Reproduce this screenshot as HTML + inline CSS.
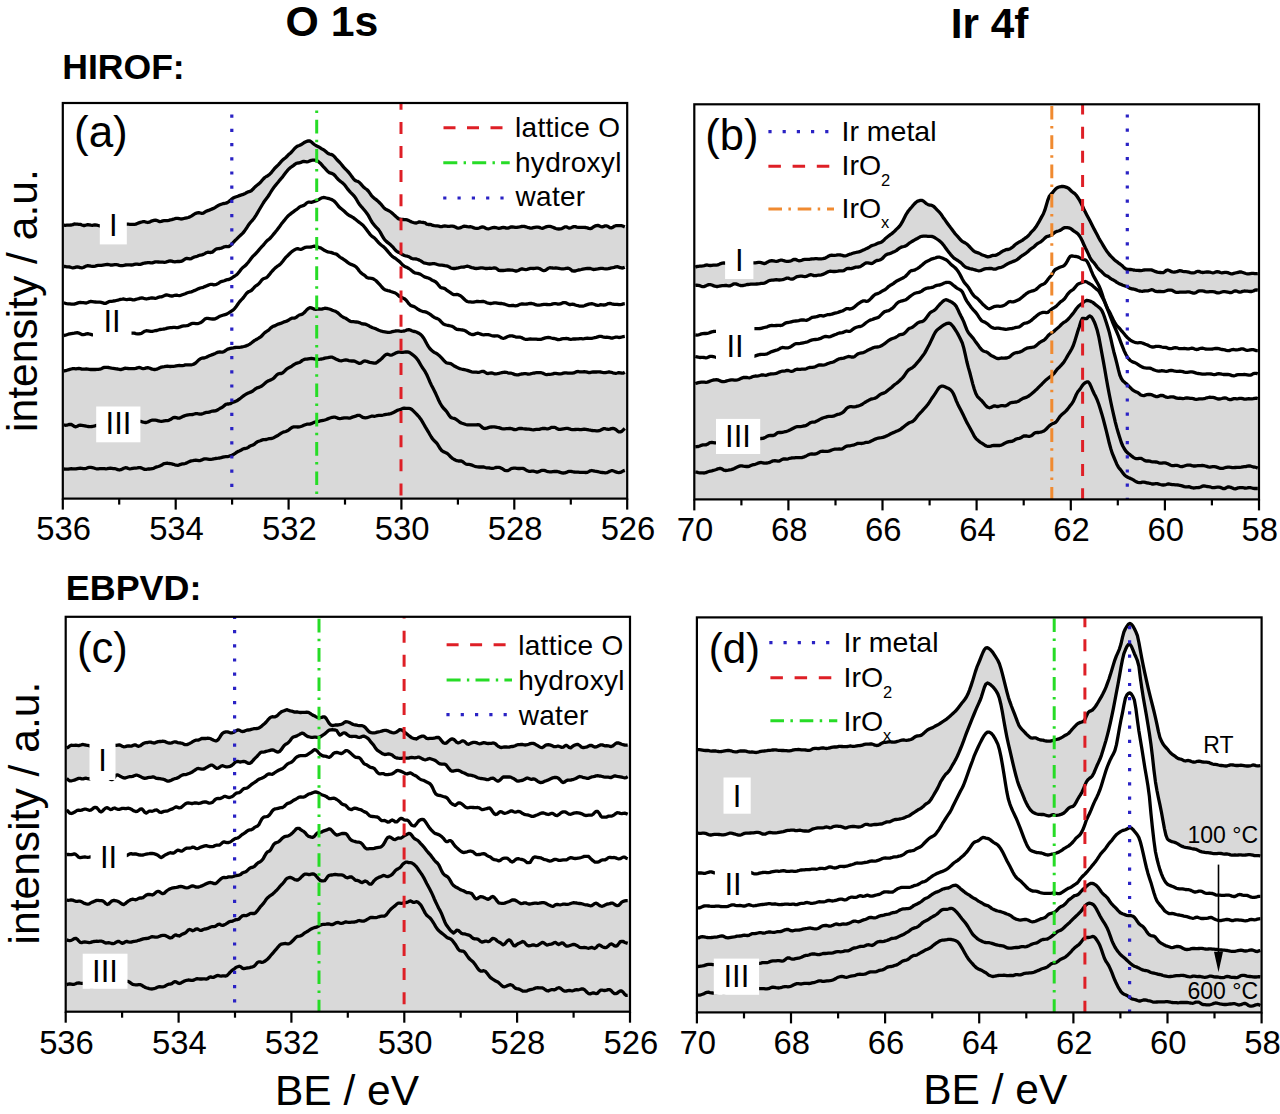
<!DOCTYPE html>
<html><head><meta charset="utf-8"><title>XPS spectra</title>
<style>html,body{margin:0;padding:0;background:#fff;overflow:hidden}svg{display:block}
text{font-family:"Liberation Sans",sans-serif}</style></head>
<body>
<svg width="1280" height="1114" viewBox="0 0 1280 1114">
<rect width="1280" height="1114" fill="#fff"/>
<g font-family="Liberation Sans, sans-serif" fill="#000">
<clipPath id="clipa"><rect x="62.8" y="103" width="564.4" height="395.6"/></clipPath>
<g clip-path="url(#clipa)">
<path d="M60.8,225.1 L63.8,225.1 65.3,225.3 66.8,225.2 68.3,225.1 69.8,225.2 71.3,225 72.8,224.6 74.3,224 75.8,224.1 77.3,224.2 78.8,224.3 80.3,224.3 81.8,225 83.3,225.5 84.8,225.5 86.3,225 87.8,224.6 89.3,224.8 90.8,225.2 92.3,225.3 93.8,225 95.3,224.9 96.8,225.1 98.3,225.5 99.8,225.9 101.3,226.1 102.8,226.2 104.3,226.2 105.8,225.9 107.3,225.7 108.8,225.5 110.3,225.2 111.8,225.1 113.3,225.2 114.8,225.3 116.3,225.1 117.8,225.1 119.3,225.2 120.8,225.4 122.3,225.5 123.8,225.1 125.3,224.4 126.8,224.1 128.3,224.2 129.8,224.3 131.3,224.3 132.8,224.4 134.3,224.4 135.8,224.1 137.3,223.5 138.8,222.9 140.3,222.4 141.8,222 143.3,221.6 144.8,221.7 146.3,222.2 147.8,222.5 149.3,222.2 150.8,221.4 152.3,220.8 153.8,220.4 155.3,220.2 156.8,220.4 158.3,221.1 159.8,221.6 161.3,221.4 162.8,220.9 164.3,220.6 165.8,220.6 167.3,220.6 168.8,220.3 170.3,219.9 171.8,219.6 173.3,219.2 174.8,218.7 176.3,218.4 177.8,218.4 179.3,218.7 180.8,219 182.3,218.9 183.8,218.5 185.3,218.1 186.8,217.8 188.3,217.5 189.8,216.9 191.3,216.1 192.8,215.1 194.3,214.1 195.8,213.3 197.3,212.9 198.8,212.6 200.3,213 201.8,213.4 203.3,213.2 204.8,212.2 206.3,211.2 207.8,210.6 209.3,210.1 210.8,209.5 212.3,208.9 213.8,208.3 215.3,207.4 216.8,206.4 218.3,205.5 219.8,204.8 221.3,204.2 222.8,203.7 224.3,203.5 225.8,203.2 227.3,202.6 228.8,201.6 230.3,200.4 231.8,199 233.3,197.9 234.8,197.2 236.3,196.7 237.8,196.2 239.3,195.6 240.8,195.1 242.3,194.7 243.8,194.1 245.3,193.4 246.8,192.5 248.3,191.8 249.8,191.4 251.3,190.7 252.8,189.3 254.3,187.6 255.8,186.2 257.3,185 258.8,183.9 260.3,182.5 261.8,180.7 263.3,179 264.8,177.5 266.3,176.5 267.8,175.7 269.3,174.7 270.8,173.2 272.3,171.3 273.8,169.4 275.3,167.7 276.8,166.3 278.3,164.9 279.8,163.2 281.3,161.4 282.8,159.8 284.3,158.7 285.8,157.5 287.3,156 288.8,154.4 290.3,153.2 291.8,151.8 293.3,150 294.8,148.2 296.3,146.9 297.8,146 299.3,145.5 300.8,144.8 302.3,143.8 303.8,142.8 305.3,142 306.8,141.4 308.3,140.9 309.8,141 311.3,141.9 312.8,143.3 314.3,144.5 315.8,145.5 317.3,146.2 318.8,146.9 320.3,147.8 321.8,148.8 323.3,149.7 324.8,150.7 326.3,151.9 327.8,153.2 329.3,154 330.8,154.4 332.3,154.9 333.8,156 335.3,157.7 336.8,159.5 338.3,161 339.8,162.5 341.3,164.3 342.8,166.1 344.3,167.8 345.8,169.4 347.3,170.9 348.8,172.5 350.3,174.4 351.8,176.6 353.3,178.6 354.8,180.2 356.3,181 357.8,181.4 359.3,182.3 360.8,183.9 362.3,185.7 363.8,187.3 365.3,188.5 366.8,189.5 368.3,191 369.8,193.1 371.3,195.3 372.8,197 374.3,198.3 375.8,199.4 377.3,200.6 378.8,202 380.3,203.5 381.8,205.2 383.3,207.1 384.8,208.6 386.3,209.6 387.8,210.3 389.3,211 390.8,212 392.3,213.2 393.8,214.6 395.3,216 396.8,217.4 398.3,218.6 399.8,219.2 401.3,219.4 402.8,219.5 404.3,219.7 405.8,219.7 407.3,219.9 408.8,220.6 410.3,221.4 411.8,222 413.3,222.5 414.8,222.9 416.3,223 417.8,222.5 419.3,221.8 420.8,222.1 422.3,222.3 423.8,222.5 425.3,222.9 426.8,224.2 428.3,224.5 429.8,224.4 431.3,224.7 432.8,225.4 434.3,225.7 435.8,225.8 437.3,225.9 438.8,226.2 440.3,226.6 441.8,226.6 443.3,226.2 444.8,226 446.3,226.1 447.8,226.3 449.3,226.3 450.8,226.1 452.3,226.1 453.8,226.4 455.3,227 456.8,227.8 458.3,228.2 459.8,227.9 461.3,227.4 462.8,226.6 464.3,226.2 465.8,226.3 467.3,226.7 468.8,226.8 470.3,226.7 471.8,227 473.3,227.6 474.8,228.1 476.3,228.3 477.8,228.3 479.3,228 480.8,227.3 482.3,226.9 483.8,227.1 485.3,228 486.8,228.7 488.3,228.8 489.8,228.5 491.3,228 492.8,227.6 494.3,227.4 495.8,227.6 497.3,228 498.8,228.4 500.3,228.2 501.8,227.6 503.3,227.3 504.8,227.6 506.3,228.1 507.8,228.1 509.3,227.6 510.8,227 512.3,226.8 513.8,227.1 515.3,227.4 516.8,227.3 518.3,227.1 519.8,226.9 521.3,226.5 522.8,226.3 524.3,226.4 525.8,226.8 527.3,227.3 528.8,227.7 530.3,228.1 531.8,228.1 533.3,227.7 534.8,227.3 536.3,227.1 537.8,227.1 539.3,227.4 540.8,228 542.3,228.3 543.8,227.9 545.3,227.1 546.8,226.6 548.3,226.4 549.8,226.4 551.3,226.7 552.8,227.3 554.3,227.9 555.8,228.5 557.3,228.9 558.8,229 560.3,228.9 561.8,228.6 563.3,227.8 564.8,226.9 566.3,226.8 567.8,227.5 569.3,228.1 570.8,227.9 572.3,227.1 573.8,226.6 575.3,226.7 576.8,227.1 578.3,227.3 579.8,227.4 581.3,227.4 582.8,227.3 584.3,227.3 585.8,227.5 587.3,227.9 588.8,228.4 590.3,228.6 591.8,228.1 593.3,227 594.8,226.1 596.3,225.6 597.8,225.4 599.3,225.9 600.8,226.6 602.3,226.9 603.8,226.4 605.3,225.8 606.8,225.9 608.3,226.6 609.8,227.6 611.3,227.9 612.8,227.3 614.3,226.2 615.8,225.7 617.3,225.6 618.8,225.6 620.3,225.6 621.8,225.7 623.3,226.3 624.8,227 L627.8,227 L627.8,500.6 L60.8,500.6 Z" fill="#d9d9d9"/>
<path d="M60.8,266.5 L63.8,266.5 65.3,266.5 66.8,266.8 68.3,266.9 69.8,267 71.3,267.5 72.8,267.9 74.3,267.7 75.8,267.1 77.3,266.8 78.8,267.1 80.3,267.7 81.8,267.9 83.3,267.5 84.8,266.7 86.3,266 87.8,265.7 89.3,265.8 90.8,266.2 92.3,266.4 93.8,266.4 95.3,266.1 96.8,265.7 98.3,265.4 99.8,265.3 101.3,265.3 102.8,265.1 104.3,264.9 105.8,264.7 107.3,264.5 108.8,264.7 110.3,265 111.8,265.2 113.3,264.9 114.8,264.7 116.3,264.7 117.8,264.9 119.3,265.3 120.8,265.6 122.3,265.6 123.8,265.4 125.3,265 126.8,264.8 128.3,264.8 129.8,264.9 131.3,265 132.8,264.8 134.3,264.4 135.8,264.1 137.3,264.2 138.8,264.4 140.3,264.3 141.8,263.9 143.3,263.3 144.8,263 146.3,262.8 147.8,262.6 149.3,262.6 150.8,262.9 152.3,262.9 153.8,262.4 155.3,261.9 156.8,261.8 158.3,262 159.8,262.2 161.3,262.2 162.8,262.2 164.3,262.3 165.8,262.1 167.3,261.7 168.8,261.1 170.3,260.8 171.8,261.1 173.3,261.7 174.8,261.9 176.3,261.7 177.8,261.5 179.3,261.5 180.8,261.4 182.3,260.9 183.8,259.8 185.3,258.8 186.8,258.3 188.3,258.6 189.8,258.9 191.3,258.6 192.8,257.7 194.3,257 195.8,256.7 197.3,256.2 198.8,255.5 200.3,255.1 201.8,254.8 203.3,254.4 204.8,253.6 206.3,252.7 207.8,252.2 209.3,252.3 210.8,252.5 212.3,252.1 213.8,250.9 215.3,249.6 216.8,248.8 218.3,248.6 219.8,248.5 221.3,248.1 222.8,247.5 224.3,246.8 225.8,246.5 227.3,246.6 228.8,246.5 230.3,245.6 231.8,244.1 233.3,242.4 234.8,240.8 236.3,239.4 237.8,237.9 239.3,236.4 240.8,235 242.3,233.6 243.8,232 245.3,229.9 246.8,227.7 248.3,225.3 249.8,223.3 251.3,221.5 252.8,219.8 254.3,217.9 255.8,215.6 257.3,213.1 258.8,210.5 260.3,208 261.8,205.5 263.3,203 264.8,200.7 266.3,198.7 267.8,196.7 269.3,194.5 270.8,192 272.3,189.6 273.8,187.5 275.3,185.6 276.8,183.8 278.3,182 279.8,180.1 281.3,178.3 282.8,176.6 284.3,174.6 285.8,172.6 287.3,170.7 288.8,169 290.3,167.7 291.8,166.7 293.3,165.6 294.8,164.4 296.3,163.4 297.8,163 299.3,162.8 300.8,162.4 302.3,161.7 303.8,161.4 305.3,161.6 306.8,161.8 308.3,161.6 309.8,160.9 311.3,160.4 312.8,160.2 314.3,160.2 315.8,160.4 317.3,161 318.8,161.9 320.3,163.2 321.8,164.9 323.3,166.6 324.8,168.2 326.3,169.8 327.8,171.5 329.3,172.6 330.8,173.1 332.3,173.6 333.8,174.5 335.3,176 336.8,177.9 338.3,179.5 339.8,180.9 341.3,182 342.8,183.1 344.3,184.6 345.8,186.5 347.3,188.6 348.8,190.4 350.3,192.1 351.8,193.6 353.3,195.2 354.8,196.9 356.3,199.2 357.8,201.8 359.3,204.2 360.8,206.1 362.3,207.7 363.8,209.5 365.3,211.3 366.8,213.2 368.3,215.4 369.8,218.2 371.3,221 372.8,223.3 374.3,225.1 375.8,226.8 377.3,228.4 378.8,230 380.3,232.4 381.8,235.1 383.3,237.8 384.8,239.9 386.3,241.4 387.8,242.6 389.3,243.8 390.8,245.1 392.3,246.5 393.8,248.2 395.3,250 396.8,251.4 398.3,252.2 399.8,252.8 401.3,253.8 402.8,254.8 404.3,255.5 405.8,255.9 407.3,256.2 408.8,256.7 410.3,257.6 411.8,258.5 413.3,258.8 414.8,258.8 416.3,259 417.8,259.5 419.3,260.1 420.8,260.9 422.3,261.9 423.8,262.8 425.3,263.2 426.8,263.5 428.3,263.8 429.8,264 431.3,263.9 432.8,263.7 434.3,263.7 435.8,264 437.3,264.5 438.8,264.9 440.3,265.1 441.8,265.1 443.3,265.3 444.8,265.7 446.3,265.9 447.8,266.2 449.3,266.9 450.8,268 452.3,268.3 453.8,268.5 455.3,268.5 456.8,268.1 458.3,267.9 459.8,267.5 461.3,267.2 462.8,267.1 464.3,267 465.8,266.5 467.3,266.2 468.8,266.5 470.3,267.1 471.8,267.6 473.3,267.9 474.8,268.3 476.3,268.5 477.8,268.4 479.3,268.1 480.8,267.8 482.3,267.8 483.8,268.1 485.3,268.5 486.8,268.5 488.3,268.3 489.8,268.2 491.3,268.3 492.8,268.2 494.3,267.9 495.8,268.2 497.3,269.2 498.8,270.3 500.3,270.5 501.8,270.4 503.3,270.5 504.8,270.4 506.3,270.1 507.8,269.9 509.3,270 510.8,270.2 512.3,270.2 513.8,270.5 515.3,271 516.8,271 518.3,270.5 519.8,269.6 521.3,269 522.8,269 524.3,269.4 525.8,269.6 527.3,269.4 528.8,268.8 530.3,268.4 531.8,268.4 533.3,268.5 534.8,268.4 536.3,268.2 537.8,268.1 539.3,268.5 540.8,269.3 542.3,270.2 543.8,270.7 545.3,270.4 546.8,269.4 548.3,268.2 549.8,267.7 551.3,267.8 552.8,268 554.3,268.1 555.8,268 557.3,268.1 558.8,268.4 560.3,268.7 561.8,268.9 563.3,268.9 564.8,268.7 566.3,268.4 567.8,268.2 569.3,268.5 570.8,269.6 572.3,270.9 573.8,271 575.3,271 576.8,270.5 578.3,270 579.8,269.8 581.3,269.5 582.8,269.1 584.3,268.9 585.8,268.7 587.3,268.5 588.8,268.3 590.3,268.5 591.8,269 593.3,269.5 594.8,269.4 596.3,269.1 597.8,268.9 599.3,268.6 600.8,268.3 602.3,268.4 603.8,268.7 605.3,268.9 606.8,268.9 608.3,268.7 609.8,268.3 611.3,267.9 612.8,267.7 614.3,267.4 615.8,266.8 617.3,266.7 618.8,267.1 620.3,267.7 621.8,268 623.3,267.8 624.8,267.2 L627.8,267.2 L627.8,500.6 L60.8,500.6 Z" fill="#ffffff"/>
<path d="M60.8,302.8 L63.8,302.8 65.3,303.3 66.8,303.6 68.3,303.8 69.8,303.9 71.3,304.1 72.8,304.2 74.3,304.1 75.8,303.7 77.3,303.1 78.8,302.6 80.3,302.4 81.8,302.6 83.3,302.7 84.8,302.9 86.3,303 87.8,302.5 89.3,301.8 90.8,301.4 92.3,301.6 93.8,301.9 95.3,302 96.8,302.1 98.3,302.2 99.8,302.2 101.3,302.4 102.8,302.8 104.3,303.4 105.8,303.3 107.3,302.5 108.8,301.7 110.3,301.4 111.8,301.3 113.3,301 114.8,300.8 116.3,300.5 117.8,300.2 119.3,299.7 120.8,299.3 122.3,299.2 123.8,299 125.3,299.4 126.8,299.6 128.3,299.4 129.8,299.2 131.3,299.4 132.8,299.8 134.3,299.8 135.8,299.4 137.3,299 138.8,298.6 140.3,298.1 141.8,297.9 143.3,298.2 144.8,298.7 146.3,299 147.8,298.7 149.3,298.3 150.8,298 152.3,297.9 153.8,298.1 155.3,298.4 156.8,298 158.3,297.3 159.8,296.9 161.3,296.8 162.8,296.4 164.3,295.6 165.8,295 167.3,295 168.8,295.4 170.3,295.8 171.8,296 173.3,295.8 174.8,295.3 176.3,295.1 177.8,295.4 179.3,295.6 180.8,295.3 182.3,294.7 183.8,294.2 185.3,293.7 186.8,293 188.3,292.5 189.8,292.2 191.3,291.9 192.8,291.3 194.3,290.6 195.8,290 197.3,289.3 198.8,288.6 200.3,288 201.8,287.7 203.3,287.3 204.8,286.6 206.3,286 207.8,285.4 209.3,284.8 210.8,284.3 212.3,284.4 213.8,284.8 215.3,284.7 216.8,284.2 218.3,283.3 219.8,282.3 221.3,281.6 222.8,281.2 224.3,280.7 225.8,280.1 227.3,279.7 228.8,279.5 230.3,278.9 231.8,278 233.3,276.9 234.8,276 236.3,275 237.8,273.6 239.3,271.7 240.8,269.7 242.3,268 243.8,266.8 245.3,265.6 246.8,264 248.3,262.2 249.8,260.3 251.3,258.2 252.8,256.4 254.3,255 255.8,253.5 257.3,251.9 258.8,250.1 260.3,248.3 261.8,246.7 263.3,245.1 264.8,243.3 266.3,241.4 267.8,240.1 269.3,239 270.8,237.5 272.3,235.7 273.8,233.9 275.3,232.1 276.8,230.2 278.3,228.2 279.8,226.2 281.3,224.1 282.8,222.2 284.3,220.4 285.8,218.5 287.3,216.7 288.8,215.3 290.3,214.1 291.8,212.9 293.3,211.8 294.8,210.7 296.3,209.7 297.8,208.5 299.3,207.2 300.8,206.3 302.3,205.9 303.8,205.4 305.3,204.3 306.8,202.9 308.3,202.1 309.8,202.2 311.3,202.3 312.8,201.9 314.3,201.4 315.8,200.9 317.3,200.4 318.8,199.6 320.3,198.7 321.8,197.8 323.3,197.5 324.8,197.7 326.3,198 327.8,198.3 329.3,198.7 330.8,199.3 332.3,199.9 333.8,200.8 335.3,202.2 336.8,204.1 338.3,206 339.8,207.6 341.3,208.8 342.8,210 344.3,211.3 345.8,212.7 347.3,214.1 348.8,215.2 350.3,216 351.8,216.8 353.3,217.7 354.8,218.8 356.3,220 357.8,221.2 359.3,222.4 360.8,223.5 362.3,224.7 363.8,226.2 365.3,228 366.8,230 368.3,232.1 369.8,234.1 371.3,235.7 372.8,236.9 374.3,237.9 375.8,239.4 377.3,241.2 378.8,242.9 380.3,244.3 381.8,245.5 383.3,246.6 384.8,247.9 386.3,249.6 387.8,251.4 389.3,253.2 390.8,254.9 392.3,256.4 393.8,257.5 395.3,258.3 396.8,259.5 398.3,260.7 399.8,261.8 401.3,263.5 402.8,265.2 404.3,266.2 405.8,266.9 407.3,267.6 408.8,268.5 410.3,269.5 411.8,270.7 413.3,272 414.8,272.9 416.3,273.2 417.8,273.4 419.3,273.8 420.8,274.5 422.3,275.5 423.8,276.5 425.3,277.2 426.8,277.6 428.3,278 429.8,278.7 431.3,279.7 432.8,280.5 434.3,281.1 435.8,282 437.3,283.5 438.8,285.4 440.3,287.2 441.8,287.9 443.3,288.1 444.8,288.6 446.3,289.8 447.8,290.9 449.3,291.9 450.8,292.9 452.3,294 453.8,294.6 455.3,294.6 456.8,294.5 458.3,294.7 459.8,295.4 461.3,296.4 462.8,297.8 464.3,299.2 465.8,300.6 467.3,301.5 468.8,301.8 470.3,301.9 471.8,302.1 473.3,302.1 474.8,301.8 476.3,301.5 477.8,301.4 479.3,301.6 480.8,301.6 482.3,301.4 483.8,301.5 485.3,302 486.8,302.7 488.3,303.2 489.8,303.5 491.3,303.5 492.8,303.2 494.3,302.8 495.8,302.8 497.3,303.1 498.8,303.4 500.3,303.5 501.8,303.5 503.3,303.8 504.8,304.2 506.3,304.7 507.8,305.2 509.3,305.7 510.8,305.7 512.3,305.4 513.8,305.5 515.3,305.9 516.8,305.7 518.3,305.1 519.8,304.4 521.3,304 522.8,304 524.3,304.1 525.8,304.2 527.3,304 528.8,303.6 530.3,303.4 531.8,303.5 533.3,303.8 534.8,304.4 536.3,304.9 537.8,305.2 539.3,305.1 540.8,304.9 542.3,304.6 543.8,304.4 545.3,304.4 546.8,304.5 548.3,304.6 549.8,304.6 551.3,304.4 552.8,303.9 554.3,303.7 555.8,303.7 557.3,304 558.8,304.1 560.3,303.9 561.8,303.2 563.3,302.6 564.8,302.6 566.3,302.9 567.8,303.8 569.3,304.5 570.8,304.5 572.3,304.2 573.8,304.4 575.3,305 576.8,305.4 578.3,305.7 579.8,306.2 581.3,306.2 582.8,306.2 584.3,305.7 585.8,305.1 587.3,304.6 588.8,304.1 590.3,303.8 591.8,303.7 593.3,304 594.8,304.5 596.3,305.2 597.8,305.4 599.3,305.1 600.8,304.7 602.3,304.8 603.8,305 605.3,304.9 606.8,304.3 608.3,303.6 609.8,303.4 611.3,303.7 612.8,304.2 614.3,304.4 615.8,304.3 617.3,304.4 618.8,304.7 620.3,304.7 621.8,304.4 623.3,303.9 624.8,303.7 L627.8,303.7 L627.8,500.6 L60.8,500.6 Z" fill="#ffffff"/>
<path d="M60.8,335.6 L63.8,335.6 65.3,335.2 66.8,334.7 68.3,334.2 69.8,333.9 71.3,333.6 72.8,333.4 74.3,333.2 75.8,332.9 77.3,332.7 78.8,333.1 80.3,333.8 81.8,334.5 83.3,334.6 84.8,334.3 86.3,333.9 87.8,333.7 89.3,334 90.8,334.4 92.3,334.8 93.8,334.7 95.3,333.9 96.8,333 98.3,332.4 99.8,332.5 101.3,333.1 102.8,333.7 104.3,333.8 105.8,333.8 107.3,334 108.8,334.1 110.3,333.8 111.8,333.5 113.3,333.6 114.8,334.1 116.3,334.6 117.8,335.1 119.3,335.3 120.8,335.2 122.3,334.8 123.8,333.9 125.3,333.2 126.8,333 128.3,333.1 129.8,333.3 131.3,333.2 132.8,333.1 134.3,333.2 135.8,333.6 137.3,333.8 138.8,333.9 140.3,333.7 141.8,333.2 143.3,332.2 144.8,331.2 146.3,330.7 147.8,330.8 149.3,331.1 150.8,331.4 152.3,331.3 153.8,331 155.3,330.7 156.8,330.5 158.3,330 159.8,329.5 161.3,329.3 162.8,329.2 164.3,329 165.8,328.6 167.3,328.1 168.8,327.8 170.3,327.7 171.8,327.6 173.3,327.4 174.8,327.4 176.3,327.6 177.8,327.6 179.3,327.2 180.8,326.6 182.3,326.1 183.8,325.8 185.3,325.8 186.8,325.7 188.3,325.3 189.8,324.5 191.3,323.7 192.8,323.4 194.3,323.4 195.8,323.6 197.3,323.6 198.8,323.3 200.3,322.8 201.8,321.9 203.3,320.6 204.8,319.1 206.3,318.4 207.8,318.3 209.3,318.6 210.8,318.9 212.3,319 213.8,319 215.3,318.8 216.8,318.1 218.3,317.1 219.8,316.3 221.3,315.8 222.8,315.3 224.3,314.8 225.8,314.4 227.3,313.7 228.8,312.8 230.3,311.8 231.8,310.8 233.3,309.8 234.8,308.3 236.3,306.4 237.8,304.2 239.3,302.1 240.8,300.4 242.3,298.9 243.8,297.1 245.3,295 246.8,293.1 248.3,291.9 249.8,291.3 251.3,290.5 252.8,289 254.3,287.3 255.8,285.9 257.3,285 258.8,283.8 260.3,281.9 261.8,280 263.3,278.7 264.8,278.2 266.3,277.7 267.8,276.4 269.3,274.7 270.8,272.7 272.3,271 273.8,269.4 275.3,267.9 276.8,266.7 278.3,265.7 279.8,264.6 281.3,263.1 282.8,261.2 284.3,259.2 285.8,257.4 287.3,256 288.8,254.5 290.3,253 291.8,251.6 293.3,250.6 294.8,249.7 296.3,248.9 297.8,248.7 299.3,249.1 300.8,249.3 302.3,248.9 303.8,248 305.3,247.4 306.8,247.2 308.3,247.2 309.8,247.1 311.3,247 312.8,246.5 314.3,246.1 315.8,246.3 317.3,246.9 318.8,247.4 320.3,247.8 321.8,248.6 323.3,249.6 324.8,250.6 326.3,251.3 327.8,251.9 329.3,252.2 330.8,252.4 332.3,252.9 333.8,253.5 335.3,253.8 336.8,254.4 338.3,255.6 339.8,257 341.3,258 342.8,258.8 344.3,259.8 345.8,260.9 347.3,262.1 348.8,263.3 350.3,264.1 351.8,264.6 353.3,265.2 354.8,266 356.3,267.1 357.8,268.8 359.3,271 360.8,272.7 362.3,273.8 363.8,274.8 365.3,276.1 366.8,277.4 368.3,278.1 369.8,278.2 371.3,278.3 372.8,278.6 374.3,279.5 375.8,280.5 377.3,282 378.8,283.6 380.3,285.2 381.8,287 383.3,288.6 384.8,289.7 386.3,290.2 387.8,290.6 389.3,290.9 390.8,291.5 392.3,292 393.8,292.5 395.3,293 396.8,294 398.3,295.4 399.8,296.6 401.3,297.4 402.8,298 404.3,298.7 405.8,299.8 407.3,301.6 408.8,303.7 410.3,305.2 411.8,305.9 413.3,306.3 414.8,307 416.3,308 417.8,309.1 419.3,310 420.8,310.8 422.3,311.3 423.8,311.6 425.3,311.9 426.8,312.4 428.3,313.2 429.8,314.1 431.3,315.2 432.8,316.4 434.3,317.4 435.8,318.1 437.3,318.6 438.8,319.4 440.3,320.8 441.8,322.5 443.3,323.9 444.8,324.6 446.3,325 447.8,325.3 449.3,325.7 450.8,326 452.3,326.4 453.8,327.2 455.3,328.5 456.8,329.4 458.3,329.5 459.8,329.6 461.3,329.8 462.8,330 464.3,330.4 465.8,331.1 467.3,332.2 468.8,333.2 470.3,334 471.8,334.5 473.3,334.6 474.8,334.1 476.3,333.5 477.8,333.2 479.3,333.5 480.8,334.2 482.3,334.6 483.8,334.8 485.3,334.7 486.8,334.6 488.3,334.6 489.8,335 491.3,335.5 492.8,335.9 494.3,336 495.8,335.8 497.3,335.8 498.8,336.3 500.3,337.1 501.8,338 503.3,338.3 504.8,338 506.3,337.2 507.8,336.5 509.3,336 510.8,335.8 512.3,335.9 513.8,336.3 515.3,336.8 516.8,337.1 518.3,337.1 519.8,337.1 521.3,337.5 522.8,338.3 524.3,339 525.8,339.3 527.3,339.3 528.8,339.1 530.3,339 531.8,339.2 533.3,339.2 534.8,339.1 536.3,339.2 537.8,339.4 539.3,339.4 540.8,339.3 542.3,338.9 543.8,338.4 545.3,337.9 546.8,337.6 548.3,337.4 549.8,337.6 551.3,338 552.8,338.3 554.3,338.5 555.8,338.9 557.3,339.5 558.8,339.7 560.3,339.4 561.8,338.9 563.3,338.7 564.8,338.6 566.3,338.5 567.8,338.6 569.3,339.1 570.8,339.4 572.3,339.2 573.8,338.9 575.3,339 576.8,338.9 578.3,338.8 579.8,338.6 581.3,338.7 582.8,338.8 584.3,338.6 585.8,338.3 587.3,338.2 588.8,338.4 590.3,338.4 591.8,338.3 593.3,338 594.8,337.7 596.3,337.4 597.8,336.8 599.3,336.4 600.8,336.3 602.3,336.7 603.8,337.2 605.3,337.3 606.8,337.2 608.3,337.3 609.8,337.7 611.3,338.1 612.8,338 614.3,337.5 615.8,337.1 617.3,337.2 618.8,337.5 620.3,337.4 621.8,337 623.3,336.6 624.8,336.4 L627.8,336.4 L627.8,500.6 L60.8,500.6 Z" fill="#ffffff"/>
<path d="M60.8,371.1 L63.8,371.1 65.3,370.7 66.8,370.3 68.3,369.8 69.8,369.4 71.3,369 72.8,368.7 74.3,368.7 75.8,368.8 77.3,368.6 78.8,368.5 80.3,368.7 81.8,369.1 83.3,369.1 84.8,369.1 86.3,369 87.8,369.1 89.3,369.3 90.8,369.5 92.3,369.5 93.8,369.4 95.3,369.5 96.8,369.4 98.3,369.3 99.8,369.2 101.3,368.7 102.8,367.9 104.3,367.4 105.8,367.3 107.3,367.3 108.8,367.5 110.3,367.9 111.8,368.2 113.3,368.4 114.8,368.6 116.3,368.8 117.8,369 119.3,369.3 120.8,369.6 122.3,369.2 123.8,368.6 125.3,368.2 126.8,368.3 128.3,368.5 129.8,368.6 131.3,368.6 132.8,368.6 134.3,368.6 135.8,368.4 137.3,367.9 138.8,367.5 140.3,367.7 141.8,368.3 143.3,368.7 144.8,368.4 146.3,367.9 147.8,367.7 149.3,368 150.8,368.6 152.3,369.2 153.8,369.5 155.3,369.5 156.8,369.1 158.3,368.5 159.8,367.7 161.3,367.1 162.8,366.8 164.3,366.6 165.8,366.3 167.3,366.2 168.8,366.4 170.3,366.5 171.8,366.4 173.3,366.4 174.8,366.2 176.3,365.9 177.8,365.6 179.3,365.5 180.8,365.6 182.3,365.6 183.8,365.3 185.3,364.9 186.8,364.8 188.3,364.9 189.8,364.9 191.3,364.8 192.8,364.5 194.3,363.9 195.8,362.8 197.3,361.3 198.8,359.8 200.3,358.8 201.8,358.2 203.3,358 204.8,357.8 206.3,357.3 207.8,356.5 209.3,355.8 210.8,355.2 212.3,354.6 213.8,354.1 215.3,353.4 216.8,352.6 218.3,352.1 219.8,352 221.3,352.2 222.8,352.1 224.3,351.4 225.8,350.3 227.3,349.4 228.8,348.8 230.3,348.4 231.8,348.1 233.3,347.9 234.8,347.5 236.3,347.3 237.8,347.3 239.3,347.3 240.8,347.2 242.3,346.8 243.8,346.5 245.3,346.1 246.8,345.6 248.3,344.9 249.8,344.1 251.3,343 252.8,341.8 254.3,340.7 255.8,339.8 257.3,339 258.8,338 260.3,337.1 261.8,335.9 263.3,334.2 264.8,332.7 266.3,331.6 267.8,330.7 269.3,329.4 270.8,327.9 272.3,326.8 273.8,326.1 275.3,325.6 276.8,324.8 278.3,324.1 279.8,323.6 281.3,323.1 282.8,322.5 284.3,321.8 285.8,321.4 287.3,320.9 288.8,320 290.3,318.9 291.8,318.2 293.3,318.1 294.8,318 296.3,317.3 297.8,316 299.3,315 300.8,314.6 302.3,314.1 303.8,313 305.3,311.5 306.8,309.7 308.3,308.4 309.8,307.7 311.3,307.9 312.8,308.5 314.3,309.1 315.8,309.3 317.3,309.1 318.8,308.9 320.3,309.1 321.8,309.1 323.3,308.7 324.8,308.2 326.3,308.3 327.8,308.7 329.3,309 330.8,309.5 332.3,310.2 333.8,310.8 335.3,311.3 336.8,312.1 338.3,313.2 339.8,314.6 341.3,316 342.8,317 344.3,317.7 345.8,318.3 347.3,319.4 348.8,320.5 350.3,321.3 351.8,321.6 353.3,321.6 354.8,321.8 356.3,322 357.8,322.2 359.3,322.6 360.8,323.3 362.3,323.9 363.8,324 365.3,324.1 366.8,324.7 368.3,325.4 369.8,326.4 371.3,327.1 372.8,327.7 374.3,328.2 375.8,328.8 377.3,329.6 378.8,330.3 380.3,330.8 381.8,331.2 383.3,331.7 384.8,331.9 386.3,332.1 387.8,332.3 389.3,332.3 390.8,332.1 392.3,331.7 393.8,331.3 395.3,331 396.8,330.8 398.3,330.9 399.8,331.2 401.3,331.3 402.8,331.2 404.3,331 405.8,330.5 407.3,329.8 408.8,329.6 410.3,330 411.8,330.7 413.3,331.3 414.8,331.5 416.3,332 417.8,332.7 419.3,333.5 420.8,334.6 422.3,336.2 423.8,338.3 425.3,340.9 426.8,343.8 428.3,346.4 429.8,348.5 431.3,350 432.8,351.4 434.3,352.4 435.8,353.1 437.3,354 438.8,355.2 440.3,356.7 441.8,358.2 443.3,359.8 444.8,361.5 446.3,362.7 447.8,363.2 449.3,363.3 450.8,363.7 452.3,364.7 453.8,365.7 455.3,366.5 456.8,367.3 458.3,368 459.8,368.6 461.3,369 462.8,369.3 464.3,369.6 465.8,370 467.3,370.4 468.8,370.9 470.3,371.4 471.8,371.8 473.3,372.1 474.8,372.1 476.3,372.1 477.8,372.3 479.3,372.3 480.8,371.8 482.3,371.3 483.8,371.5 485.3,372.4 486.8,373.3 488.3,373.5 489.8,373.2 491.3,373 492.8,373.2 494.3,373.8 495.8,373.9 497.3,373.7 498.8,373.4 500.3,373 501.8,372.7 503.3,372.4 504.8,372.2 506.3,372.3 507.8,372.8 509.3,373.2 510.8,373.2 512.3,373.5 513.8,374.1 515.3,374.7 516.8,374.9 518.3,374.8 519.8,374.4 521.3,374 522.8,373.8 524.3,373.6 525.8,373.7 527.3,374 528.8,374.1 530.3,373.9 531.8,373.5 533.3,373.2 534.8,373 536.3,372.7 537.8,372.6 539.3,372.6 540.8,372.7 542.3,373 543.8,373.6 545.3,374.4 546.8,374.6 548.3,374.4 549.8,374.3 551.3,374.2 552.8,373.9 554.3,373.4 555.8,373.4 557.3,373.6 558.8,373.8 560.3,373.9 561.8,373.6 563.3,373.2 564.8,372.8 566.3,372.9 567.8,373.1 569.3,373.1 570.8,373.2 572.3,373.2 573.8,372.9 575.3,372.2 576.8,371.6 578.3,371.5 579.8,371.8 581.3,371.9 582.8,371.9 584.3,371.7 585.8,371.8 587.3,372.2 588.8,372.6 590.3,372.5 591.8,372.1 593.3,371.8 594.8,372 596.3,372 597.8,371.9 599.3,371.8 600.8,372 602.3,372.4 603.8,372.6 605.3,372.6 606.8,372.3 608.3,372 609.8,372 611.3,372.3 612.8,372.8 614.3,373.1 615.8,373.3 617.3,373 618.8,372.6 620.3,372.8 621.8,373.2 623.3,373.1 624.8,372.3 L627.8,372.3 L627.8,500.6 L60.8,500.6 Z" fill="#d9d9d9"/>
<path d="M60.8,424.8 L63.8,424.8 65.3,425.3 66.8,425.2 68.3,424.7 69.8,424.3 71.3,424.5 72.8,425.4 74.3,426.4 75.8,426.8 77.3,426.2 78.8,425.4 80.3,425.2 81.8,425.4 83.3,425.6 84.8,425.8 86.3,426.2 87.8,426.5 89.3,426.6 90.8,426.6 92.3,426.5 93.8,426.2 95.3,425.7 96.8,425.5 98.3,425.5 99.8,425.7 101.3,425.8 102.8,426 104.3,426.2 105.8,426.1 107.3,426 108.8,426.1 110.3,426.4 111.8,426.2 113.3,425.4 114.8,424.7 116.3,424.8 117.8,425.6 119.3,426.1 120.8,426 122.3,425.4 123.8,424.6 125.3,424.1 126.8,423.9 128.3,423.6 129.8,423.6 131.3,423.7 132.8,423.4 134.3,422.6 135.8,422 137.3,421.6 138.8,421.3 140.3,421.3 141.8,421.7 143.3,422.2 144.8,422.5 146.3,422.5 147.8,422 149.3,421.2 150.8,420.5 152.3,420.2 153.8,420.1 155.3,420.2 156.8,420.4 158.3,420.8 159.8,421.2 161.3,421.4 162.8,421.2 164.3,420.9 165.8,420.7 167.3,420.6 168.8,420.3 170.3,419.6 171.8,418.6 173.3,417.7 174.8,417.4 176.3,417.7 177.8,418.1 179.3,418.1 180.8,417.5 182.3,416.8 183.8,416.1 185.3,415.5 186.8,415.1 188.3,414.8 189.8,414.7 191.3,414.7 192.8,414.5 194.3,414 195.8,413.6 197.3,413.7 198.8,414 200.3,414.1 201.8,414 203.3,413.5 204.8,412.8 206.3,412.4 207.8,412.4 209.3,412.2 210.8,411.5 212.3,411.1 213.8,411 215.3,410.9 216.8,410.4 218.3,409.5 219.8,408.5 221.3,407.8 222.8,406.9 224.3,405.6 225.8,404.4 227.3,404 228.8,404 230.3,403.7 231.8,402.9 233.3,402.1 234.8,401.6 236.3,401 237.8,400.2 239.3,399.1 240.8,398 242.3,396.8 243.8,395.6 245.3,394.6 246.8,393.8 248.3,393.1 249.8,392.4 251.3,391.9 252.8,391 254.3,389.8 255.8,388.6 257.3,387.8 258.8,387.4 260.3,386.8 261.8,386 263.3,384.8 264.8,383.4 266.3,382.1 267.8,381.1 269.3,380.5 270.8,379.9 272.3,379.1 273.8,378.1 275.3,376.5 276.8,374.8 278.3,373.8 279.8,373.5 281.3,373.5 282.8,372.8 284.3,371.4 285.8,369.8 287.3,368.6 288.8,367.8 290.3,367.1 291.8,366.1 293.3,365 294.8,364.1 296.3,363.3 297.8,362.9 299.3,362.5 300.8,361.6 302.3,360.4 303.8,359.6 305.3,359.2 306.8,359.2 308.3,358.9 309.8,358.6 311.3,358.5 312.8,358.7 314.3,358.9 315.8,359.1 317.3,359.3 318.8,359.3 320.3,359.2 321.8,359 323.3,358.6 324.8,358.1 326.3,357.9 327.8,357.7 329.3,357.4 330.8,357.1 332.3,357.2 333.8,357.9 335.3,358.7 336.8,359.4 338.3,360.1 339.8,360.7 341.3,360.8 342.8,360.5 344.3,360.2 345.8,360 347.3,360.2 348.8,360.6 350.3,360.9 351.8,361 353.3,361 354.8,361.2 356.3,361.9 357.8,362.8 359.3,363.4 360.8,363.1 362.3,362.1 363.8,361.1 365.3,361 366.8,361.3 368.3,361.9 369.8,362.4 371.3,362.6 372.8,362.8 374.3,363.2 375.8,363 377.3,362.1 378.8,360.9 380.3,359.8 381.8,358.5 383.3,356.9 384.8,355.3 386.3,354.3 387.8,354.2 389.3,354.8 390.8,355.1 392.3,354.8 393.8,354.1 395.3,353.3 396.8,352.6 398.3,352.2 399.8,352.2 401.3,352.4 402.8,352.3 404.3,352.1 405.8,351.9 407.3,352 408.8,352.2 410.3,353 411.8,354.1 413.3,355.3 414.8,356.6 416.3,357.9 417.8,359.9 419.3,362.4 420.8,365 422.3,367.5 423.8,369.6 425.3,371.9 426.8,374.8 428.3,378.1 429.8,381.7 431.3,384.9 432.8,387.8 434.3,390.7 435.8,393.8 437.3,397.2 438.8,400.5 440.3,403.5 441.8,406 443.3,408 444.8,409.5 446.3,411.1 447.8,413.3 449.3,415.7 450.8,417.4 452.3,418 453.8,418.3 455.3,418.9 456.8,419.9 458.3,421 459.8,422.2 461.3,423 462.8,423.5 464.3,424 465.8,424.5 467.3,424.8 468.8,424.8 470.3,424.9 471.8,424.8 473.3,424.9 474.8,424.9 476.3,424.8 477.8,424.6 479.3,424.9 480.8,426 482.3,427.5 483.8,428.4 485.3,428.5 486.8,428.1 488.3,427.6 489.8,427.2 491.3,427 492.8,426.8 494.3,426.8 495.8,427.1 497.3,427.4 498.8,427.6 500.3,428.1 501.8,428.6 503.3,428.9 504.8,428.8 506.3,428.7 507.8,428.6 509.3,428.5 510.8,428.5 512.3,428.9 513.8,429.5 515.3,429.7 516.8,429.3 518.3,428.7 519.8,428.4 521.3,428.5 522.8,428.7 524.3,428.8 525.8,429 527.3,429.2 528.8,429.2 530.3,429.4 531.8,429.7 533.3,429.8 534.8,429.6 536.3,429.4 537.8,429.4 539.3,429.3 540.8,428.9 542.3,428.5 543.8,428.4 545.3,428.5 546.8,428.8 548.3,428.8 549.8,428.3 551.3,427.4 552.8,427.3 554.3,427.3 555.8,427.8 557.3,428.8 558.8,429.4 560.3,429.4 561.8,429.1 563.3,428.8 564.8,428.6 566.3,428.4 567.8,428.4 569.3,428.8 570.8,429.4 572.3,429.7 573.8,429.7 575.3,429.5 576.8,429.3 578.3,429.4 579.8,429.7 581.3,429.7 582.8,429.4 584.3,429.1 585.8,429.3 587.3,429.6 588.8,429.9 590.3,430.1 591.8,430.5 593.3,430.7 594.8,430.7 596.3,430.8 597.8,430.9 599.3,430.7 600.8,430 602.3,429.2 603.8,428.6 605.3,428.7 606.8,429.2 608.3,429.4 609.8,429.1 611.3,428.6 612.8,428.4 614.3,428.7 615.8,429.5 617.3,430.8 618.8,431.8 620.3,431.9 621.8,431.4 623.3,429.9 624.8,428.5 L627.8,428.5 L627.8,500.6 L60.8,500.6 Z" fill="#d9d9d9"/>
<path d="M60.8,469 L63.8,469 65.3,469.1 66.8,469.2 68.3,469.1 69.8,468.8 71.3,468.7 72.8,468.8 74.3,468.9 75.8,468.9 77.3,468.6 78.8,468.3 80.3,468.2 81.8,468.3 83.3,468.6 84.8,468.6 86.3,468.3 87.8,467.7 89.3,467.4 90.8,467.4 92.3,467.6 93.8,468 95.3,468.5 96.8,468.8 98.3,468.8 99.8,468.7 101.3,468.6 102.8,468.6 104.3,468.7 105.8,468.8 107.3,468.6 108.8,468.3 110.3,468.2 111.8,468.4 113.3,468.6 114.8,468.7 116.3,469 117.8,469.7 119.3,470 120.8,469.7 122.3,469 123.8,468.2 125.3,467.7 126.8,467.9 128.3,468.5 129.8,468.9 131.3,468.7 132.8,468.4 134.3,468.2 135.8,468.1 137.3,467.9 138.8,467.6 140.3,467.6 141.8,468.1 143.3,468.9 144.8,469.4 146.3,469.3 147.8,469 149.3,469 150.8,468.9 152.3,468.7 153.8,468.2 155.3,467.4 156.8,466.9 158.3,466.5 159.8,466 161.3,465.3 162.8,464.3 164.3,463.6 165.8,463.4 167.3,463.2 168.8,463.5 170.3,463.7 171.8,463.9 173.3,464.3 174.8,464.8 176.3,465.2 177.8,465.3 179.3,464.9 180.8,464.3 182.3,463.9 183.8,463.8 185.3,463.5 186.8,462.9 188.3,462.1 189.8,461.4 191.3,460.9 192.8,460.7 194.3,460.4 195.8,460.2 197.3,460.3 198.8,460.6 200.3,460.5 201.8,459.9 203.3,459.2 204.8,458.8 206.3,458.9 207.8,459.1 209.3,459.3 210.8,459.3 212.3,459.1 213.8,458.8 215.3,458.5 216.8,458.3 218.3,458.2 219.8,458 221.3,457.6 222.8,457.2 224.3,456.8 225.8,456.7 227.3,456.6 228.8,456.3 230.3,455.7 231.8,455.2 233.3,454.6 234.8,453.7 236.3,452.5 237.8,451.6 239.3,451 240.8,450.3 242.3,449.3 243.8,448.7 245.3,448.5 246.8,448.2 248.3,447.3 249.8,446.2 251.3,445.5 252.8,445.1 254.3,444.3 255.8,442.9 257.3,441.8 258.8,441.2 260.3,440.7 261.8,440.1 263.3,439.7 264.8,439.7 266.3,439.5 267.8,439 269.3,438.6 270.8,438.5 272.3,438.3 273.8,437.7 275.3,436.8 276.8,436 278.3,435.2 279.8,434.2 281.3,433.2 282.8,432.3 284.3,431.8 285.8,431.5 287.3,430.8 288.8,429.8 290.3,428.7 291.8,427.6 293.3,426.9 294.8,426.8 296.3,426.9 297.8,427 299.3,426.9 300.8,426.5 302.3,426 303.8,425.3 305.3,424.7 306.8,424.2 308.3,424.1 309.8,424.1 311.3,423.7 312.8,422.9 314.3,422.2 315.8,421.7 317.3,421.6 318.8,421.3 320.3,420.9 321.8,420.6 323.3,420.3 324.8,420 326.3,419.5 327.8,418.9 329.3,418.3 330.8,417.8 332.3,417.3 333.8,417.1 335.3,417.2 336.8,417.8 338.3,418.4 339.8,418.6 341.3,418.4 342.8,418.1 344.3,417.8 345.8,417.8 347.3,417.9 348.8,418.1 350.3,418 351.8,417.4 353.3,416.8 354.8,416.4 356.3,415.9 357.8,415.3 359.3,415.3 360.8,416.1 362.3,417.1 363.8,417.7 365.3,417.9 366.8,417.7 368.3,417.2 369.8,416.7 371.3,416.2 372.8,416.2 374.3,416.3 375.8,416 377.3,415.6 378.8,415.4 380.3,415.4 381.8,415.3 383.3,415 384.8,414.6 386.3,414.3 387.8,414.2 389.3,414 390.8,413.6 392.3,413 393.8,412.4 395.3,411.5 396.8,410.6 398.3,410 399.8,409.7 401.3,409.1 402.8,408.4 404.3,408.1 405.8,408.3 407.3,408.4 408.8,408.3 410.3,408.6 411.8,409.5 413.3,410.9 414.8,412.4 416.3,413.9 417.8,415.5 419.3,417.2 420.8,419.2 422.3,421.6 423.8,424.3 425.3,426.9 426.8,429.3 428.3,431.8 429.8,434.5 431.3,437 432.8,439.2 434.3,440.8 435.8,442.2 437.3,443.9 438.8,446.3 440.3,448.8 441.8,450.6 443.3,451.6 444.8,452.2 446.3,452.9 447.8,453.9 449.3,455.4 450.8,457 452.3,458.3 453.8,459.2 455.3,460 456.8,460.7 458.3,461 459.8,461 461.3,461 462.8,461.7 464.3,463 465.8,464 467.3,464.4 468.8,464.4 470.3,464.6 471.8,465.1 473.3,465.8 474.8,466.3 476.3,466.6 477.8,466.8 479.3,467 480.8,467 482.3,466.9 483.8,467 485.3,467.5 486.8,467.9 488.3,467.9 489.8,468 491.3,468.3 492.8,468.4 494.3,468 495.8,467.5 497.3,467.3 498.8,467.4 500.3,467.7 501.8,468.4 503.3,469.4 504.8,470.4 506.3,470.6 507.8,470.7 509.3,469.8 510.8,468.8 512.3,468.3 513.8,468.1 515.3,468.1 516.8,468.3 518.3,468.5 519.8,468.5 521.3,468.4 522.8,468.4 524.3,468.9 525.8,469.9 527.3,470.8 528.8,471.3 530.3,471.4 531.8,471.2 533.3,471.1 534.8,471.5 536.3,472 537.8,472 539.3,471.4 540.8,470.7 542.3,470.3 543.8,470.3 545.3,470.7 546.8,471.3 548.3,471.7 549.8,471.8 551.3,471.8 552.8,471.6 554.3,471.5 555.8,471.4 557.3,471.5 558.8,471.9 560.3,472.4 561.8,472.8 563.3,473 564.8,472.9 566.3,472.4 567.8,471.7 569.3,471.3 570.8,471.3 572.3,471.7 573.8,472 575.3,472.1 576.8,472.2 578.3,472.2 579.8,472.3 581.3,472.3 582.8,472.3 584.3,472.3 585.8,472.5 587.3,472.4 588.8,471.6 590.3,470.8 591.8,470.5 593.3,470.8 594.8,471.2 596.3,471.4 597.8,471.6 599.3,472 600.8,472.4 602.3,472.5 603.8,472.6 605.3,472.8 606.8,472.7 608.3,472 609.8,471.2 611.3,470.7 612.8,470.7 614.3,471.2 615.8,471.9 617.3,472.4 618.8,472.6 620.3,472.4 621.8,471.7 623.3,470.9 624.8,470.4 L627.8,470.4 L627.8,500.6 L60.8,500.6 Z" fill="#d9d9d9"/>
<path d="M63.8,225.1 65.3,225.3 66.8,225.2 68.3,225.1 69.8,225.2 71.3,225 72.8,224.6 74.3,224 75.8,224.1 77.3,224.2 78.8,224.3 80.3,224.3 81.8,225 83.3,225.5 84.8,225.5 86.3,225 87.8,224.6 89.3,224.8 90.8,225.2 92.3,225.3 93.8,225 95.3,224.9 96.8,225.1 98.3,225.5 99.8,225.9 101.3,226.1 102.8,226.2 104.3,226.2 105.8,225.9 107.3,225.7 108.8,225.5 110.3,225.2 111.8,225.1 113.3,225.2 114.8,225.3 116.3,225.1 117.8,225.1 119.3,225.2 120.8,225.4 122.3,225.5 123.8,225.1 125.3,224.4 126.8,224.1 128.3,224.2 129.8,224.3 131.3,224.3 132.8,224.4 134.3,224.4 135.8,224.1 137.3,223.5 138.8,222.9 140.3,222.4 141.8,222 143.3,221.6 144.8,221.7 146.3,222.2 147.8,222.5 149.3,222.2 150.8,221.4 152.3,220.8 153.8,220.4 155.3,220.2 156.8,220.4 158.3,221.1 159.8,221.6 161.3,221.4 162.8,220.9 164.3,220.6 165.8,220.6 167.3,220.6 168.8,220.3 170.3,219.9 171.8,219.6 173.3,219.2 174.8,218.7 176.3,218.4 177.8,218.4 179.3,218.7 180.8,219 182.3,218.9 183.8,218.5 185.3,218.1 186.8,217.8 188.3,217.5 189.8,216.9 191.3,216.1 192.8,215.1 194.3,214.1 195.8,213.3 197.3,212.9 198.8,212.6 200.3,213 201.8,213.4 203.3,213.2 204.8,212.2 206.3,211.2 207.8,210.6 209.3,210.1 210.8,209.5 212.3,208.9 213.8,208.3 215.3,207.4 216.8,206.4 218.3,205.5 219.8,204.8 221.3,204.2 222.8,203.7 224.3,203.5 225.8,203.2 227.3,202.6 228.8,201.6 230.3,200.4 231.8,199 233.3,197.9 234.8,197.2 236.3,196.7 237.8,196.2 239.3,195.6 240.8,195.1 242.3,194.7 243.8,194.1 245.3,193.4 246.8,192.5 248.3,191.8 249.8,191.4 251.3,190.7 252.8,189.3 254.3,187.6 255.8,186.2 257.3,185 258.8,183.9 260.3,182.5 261.8,180.7 263.3,179 264.8,177.5 266.3,176.5 267.8,175.7 269.3,174.7 270.8,173.2 272.3,171.3 273.8,169.4 275.3,167.7 276.8,166.3 278.3,164.9 279.8,163.2 281.3,161.4 282.8,159.8 284.3,158.7 285.8,157.5 287.3,156 288.8,154.4 290.3,153.2 291.8,151.8 293.3,150 294.8,148.2 296.3,146.9 297.8,146 299.3,145.5 300.8,144.8 302.3,143.8 303.8,142.8 305.3,142 306.8,141.4 308.3,140.9 309.8,141 311.3,141.9 312.8,143.3 314.3,144.5 315.8,145.5 317.3,146.2 318.8,146.9 320.3,147.8 321.8,148.8 323.3,149.7 324.8,150.7 326.3,151.9 327.8,153.2 329.3,154 330.8,154.4 332.3,154.9 333.8,156 335.3,157.7 336.8,159.5 338.3,161 339.8,162.5 341.3,164.3 342.8,166.1 344.3,167.8 345.8,169.4 347.3,170.9 348.8,172.5 350.3,174.4 351.8,176.6 353.3,178.6 354.8,180.2 356.3,181 357.8,181.4 359.3,182.3 360.8,183.9 362.3,185.7 363.8,187.3 365.3,188.5 366.8,189.5 368.3,191 369.8,193.1 371.3,195.3 372.8,197 374.3,198.3 375.8,199.4 377.3,200.6 378.8,202 380.3,203.5 381.8,205.2 383.3,207.1 384.8,208.6 386.3,209.6 387.8,210.3 389.3,211 390.8,212 392.3,213.2 393.8,214.6 395.3,216 396.8,217.4 398.3,218.6 399.8,219.2 401.3,219.4 402.8,219.5 404.3,219.7 405.8,219.7 407.3,219.9 408.8,220.6 410.3,221.4 411.8,222 413.3,222.5 414.8,222.9 416.3,223 417.8,222.5 419.3,221.8 420.8,222.1 422.3,222.3 423.8,222.5 425.3,222.9 426.8,224.2 428.3,224.5 429.8,224.4 431.3,224.7 432.8,225.4 434.3,225.7 435.8,225.8 437.3,225.9 438.8,226.2 440.3,226.6 441.8,226.6 443.3,226.2 444.8,226 446.3,226.1 447.8,226.3 449.3,226.3 450.8,226.1 452.3,226.1 453.8,226.4 455.3,227 456.8,227.8 458.3,228.2 459.8,227.9 461.3,227.4 462.8,226.6 464.3,226.2 465.8,226.3 467.3,226.7 468.8,226.8 470.3,226.7 471.8,227 473.3,227.6 474.8,228.1 476.3,228.3 477.8,228.3 479.3,228 480.8,227.3 482.3,226.9 483.8,227.1 485.3,228 486.8,228.7 488.3,228.8 489.8,228.5 491.3,228 492.8,227.6 494.3,227.4 495.8,227.6 497.3,228 498.8,228.4 500.3,228.2 501.8,227.6 503.3,227.3 504.8,227.6 506.3,228.1 507.8,228.1 509.3,227.6 510.8,227 512.3,226.8 513.8,227.1 515.3,227.4 516.8,227.3 518.3,227.1 519.8,226.9 521.3,226.5 522.8,226.3 524.3,226.4 525.8,226.8 527.3,227.3 528.8,227.7 530.3,228.1 531.8,228.1 533.3,227.7 534.8,227.3 536.3,227.1 537.8,227.1 539.3,227.4 540.8,228 542.3,228.3 543.8,227.9 545.3,227.1 546.8,226.6 548.3,226.4 549.8,226.4 551.3,226.7 552.8,227.3 554.3,227.9 555.8,228.5 557.3,228.9 558.8,229 560.3,228.9 561.8,228.6 563.3,227.8 564.8,226.9 566.3,226.8 567.8,227.5 569.3,228.1 570.8,227.9 572.3,227.1 573.8,226.6 575.3,226.7 576.8,227.1 578.3,227.3 579.8,227.4 581.3,227.4 582.8,227.3 584.3,227.3 585.8,227.5 587.3,227.9 588.8,228.4 590.3,228.6 591.8,228.1 593.3,227 594.8,226.1 596.3,225.6 597.8,225.4 599.3,225.9 600.8,226.6 602.3,226.9 603.8,226.4 605.3,225.8 606.8,225.9 608.3,226.6 609.8,227.6 611.3,227.9 612.8,227.3 614.3,226.2 615.8,225.7 617.3,225.6 618.8,225.6 620.3,225.6 621.8,225.7 623.3,226.3 624.8,227" fill="none" stroke="#000" stroke-width="3.3" stroke-linejoin="round"/>
<path d="M63.8,266.5 65.3,266.5 66.8,266.8 68.3,266.9 69.8,267 71.3,267.5 72.8,267.9 74.3,267.7 75.8,267.1 77.3,266.8 78.8,267.1 80.3,267.7 81.8,267.9 83.3,267.5 84.8,266.7 86.3,266 87.8,265.7 89.3,265.8 90.8,266.2 92.3,266.4 93.8,266.4 95.3,266.1 96.8,265.7 98.3,265.4 99.8,265.3 101.3,265.3 102.8,265.1 104.3,264.9 105.8,264.7 107.3,264.5 108.8,264.7 110.3,265 111.8,265.2 113.3,264.9 114.8,264.7 116.3,264.7 117.8,264.9 119.3,265.3 120.8,265.6 122.3,265.6 123.8,265.4 125.3,265 126.8,264.8 128.3,264.8 129.8,264.9 131.3,265 132.8,264.8 134.3,264.4 135.8,264.1 137.3,264.2 138.8,264.4 140.3,264.3 141.8,263.9 143.3,263.3 144.8,263 146.3,262.8 147.8,262.6 149.3,262.6 150.8,262.9 152.3,262.9 153.8,262.4 155.3,261.9 156.8,261.8 158.3,262 159.8,262.2 161.3,262.2 162.8,262.2 164.3,262.3 165.8,262.1 167.3,261.7 168.8,261.1 170.3,260.8 171.8,261.1 173.3,261.7 174.8,261.9 176.3,261.7 177.8,261.5 179.3,261.5 180.8,261.4 182.3,260.9 183.8,259.8 185.3,258.8 186.8,258.3 188.3,258.6 189.8,258.9 191.3,258.6 192.8,257.7 194.3,257 195.8,256.7 197.3,256.2 198.8,255.5 200.3,255.1 201.8,254.8 203.3,254.4 204.8,253.6 206.3,252.7 207.8,252.2 209.3,252.3 210.8,252.5 212.3,252.1 213.8,250.9 215.3,249.6 216.8,248.8 218.3,248.6 219.8,248.5 221.3,248.1 222.8,247.5 224.3,246.8 225.8,246.5 227.3,246.6 228.8,246.5 230.3,245.6 231.8,244.1 233.3,242.4 234.8,240.8 236.3,239.4 237.8,237.9 239.3,236.4 240.8,235 242.3,233.6 243.8,232 245.3,229.9 246.8,227.7 248.3,225.3 249.8,223.3 251.3,221.5 252.8,219.8 254.3,217.9 255.8,215.6 257.3,213.1 258.8,210.5 260.3,208 261.8,205.5 263.3,203 264.8,200.7 266.3,198.7 267.8,196.7 269.3,194.5 270.8,192 272.3,189.6 273.8,187.5 275.3,185.6 276.8,183.8 278.3,182 279.8,180.1 281.3,178.3 282.8,176.6 284.3,174.6 285.8,172.6 287.3,170.7 288.8,169 290.3,167.7 291.8,166.7 293.3,165.6 294.8,164.4 296.3,163.4 297.8,163 299.3,162.8 300.8,162.4 302.3,161.7 303.8,161.4 305.3,161.6 306.8,161.8 308.3,161.6 309.8,160.9 311.3,160.4 312.8,160.2 314.3,160.2 315.8,160.4 317.3,161 318.8,161.9 320.3,163.2 321.8,164.9 323.3,166.6 324.8,168.2 326.3,169.8 327.8,171.5 329.3,172.6 330.8,173.1 332.3,173.6 333.8,174.5 335.3,176 336.8,177.9 338.3,179.5 339.8,180.9 341.3,182 342.8,183.1 344.3,184.6 345.8,186.5 347.3,188.6 348.8,190.4 350.3,192.1 351.8,193.6 353.3,195.2 354.8,196.9 356.3,199.2 357.8,201.8 359.3,204.2 360.8,206.1 362.3,207.7 363.8,209.5 365.3,211.3 366.8,213.2 368.3,215.4 369.8,218.2 371.3,221 372.8,223.3 374.3,225.1 375.8,226.8 377.3,228.4 378.8,230 380.3,232.4 381.8,235.1 383.3,237.8 384.8,239.9 386.3,241.4 387.8,242.6 389.3,243.8 390.8,245.1 392.3,246.5 393.8,248.2 395.3,250 396.8,251.4 398.3,252.2 399.8,252.8 401.3,253.8 402.8,254.8 404.3,255.5 405.8,255.9 407.3,256.2 408.8,256.7 410.3,257.6 411.8,258.5 413.3,258.8 414.8,258.8 416.3,259 417.8,259.5 419.3,260.1 420.8,260.9 422.3,261.9 423.8,262.8 425.3,263.2 426.8,263.5 428.3,263.8 429.8,264 431.3,263.9 432.8,263.7 434.3,263.7 435.8,264 437.3,264.5 438.8,264.9 440.3,265.1 441.8,265.1 443.3,265.3 444.8,265.7 446.3,265.9 447.8,266.2 449.3,266.9 450.8,268 452.3,268.3 453.8,268.5 455.3,268.5 456.8,268.1 458.3,267.9 459.8,267.5 461.3,267.2 462.8,267.1 464.3,267 465.8,266.5 467.3,266.2 468.8,266.5 470.3,267.1 471.8,267.6 473.3,267.9 474.8,268.3 476.3,268.5 477.8,268.4 479.3,268.1 480.8,267.8 482.3,267.8 483.8,268.1 485.3,268.5 486.8,268.5 488.3,268.3 489.8,268.2 491.3,268.3 492.8,268.2 494.3,267.9 495.8,268.2 497.3,269.2 498.8,270.3 500.3,270.5 501.8,270.4 503.3,270.5 504.8,270.4 506.3,270.1 507.8,269.9 509.3,270 510.8,270.2 512.3,270.2 513.8,270.5 515.3,271 516.8,271 518.3,270.5 519.8,269.6 521.3,269 522.8,269 524.3,269.4 525.8,269.6 527.3,269.4 528.8,268.8 530.3,268.4 531.8,268.4 533.3,268.5 534.8,268.4 536.3,268.2 537.8,268.1 539.3,268.5 540.8,269.3 542.3,270.2 543.8,270.7 545.3,270.4 546.8,269.4 548.3,268.2 549.8,267.7 551.3,267.8 552.8,268 554.3,268.1 555.8,268 557.3,268.1 558.8,268.4 560.3,268.7 561.8,268.9 563.3,268.9 564.8,268.7 566.3,268.4 567.8,268.2 569.3,268.5 570.8,269.6 572.3,270.9 573.8,271 575.3,271 576.8,270.5 578.3,270 579.8,269.8 581.3,269.5 582.8,269.1 584.3,268.9 585.8,268.7 587.3,268.5 588.8,268.3 590.3,268.5 591.8,269 593.3,269.5 594.8,269.4 596.3,269.1 597.8,268.9 599.3,268.6 600.8,268.3 602.3,268.4 603.8,268.7 605.3,268.9 606.8,268.9 608.3,268.7 609.8,268.3 611.3,267.9 612.8,267.7 614.3,267.4 615.8,266.8 617.3,266.7 618.8,267.1 620.3,267.7 621.8,268 623.3,267.8 624.8,267.2" fill="none" stroke="#000" stroke-width="3.3" stroke-linejoin="round"/>
<path d="M63.8,302.8 65.3,303.3 66.8,303.6 68.3,303.8 69.8,303.9 71.3,304.1 72.8,304.2 74.3,304.1 75.8,303.7 77.3,303.1 78.8,302.6 80.3,302.4 81.8,302.6 83.3,302.7 84.8,302.9 86.3,303 87.8,302.5 89.3,301.8 90.8,301.4 92.3,301.6 93.8,301.9 95.3,302 96.8,302.1 98.3,302.2 99.8,302.2 101.3,302.4 102.8,302.8 104.3,303.4 105.8,303.3 107.3,302.5 108.8,301.7 110.3,301.4 111.8,301.3 113.3,301 114.8,300.8 116.3,300.5 117.8,300.2 119.3,299.7 120.8,299.3 122.3,299.2 123.8,299 125.3,299.4 126.8,299.6 128.3,299.4 129.8,299.2 131.3,299.4 132.8,299.8 134.3,299.8 135.8,299.4 137.3,299 138.8,298.6 140.3,298.1 141.8,297.9 143.3,298.2 144.8,298.7 146.3,299 147.8,298.7 149.3,298.3 150.8,298 152.3,297.9 153.8,298.1 155.3,298.4 156.8,298 158.3,297.3 159.8,296.9 161.3,296.8 162.8,296.4 164.3,295.6 165.8,295 167.3,295 168.8,295.4 170.3,295.8 171.8,296 173.3,295.8 174.8,295.3 176.3,295.1 177.8,295.4 179.3,295.6 180.8,295.3 182.3,294.7 183.8,294.2 185.3,293.7 186.8,293 188.3,292.5 189.8,292.2 191.3,291.9 192.8,291.3 194.3,290.6 195.8,290 197.3,289.3 198.8,288.6 200.3,288 201.8,287.7 203.3,287.3 204.8,286.6 206.3,286 207.8,285.4 209.3,284.8 210.8,284.3 212.3,284.4 213.8,284.8 215.3,284.7 216.8,284.2 218.3,283.3 219.8,282.3 221.3,281.6 222.8,281.2 224.3,280.7 225.8,280.1 227.3,279.7 228.8,279.5 230.3,278.9 231.8,278 233.3,276.9 234.8,276 236.3,275 237.8,273.6 239.3,271.7 240.8,269.7 242.3,268 243.8,266.8 245.3,265.6 246.8,264 248.3,262.2 249.8,260.3 251.3,258.2 252.8,256.4 254.3,255 255.8,253.5 257.3,251.9 258.8,250.1 260.3,248.3 261.8,246.7 263.3,245.1 264.8,243.3 266.3,241.4 267.8,240.1 269.3,239 270.8,237.5 272.3,235.7 273.8,233.9 275.3,232.1 276.8,230.2 278.3,228.2 279.8,226.2 281.3,224.1 282.8,222.2 284.3,220.4 285.8,218.5 287.3,216.7 288.8,215.3 290.3,214.1 291.8,212.9 293.3,211.8 294.8,210.7 296.3,209.7 297.8,208.5 299.3,207.2 300.8,206.3 302.3,205.9 303.8,205.4 305.3,204.3 306.8,202.9 308.3,202.1 309.8,202.2 311.3,202.3 312.8,201.9 314.3,201.4 315.8,200.9 317.3,200.4 318.8,199.6 320.3,198.7 321.8,197.8 323.3,197.5 324.8,197.7 326.3,198 327.8,198.3 329.3,198.7 330.8,199.3 332.3,199.9 333.8,200.8 335.3,202.2 336.8,204.1 338.3,206 339.8,207.6 341.3,208.8 342.8,210 344.3,211.3 345.8,212.7 347.3,214.1 348.8,215.2 350.3,216 351.8,216.8 353.3,217.7 354.8,218.8 356.3,220 357.8,221.2 359.3,222.4 360.8,223.5 362.3,224.7 363.8,226.2 365.3,228 366.8,230 368.3,232.1 369.8,234.1 371.3,235.7 372.8,236.9 374.3,237.9 375.8,239.4 377.3,241.2 378.8,242.9 380.3,244.3 381.8,245.5 383.3,246.6 384.8,247.9 386.3,249.6 387.8,251.4 389.3,253.2 390.8,254.9 392.3,256.4 393.8,257.5 395.3,258.3 396.8,259.5 398.3,260.7 399.8,261.8 401.3,263.5 402.8,265.2 404.3,266.2 405.8,266.9 407.3,267.6 408.8,268.5 410.3,269.5 411.8,270.7 413.3,272 414.8,272.9 416.3,273.2 417.8,273.4 419.3,273.8 420.8,274.5 422.3,275.5 423.8,276.5 425.3,277.2 426.8,277.6 428.3,278 429.8,278.7 431.3,279.7 432.8,280.5 434.3,281.1 435.8,282 437.3,283.5 438.8,285.4 440.3,287.2 441.8,287.9 443.3,288.1 444.8,288.6 446.3,289.8 447.8,290.9 449.3,291.9 450.8,292.9 452.3,294 453.8,294.6 455.3,294.6 456.8,294.5 458.3,294.7 459.8,295.4 461.3,296.4 462.8,297.8 464.3,299.2 465.8,300.6 467.3,301.5 468.8,301.8 470.3,301.9 471.8,302.1 473.3,302.1 474.8,301.8 476.3,301.5 477.8,301.4 479.3,301.6 480.8,301.6 482.3,301.4 483.8,301.5 485.3,302 486.8,302.7 488.3,303.2 489.8,303.5 491.3,303.5 492.8,303.2 494.3,302.8 495.8,302.8 497.3,303.1 498.8,303.4 500.3,303.5 501.8,303.5 503.3,303.8 504.8,304.2 506.3,304.7 507.8,305.2 509.3,305.7 510.8,305.7 512.3,305.4 513.8,305.5 515.3,305.9 516.8,305.7 518.3,305.1 519.8,304.4 521.3,304 522.8,304 524.3,304.1 525.8,304.2 527.3,304 528.8,303.6 530.3,303.4 531.8,303.5 533.3,303.8 534.8,304.4 536.3,304.9 537.8,305.2 539.3,305.1 540.8,304.9 542.3,304.6 543.8,304.4 545.3,304.4 546.8,304.5 548.3,304.6 549.8,304.6 551.3,304.4 552.8,303.9 554.3,303.7 555.8,303.7 557.3,304 558.8,304.1 560.3,303.9 561.8,303.2 563.3,302.6 564.8,302.6 566.3,302.9 567.8,303.8 569.3,304.5 570.8,304.5 572.3,304.2 573.8,304.4 575.3,305 576.8,305.4 578.3,305.7 579.8,306.2 581.3,306.2 582.8,306.2 584.3,305.7 585.8,305.1 587.3,304.6 588.8,304.1 590.3,303.8 591.8,303.7 593.3,304 594.8,304.5 596.3,305.2 597.8,305.4 599.3,305.1 600.8,304.7 602.3,304.8 603.8,305 605.3,304.9 606.8,304.3 608.3,303.6 609.8,303.4 611.3,303.7 612.8,304.2 614.3,304.4 615.8,304.3 617.3,304.4 618.8,304.7 620.3,304.7 621.8,304.4 623.3,303.9 624.8,303.7" fill="none" stroke="#000" stroke-width="3.3" stroke-linejoin="round"/>
<path d="M63.8,335.6 65.3,335.2 66.8,334.7 68.3,334.2 69.8,333.9 71.3,333.6 72.8,333.4 74.3,333.2 75.8,332.9 77.3,332.7 78.8,333.1 80.3,333.8 81.8,334.5 83.3,334.6 84.8,334.3 86.3,333.9 87.8,333.7 89.3,334 90.8,334.4 92.3,334.8 93.8,334.7 95.3,333.9 96.8,333 98.3,332.4 99.8,332.5 101.3,333.1 102.8,333.7 104.3,333.8 105.8,333.8 107.3,334 108.8,334.1 110.3,333.8 111.8,333.5 113.3,333.6 114.8,334.1 116.3,334.6 117.8,335.1 119.3,335.3 120.8,335.2 122.3,334.8 123.8,333.9 125.3,333.2 126.8,333 128.3,333.1 129.8,333.3 131.3,333.2 132.8,333.1 134.3,333.2 135.8,333.6 137.3,333.8 138.8,333.9 140.3,333.7 141.8,333.2 143.3,332.2 144.8,331.2 146.3,330.7 147.8,330.8 149.3,331.1 150.8,331.4 152.3,331.3 153.8,331 155.3,330.7 156.8,330.5 158.3,330 159.8,329.5 161.3,329.3 162.8,329.2 164.3,329 165.8,328.6 167.3,328.1 168.8,327.8 170.3,327.7 171.8,327.6 173.3,327.4 174.8,327.4 176.3,327.6 177.8,327.6 179.3,327.2 180.8,326.6 182.3,326.1 183.8,325.8 185.3,325.8 186.8,325.7 188.3,325.3 189.8,324.5 191.3,323.7 192.8,323.4 194.3,323.4 195.8,323.6 197.3,323.6 198.8,323.3 200.3,322.8 201.8,321.9 203.3,320.6 204.8,319.1 206.3,318.4 207.8,318.3 209.3,318.6 210.8,318.9 212.3,319 213.8,319 215.3,318.8 216.8,318.1 218.3,317.1 219.8,316.3 221.3,315.8 222.8,315.3 224.3,314.8 225.8,314.4 227.3,313.7 228.8,312.8 230.3,311.8 231.8,310.8 233.3,309.8 234.8,308.3 236.3,306.4 237.8,304.2 239.3,302.1 240.8,300.4 242.3,298.9 243.8,297.1 245.3,295 246.8,293.1 248.3,291.9 249.8,291.3 251.3,290.5 252.8,289 254.3,287.3 255.8,285.9 257.3,285 258.8,283.8 260.3,281.9 261.8,280 263.3,278.7 264.8,278.2 266.3,277.7 267.8,276.4 269.3,274.7 270.8,272.7 272.3,271 273.8,269.4 275.3,267.9 276.8,266.7 278.3,265.7 279.8,264.6 281.3,263.1 282.8,261.2 284.3,259.2 285.8,257.4 287.3,256 288.8,254.5 290.3,253 291.8,251.6 293.3,250.6 294.8,249.7 296.3,248.9 297.8,248.7 299.3,249.1 300.8,249.3 302.3,248.9 303.8,248 305.3,247.4 306.8,247.2 308.3,247.2 309.8,247.1 311.3,247 312.8,246.5 314.3,246.1 315.8,246.3 317.3,246.9 318.8,247.4 320.3,247.8 321.8,248.6 323.3,249.6 324.8,250.6 326.3,251.3 327.8,251.9 329.3,252.2 330.8,252.4 332.3,252.9 333.8,253.5 335.3,253.8 336.8,254.4 338.3,255.6 339.8,257 341.3,258 342.8,258.8 344.3,259.8 345.8,260.9 347.3,262.1 348.8,263.3 350.3,264.1 351.8,264.6 353.3,265.2 354.8,266 356.3,267.1 357.8,268.8 359.3,271 360.8,272.7 362.3,273.8 363.8,274.8 365.3,276.1 366.8,277.4 368.3,278.1 369.8,278.2 371.3,278.3 372.8,278.6 374.3,279.5 375.8,280.5 377.3,282 378.8,283.6 380.3,285.2 381.8,287 383.3,288.6 384.8,289.7 386.3,290.2 387.8,290.6 389.3,290.9 390.8,291.5 392.3,292 393.8,292.5 395.3,293 396.8,294 398.3,295.4 399.8,296.6 401.3,297.4 402.8,298 404.3,298.7 405.8,299.8 407.3,301.6 408.8,303.7 410.3,305.2 411.8,305.9 413.3,306.3 414.8,307 416.3,308 417.8,309.1 419.3,310 420.8,310.8 422.3,311.3 423.8,311.6 425.3,311.9 426.8,312.4 428.3,313.2 429.8,314.1 431.3,315.2 432.8,316.4 434.3,317.4 435.8,318.1 437.3,318.6 438.8,319.4 440.3,320.8 441.8,322.5 443.3,323.9 444.8,324.6 446.3,325 447.8,325.3 449.3,325.7 450.8,326 452.3,326.4 453.8,327.2 455.3,328.5 456.8,329.4 458.3,329.5 459.8,329.6 461.3,329.8 462.8,330 464.3,330.4 465.8,331.1 467.3,332.2 468.8,333.2 470.3,334 471.8,334.5 473.3,334.6 474.8,334.1 476.3,333.5 477.8,333.2 479.3,333.5 480.8,334.2 482.3,334.6 483.8,334.8 485.3,334.7 486.8,334.6 488.3,334.6 489.8,335 491.3,335.5 492.8,335.9 494.3,336 495.8,335.8 497.3,335.8 498.8,336.3 500.3,337.1 501.8,338 503.3,338.3 504.8,338 506.3,337.2 507.8,336.5 509.3,336 510.8,335.8 512.3,335.9 513.8,336.3 515.3,336.8 516.8,337.1 518.3,337.1 519.8,337.1 521.3,337.5 522.8,338.3 524.3,339 525.8,339.3 527.3,339.3 528.8,339.1 530.3,339 531.8,339.2 533.3,339.2 534.8,339.1 536.3,339.2 537.8,339.4 539.3,339.4 540.8,339.3 542.3,338.9 543.8,338.4 545.3,337.9 546.8,337.6 548.3,337.4 549.8,337.6 551.3,338 552.8,338.3 554.3,338.5 555.8,338.9 557.3,339.5 558.8,339.7 560.3,339.4 561.8,338.9 563.3,338.7 564.8,338.6 566.3,338.5 567.8,338.6 569.3,339.1 570.8,339.4 572.3,339.2 573.8,338.9 575.3,339 576.8,338.9 578.3,338.8 579.8,338.6 581.3,338.7 582.8,338.8 584.3,338.6 585.8,338.3 587.3,338.2 588.8,338.4 590.3,338.4 591.8,338.3 593.3,338 594.8,337.7 596.3,337.4 597.8,336.8 599.3,336.4 600.8,336.3 602.3,336.7 603.8,337.2 605.3,337.3 606.8,337.2 608.3,337.3 609.8,337.7 611.3,338.1 612.8,338 614.3,337.5 615.8,337.1 617.3,337.2 618.8,337.5 620.3,337.4 621.8,337 623.3,336.6 624.8,336.4" fill="none" stroke="#000" stroke-width="3.3" stroke-linejoin="round"/>
<path d="M63.8,371.1 65.3,370.7 66.8,370.3 68.3,369.8 69.8,369.4 71.3,369 72.8,368.7 74.3,368.7 75.8,368.8 77.3,368.6 78.8,368.5 80.3,368.7 81.8,369.1 83.3,369.1 84.8,369.1 86.3,369 87.8,369.1 89.3,369.3 90.8,369.5 92.3,369.5 93.8,369.4 95.3,369.5 96.8,369.4 98.3,369.3 99.8,369.2 101.3,368.7 102.8,367.9 104.3,367.4 105.8,367.3 107.3,367.3 108.8,367.5 110.3,367.9 111.8,368.2 113.3,368.4 114.8,368.6 116.3,368.8 117.8,369 119.3,369.3 120.8,369.6 122.3,369.2 123.8,368.6 125.3,368.2 126.8,368.3 128.3,368.5 129.8,368.6 131.3,368.6 132.8,368.6 134.3,368.6 135.8,368.4 137.3,367.9 138.8,367.5 140.3,367.7 141.8,368.3 143.3,368.7 144.8,368.4 146.3,367.9 147.8,367.7 149.3,368 150.8,368.6 152.3,369.2 153.8,369.5 155.3,369.5 156.8,369.1 158.3,368.5 159.8,367.7 161.3,367.1 162.8,366.8 164.3,366.6 165.8,366.3 167.3,366.2 168.8,366.4 170.3,366.5 171.8,366.4 173.3,366.4 174.8,366.2 176.3,365.9 177.8,365.6 179.3,365.5 180.8,365.6 182.3,365.6 183.8,365.3 185.3,364.9 186.8,364.8 188.3,364.9 189.8,364.9 191.3,364.8 192.8,364.5 194.3,363.9 195.8,362.8 197.3,361.3 198.8,359.8 200.3,358.8 201.8,358.2 203.3,358 204.8,357.8 206.3,357.3 207.8,356.5 209.3,355.8 210.8,355.2 212.3,354.6 213.8,354.1 215.3,353.4 216.8,352.6 218.3,352.1 219.8,352 221.3,352.2 222.8,352.1 224.3,351.4 225.8,350.3 227.3,349.4 228.8,348.8 230.3,348.4 231.8,348.1 233.3,347.9 234.8,347.5 236.3,347.3 237.8,347.3 239.3,347.3 240.8,347.2 242.3,346.8 243.8,346.5 245.3,346.1 246.8,345.6 248.3,344.9 249.8,344.1 251.3,343 252.8,341.8 254.3,340.7 255.8,339.8 257.3,339 258.8,338 260.3,337.1 261.8,335.9 263.3,334.2 264.8,332.7 266.3,331.6 267.8,330.7 269.3,329.4 270.8,327.9 272.3,326.8 273.8,326.1 275.3,325.6 276.8,324.8 278.3,324.1 279.8,323.6 281.3,323.1 282.8,322.5 284.3,321.8 285.8,321.4 287.3,320.9 288.8,320 290.3,318.9 291.8,318.2 293.3,318.1 294.8,318 296.3,317.3 297.8,316 299.3,315 300.8,314.6 302.3,314.1 303.8,313 305.3,311.5 306.8,309.7 308.3,308.4 309.8,307.7 311.3,307.9 312.8,308.5 314.3,309.1 315.8,309.3 317.3,309.1 318.8,308.9 320.3,309.1 321.8,309.1 323.3,308.7 324.8,308.2 326.3,308.3 327.8,308.7 329.3,309 330.8,309.5 332.3,310.2 333.8,310.8 335.3,311.3 336.8,312.1 338.3,313.2 339.8,314.6 341.3,316 342.8,317 344.3,317.7 345.8,318.3 347.3,319.4 348.8,320.5 350.3,321.3 351.8,321.6 353.3,321.6 354.8,321.8 356.3,322 357.8,322.2 359.3,322.6 360.8,323.3 362.3,323.9 363.8,324 365.3,324.1 366.8,324.7 368.3,325.4 369.8,326.4 371.3,327.1 372.8,327.7 374.3,328.2 375.8,328.8 377.3,329.6 378.8,330.3 380.3,330.8 381.8,331.2 383.3,331.7 384.8,331.9 386.3,332.1 387.8,332.3 389.3,332.3 390.8,332.1 392.3,331.7 393.8,331.3 395.3,331 396.8,330.8 398.3,330.9 399.8,331.2 401.3,331.3 402.8,331.2 404.3,331 405.8,330.5 407.3,329.8 408.8,329.6 410.3,330 411.8,330.7 413.3,331.3 414.8,331.5 416.3,332 417.8,332.7 419.3,333.5 420.8,334.6 422.3,336.2 423.8,338.3 425.3,340.9 426.8,343.8 428.3,346.4 429.8,348.5 431.3,350 432.8,351.4 434.3,352.4 435.8,353.1 437.3,354 438.8,355.2 440.3,356.7 441.8,358.2 443.3,359.8 444.8,361.5 446.3,362.7 447.8,363.2 449.3,363.3 450.8,363.7 452.3,364.7 453.8,365.7 455.3,366.5 456.8,367.3 458.3,368 459.8,368.6 461.3,369 462.8,369.3 464.3,369.6 465.8,370 467.3,370.4 468.8,370.9 470.3,371.4 471.8,371.8 473.3,372.1 474.8,372.1 476.3,372.1 477.8,372.3 479.3,372.3 480.8,371.8 482.3,371.3 483.8,371.5 485.3,372.4 486.8,373.3 488.3,373.5 489.8,373.2 491.3,373 492.8,373.2 494.3,373.8 495.8,373.9 497.3,373.7 498.8,373.4 500.3,373 501.8,372.7 503.3,372.4 504.8,372.2 506.3,372.3 507.8,372.8 509.3,373.2 510.8,373.2 512.3,373.5 513.8,374.1 515.3,374.7 516.8,374.9 518.3,374.8 519.8,374.4 521.3,374 522.8,373.8 524.3,373.6 525.8,373.7 527.3,374 528.8,374.1 530.3,373.9 531.8,373.5 533.3,373.2 534.8,373 536.3,372.7 537.8,372.6 539.3,372.6 540.8,372.7 542.3,373 543.8,373.6 545.3,374.4 546.8,374.6 548.3,374.4 549.8,374.3 551.3,374.2 552.8,373.9 554.3,373.4 555.8,373.4 557.3,373.6 558.8,373.8 560.3,373.9 561.8,373.6 563.3,373.2 564.8,372.8 566.3,372.9 567.8,373.1 569.3,373.1 570.8,373.2 572.3,373.2 573.8,372.9 575.3,372.2 576.8,371.6 578.3,371.5 579.8,371.8 581.3,371.9 582.8,371.9 584.3,371.7 585.8,371.8 587.3,372.2 588.8,372.6 590.3,372.5 591.8,372.1 593.3,371.8 594.8,372 596.3,372 597.8,371.9 599.3,371.8 600.8,372 602.3,372.4 603.8,372.6 605.3,372.6 606.8,372.3 608.3,372 609.8,372 611.3,372.3 612.8,372.8 614.3,373.1 615.8,373.3 617.3,373 618.8,372.6 620.3,372.8 621.8,373.2 623.3,373.1 624.8,372.3" fill="none" stroke="#000" stroke-width="3.3" stroke-linejoin="round"/>
<path d="M63.8,424.8 65.3,425.3 66.8,425.2 68.3,424.7 69.8,424.3 71.3,424.5 72.8,425.4 74.3,426.4 75.8,426.8 77.3,426.2 78.8,425.4 80.3,425.2 81.8,425.4 83.3,425.6 84.8,425.8 86.3,426.2 87.8,426.5 89.3,426.6 90.8,426.6 92.3,426.5 93.8,426.2 95.3,425.7 96.8,425.5 98.3,425.5 99.8,425.7 101.3,425.8 102.8,426 104.3,426.2 105.8,426.1 107.3,426 108.8,426.1 110.3,426.4 111.8,426.2 113.3,425.4 114.8,424.7 116.3,424.8 117.8,425.6 119.3,426.1 120.8,426 122.3,425.4 123.8,424.6 125.3,424.1 126.8,423.9 128.3,423.6 129.8,423.6 131.3,423.7 132.8,423.4 134.3,422.6 135.8,422 137.3,421.6 138.8,421.3 140.3,421.3 141.8,421.7 143.3,422.2 144.8,422.5 146.3,422.5 147.8,422 149.3,421.2 150.8,420.5 152.3,420.2 153.8,420.1 155.3,420.2 156.8,420.4 158.3,420.8 159.8,421.2 161.3,421.4 162.8,421.2 164.3,420.9 165.8,420.7 167.3,420.6 168.8,420.3 170.3,419.6 171.8,418.6 173.3,417.7 174.8,417.4 176.3,417.7 177.8,418.1 179.3,418.1 180.8,417.5 182.3,416.8 183.8,416.1 185.3,415.5 186.8,415.1 188.3,414.8 189.8,414.7 191.3,414.7 192.8,414.5 194.3,414 195.8,413.6 197.3,413.7 198.8,414 200.3,414.1 201.8,414 203.3,413.5 204.8,412.8 206.3,412.4 207.8,412.4 209.3,412.2 210.8,411.5 212.3,411.1 213.8,411 215.3,410.9 216.8,410.4 218.3,409.5 219.8,408.5 221.3,407.8 222.8,406.9 224.3,405.6 225.8,404.4 227.3,404 228.8,404 230.3,403.7 231.8,402.9 233.3,402.1 234.8,401.6 236.3,401 237.8,400.2 239.3,399.1 240.8,398 242.3,396.8 243.8,395.6 245.3,394.6 246.8,393.8 248.3,393.1 249.8,392.4 251.3,391.9 252.8,391 254.3,389.8 255.8,388.6 257.3,387.8 258.8,387.4 260.3,386.8 261.8,386 263.3,384.8 264.8,383.4 266.3,382.1 267.8,381.1 269.3,380.5 270.8,379.9 272.3,379.1 273.8,378.1 275.3,376.5 276.8,374.8 278.3,373.8 279.8,373.5 281.3,373.5 282.8,372.8 284.3,371.4 285.8,369.8 287.3,368.6 288.8,367.8 290.3,367.1 291.8,366.1 293.3,365 294.8,364.1 296.3,363.3 297.8,362.9 299.3,362.5 300.8,361.6 302.3,360.4 303.8,359.6 305.3,359.2 306.8,359.2 308.3,358.9 309.8,358.6 311.3,358.5 312.8,358.7 314.3,358.9 315.8,359.1 317.3,359.3 318.8,359.3 320.3,359.2 321.8,359 323.3,358.6 324.8,358.1 326.3,357.9 327.8,357.7 329.3,357.4 330.8,357.1 332.3,357.2 333.8,357.9 335.3,358.7 336.8,359.4 338.3,360.1 339.8,360.7 341.3,360.8 342.8,360.5 344.3,360.2 345.8,360 347.3,360.2 348.8,360.6 350.3,360.9 351.8,361 353.3,361 354.8,361.2 356.3,361.9 357.8,362.8 359.3,363.4 360.8,363.1 362.3,362.1 363.8,361.1 365.3,361 366.8,361.3 368.3,361.9 369.8,362.4 371.3,362.6 372.8,362.8 374.3,363.2 375.8,363 377.3,362.1 378.8,360.9 380.3,359.8 381.8,358.5 383.3,356.9 384.8,355.3 386.3,354.3 387.8,354.2 389.3,354.8 390.8,355.1 392.3,354.8 393.8,354.1 395.3,353.3 396.8,352.6 398.3,352.2 399.8,352.2 401.3,352.4 402.8,352.3 404.3,352.1 405.8,351.9 407.3,352 408.8,352.2 410.3,353 411.8,354.1 413.3,355.3 414.8,356.6 416.3,357.9 417.8,359.9 419.3,362.4 420.8,365 422.3,367.5 423.8,369.6 425.3,371.9 426.8,374.8 428.3,378.1 429.8,381.7 431.3,384.9 432.8,387.8 434.3,390.7 435.8,393.8 437.3,397.2 438.8,400.5 440.3,403.5 441.8,406 443.3,408 444.8,409.5 446.3,411.1 447.8,413.3 449.3,415.7 450.8,417.4 452.3,418 453.8,418.3 455.3,418.9 456.8,419.9 458.3,421 459.8,422.2 461.3,423 462.8,423.5 464.3,424 465.8,424.5 467.3,424.8 468.8,424.8 470.3,424.9 471.8,424.8 473.3,424.9 474.8,424.9 476.3,424.8 477.8,424.6 479.3,424.9 480.8,426 482.3,427.5 483.8,428.4 485.3,428.5 486.8,428.1 488.3,427.6 489.8,427.2 491.3,427 492.8,426.8 494.3,426.8 495.8,427.1 497.3,427.4 498.8,427.6 500.3,428.1 501.8,428.6 503.3,428.9 504.8,428.8 506.3,428.7 507.8,428.6 509.3,428.5 510.8,428.5 512.3,428.9 513.8,429.5 515.3,429.7 516.8,429.3 518.3,428.7 519.8,428.4 521.3,428.5 522.8,428.7 524.3,428.8 525.8,429 527.3,429.2 528.8,429.2 530.3,429.4 531.8,429.7 533.3,429.8 534.8,429.6 536.3,429.4 537.8,429.4 539.3,429.3 540.8,428.9 542.3,428.5 543.8,428.4 545.3,428.5 546.8,428.8 548.3,428.8 549.8,428.3 551.3,427.4 552.8,427.3 554.3,427.3 555.8,427.8 557.3,428.8 558.8,429.4 560.3,429.4 561.8,429.1 563.3,428.8 564.8,428.6 566.3,428.4 567.8,428.4 569.3,428.8 570.8,429.4 572.3,429.7 573.8,429.7 575.3,429.5 576.8,429.3 578.3,429.4 579.8,429.7 581.3,429.7 582.8,429.4 584.3,429.1 585.8,429.3 587.3,429.6 588.8,429.9 590.3,430.1 591.8,430.5 593.3,430.7 594.8,430.7 596.3,430.8 597.8,430.9 599.3,430.7 600.8,430 602.3,429.2 603.8,428.6 605.3,428.7 606.8,429.2 608.3,429.4 609.8,429.1 611.3,428.6 612.8,428.4 614.3,428.7 615.8,429.5 617.3,430.8 618.8,431.8 620.3,431.9 621.8,431.4 623.3,429.9 624.8,428.5" fill="none" stroke="#000" stroke-width="3.3" stroke-linejoin="round"/>
<path d="M63.8,469 65.3,469.1 66.8,469.2 68.3,469.1 69.8,468.8 71.3,468.7 72.8,468.8 74.3,468.9 75.8,468.9 77.3,468.6 78.8,468.3 80.3,468.2 81.8,468.3 83.3,468.6 84.8,468.6 86.3,468.3 87.8,467.7 89.3,467.4 90.8,467.4 92.3,467.6 93.8,468 95.3,468.5 96.8,468.8 98.3,468.8 99.8,468.7 101.3,468.6 102.8,468.6 104.3,468.7 105.8,468.8 107.3,468.6 108.8,468.3 110.3,468.2 111.8,468.4 113.3,468.6 114.8,468.7 116.3,469 117.8,469.7 119.3,470 120.8,469.7 122.3,469 123.8,468.2 125.3,467.7 126.8,467.9 128.3,468.5 129.8,468.9 131.3,468.7 132.8,468.4 134.3,468.2 135.8,468.1 137.3,467.9 138.8,467.6 140.3,467.6 141.8,468.1 143.3,468.9 144.8,469.4 146.3,469.3 147.8,469 149.3,469 150.8,468.9 152.3,468.7 153.8,468.2 155.3,467.4 156.8,466.9 158.3,466.5 159.8,466 161.3,465.3 162.8,464.3 164.3,463.6 165.8,463.4 167.3,463.2 168.8,463.5 170.3,463.7 171.8,463.9 173.3,464.3 174.8,464.8 176.3,465.2 177.8,465.3 179.3,464.9 180.8,464.3 182.3,463.9 183.8,463.8 185.3,463.5 186.8,462.9 188.3,462.1 189.8,461.4 191.3,460.9 192.8,460.7 194.3,460.4 195.8,460.2 197.3,460.3 198.8,460.6 200.3,460.5 201.8,459.9 203.3,459.2 204.8,458.8 206.3,458.9 207.8,459.1 209.3,459.3 210.8,459.3 212.3,459.1 213.8,458.8 215.3,458.5 216.8,458.3 218.3,458.2 219.8,458 221.3,457.6 222.8,457.2 224.3,456.8 225.8,456.7 227.3,456.6 228.8,456.3 230.3,455.7 231.8,455.2 233.3,454.6 234.8,453.7 236.3,452.5 237.8,451.6 239.3,451 240.8,450.3 242.3,449.3 243.8,448.7 245.3,448.5 246.8,448.2 248.3,447.3 249.8,446.2 251.3,445.5 252.8,445.1 254.3,444.3 255.8,442.9 257.3,441.8 258.8,441.2 260.3,440.7 261.8,440.1 263.3,439.7 264.8,439.7 266.3,439.5 267.8,439 269.3,438.6 270.8,438.5 272.3,438.3 273.8,437.7 275.3,436.8 276.8,436 278.3,435.2 279.8,434.2 281.3,433.2 282.8,432.3 284.3,431.8 285.8,431.5 287.3,430.8 288.8,429.8 290.3,428.7 291.8,427.6 293.3,426.9 294.8,426.8 296.3,426.9 297.8,427 299.3,426.9 300.8,426.5 302.3,426 303.8,425.3 305.3,424.7 306.8,424.2 308.3,424.1 309.8,424.1 311.3,423.7 312.8,422.9 314.3,422.2 315.8,421.7 317.3,421.6 318.8,421.3 320.3,420.9 321.8,420.6 323.3,420.3 324.8,420 326.3,419.5 327.8,418.9 329.3,418.3 330.8,417.8 332.3,417.3 333.8,417.1 335.3,417.2 336.8,417.8 338.3,418.4 339.8,418.6 341.3,418.4 342.8,418.1 344.3,417.8 345.8,417.8 347.3,417.9 348.8,418.1 350.3,418 351.8,417.4 353.3,416.8 354.8,416.4 356.3,415.9 357.8,415.3 359.3,415.3 360.8,416.1 362.3,417.1 363.8,417.7 365.3,417.9 366.8,417.7 368.3,417.2 369.8,416.7 371.3,416.2 372.8,416.2 374.3,416.3 375.8,416 377.3,415.6 378.8,415.4 380.3,415.4 381.8,415.3 383.3,415 384.8,414.6 386.3,414.3 387.8,414.2 389.3,414 390.8,413.6 392.3,413 393.8,412.4 395.3,411.5 396.8,410.6 398.3,410 399.8,409.7 401.3,409.1 402.8,408.4 404.3,408.1 405.8,408.3 407.3,408.4 408.8,408.3 410.3,408.6 411.8,409.5 413.3,410.9 414.8,412.4 416.3,413.9 417.8,415.5 419.3,417.2 420.8,419.2 422.3,421.6 423.8,424.3 425.3,426.9 426.8,429.3 428.3,431.8 429.8,434.5 431.3,437 432.8,439.2 434.3,440.8 435.8,442.2 437.3,443.9 438.8,446.3 440.3,448.8 441.8,450.6 443.3,451.6 444.8,452.2 446.3,452.9 447.8,453.9 449.3,455.4 450.8,457 452.3,458.3 453.8,459.2 455.3,460 456.8,460.7 458.3,461 459.8,461 461.3,461 462.8,461.7 464.3,463 465.8,464 467.3,464.4 468.8,464.4 470.3,464.6 471.8,465.1 473.3,465.8 474.8,466.3 476.3,466.6 477.8,466.8 479.3,467 480.8,467 482.3,466.9 483.8,467 485.3,467.5 486.8,467.9 488.3,467.9 489.8,468 491.3,468.3 492.8,468.4 494.3,468 495.8,467.5 497.3,467.3 498.8,467.4 500.3,467.7 501.8,468.4 503.3,469.4 504.8,470.4 506.3,470.6 507.8,470.7 509.3,469.8 510.8,468.8 512.3,468.3 513.8,468.1 515.3,468.1 516.8,468.3 518.3,468.5 519.8,468.5 521.3,468.4 522.8,468.4 524.3,468.9 525.8,469.9 527.3,470.8 528.8,471.3 530.3,471.4 531.8,471.2 533.3,471.1 534.8,471.5 536.3,472 537.8,472 539.3,471.4 540.8,470.7 542.3,470.3 543.8,470.3 545.3,470.7 546.8,471.3 548.3,471.7 549.8,471.8 551.3,471.8 552.8,471.6 554.3,471.5 555.8,471.4 557.3,471.5 558.8,471.9 560.3,472.4 561.8,472.8 563.3,473 564.8,472.9 566.3,472.4 567.8,471.7 569.3,471.3 570.8,471.3 572.3,471.7 573.8,472 575.3,472.1 576.8,472.2 578.3,472.2 579.8,472.3 581.3,472.3 582.8,472.3 584.3,472.3 585.8,472.5 587.3,472.4 588.8,471.6 590.3,470.8 591.8,470.5 593.3,470.8 594.8,471.2 596.3,471.4 597.8,471.6 599.3,472 600.8,472.4 602.3,472.5 603.8,472.6 605.3,472.8 606.8,472.7 608.3,472 609.8,471.2 611.3,470.7 612.8,470.7 614.3,471.2 615.8,471.9 617.3,472.4 618.8,472.6 620.3,472.4 621.8,471.7 623.3,470.9 624.8,470.4" fill="none" stroke="#000" stroke-width="3.3" stroke-linejoin="round"/>
<line x1="231.8" y1="114.6" x2="231.8" y2="498.6" stroke="#2a22c4" stroke-width="3.2" stroke-dasharray="3.2 11" stroke-dashoffset="0"/>
<line x1="316.7" y1="90.5" x2="316.7" y2="498.6" stroke="#26dc26" stroke-width="3" stroke-dasharray="13.6 6.4 2.5 6.8" stroke-dashoffset="0"/>
<line x1="401" y1="97.8" x2="401" y2="498.6" stroke="#de1f26" stroke-width="3" stroke-dasharray="12 12.1" stroke-dashoffset="0"/>
</g>
<clipPath id="clipb"><rect x="694.3" y="104.3" width="564.7" height="395.1"/></clipPath>
<g clip-path="url(#clipb)">
<path d="M692.3,267.1 L695.3,267.1 696.8,266.5 698.3,266.3 699.8,266.2 701.3,266.1 702.8,265.9 704.3,265.6 705.8,265.2 707.3,265 708.8,265.3 710.3,265.5 711.8,265.3 713.3,265.1 714.8,265.2 716.3,265.2 717.8,264.9 719.3,264.3 720.8,263.6 722.3,263.2 723.8,263 725.3,263.2 726.8,263.5 728.3,263.7 729.8,263.8 731.3,264.2 732.8,264.4 734.3,264.2 735.8,263.8 737.3,263.6 738.8,263.5 740.3,263.4 741.8,263.4 743.3,263.6 744.8,263.3 746.3,262.2 747.8,261.7 749.3,261.7 750.8,261.8 752.3,262.5 753.8,262.9 755.3,262.8 756.8,262.6 758.3,262.4 759.8,262.3 761.3,262.6 762.8,263.2 764.3,263.6 765.8,263.2 767.3,262.2 768.8,261.4 770.3,260.9 771.8,260.7 773.3,260.9 774.8,261.2 776.3,261.4 777.8,261.1 779.3,260.5 780.8,260.2 782.3,260.2 783.8,260.7 785.3,261.1 786.8,261.3 788.3,261.4 789.8,261.2 791.3,260.7 792.8,259.9 794.3,259.3 795.8,259.5 797.3,260.3 798.8,260.8 800.3,260.7 801.8,260.2 803.3,259.6 804.8,259.3 806.3,259.3 807.8,259.4 809.3,259.3 810.8,259 812.3,258.8 813.8,258.8 815.3,258.7 816.8,258.7 818.3,258.8 819.8,258.8 821.3,258.8 822.8,258.7 824.3,258.4 825.8,257.7 827.3,256.9 828.8,256 830.3,255.4 831.8,255.2 833.3,255.3 834.8,255.3 836.3,255.2 837.8,254.9 839.3,254.8 840.8,255 842.3,255.4 843.8,255.8 845.3,255.9 846.8,255.5 848.3,254.8 849.8,254.2 851.3,253.8 852.8,253.3 854.3,252.8 855.8,252.5 857.3,252.2 858.8,251.9 860.3,251.4 861.8,250.8 863.3,250.1 864.8,249.4 866.3,248.6 867.8,248 869.3,247.1 870.8,246.1 872.3,245.4 873.8,245 875.3,244.5 876.8,243.8 878.3,243.1 879.8,242.7 881.3,242.2 882.8,241.1 884.3,239.7 885.8,238.2 887.3,237 888.8,235.8 890.3,234.7 891.8,233.6 893.3,232.4 894.8,231 896.3,229.4 897.8,228 899.3,226.5 900.8,224.5 902.3,221.9 903.8,218.9 905.3,215.9 906.8,213.3 908.3,211 909.8,209.2 911.3,207.5 912.8,205.7 914.3,204 915.8,202.5 917.3,201.4 918.8,200.8 920.3,200.4 921.8,200.4 923.3,201 924.8,202.2 926.3,203.6 927.8,204.4 929.3,205.1 930.8,205.2 932.3,205.6 933.8,206.5 935.3,208 936.8,209.7 938.3,211.2 939.8,212.7 941.3,214.6 942.8,216.9 944.3,218.9 945.8,221.1 947.3,223.2 948.8,225.3 950.3,227.3 951.8,229.2 953.3,231.3 954.8,233.3 956.3,235 957.8,236.7 959.3,238.4 960.8,240.1 962.3,241.4 963.8,242.2 965.3,243 966.8,244 968.3,245.4 969.8,247 971.3,248.7 972.8,250.2 974.3,251.4 975.8,252.2 977.3,252.6 978.8,253.1 980.3,253.9 981.8,254.7 983.3,255.3 984.8,255.8 986.3,256.4 987.8,256.9 989.3,256.7 990.8,256.1 992.3,255.5 993.8,255.4 995.3,255.4 996.8,254.9 998.3,254 999.8,253.1 1001.3,252 1002.8,251.1 1004.3,250.4 1005.8,249.7 1007.3,249.5 1008.8,249.3 1010.3,248.7 1011.8,247.7 1013.3,246.5 1014.8,245 1016.3,243.8 1017.8,242.8 1019.3,241.9 1020.8,241.2 1022.3,240.3 1023.8,239.2 1025.3,238 1026.8,237.1 1028.3,235.8 1029.8,234 1031.3,232.1 1032.8,230.6 1034.3,229.1 1035.8,227.1 1037.3,224.7 1038.8,222.2 1040.3,219.4 1041.8,216.6 1043.3,214 1044.8,210.2 1046.3,205.2 1047.8,200.1 1049.3,196.3 1050.8,194.5 1052.3,192.9 1053.8,191 1055.3,189.3 1056.8,188 1058.3,187.3 1059.8,186.8 1061.3,186.5 1062.8,186.5 1064.3,186.7 1065.8,187.1 1067.3,187.6 1068.8,188.5 1070.3,190 1071.8,191.5 1073.3,192.6 1074.8,193.7 1076.3,195.3 1077.8,197.5 1079.3,199.8 1080.8,202.6 1082.3,205.8 1083.8,209 1085.3,212 1086.8,214.9 1088.3,217.7 1089.8,220.6 1091.3,223.5 1092.8,226.4 1094.3,229.4 1095.8,232.2 1097.3,235.1 1098.8,238 1100.3,240.6 1101.8,243 1103.3,245.6 1104.8,248.1 1106.3,250.5 1107.8,252.6 1109.3,254.5 1110.8,256.1 1112.3,257.6 1113.8,259.2 1115.3,260.6 1116.8,261.6 1118.3,262.8 1119.8,263.9 1121.3,265 1122.8,266.3 1124.3,267.8 1125.8,268.9 1127.3,269.4 1128.8,269.5 1130.3,269.5 1131.8,269.7 1133.3,270 1134.8,270.2 1136.3,270.3 1137.8,270.3 1139.3,270.5 1140.8,270.7 1142.3,270.4 1143.8,270 1145.3,269.8 1146.8,269.8 1148.3,269.8 1149.8,269.8 1151.3,269.9 1152.8,270.4 1154.3,271.1 1155.8,271.6 1157.3,272.1 1158.8,272.4 1160.3,272.5 1161.8,272.6 1163.3,272.6 1164.8,271.6 1166.3,270.4 1167.8,270 1169.3,270.5 1170.8,271.4 1172.3,271.9 1173.8,272.1 1175.3,272 1176.8,271.7 1178.3,271.1 1179.8,270.7 1181.3,270.9 1182.8,271.3 1184.3,271.6 1185.8,271.7 1187.3,271.8 1188.8,272.2 1190.3,272.6 1191.8,272.9 1193.3,272.9 1194.8,272.6 1196.3,271.8 1197.8,271.3 1199.3,271.5 1200.8,272.1 1202.3,272.5 1203.8,272.3 1205.3,272.1 1206.8,272 1208.3,272 1209.8,272.1 1211.3,272.5 1212.8,272.8 1214.3,272.6 1215.8,271.9 1217.3,271.6 1218.8,271.9 1220.3,272.5 1221.8,272.8 1223.3,272.6 1224.8,272.4 1226.3,272.3 1227.8,272.6 1229.3,273.2 1230.8,273.8 1232.3,273.8 1233.8,273.4 1235.3,273 1236.8,272.7 1238.3,272.3 1239.8,271.9 1241.3,272 1242.8,272.5 1244.3,273 1245.8,273.5 1247.3,273.8 1248.8,273.8 1250.3,273.6 1251.8,273.4 1253.3,273.4 1254.8,273.6 1256.3,273.7 1257.8,273.6 L1260.8,273.6 L1260.8,501.4 L692.3,501.4 Z" fill="#d9d9d9"/>
<path d="M692.3,285.4 L695.3,285.4 696.8,285.2 698.3,285.3 699.8,285.7 701.3,286.3 702.8,286.6 704.3,286.5 705.8,285.9 707.3,285.1 708.8,284.6 710.3,284.6 711.8,285 713.3,285.6 714.8,286.2 716.3,286.5 717.8,286.5 719.3,286.2 720.8,285.9 722.3,285.7 723.8,285.6 725.3,285.5 726.8,285.5 728.3,285.8 729.8,285.9 731.3,285.3 732.8,284.4 734.3,283.8 735.8,283.9 737.3,284.4 738.8,285 740.3,285.5 741.8,285.6 743.3,285.5 744.8,285.2 746.3,284.7 747.8,284.5 749.3,284.3 750.8,284.1 752.3,284.2 753.8,284.2 755.3,284.2 756.8,284 758.3,283.9 759.8,283.7 761.3,283.4 762.8,283.3 764.3,283.1 765.8,282.5 767.3,281.6 768.8,280.8 770.3,280.3 771.8,280.2 773.3,280.1 774.8,279.8 776.3,279.6 777.8,279.8 779.3,280 780.8,279.9 782.3,279.7 783.8,279.3 785.3,278.7 786.8,278.1 788.3,278.1 789.8,278.7 791.3,279.2 792.8,279 794.3,278.2 795.8,277.3 797.3,276.6 798.8,276.3 800.3,276.1 801.8,276.1 803.3,276.4 804.8,276.6 806.3,276.4 807.8,275.8 809.3,275.1 810.8,274.7 812.3,275 813.8,275.6 815.3,275.7 816.8,275.5 818.3,275.2 819.8,275.1 821.3,274.8 822.8,274.4 824.3,273.7 825.8,273 827.3,272.1 828.8,271.5 830.3,271.2 831.8,271.4 833.3,271.5 834.8,271.5 836.3,271.4 837.8,271.2 839.3,270.9 840.8,270.8 842.3,270.9 843.8,270.6 845.3,269.6 846.8,268.6 848.3,268.3 849.8,268.5 851.3,268.6 852.8,268.2 854.3,267.6 855.8,267.2 857.3,267.1 858.8,267 860.3,266.6 861.8,265.7 863.3,264.6 864.8,263.5 866.3,262.9 867.8,262.9 869.3,263.2 870.8,263.5 872.3,263.3 873.8,262.4 875.3,261.2 876.8,260.5 878.3,260.3 879.8,260 881.3,259.3 882.8,258.1 884.3,256.4 885.8,255 887.3,254.2 888.8,253.8 890.3,253.4 891.8,252.8 893.3,252.1 894.8,251.4 896.3,250.6 897.8,249.4 899.3,248.2 900.8,247.4 902.3,246.8 903.8,246.5 905.3,246.1 906.8,245.3 908.3,244 909.8,242.8 911.3,241.9 912.8,241 914.3,240.1 915.8,239.3 917.3,238.5 918.8,237.6 920.3,236.8 921.8,236.3 923.3,236.1 924.8,236.1 926.3,236.2 927.8,236.3 929.3,236.3 930.8,236.4 932.3,236.5 933.8,237.1 935.3,238 936.8,239 938.3,240 939.8,241.1 941.3,242.5 942.8,244.2 944.3,246.1 945.8,248.2 947.3,250.3 948.8,252.2 950.3,254.1 951.8,255.8 953.3,257.4 954.8,258.7 956.3,259.6 957.8,260.5 959.3,261.6 960.8,262.7 962.3,264.2 963.8,265.8 965.3,267 966.8,267.6 968.3,268.1 969.8,268.6 971.3,269 972.8,269.2 974.3,269.7 975.8,270.1 977.3,270.5 978.8,270.8 980.3,270.7 981.8,270.1 983.3,269.4 984.8,268.9 986.3,268.6 987.8,268.6 989.3,268.5 990.8,268.4 992.3,268.7 993.8,269.2 995.3,269.2 996.8,268.6 998.3,267.9 999.8,267.6 1001.3,267.3 1002.8,266.7 1004.3,265.9 1005.8,264.9 1007.3,264 1008.8,263.3 1010.3,262.6 1011.8,262 1013.3,261.4 1014.8,260.9 1016.3,260.1 1017.8,259.1 1019.3,257.9 1020.8,256.6 1022.3,255.5 1023.8,254.6 1025.3,253.6 1026.8,252.5 1028.3,251.2 1029.8,249.8 1031.3,248.6 1032.8,247.7 1034.3,246.5 1035.8,245 1037.3,243.7 1038.8,242.9 1040.3,242.1 1041.8,241 1043.3,239.6 1044.8,238.1 1046.3,236.9 1047.8,236.3 1049.3,235.9 1050.8,235.4 1052.3,234.4 1053.8,233.2 1055.3,232.1 1056.8,231.4 1058.3,231 1059.8,230.5 1061.3,229.6 1062.8,228.5 1064.3,227.7 1065.8,227.6 1067.3,227.7 1068.8,227.9 1070.3,228.3 1071.8,229.4 1073.3,230.6 1074.8,231.7 1076.3,232.6 1077.8,233.8 1079.3,235.6 1080.8,238 1082.3,241 1083.8,244.5 1085.3,247.8 1086.8,250.8 1088.3,253.9 1089.8,257.2 1091.3,259.9 1092.8,261.6 1094.3,263.2 1095.8,265.3 1097.3,267.5 1098.8,269.2 1100.3,270.5 1101.8,271.8 1103.3,273.4 1104.8,274.9 1106.3,275.8 1107.8,276.4 1109.3,277.4 1110.8,278.7 1112.3,279.6 1113.8,280.3 1115.3,281.2 1116.8,282.3 1118.3,283.2 1119.8,283.9 1121.3,284.6 1122.8,285.3 1124.3,285.8 1125.8,286.3 1127.3,286.8 1128.8,287.7 1130.3,288.4 1131.8,288.8 1133.3,289 1134.8,289.4 1136.3,289.9 1137.8,290.5 1139.3,291 1140.8,291.2 1142.3,291.3 1143.8,291 1145.3,290.8 1146.8,290.9 1148.3,290.8 1149.8,290.2 1151.3,289.7 1152.8,289.9 1154.3,290.7 1155.8,291.4 1157.3,291.6 1158.8,291.4 1160.3,291.5 1161.8,291.6 1163.3,291.6 1164.8,291.3 1166.3,290.8 1167.8,290.2 1169.3,290.2 1170.8,290.2 1172.3,290.4 1173.8,291.3 1175.3,292.1 1176.8,292.4 1178.3,292.3 1179.8,292.1 1181.3,292.1 1182.8,292.2 1184.3,292.2 1185.8,292.1 1187.3,291.9 1188.8,291.9 1190.3,292.2 1191.8,292.7 1193.3,293.1 1194.8,293.1 1196.3,292.4 1197.8,291.4 1199.3,290.9 1200.8,290.8 1202.3,290.9 1203.8,291.1 1205.3,291.6 1206.8,291.9 1208.3,291.8 1209.8,291.6 1211.3,291.6 1212.8,291.7 1214.3,291.8 1215.8,292.4 1217.3,292.9 1218.8,292.9 1220.3,292.5 1221.8,292 1223.3,291.7 1224.8,291.7 1226.3,291.8 1227.8,292.1 1229.3,292.5 1230.8,292.7 1232.3,292.2 1233.8,291.3 1235.3,290.8 1236.8,291.1 1238.3,291.9 1239.8,292.2 1241.3,291.9 1242.8,291.3 1244.3,291 1245.8,291.1 1247.3,291.2 1248.8,291.3 1250.3,291.5 1251.8,291.5 1253.3,291 1254.8,290.2 1256.3,289.9 1257.8,290.1 L1260.8,290.1 L1260.8,501.4 L692.3,501.4 Z" fill="#ffffff"/>
<path d="M692.3,334.9 L695.3,334.9 696.8,335.1 698.3,334.9 699.8,334.5 701.3,333.9 702.8,333.6 704.3,333.5 705.8,333.5 707.3,333.4 708.8,333 710.3,332.4 711.8,331.9 713.3,331.5 714.8,331.4 716.3,331.3 717.8,331.3 719.3,331.7 720.8,332 722.3,331.7 723.8,331.3 725.3,331.4 726.8,331.7 728.3,331.8 729.8,331.7 731.3,331.8 732.8,332.1 734.3,332.2 735.8,331.7 737.3,331 738.8,330.7 740.3,330.9 741.8,331.1 743.3,330.9 744.8,330.4 746.3,330 747.8,329.9 749.3,329.6 750.8,329.2 752.3,328.8 753.8,328.7 755.3,328.7 756.8,328.6 758.3,328.6 759.8,328.5 761.3,328.3 762.8,327.9 764.3,327.5 765.8,327.2 767.3,326.8 768.8,326.1 770.3,325.6 771.8,325.5 773.3,325.7 774.8,325.7 776.3,325.5 777.8,325.3 779.3,325.4 780.8,325.5 782.3,325.2 783.8,324.2 785.3,323.1 786.8,322.6 788.3,322.5 789.8,322.2 791.3,321.8 792.8,321.4 794.3,321.1 795.8,321 797.3,320.9 798.8,320.6 800.3,320.2 801.8,319.9 803.3,320 804.8,320.2 806.3,320.3 807.8,319.9 809.3,319.1 810.8,318.1 812.3,317.3 813.8,317.1 815.3,317 816.8,316.7 818.3,316.1 819.8,315.7 821.3,315.7 822.8,316 824.3,315.8 825.8,315.2 827.3,314.7 828.8,314.6 830.3,314.5 831.8,314.2 833.3,313.6 834.8,313.1 836.3,312.8 837.8,312.5 839.3,311.9 840.8,311.4 842.3,311 843.8,310.2 845.3,309.3 846.8,308.6 848.3,308.7 849.8,309.1 851.3,308.7 852.8,308.1 854.3,307.1 855.8,305.7 857.3,304.4 858.8,303.4 860.3,302.4 861.8,301.5 863.3,300.9 864.8,300.9 866.3,301.3 867.8,301.1 869.3,300.1 870.8,298.6 872.3,297 873.8,295.5 875.3,294.4 876.8,293.8 878.3,293.4 879.8,292.6 881.3,291.6 882.8,290.8 884.3,290.1 885.8,289.1 887.3,287.7 888.8,286.3 890.3,285.3 891.8,284.5 893.3,283.6 894.8,282.4 896.3,281.3 897.8,280.5 899.3,279.7 900.8,279 902.3,278.3 903.8,277.5 905.3,276.5 906.8,275 908.3,273.3 909.8,271.6 911.3,270.7 912.8,270.5 914.3,270.2 915.8,269.4 917.3,268.6 918.8,267.7 920.3,266.4 921.8,265.2 923.3,263.9 924.8,262.7 926.3,261.7 927.8,260.9 929.3,260.2 930.8,259.4 932.3,258.8 933.8,258.4 935.3,258 936.8,257.4 938.3,257.1 939.8,257.2 941.3,257.7 942.8,258.3 944.3,259 945.8,259.6 947.3,260.6 948.8,262.1 950.3,263.7 951.8,265.1 953.3,266.3 954.8,267.5 956.3,269 957.8,270.9 959.3,273.3 960.8,276.1 962.3,279 963.8,281.7 965.3,283.7 966.8,285.3 968.3,287.2 969.8,289.7 971.3,292.2 972.8,294.4 974.3,296.2 975.8,297.4 977.3,298.4 978.8,299.9 980.3,301.5 981.8,303.2 983.3,304.8 984.8,306.1 986.3,307.4 987.8,308.5 989.3,308.8 990.8,308.2 992.3,307.4 993.8,306.7 995.3,306.4 996.8,306.2 998.3,306.2 999.8,306.3 1001.3,306.2 1002.8,305.8 1004.3,305.2 1005.8,304.3 1007.3,303 1008.8,301.9 1010.3,301.5 1011.8,301.8 1013.3,301.8 1014.8,301.4 1016.3,300.7 1017.8,300.1 1019.3,299.4 1020.8,298.2 1022.3,297 1023.8,295.7 1025.3,294.6 1026.8,293.3 1028.3,292.3 1029.8,291.7 1031.3,291.2 1032.8,290.8 1034.3,290.4 1035.8,289.6 1037.3,288.4 1038.8,286.9 1040.3,285.6 1041.8,284.8 1043.3,284.2 1044.8,283.3 1046.3,281.7 1047.8,279.6 1049.3,277.7 1050.8,276.1 1052.3,274.2 1053.8,271.1 1055.3,269.5 1056.8,268.7 1058.3,268 1059.8,267.3 1061.3,266.8 1062.8,266.3 1064.3,265.3 1065.8,263.6 1067.3,261.1 1068.8,258.3 1070.3,256.3 1071.8,255.8 1073.3,256.2 1074.8,256.4 1076.3,256.5 1077.8,256.9 1079.3,257.5 1080.8,258.5 1082.3,259.2 1083.8,259.6 1085.3,259.8 1086.8,261 1088.3,263.6 1089.8,267 1091.3,270.9 1092.8,274.4 1094.3,277.4 1095.8,280.1 1097.3,282.7 1098.8,285.5 1100.3,288.9 1101.8,293 1103.3,297.7 1104.8,301.8 1106.3,305.7 1107.8,309 1109.3,311.6 1110.8,314.6 1112.3,317.8 1113.8,320.9 1115.3,323.5 1116.8,325.6 1118.3,327.1 1119.8,328.7 1121.3,330.6 1122.8,332.2 1124.3,334 1125.8,335.9 1127.3,337.5 1128.8,338.9 1130.3,340.1 1131.8,341 1133.3,341.7 1134.8,342.3 1136.3,342.7 1137.8,342.8 1139.3,342.7 1140.8,342.7 1142.3,343 1143.8,343.6 1145.3,344.3 1146.8,344.8 1148.3,345.4 1149.8,346.2 1151.3,346.8 1152.8,347 1154.3,346.8 1155.8,346.4 1157.3,346.3 1158.8,346.4 1160.3,346.6 1161.8,347 1163.3,347.3 1164.8,347.4 1166.3,347.5 1167.8,348.1 1169.3,348.6 1170.8,348.7 1172.3,348.4 1173.8,347.9 1175.3,347.6 1176.8,347.8 1178.3,348.3 1179.8,348.7 1181.3,348.7 1182.8,348.6 1184.3,348.5 1185.8,348.6 1187.3,348.9 1188.8,348.9 1190.3,348.5 1191.8,348.2 1193.3,348.4 1194.8,349.1 1196.3,349.5 1197.8,349.4 1199.3,348.8 1200.8,348.3 1202.3,348.1 1203.8,348.5 1205.3,349 1206.8,349.2 1208.3,349.2 1209.8,349.1 1211.3,349.1 1212.8,349 1214.3,348.7 1215.8,348.4 1217.3,348.5 1218.8,348.7 1220.3,349.1 1221.8,349.5 1223.3,349.7 1224.8,349.9 1226.3,350.3 1227.8,350.6 1229.3,350.6 1230.8,350 1232.3,349.6 1233.8,349.5 1235.3,349.8 1236.8,349.9 1238.3,349.7 1239.8,349.3 1241.3,348.9 1242.8,348.9 1244.3,349.4 1245.8,350.1 1247.3,350.4 1248.8,350.2 1250.3,349.9 1251.8,349.6 1253.3,349.7 1254.8,350.1 1256.3,350.6 1257.8,350.6 L1260.8,350.6 L1260.8,501.4 L692.3,501.4 Z" fill="#ffffff"/>
<path d="M692.3,356.5 L695.3,356.5 696.8,356.8 698.3,357.2 699.8,357.5 701.3,357.4 702.8,357.3 704.3,357.5 705.8,357.8 707.3,357.6 708.8,356.9 710.3,356.3 711.8,356.3 713.3,356.6 714.8,357 716.3,357.3 717.8,357.5 719.3,357.5 720.8,357.3 722.3,357.1 723.8,356.9 725.3,357 726.8,357.1 728.3,356.9 729.8,356.7 731.3,356.6 732.8,356.4 734.3,356 735.8,356.1 737.3,356.7 738.8,357.4 740.3,357.5 741.8,357.2 743.3,356.7 744.8,356.2 746.3,356 747.8,356 749.3,356.3 750.8,356.6 752.3,356.5 753.8,356.3 755.3,355.9 756.8,355.4 758.3,354.9 759.8,354.5 761.3,354.3 762.8,354.4 764.3,354.4 765.8,354.2 767.3,353.8 768.8,353.1 770.3,352.3 771.8,351.6 773.3,351.1 774.8,350.6 776.3,350.2 777.8,349.7 779.3,348.9 780.8,348 782.3,347.5 783.8,347.6 785.3,347.8 786.8,347.9 788.3,347.8 789.8,347.3 791.3,346.4 792.8,345.3 794.3,344.3 795.8,343.7 797.3,343.6 798.8,343.6 800.3,343.4 801.8,343.1 803.3,342.8 804.8,342.5 806.3,342.2 807.8,341.7 809.3,341 810.8,340.3 812.3,339.9 813.8,339.7 815.3,339.5 816.8,339.3 818.3,339.1 819.8,338.7 821.3,338.1 822.8,337.3 824.3,336.7 825.8,336.4 827.3,336.6 828.8,336.8 830.3,336.6 831.8,336 833.3,335.4 834.8,334.8 836.3,334.2 837.8,333.5 839.3,333 840.8,332.8 842.3,332.6 843.8,332.1 845.3,331.4 846.8,331 848.3,331.3 849.8,331.4 851.3,330.6 852.8,329.3 854.3,328.2 855.8,327.5 857.3,327 858.8,326.7 860.3,326.5 861.8,326 863.3,325 864.8,323.7 866.3,322.5 867.8,321.5 869.3,320.5 870.8,319.9 872.3,319.5 873.8,318.9 875.3,318.3 876.8,317.9 878.3,317.4 879.8,316.2 881.3,314.7 882.8,313.1 884.3,311.9 885.8,311.3 887.3,310.9 888.8,310.6 890.3,309.7 891.8,308.7 893.3,307.4 894.8,305.8 896.3,304 897.8,302.6 899.3,301.7 900.8,301.2 902.3,300.8 903.8,300.4 905.3,300 906.8,299.1 908.3,297.9 909.8,296.6 911.3,295.5 912.8,294.5 914.3,293.5 915.8,293 917.3,292.7 918.8,292.4 920.3,291.9 921.8,291.1 923.3,289.9 924.8,289 926.3,288.4 927.8,288 929.3,287.8 930.8,287.7 932.3,287.4 933.8,286.7 935.3,285.9 936.8,285.4 938.3,285.2 939.8,285 941.3,284.4 942.8,283.7 944.3,283 945.8,282.5 947.3,282.3 948.8,282.4 950.3,282.9 951.8,283.9 953.3,285.2 954.8,286.4 956.3,287.6 957.8,288.6 959.3,289.4 960.8,290.2 962.3,291.8 963.8,294.9 965.3,298.4 966.8,301.1 968.3,303.3 969.8,305.4 971.3,307.5 972.8,309.3 974.3,310.9 975.8,312.5 977.3,314.5 978.8,316.9 980.3,319.1 981.8,320.8 983.3,321.7 984.8,322.1 986.3,323.1 987.8,324.1 989.3,325.5 990.8,326.8 992.3,327.7 993.8,328.1 995.3,328.3 996.8,328.1 998.3,328.1 999.8,328.4 1001.3,328.7 1002.8,328.8 1004.3,329.1 1005.8,329.4 1007.3,329.2 1008.8,328.8 1010.3,328.6 1011.8,328.6 1013.3,328.2 1014.8,327.7 1016.3,327.4 1017.8,327.2 1019.3,326.9 1020.8,325.9 1022.3,324.6 1023.8,323.5 1025.3,323.1 1026.8,322.9 1028.3,322.3 1029.8,321.5 1031.3,320.4 1032.8,319.1 1034.3,317.7 1035.8,316.6 1037.3,315.3 1038.8,314.1 1040.3,313.2 1041.8,312.7 1043.3,312.3 1044.8,312.3 1046.3,312.6 1047.8,312.3 1049.3,311.2 1050.8,309.9 1052.3,308.7 1053.8,307.8 1055.3,306.9 1056.8,305.7 1058.3,304.2 1059.8,302.6 1061.3,301.3 1062.8,300.3 1064.3,299 1065.8,297 1067.3,294.6 1068.8,292.9 1070.3,291.3 1071.8,290.3 1073.3,289.4 1074.8,287.7 1076.3,285.8 1077.8,284.2 1079.3,283.5 1080.8,283 1082.3,282.4 1083.8,281.8 1085.3,281.5 1086.8,282 1088.3,283 1089.8,283.8 1091.3,284.7 1092.8,285.8 1094.3,287.3 1095.8,288.6 1097.3,289.8 1098.8,291.1 1100.3,293.6 1101.8,296.4 1103.3,299.3 1104.8,302.4 1106.3,306.2 1107.8,310 1109.3,313.7 1110.8,317.6 1112.3,321.5 1113.8,325.1 1115.3,328.5 1116.8,332 1118.3,335.7 1119.8,339.6 1121.3,343.6 1122.8,347.4 1124.3,351.1 1125.8,354.3 1127.3,357 1128.8,358.9 1130.3,360.5 1131.8,361.5 1133.3,362.1 1134.8,362.6 1136.3,363.4 1137.8,364.3 1139.3,365.3 1140.8,366.3 1142.3,367.1 1143.8,367.6 1145.3,367.9 1146.8,368.1 1148.3,368.1 1149.8,368.1 1151.3,368.6 1152.8,369.4 1154.3,370 1155.8,370.5 1157.3,370.9 1158.8,371.2 1160.3,371 1161.8,370.7 1163.3,370.8 1164.8,371.1 1166.3,371.3 1167.8,371.1 1169.3,370.7 1170.8,370.5 1172.3,370.5 1173.8,370.9 1175.3,371.2 1176.8,371.4 1178.3,371.3 1179.8,371.2 1181.3,371.3 1182.8,371.6 1184.3,372.1 1185.8,372.3 1187.3,372.3 1188.8,372.1 1190.3,371.9 1191.8,371.8 1193.3,372.1 1194.8,372.6 1196.3,373.1 1197.8,373.5 1199.3,373.7 1200.8,373.9 1202.3,374.1 1203.8,374.2 1205.3,374.1 1206.8,373.9 1208.3,373.8 1209.8,373.8 1211.3,374 1212.8,374.4 1214.3,374.7 1215.8,374.4 1217.3,373.9 1218.8,373.6 1220.3,373.8 1221.8,374.2 1223.3,374.5 1224.8,374.5 1226.3,374.4 1227.8,374.5 1229.3,374.7 1230.8,375.1 1232.3,375.7 1233.8,375.9 1235.3,375.5 1236.8,374.9 1238.3,374.6 1239.8,374.6 1241.3,374.7 1242.8,374.6 1244.3,374.5 1245.8,374.6 1247.3,374.9 1248.8,375.2 1250.3,375.2 1251.8,374.6 1253.3,373.7 1254.8,373.3 1256.3,373.3 1257.8,373.9 L1260.8,373.9 L1260.8,501.4 L692.3,501.4 Z" fill="#ffffff"/>
<path d="M692.3,383.5 L695.3,383.5 696.8,383.1 698.3,382.7 699.8,382.3 701.3,382.1 702.8,382.1 704.3,382.2 705.8,382.3 707.3,382.1 708.8,381.6 710.3,381 711.8,380.5 713.3,380 714.8,379.8 716.3,379.7 717.8,379.9 719.3,380.5 720.8,381.1 722.3,381.6 723.8,381.7 725.3,381.4 726.8,380.9 728.3,380.5 729.8,380.1 731.3,379.8 732.8,379.9 734.3,380.1 735.8,380.1 737.3,379.9 738.8,379.5 740.3,378.8 741.8,378.1 743.3,377.5 744.8,377.4 746.3,377.5 747.8,377.7 749.3,377.8 750.8,377.5 752.3,376.8 753.8,376.3 755.3,376 756.8,376.1 758.3,375.9 759.8,375.5 761.3,375 762.8,374.9 764.3,375.2 765.8,375.3 767.3,374.9 768.8,374.4 770.3,374 771.8,373.8 773.3,373.8 774.8,373.7 776.3,373.4 777.8,372.8 779.3,372.1 780.8,371.5 782.3,371.2 783.8,371.1 785.3,370.8 786.8,370.4 788.3,370.5 789.8,371 791.3,371.4 792.8,371.2 794.3,370.3 795.8,369.5 797.3,369.2 798.8,369.3 800.3,369.3 801.8,369.2 803.3,369.2 804.8,369.2 806.3,368.7 807.8,368 809.3,367.5 810.8,367.4 812.3,367.4 813.8,367.2 815.3,366.7 816.8,365.9 818.3,365.2 819.8,364.9 821.3,365 822.8,365.1 824.3,364.9 825.8,364.5 827.3,363.8 828.8,363.2 830.3,362.7 831.8,362.4 833.3,362 834.8,361.2 836.3,360.3 837.8,359.5 839.3,358.8 840.8,358.5 842.3,358.3 843.8,358.1 845.3,357.5 846.8,357 848.3,356.5 849.8,356.6 851.3,357 852.8,357.2 854.3,356.7 855.8,355.5 857.3,354.3 858.8,353.5 860.3,353.2 861.8,352.9 863.3,352.6 864.8,351.9 866.3,351.1 867.8,350.2 869.3,349.5 870.8,348.9 872.3,348.1 873.8,347.5 875.3,347.1 876.8,347 878.3,346.8 879.8,346.5 881.3,345.8 882.8,344.8 884.3,343.9 885.8,342.7 887.3,341.5 888.8,340.4 890.3,339.5 891.8,338.7 893.3,338.2 894.8,337.7 896.3,337 897.8,336 899.3,334.9 900.8,334.5 902.3,334.4 903.8,333.8 905.3,332.5 906.8,330.8 908.3,329.2 909.8,328.2 911.3,327.7 912.8,327 914.3,325.8 915.8,324.5 917.3,323.2 918.8,322.3 920.3,321.9 921.8,321.7 923.3,321 924.8,319.7 926.3,317.9 927.8,315.8 929.3,313.7 930.8,312.2 932.3,311.4 933.8,310.6 935.3,309.5 936.8,307.8 938.3,306 939.8,304.3 941.3,302.9 942.8,301.4 944.3,300.2 945.8,299.7 947.3,300.1 948.8,300.8 950.3,301.4 951.8,302.2 953.3,303.3 954.8,304.6 956.3,306.4 957.8,309.4 959.3,312.7 960.8,315.8 962.3,318.6 963.8,321.9 965.3,325.9 966.8,329.7 968.3,332.5 969.8,334.4 971.3,336.1 972.8,337.8 974.3,339.9 975.8,342.1 977.3,344.1 978.8,346.1 980.3,348.2 981.8,349.9 983.3,351 984.8,351.5 986.3,351.9 987.8,352.7 989.3,354 990.8,355.3 992.3,356.1 993.8,356.8 995.3,357.6 996.8,358.4 998.3,358.7 999.8,358.3 1001.3,358 1002.8,358.1 1004.3,358.2 1005.8,358 1007.3,357.8 1008.8,357.3 1010.3,356.3 1011.8,354.9 1013.3,353.7 1014.8,353 1016.3,352.7 1017.8,352.5 1019.3,352.1 1020.8,351.6 1022.3,350.9 1023.8,349.9 1025.3,348.9 1026.8,348.2 1028.3,347.8 1029.8,347.6 1031.3,347.5 1032.8,347.2 1034.3,346.8 1035.8,345.9 1037.3,344.6 1038.8,343.2 1040.3,342.1 1041.8,341.3 1043.3,340.6 1044.8,339.5 1046.3,337.9 1047.8,336 1049.3,334.5 1050.8,333.4 1052.3,332.6 1053.8,331.5 1055.3,330 1056.8,328.7 1058.3,327.5 1059.8,326.1 1061.3,324.5 1062.8,323.2 1064.3,322.2 1065.8,321.3 1067.3,320 1068.8,318.5 1070.3,316.7 1071.8,314.9 1073.3,313.1 1074.8,311 1076.3,308.8 1077.8,306.9 1079.3,305.5 1080.8,304.4 1082.3,303.3 1083.8,302 1085.3,301 1086.8,300.4 1088.3,300.6 1089.8,301 1091.3,301.6 1092.8,302.4 1094.3,303.6 1095.8,304.9 1097.3,306 1098.8,307.2 1100.3,308.5 1101.8,310.5 1103.3,313.8 1104.8,317.9 1106.3,322.4 1107.8,327.2 1109.3,332.4 1110.8,338.6 1112.3,345.3 1113.8,351.7 1115.3,357.3 1116.8,363.1 1118.3,369.4 1119.8,375 1121.3,378.5 1122.8,380.7 1124.3,382.1 1125.8,383.4 1127.3,384.6 1128.8,386.2 1130.3,387.7 1131.8,389.2 1133.3,390.4 1134.8,391.2 1136.3,391.9 1137.8,392.6 1139.3,393.7 1140.8,395 1142.3,395.4 1143.8,395.7 1145.3,395.1 1146.8,394.7 1148.3,394.5 1149.8,394.4 1151.3,394.6 1152.8,395.2 1154.3,395.9 1155.8,396.5 1157.3,396.6 1158.8,396.1 1160.3,395.5 1161.8,395.3 1163.3,395.7 1164.8,396.5 1166.3,397.1 1167.8,397.3 1169.3,397.2 1170.8,396.9 1172.3,396.8 1173.8,397 1175.3,397.6 1176.8,398.2 1178.3,398.4 1179.8,398.2 1181.3,398.3 1182.8,398.6 1184.3,398.4 1185.8,398 1187.3,397.8 1188.8,398.1 1190.3,398.4 1191.8,398.4 1193.3,398.6 1194.8,399.1 1196.3,399.4 1197.8,399.2 1199.3,398.9 1200.8,398.8 1202.3,398.9 1203.8,398.7 1205.3,398.3 1206.8,397.8 1208.3,397.5 1209.8,397.2 1211.3,397.3 1212.8,397.3 1214.3,397.6 1215.8,398.2 1217.3,398.8 1218.8,399 1220.3,398.8 1221.8,398.5 1223.3,398.1 1224.8,397.8 1226.3,398.1 1227.8,398.9 1229.3,399.6 1230.8,399.6 1232.3,399.1 1233.8,398.7 1235.3,398.7 1236.8,398.8 1238.3,398.6 1239.8,398.3 1241.3,398.3 1242.8,398.7 1244.3,399.1 1245.8,399.2 1247.3,398.8 1248.8,398.6 1250.3,398.8 1251.8,398.9 1253.3,398.7 1254.8,398.3 1256.3,398.2 1257.8,398.5 L1260.8,398.5 L1260.8,501.4 L692.3,501.4 Z" fill="#d9d9d9"/>
<path d="M692.3,446.9 L695.3,446.9 696.8,446.7 698.3,446.5 699.8,446 701.3,445.3 702.8,444.9 704.3,444.9 705.8,444.9 707.3,444.3 708.8,443.3 710.3,442.6 711.8,442.4 713.3,442.6 714.8,442.9 716.3,442.8 717.8,442.3 719.3,442 720.8,441.6 722.3,441.2 723.8,440.8 725.3,440.8 726.8,440.8 728.3,440.8 729.8,440.7 731.3,440.8 732.8,441.1 734.3,441.3 735.8,441.4 737.3,441.3 738.8,441 740.3,440.5 741.8,439.9 743.3,439.7 744.8,439.8 746.3,440 747.8,439.5 749.3,438.8 750.8,438.4 752.3,438.2 753.8,438.3 755.3,438.7 756.8,439.1 758.3,439 759.8,438.7 761.3,438.5 762.8,438.4 764.3,437.9 765.8,437.1 767.3,436.2 768.8,435.6 770.3,435.4 771.8,435.5 773.3,435.5 774.8,434.9 776.3,433.7 777.8,432.6 779.3,432.4 780.8,432.5 782.3,432.4 783.8,432 785.3,431.6 786.8,431.3 788.3,430.8 789.8,430.1 791.3,429.3 792.8,428.5 794.3,427.7 795.8,427 797.3,426.6 798.8,426.6 800.3,426.6 801.8,426.4 803.3,426 804.8,425.8 806.3,425.4 807.8,424.5 809.3,423.4 810.8,422.5 812.3,422.2 813.8,422.2 815.3,421.8 816.8,421.1 818.3,420.3 819.8,419.4 821.3,418.6 822.8,418 824.3,417.5 825.8,417.1 827.3,416.6 828.8,416.3 830.3,416.3 831.8,416.4 833.3,416.2 834.8,415.6 836.3,414.9 837.8,414.4 839.3,414.1 840.8,413.5 842.3,412.8 843.8,411.6 845.3,409.9 846.8,408.1 848.3,407.3 849.8,406.7 851.3,406.7 852.8,406.9 854.3,406.8 855.8,406.6 857.3,406.2 858.8,405.8 860.3,405.3 861.8,404.6 863.3,403.5 864.8,402.5 866.3,401.6 867.8,400.8 869.3,399.9 870.8,399.2 872.3,398.8 873.8,398.5 875.3,398.1 876.8,397.3 878.3,396 879.8,394.7 881.3,393.9 882.8,393.4 884.3,392.9 885.8,392.1 887.3,390.8 888.8,389.5 890.3,388.4 891.8,387.2 893.3,385.8 894.8,384.5 896.3,383.5 897.8,382.4 899.3,381 900.8,379.5 902.3,378.1 903.8,376.4 905.3,374.1 906.8,371.8 908.3,370.2 909.8,369.1 911.3,368.3 912.8,367.3 914.3,366.1 915.8,364.4 917.3,362.6 918.8,360.9 920.3,359.1 921.8,357.1 923.3,355.1 924.8,352.9 926.3,350.1 927.8,347.3 929.3,344.5 930.8,341.4 932.3,338.2 933.8,335 935.3,332.2 936.8,330.2 938.3,329 939.8,327.9 941.3,326.7 942.8,325.7 944.3,324.7 945.8,323.9 947.3,323.4 948.8,323.1 950.3,323.6 951.8,324.9 953.3,326.8 954.8,329 956.3,331.3 957.8,333.9 959.3,336.7 960.8,339.8 962.3,343 963.8,348.1 965.3,354.6 966.8,361.5 968.3,367.4 969.8,372.5 971.3,378.3 972.8,384.1 974.3,389.3 975.8,393.5 977.3,396.3 978.8,397.9 980.3,399.4 981.8,400.8 983.3,402.6 984.8,404.5 986.3,406.2 987.8,407.3 989.3,407.8 990.8,407.5 992.3,406.7 993.8,405.9 995.3,406 996.8,406.5 998.3,406.5 999.8,406 1001.3,405.6 1002.8,405.6 1004.3,405.8 1005.8,405.8 1007.3,405.1 1008.8,403.9 1010.3,402.9 1011.8,402.5 1013.3,402.4 1014.8,402.2 1016.3,402 1017.8,401.5 1019.3,400.7 1020.8,399.7 1022.3,398.8 1023.8,398.1 1025.3,397.6 1026.8,397.1 1028.3,396.3 1029.8,395.2 1031.3,394 1032.8,392.7 1034.3,391.4 1035.8,390.1 1037.3,388.7 1038.8,387.1 1040.3,385.6 1041.8,384.2 1043.3,382.7 1044.8,381.2 1046.3,379.7 1047.8,378.5 1049.3,377.4 1050.8,376.3 1052.3,375.2 1053.8,373.7 1055.3,371.7 1056.8,369.7 1058.3,368.1 1059.8,366.7 1061.3,365.1 1062.8,363.4 1064.3,361.4 1065.8,359 1067.3,356.4 1068.8,353.8 1070.3,351.4 1071.8,348.8 1073.3,345.5 1074.8,341.1 1076.3,336.2 1077.8,331.3 1079.3,326.7 1080.8,321.6 1082.3,318.4 1083.8,318.5 1085.3,318.7 1086.8,318.5 1088.3,316.9 1089.8,315.9 1091.3,316.8 1092.8,318.9 1094.3,321.9 1095.8,325.9 1097.3,330.6 1098.8,336.8 1100.3,344.7 1101.8,353 1103.3,361.1 1104.8,369.5 1106.3,378.2 1107.8,386.6 1109.3,394.5 1110.8,402 1112.3,409 1113.8,415.6 1115.3,422.1 1116.8,427.9 1118.3,433 1119.8,437.8 1121.3,442.5 1122.8,446 1124.3,448.8 1125.8,451 1127.3,452.6 1128.8,453.8 1130.3,454.9 1131.8,456.2 1133.3,457.3 1134.8,458.2 1136.3,458.7 1137.8,458.7 1139.3,458.4 1140.8,458.3 1142.3,459 1143.8,460 1145.3,460.8 1146.8,461 1148.3,461 1149.8,461.2 1151.3,461.6 1152.8,461.9 1154.3,461.9 1155.8,462 1157.3,462.2 1158.8,462.8 1160.3,463.2 1161.8,463.2 1163.3,462.9 1164.8,462.9 1166.3,463.2 1167.8,463.8 1169.3,464.5 1170.8,465.2 1172.3,465.7 1173.8,465.6 1175.3,465.3 1176.8,465.3 1178.3,465.8 1179.8,466.3 1181.3,466.6 1182.8,466.5 1184.3,466 1185.8,465.5 1187.3,465.2 1188.8,465.1 1190.3,465.2 1191.8,465.6 1193.3,466 1194.8,466 1196.3,465.8 1197.8,465.7 1199.3,465.7 1200.8,465.7 1202.3,465.5 1203.8,465.6 1205.3,466 1206.8,466.4 1208.3,466.9 1209.8,467.1 1211.3,466.8 1212.8,466.6 1214.3,466.6 1215.8,466.9 1217.3,467.4 1218.8,467.9 1220.3,468.3 1221.8,468.4 1223.3,468.3 1224.8,467.8 1226.3,467.3 1227.8,467.1 1229.3,467.2 1230.8,467.3 1232.3,467.6 1233.8,467.7 1235.3,467.5 1236.8,467.3 1238.3,467.3 1239.8,467.3 1241.3,467.2 1242.8,466.9 1244.3,466.7 1245.8,466.6 1247.3,466.2 1248.8,466 1250.3,466 1251.8,466.5 1253.3,467 1254.8,467.2 1256.3,467.5 1257.8,468.1 L1260.8,468.1 L1260.8,501.4 L692.3,501.4 Z" fill="#d9d9d9"/>
<path d="M692.3,472.1 L695.3,472.1 696.8,472.2 698.3,472.6 699.8,472.8 701.3,472.8 702.8,472.9 704.3,473 705.8,472.7 707.3,472 708.8,471.5 710.3,471.1 711.8,470.8 713.3,470.4 714.8,470 716.3,469.5 717.8,468.9 719.3,468.5 720.8,468.5 722.3,469.1 723.8,470.1 725.3,470.5 726.8,470.3 728.3,470.1 729.8,469.8 731.3,469.6 732.8,469.2 734.3,468.5 735.8,467.7 737.3,467 738.8,466.4 740.3,465.9 741.8,465.9 743.3,466.2 744.8,466.4 746.3,466.5 747.8,466.5 749.3,466.3 750.8,465.6 752.3,464.9 753.8,464.6 755.3,464.3 756.8,463.8 758.3,463.1 759.8,462.6 761.3,462.5 762.8,462.8 764.3,463.2 765.8,463.2 767.3,463 768.8,462.7 770.3,462.1 771.8,461.4 773.3,460.8 774.8,460.7 776.3,460.9 777.8,461.2 779.3,461 780.8,460.2 782.3,459.3 783.8,458.9 785.3,459 786.8,459.1 788.3,458.8 789.8,458.3 791.3,458 792.8,457.9 794.3,457.8 795.8,457.6 797.3,457.7 798.8,457.7 800.3,457.7 801.8,457.6 803.3,457.2 804.8,456.6 806.3,455.9 807.8,455.1 809.3,454.4 810.8,454 812.3,454 813.8,454.1 815.3,454 816.8,453.6 818.3,452.8 819.8,451.8 821.3,451.3 822.8,451.2 824.3,451.3 825.8,451.4 827.3,451.4 828.8,451.1 830.3,450.6 831.8,450 833.3,449.5 834.8,449.2 836.3,449.2 837.8,449.1 839.3,449 840.8,449.1 842.3,448.9 843.8,447.9 845.3,446.7 846.8,446.1 848.3,445.9 849.8,445.8 851.3,445.5 852.8,445.2 854.3,444.8 855.8,444.2 857.3,443.5 858.8,443.3 860.3,443.4 861.8,443.5 863.3,443.2 864.8,442.7 866.3,442.4 867.8,442.3 869.3,442 870.8,441.3 872.3,440.6 873.8,439.8 875.3,439.1 876.8,438.5 878.3,438.1 879.8,437.8 881.3,437.7 882.8,437.4 884.3,436.9 885.8,436.2 887.3,435.6 888.8,434.9 890.3,434 891.8,433.2 893.3,432.6 894.8,432 896.3,431.3 897.8,430.7 899.3,430 900.8,429.1 902.3,427.9 903.8,426.7 905.3,425.5 906.8,424.4 908.3,423.3 909.8,422.5 911.3,422 912.8,421.4 914.3,420 915.8,418.4 917.3,416.3 918.8,414.5 920.3,412.8 921.8,411.3 923.3,409.7 924.8,408 926.3,406.3 927.8,404.5 929.3,402.4 930.8,400 932.3,397.7 933.8,395.6 935.3,393.4 936.8,391 938.3,388.6 939.8,386.9 941.3,386.2 942.8,386.1 944.3,386.5 945.8,387.2 947.3,387.9 948.8,388.6 950.3,389.6 951.8,391.1 953.3,393.5 954.8,396.9 956.3,400.8 957.8,404.2 959.3,407.2 960.8,410.1 962.3,413.1 963.8,416.1 965.3,419.3 966.8,422.4 968.3,425 969.8,427.7 971.3,430.5 972.8,433.2 974.3,436.2 975.8,438.3 977.3,439.8 978.8,441.1 980.3,442.3 981.8,443.2 983.3,444.2 984.8,445.2 986.3,446 987.8,446.4 989.3,446.4 990.8,446.1 992.3,445.7 993.8,445.5 995.3,445.4 996.8,445.5 998.3,445.5 999.8,445.5 1001.3,445.1 1002.8,444.4 1004.3,443.5 1005.8,442.8 1007.3,442.1 1008.8,441.6 1010.3,441.5 1011.8,441.4 1013.3,440.8 1014.8,439.8 1016.3,439 1017.8,438.6 1019.3,438.4 1020.8,437.8 1022.3,436.8 1023.8,436 1025.3,435.8 1026.8,436 1028.3,436.3 1029.8,436.3 1031.3,435.8 1032.8,434.6 1034.3,433.3 1035.8,432.6 1037.3,432.5 1038.8,432.5 1040.3,432.2 1041.8,431.8 1043.3,431.3 1044.8,430.4 1046.3,429 1047.8,427.4 1049.3,425.9 1050.8,424.7 1052.3,423.8 1053.8,423.3 1055.3,422.6 1056.8,421.1 1058.3,418.9 1059.8,416.7 1061.3,415.1 1062.8,413.8 1064.3,412.5 1065.8,411.1 1067.3,409.5 1068.8,407.6 1070.3,405.6 1071.8,403.7 1073.3,401.4 1074.8,398 1076.3,394.5 1077.8,391.8 1079.3,389.9 1080.8,387.9 1082.3,385.6 1083.8,383.8 1085.3,382.7 1086.8,381.9 1088.3,381.9 1089.8,383.8 1091.3,387.2 1092.8,390.8 1094.3,394 1095.8,396.8 1097.3,400.2 1098.8,404.3 1100.3,409 1101.8,413.9 1103.3,419.3 1104.8,425 1106.3,430.9 1107.8,437 1109.3,443.3 1110.8,448.8 1112.3,453.4 1113.8,457 1115.3,460.7 1116.8,464.2 1118.3,466.9 1119.8,468.9 1121.3,470.7 1122.8,472.9 1124.3,474.7 1125.8,476.1 1127.3,477 1128.8,477.8 1130.3,478.4 1131.8,479.1 1133.3,479.9 1134.8,480.9 1136.3,481.8 1137.8,482.4 1139.3,482.7 1140.8,482.6 1142.3,482.2 1143.8,482.1 1145.3,482.4 1146.8,482.8 1148.3,483 1149.8,483.3 1151.3,483.8 1152.8,484 1154.3,483.8 1155.8,483.6 1157.3,483.7 1158.8,484.1 1160.3,484.5 1161.8,484.8 1163.3,485 1164.8,484.9 1166.3,484.5 1167.8,484 1169.3,484 1170.8,484.3 1172.3,484.6 1173.8,484.7 1175.3,484.8 1176.8,484.9 1178.3,485 1179.8,485.3 1181.3,485.6 1182.8,486.1 1184.3,486.6 1185.8,486.9 1187.3,486.8 1188.8,486.7 1190.3,487.1 1191.8,487.7 1193.3,488 1194.8,487.9 1196.3,487.7 1197.8,487.6 1199.3,487.5 1200.8,487 1202.3,486.2 1203.8,485.8 1205.3,486.1 1206.8,486.5 1208.3,486.6 1209.8,486.8 1211.3,487.3 1212.8,487.7 1214.3,487.6 1215.8,487.3 1217.3,487.2 1218.8,487.2 1220.3,487.4 1221.8,488 1223.3,488.6 1224.8,488.5 1226.3,487.7 1227.8,486.9 1229.3,487 1230.8,487.4 1232.3,488 1233.8,488.6 1235.3,488.9 1236.8,488.4 1238.3,487.8 1239.8,487.6 1241.3,487.6 1242.8,487.7 1244.3,488 1245.8,488.1 1247.3,487.9 1248.8,487.6 1250.3,487.7 1251.8,488 1253.3,488.3 1254.8,488.5 1256.3,488.5 1257.8,488.5 L1260.8,488.5 L1260.8,501.4 L692.3,501.4 Z" fill="#d9d9d9"/>
<path d="M695.3,267.1 696.8,266.5 698.3,266.3 699.8,266.2 701.3,266.1 702.8,265.9 704.3,265.6 705.8,265.2 707.3,265 708.8,265.3 710.3,265.5 711.8,265.3 713.3,265.1 714.8,265.2 716.3,265.2 717.8,264.9 719.3,264.3 720.8,263.6 722.3,263.2 723.8,263 725.3,263.2 726.8,263.5 728.3,263.7 729.8,263.8 731.3,264.2 732.8,264.4 734.3,264.2 735.8,263.8 737.3,263.6 738.8,263.5 740.3,263.4 741.8,263.4 743.3,263.6 744.8,263.3 746.3,262.2 747.8,261.7 749.3,261.7 750.8,261.8 752.3,262.5 753.8,262.9 755.3,262.8 756.8,262.6 758.3,262.4 759.8,262.3 761.3,262.6 762.8,263.2 764.3,263.6 765.8,263.2 767.3,262.2 768.8,261.4 770.3,260.9 771.8,260.7 773.3,260.9 774.8,261.2 776.3,261.4 777.8,261.1 779.3,260.5 780.8,260.2 782.3,260.2 783.8,260.7 785.3,261.1 786.8,261.3 788.3,261.4 789.8,261.2 791.3,260.7 792.8,259.9 794.3,259.3 795.8,259.5 797.3,260.3 798.8,260.8 800.3,260.7 801.8,260.2 803.3,259.6 804.8,259.3 806.3,259.3 807.8,259.4 809.3,259.3 810.8,259 812.3,258.8 813.8,258.8 815.3,258.7 816.8,258.7 818.3,258.8 819.8,258.8 821.3,258.8 822.8,258.7 824.3,258.4 825.8,257.7 827.3,256.9 828.8,256 830.3,255.4 831.8,255.2 833.3,255.3 834.8,255.3 836.3,255.2 837.8,254.9 839.3,254.8 840.8,255 842.3,255.4 843.8,255.8 845.3,255.9 846.8,255.5 848.3,254.8 849.8,254.2 851.3,253.8 852.8,253.3 854.3,252.8 855.8,252.5 857.3,252.2 858.8,251.9 860.3,251.4 861.8,250.8 863.3,250.1 864.8,249.4 866.3,248.6 867.8,248 869.3,247.1 870.8,246.1 872.3,245.4 873.8,245 875.3,244.5 876.8,243.8 878.3,243.1 879.8,242.7 881.3,242.2 882.8,241.1 884.3,239.7 885.8,238.2 887.3,237 888.8,235.8 890.3,234.7 891.8,233.6 893.3,232.4 894.8,231 896.3,229.4 897.8,228 899.3,226.5 900.8,224.5 902.3,221.9 903.8,218.9 905.3,215.9 906.8,213.3 908.3,211 909.8,209.2 911.3,207.5 912.8,205.7 914.3,204 915.8,202.5 917.3,201.4 918.8,200.8 920.3,200.4 921.8,200.4 923.3,201 924.8,202.2 926.3,203.6 927.8,204.4 929.3,205.1 930.8,205.2 932.3,205.6 933.8,206.5 935.3,208 936.8,209.7 938.3,211.2 939.8,212.7 941.3,214.6 942.8,216.9 944.3,218.9 945.8,221.1 947.3,223.2 948.8,225.3 950.3,227.3 951.8,229.2 953.3,231.3 954.8,233.3 956.3,235 957.8,236.7 959.3,238.4 960.8,240.1 962.3,241.4 963.8,242.2 965.3,243 966.8,244 968.3,245.4 969.8,247 971.3,248.7 972.8,250.2 974.3,251.4 975.8,252.2 977.3,252.6 978.8,253.1 980.3,253.9 981.8,254.7 983.3,255.3 984.8,255.8 986.3,256.4 987.8,256.9 989.3,256.7 990.8,256.1 992.3,255.5 993.8,255.4 995.3,255.4 996.8,254.9 998.3,254 999.8,253.1 1001.3,252 1002.8,251.1 1004.3,250.4 1005.8,249.7 1007.3,249.5 1008.8,249.3 1010.3,248.7 1011.8,247.7 1013.3,246.5 1014.8,245 1016.3,243.8 1017.8,242.8 1019.3,241.9 1020.8,241.2 1022.3,240.3 1023.8,239.2 1025.3,238 1026.8,237.1 1028.3,235.8 1029.8,234 1031.3,232.1 1032.8,230.6 1034.3,229.1 1035.8,227.1 1037.3,224.7 1038.8,222.2 1040.3,219.4 1041.8,216.6 1043.3,214 1044.8,210.2 1046.3,205.2 1047.8,200.1 1049.3,196.3 1050.8,194.5 1052.3,192.9 1053.8,191 1055.3,189.3 1056.8,188 1058.3,187.3 1059.8,186.8 1061.3,186.5 1062.8,186.5 1064.3,186.7 1065.8,187.1 1067.3,187.6 1068.8,188.5 1070.3,190 1071.8,191.5 1073.3,192.6 1074.8,193.7 1076.3,195.3 1077.8,197.5 1079.3,199.8 1080.8,202.6 1082.3,205.8 1083.8,209 1085.3,212 1086.8,214.9 1088.3,217.7 1089.8,220.6 1091.3,223.5 1092.8,226.4 1094.3,229.4 1095.8,232.2 1097.3,235.1 1098.8,238 1100.3,240.6 1101.8,243 1103.3,245.6 1104.8,248.1 1106.3,250.5 1107.8,252.6 1109.3,254.5 1110.8,256.1 1112.3,257.6 1113.8,259.2 1115.3,260.6 1116.8,261.6 1118.3,262.8 1119.8,263.9 1121.3,265 1122.8,266.3 1124.3,267.8 1125.8,268.9 1127.3,269.4 1128.8,269.5 1130.3,269.5 1131.8,269.7 1133.3,270 1134.8,270.2 1136.3,270.3 1137.8,270.3 1139.3,270.5 1140.8,270.7 1142.3,270.4 1143.8,270 1145.3,269.8 1146.8,269.8 1148.3,269.8 1149.8,269.8 1151.3,269.9 1152.8,270.4 1154.3,271.1 1155.8,271.6 1157.3,272.1 1158.8,272.4 1160.3,272.5 1161.8,272.6 1163.3,272.6 1164.8,271.6 1166.3,270.4 1167.8,270 1169.3,270.5 1170.8,271.4 1172.3,271.9 1173.8,272.1 1175.3,272 1176.8,271.7 1178.3,271.1 1179.8,270.7 1181.3,270.9 1182.8,271.3 1184.3,271.6 1185.8,271.7 1187.3,271.8 1188.8,272.2 1190.3,272.6 1191.8,272.9 1193.3,272.9 1194.8,272.6 1196.3,271.8 1197.8,271.3 1199.3,271.5 1200.8,272.1 1202.3,272.5 1203.8,272.3 1205.3,272.1 1206.8,272 1208.3,272 1209.8,272.1 1211.3,272.5 1212.8,272.8 1214.3,272.6 1215.8,271.9 1217.3,271.6 1218.8,271.9 1220.3,272.5 1221.8,272.8 1223.3,272.6 1224.8,272.4 1226.3,272.3 1227.8,272.6 1229.3,273.2 1230.8,273.8 1232.3,273.8 1233.8,273.4 1235.3,273 1236.8,272.7 1238.3,272.3 1239.8,271.9 1241.3,272 1242.8,272.5 1244.3,273 1245.8,273.5 1247.3,273.8 1248.8,273.8 1250.3,273.6 1251.8,273.4 1253.3,273.4 1254.8,273.6 1256.3,273.7 1257.8,273.6" fill="none" stroke="#000" stroke-width="3.3" stroke-linejoin="round"/>
<path d="M695.3,285.4 696.8,285.2 698.3,285.3 699.8,285.7 701.3,286.3 702.8,286.6 704.3,286.5 705.8,285.9 707.3,285.1 708.8,284.6 710.3,284.6 711.8,285 713.3,285.6 714.8,286.2 716.3,286.5 717.8,286.5 719.3,286.2 720.8,285.9 722.3,285.7 723.8,285.6 725.3,285.5 726.8,285.5 728.3,285.8 729.8,285.9 731.3,285.3 732.8,284.4 734.3,283.8 735.8,283.9 737.3,284.4 738.8,285 740.3,285.5 741.8,285.6 743.3,285.5 744.8,285.2 746.3,284.7 747.8,284.5 749.3,284.3 750.8,284.1 752.3,284.2 753.8,284.2 755.3,284.2 756.8,284 758.3,283.9 759.8,283.7 761.3,283.4 762.8,283.3 764.3,283.1 765.8,282.5 767.3,281.6 768.8,280.8 770.3,280.3 771.8,280.2 773.3,280.1 774.8,279.8 776.3,279.6 777.8,279.8 779.3,280 780.8,279.9 782.3,279.7 783.8,279.3 785.3,278.7 786.8,278.1 788.3,278.1 789.8,278.7 791.3,279.2 792.8,279 794.3,278.2 795.8,277.3 797.3,276.6 798.8,276.3 800.3,276.1 801.8,276.1 803.3,276.4 804.8,276.6 806.3,276.4 807.8,275.8 809.3,275.1 810.8,274.7 812.3,275 813.8,275.6 815.3,275.7 816.8,275.5 818.3,275.2 819.8,275.1 821.3,274.8 822.8,274.4 824.3,273.7 825.8,273 827.3,272.1 828.8,271.5 830.3,271.2 831.8,271.4 833.3,271.5 834.8,271.5 836.3,271.4 837.8,271.2 839.3,270.9 840.8,270.8 842.3,270.9 843.8,270.6 845.3,269.6 846.8,268.6 848.3,268.3 849.8,268.5 851.3,268.6 852.8,268.2 854.3,267.6 855.8,267.2 857.3,267.1 858.8,267 860.3,266.6 861.8,265.7 863.3,264.6 864.8,263.5 866.3,262.9 867.8,262.9 869.3,263.2 870.8,263.5 872.3,263.3 873.8,262.4 875.3,261.2 876.8,260.5 878.3,260.3 879.8,260 881.3,259.3 882.8,258.1 884.3,256.4 885.8,255 887.3,254.2 888.8,253.8 890.3,253.4 891.8,252.8 893.3,252.1 894.8,251.4 896.3,250.6 897.8,249.4 899.3,248.2 900.8,247.4 902.3,246.8 903.8,246.5 905.3,246.1 906.8,245.3 908.3,244 909.8,242.8 911.3,241.9 912.8,241 914.3,240.1 915.8,239.3 917.3,238.5 918.8,237.6 920.3,236.8 921.8,236.3 923.3,236.1 924.8,236.1 926.3,236.2 927.8,236.3 929.3,236.3 930.8,236.4 932.3,236.5 933.8,237.1 935.3,238 936.8,239 938.3,240 939.8,241.1 941.3,242.5 942.8,244.2 944.3,246.1 945.8,248.2 947.3,250.3 948.8,252.2 950.3,254.1 951.8,255.8 953.3,257.4 954.8,258.7 956.3,259.6 957.8,260.5 959.3,261.6 960.8,262.7 962.3,264.2 963.8,265.8 965.3,267 966.8,267.6 968.3,268.1 969.8,268.6 971.3,269 972.8,269.2 974.3,269.7 975.8,270.1 977.3,270.5 978.8,270.8 980.3,270.7 981.8,270.1 983.3,269.4 984.8,268.9 986.3,268.6 987.8,268.6 989.3,268.5 990.8,268.4 992.3,268.7 993.8,269.2 995.3,269.2 996.8,268.6 998.3,267.9 999.8,267.6 1001.3,267.3 1002.8,266.7 1004.3,265.9 1005.8,264.9 1007.3,264 1008.8,263.3 1010.3,262.6 1011.8,262 1013.3,261.4 1014.8,260.9 1016.3,260.1 1017.8,259.1 1019.3,257.9 1020.8,256.6 1022.3,255.5 1023.8,254.6 1025.3,253.6 1026.8,252.5 1028.3,251.2 1029.8,249.8 1031.3,248.6 1032.8,247.7 1034.3,246.5 1035.8,245 1037.3,243.7 1038.8,242.9 1040.3,242.1 1041.8,241 1043.3,239.6 1044.8,238.1 1046.3,236.9 1047.8,236.3 1049.3,235.9 1050.8,235.4 1052.3,234.4 1053.8,233.2 1055.3,232.1 1056.8,231.4 1058.3,231 1059.8,230.5 1061.3,229.6 1062.8,228.5 1064.3,227.7 1065.8,227.6 1067.3,227.7 1068.8,227.9 1070.3,228.3 1071.8,229.4 1073.3,230.6 1074.8,231.7 1076.3,232.6 1077.8,233.8 1079.3,235.6 1080.8,238 1082.3,241 1083.8,244.5 1085.3,247.8 1086.8,250.8 1088.3,253.9 1089.8,257.2 1091.3,259.9 1092.8,261.6 1094.3,263.2 1095.8,265.3 1097.3,267.5 1098.8,269.2 1100.3,270.5 1101.8,271.8 1103.3,273.4 1104.8,274.9 1106.3,275.8 1107.8,276.4 1109.3,277.4 1110.8,278.7 1112.3,279.6 1113.8,280.3 1115.3,281.2 1116.8,282.3 1118.3,283.2 1119.8,283.9 1121.3,284.6 1122.8,285.3 1124.3,285.8 1125.8,286.3 1127.3,286.8 1128.8,287.7 1130.3,288.4 1131.8,288.8 1133.3,289 1134.8,289.4 1136.3,289.9 1137.8,290.5 1139.3,291 1140.8,291.2 1142.3,291.3 1143.8,291 1145.3,290.8 1146.8,290.9 1148.3,290.8 1149.8,290.2 1151.3,289.7 1152.8,289.9 1154.3,290.7 1155.8,291.4 1157.3,291.6 1158.8,291.4 1160.3,291.5 1161.8,291.6 1163.3,291.6 1164.8,291.3 1166.3,290.8 1167.8,290.2 1169.3,290.2 1170.8,290.2 1172.3,290.4 1173.8,291.3 1175.3,292.1 1176.8,292.4 1178.3,292.3 1179.8,292.1 1181.3,292.1 1182.8,292.2 1184.3,292.2 1185.8,292.1 1187.3,291.9 1188.8,291.9 1190.3,292.2 1191.8,292.7 1193.3,293.1 1194.8,293.1 1196.3,292.4 1197.8,291.4 1199.3,290.9 1200.8,290.8 1202.3,290.9 1203.8,291.1 1205.3,291.6 1206.8,291.9 1208.3,291.8 1209.8,291.6 1211.3,291.6 1212.8,291.7 1214.3,291.8 1215.8,292.4 1217.3,292.9 1218.8,292.9 1220.3,292.5 1221.8,292 1223.3,291.7 1224.8,291.7 1226.3,291.8 1227.8,292.1 1229.3,292.5 1230.8,292.7 1232.3,292.2 1233.8,291.3 1235.3,290.8 1236.8,291.1 1238.3,291.9 1239.8,292.2 1241.3,291.9 1242.8,291.3 1244.3,291 1245.8,291.1 1247.3,291.2 1248.8,291.3 1250.3,291.5 1251.8,291.5 1253.3,291 1254.8,290.2 1256.3,289.9 1257.8,290.1" fill="none" stroke="#000" stroke-width="3.3" stroke-linejoin="round"/>
<path d="M695.3,334.9 696.8,335.1 698.3,334.9 699.8,334.5 701.3,333.9 702.8,333.6 704.3,333.5 705.8,333.5 707.3,333.4 708.8,333 710.3,332.4 711.8,331.9 713.3,331.5 714.8,331.4 716.3,331.3 717.8,331.3 719.3,331.7 720.8,332 722.3,331.7 723.8,331.3 725.3,331.4 726.8,331.7 728.3,331.8 729.8,331.7 731.3,331.8 732.8,332.1 734.3,332.2 735.8,331.7 737.3,331 738.8,330.7 740.3,330.9 741.8,331.1 743.3,330.9 744.8,330.4 746.3,330 747.8,329.9 749.3,329.6 750.8,329.2 752.3,328.8 753.8,328.7 755.3,328.7 756.8,328.6 758.3,328.6 759.8,328.5 761.3,328.3 762.8,327.9 764.3,327.5 765.8,327.2 767.3,326.8 768.8,326.1 770.3,325.6 771.8,325.5 773.3,325.7 774.8,325.7 776.3,325.5 777.8,325.3 779.3,325.4 780.8,325.5 782.3,325.2 783.8,324.2 785.3,323.1 786.8,322.6 788.3,322.5 789.8,322.2 791.3,321.8 792.8,321.4 794.3,321.1 795.8,321 797.3,320.9 798.8,320.6 800.3,320.2 801.8,319.9 803.3,320 804.8,320.2 806.3,320.3 807.8,319.9 809.3,319.1 810.8,318.1 812.3,317.3 813.8,317.1 815.3,317 816.8,316.7 818.3,316.1 819.8,315.7 821.3,315.7 822.8,316 824.3,315.8 825.8,315.2 827.3,314.7 828.8,314.6 830.3,314.5 831.8,314.2 833.3,313.6 834.8,313.1 836.3,312.8 837.8,312.5 839.3,311.9 840.8,311.4 842.3,311 843.8,310.2 845.3,309.3 846.8,308.6 848.3,308.7 849.8,309.1 851.3,308.7 852.8,308.1 854.3,307.1 855.8,305.7 857.3,304.4 858.8,303.4 860.3,302.4 861.8,301.5 863.3,300.9 864.8,300.9 866.3,301.3 867.8,301.1 869.3,300.1 870.8,298.6 872.3,297 873.8,295.5 875.3,294.4 876.8,293.8 878.3,293.4 879.8,292.6 881.3,291.6 882.8,290.8 884.3,290.1 885.8,289.1 887.3,287.7 888.8,286.3 890.3,285.3 891.8,284.5 893.3,283.6 894.8,282.4 896.3,281.3 897.8,280.5 899.3,279.7 900.8,279 902.3,278.3 903.8,277.5 905.3,276.5 906.8,275 908.3,273.3 909.8,271.6 911.3,270.7 912.8,270.5 914.3,270.2 915.8,269.4 917.3,268.6 918.8,267.7 920.3,266.4 921.8,265.2 923.3,263.9 924.8,262.7 926.3,261.7 927.8,260.9 929.3,260.2 930.8,259.4 932.3,258.8 933.8,258.4 935.3,258 936.8,257.4 938.3,257.1 939.8,257.2 941.3,257.7 942.8,258.3 944.3,259 945.8,259.6 947.3,260.6 948.8,262.1 950.3,263.7 951.8,265.1 953.3,266.3 954.8,267.5 956.3,269 957.8,270.9 959.3,273.3 960.8,276.1 962.3,279 963.8,281.7 965.3,283.7 966.8,285.3 968.3,287.2 969.8,289.7 971.3,292.2 972.8,294.4 974.3,296.2 975.8,297.4 977.3,298.4 978.8,299.9 980.3,301.5 981.8,303.2 983.3,304.8 984.8,306.1 986.3,307.4 987.8,308.5 989.3,308.8 990.8,308.2 992.3,307.4 993.8,306.7 995.3,306.4 996.8,306.2 998.3,306.2 999.8,306.3 1001.3,306.2 1002.8,305.8 1004.3,305.2 1005.8,304.3 1007.3,303 1008.8,301.9 1010.3,301.5 1011.8,301.8 1013.3,301.8 1014.8,301.4 1016.3,300.7 1017.8,300.1 1019.3,299.4 1020.8,298.2 1022.3,297 1023.8,295.7 1025.3,294.6 1026.8,293.3 1028.3,292.3 1029.8,291.7 1031.3,291.2 1032.8,290.8 1034.3,290.4 1035.8,289.6 1037.3,288.4 1038.8,286.9 1040.3,285.6 1041.8,284.8 1043.3,284.2 1044.8,283.3 1046.3,281.7 1047.8,279.6 1049.3,277.7 1050.8,276.1 1052.3,274.2 1053.8,271.1 1055.3,269.5 1056.8,268.7 1058.3,268 1059.8,267.3 1061.3,266.8 1062.8,266.3 1064.3,265.3 1065.8,263.6 1067.3,261.1 1068.8,258.3 1070.3,256.3 1071.8,255.8 1073.3,256.2 1074.8,256.4 1076.3,256.5 1077.8,256.9 1079.3,257.5 1080.8,258.5 1082.3,259.2 1083.8,259.6 1085.3,259.8 1086.8,261 1088.3,263.6 1089.8,267 1091.3,270.9 1092.8,274.4 1094.3,277.4 1095.8,280.1 1097.3,282.7 1098.8,285.5 1100.3,288.9 1101.8,293 1103.3,297.7 1104.8,301.8 1106.3,305.7 1107.8,309 1109.3,311.6 1110.8,314.6 1112.3,317.8 1113.8,320.9 1115.3,323.5 1116.8,325.6 1118.3,327.1 1119.8,328.7 1121.3,330.6 1122.8,332.2 1124.3,334 1125.8,335.9 1127.3,337.5 1128.8,338.9 1130.3,340.1 1131.8,341 1133.3,341.7 1134.8,342.3 1136.3,342.7 1137.8,342.8 1139.3,342.7 1140.8,342.7 1142.3,343 1143.8,343.6 1145.3,344.3 1146.8,344.8 1148.3,345.4 1149.8,346.2 1151.3,346.8 1152.8,347 1154.3,346.8 1155.8,346.4 1157.3,346.3 1158.8,346.4 1160.3,346.6 1161.8,347 1163.3,347.3 1164.8,347.4 1166.3,347.5 1167.8,348.1 1169.3,348.6 1170.8,348.7 1172.3,348.4 1173.8,347.9 1175.3,347.6 1176.8,347.8 1178.3,348.3 1179.8,348.7 1181.3,348.7 1182.8,348.6 1184.3,348.5 1185.8,348.6 1187.3,348.9 1188.8,348.9 1190.3,348.5 1191.8,348.2 1193.3,348.4 1194.8,349.1 1196.3,349.5 1197.8,349.4 1199.3,348.8 1200.8,348.3 1202.3,348.1 1203.8,348.5 1205.3,349 1206.8,349.2 1208.3,349.2 1209.8,349.1 1211.3,349.1 1212.8,349 1214.3,348.7 1215.8,348.4 1217.3,348.5 1218.8,348.7 1220.3,349.1 1221.8,349.5 1223.3,349.7 1224.8,349.9 1226.3,350.3 1227.8,350.6 1229.3,350.6 1230.8,350 1232.3,349.6 1233.8,349.5 1235.3,349.8 1236.8,349.9 1238.3,349.7 1239.8,349.3 1241.3,348.9 1242.8,348.9 1244.3,349.4 1245.8,350.1 1247.3,350.4 1248.8,350.2 1250.3,349.9 1251.8,349.6 1253.3,349.7 1254.8,350.1 1256.3,350.6 1257.8,350.6" fill="none" stroke="#000" stroke-width="3.3" stroke-linejoin="round"/>
<path d="M695.3,356.5 696.8,356.8 698.3,357.2 699.8,357.5 701.3,357.4 702.8,357.3 704.3,357.5 705.8,357.8 707.3,357.6 708.8,356.9 710.3,356.3 711.8,356.3 713.3,356.6 714.8,357 716.3,357.3 717.8,357.5 719.3,357.5 720.8,357.3 722.3,357.1 723.8,356.9 725.3,357 726.8,357.1 728.3,356.9 729.8,356.7 731.3,356.6 732.8,356.4 734.3,356 735.8,356.1 737.3,356.7 738.8,357.4 740.3,357.5 741.8,357.2 743.3,356.7 744.8,356.2 746.3,356 747.8,356 749.3,356.3 750.8,356.6 752.3,356.5 753.8,356.3 755.3,355.9 756.8,355.4 758.3,354.9 759.8,354.5 761.3,354.3 762.8,354.4 764.3,354.4 765.8,354.2 767.3,353.8 768.8,353.1 770.3,352.3 771.8,351.6 773.3,351.1 774.8,350.6 776.3,350.2 777.8,349.7 779.3,348.9 780.8,348 782.3,347.5 783.8,347.6 785.3,347.8 786.8,347.9 788.3,347.8 789.8,347.3 791.3,346.4 792.8,345.3 794.3,344.3 795.8,343.7 797.3,343.6 798.8,343.6 800.3,343.4 801.8,343.1 803.3,342.8 804.8,342.5 806.3,342.2 807.8,341.7 809.3,341 810.8,340.3 812.3,339.9 813.8,339.7 815.3,339.5 816.8,339.3 818.3,339.1 819.8,338.7 821.3,338.1 822.8,337.3 824.3,336.7 825.8,336.4 827.3,336.6 828.8,336.8 830.3,336.6 831.8,336 833.3,335.4 834.8,334.8 836.3,334.2 837.8,333.5 839.3,333 840.8,332.8 842.3,332.6 843.8,332.1 845.3,331.4 846.8,331 848.3,331.3 849.8,331.4 851.3,330.6 852.8,329.3 854.3,328.2 855.8,327.5 857.3,327 858.8,326.7 860.3,326.5 861.8,326 863.3,325 864.8,323.7 866.3,322.5 867.8,321.5 869.3,320.5 870.8,319.9 872.3,319.5 873.8,318.9 875.3,318.3 876.8,317.9 878.3,317.4 879.8,316.2 881.3,314.7 882.8,313.1 884.3,311.9 885.8,311.3 887.3,310.9 888.8,310.6 890.3,309.7 891.8,308.7 893.3,307.4 894.8,305.8 896.3,304 897.8,302.6 899.3,301.7 900.8,301.2 902.3,300.8 903.8,300.4 905.3,300 906.8,299.1 908.3,297.9 909.8,296.6 911.3,295.5 912.8,294.5 914.3,293.5 915.8,293 917.3,292.7 918.8,292.4 920.3,291.9 921.8,291.1 923.3,289.9 924.8,289 926.3,288.4 927.8,288 929.3,287.8 930.8,287.7 932.3,287.4 933.8,286.7 935.3,285.9 936.8,285.4 938.3,285.2 939.8,285 941.3,284.4 942.8,283.7 944.3,283 945.8,282.5 947.3,282.3 948.8,282.4 950.3,282.9 951.8,283.9 953.3,285.2 954.8,286.4 956.3,287.6 957.8,288.6 959.3,289.4 960.8,290.2 962.3,291.8 963.8,294.9 965.3,298.4 966.8,301.1 968.3,303.3 969.8,305.4 971.3,307.5 972.8,309.3 974.3,310.9 975.8,312.5 977.3,314.5 978.8,316.9 980.3,319.1 981.8,320.8 983.3,321.7 984.8,322.1 986.3,323.1 987.8,324.1 989.3,325.5 990.8,326.8 992.3,327.7 993.8,328.1 995.3,328.3 996.8,328.1 998.3,328.1 999.8,328.4 1001.3,328.7 1002.8,328.8 1004.3,329.1 1005.8,329.4 1007.3,329.2 1008.8,328.8 1010.3,328.6 1011.8,328.6 1013.3,328.2 1014.8,327.7 1016.3,327.4 1017.8,327.2 1019.3,326.9 1020.8,325.9 1022.3,324.6 1023.8,323.5 1025.3,323.1 1026.8,322.9 1028.3,322.3 1029.8,321.5 1031.3,320.4 1032.8,319.1 1034.3,317.7 1035.8,316.6 1037.3,315.3 1038.8,314.1 1040.3,313.2 1041.8,312.7 1043.3,312.3 1044.8,312.3 1046.3,312.6 1047.8,312.3 1049.3,311.2 1050.8,309.9 1052.3,308.7 1053.8,307.8 1055.3,306.9 1056.8,305.7 1058.3,304.2 1059.8,302.6 1061.3,301.3 1062.8,300.3 1064.3,299 1065.8,297 1067.3,294.6 1068.8,292.9 1070.3,291.3 1071.8,290.3 1073.3,289.4 1074.8,287.7 1076.3,285.8 1077.8,284.2 1079.3,283.5 1080.8,283 1082.3,282.4 1083.8,281.8 1085.3,281.5 1086.8,282 1088.3,283 1089.8,283.8 1091.3,284.7 1092.8,285.8 1094.3,287.3 1095.8,288.6 1097.3,289.8 1098.8,291.1 1100.3,293.6 1101.8,296.4 1103.3,299.3 1104.8,302.4 1106.3,306.2 1107.8,310 1109.3,313.7 1110.8,317.6 1112.3,321.5 1113.8,325.1 1115.3,328.5 1116.8,332 1118.3,335.7 1119.8,339.6 1121.3,343.6 1122.8,347.4 1124.3,351.1 1125.8,354.3 1127.3,357 1128.8,358.9 1130.3,360.5 1131.8,361.5 1133.3,362.1 1134.8,362.6 1136.3,363.4 1137.8,364.3 1139.3,365.3 1140.8,366.3 1142.3,367.1 1143.8,367.6 1145.3,367.9 1146.8,368.1 1148.3,368.1 1149.8,368.1 1151.3,368.6 1152.8,369.4 1154.3,370 1155.8,370.5 1157.3,370.9 1158.8,371.2 1160.3,371 1161.8,370.7 1163.3,370.8 1164.8,371.1 1166.3,371.3 1167.8,371.1 1169.3,370.7 1170.8,370.5 1172.3,370.5 1173.8,370.9 1175.3,371.2 1176.8,371.4 1178.3,371.3 1179.8,371.2 1181.3,371.3 1182.8,371.6 1184.3,372.1 1185.8,372.3 1187.3,372.3 1188.8,372.1 1190.3,371.9 1191.8,371.8 1193.3,372.1 1194.8,372.6 1196.3,373.1 1197.8,373.5 1199.3,373.7 1200.8,373.9 1202.3,374.1 1203.8,374.2 1205.3,374.1 1206.8,373.9 1208.3,373.8 1209.8,373.8 1211.3,374 1212.8,374.4 1214.3,374.7 1215.8,374.4 1217.3,373.9 1218.8,373.6 1220.3,373.8 1221.8,374.2 1223.3,374.5 1224.8,374.5 1226.3,374.4 1227.8,374.5 1229.3,374.7 1230.8,375.1 1232.3,375.7 1233.8,375.9 1235.3,375.5 1236.8,374.9 1238.3,374.6 1239.8,374.6 1241.3,374.7 1242.8,374.6 1244.3,374.5 1245.8,374.6 1247.3,374.9 1248.8,375.2 1250.3,375.2 1251.8,374.6 1253.3,373.7 1254.8,373.3 1256.3,373.3 1257.8,373.9" fill="none" stroke="#000" stroke-width="3.3" stroke-linejoin="round"/>
<path d="M695.3,383.5 696.8,383.1 698.3,382.7 699.8,382.3 701.3,382.1 702.8,382.1 704.3,382.2 705.8,382.3 707.3,382.1 708.8,381.6 710.3,381 711.8,380.5 713.3,380 714.8,379.8 716.3,379.7 717.8,379.9 719.3,380.5 720.8,381.1 722.3,381.6 723.8,381.7 725.3,381.4 726.8,380.9 728.3,380.5 729.8,380.1 731.3,379.8 732.8,379.9 734.3,380.1 735.8,380.1 737.3,379.9 738.8,379.5 740.3,378.8 741.8,378.1 743.3,377.5 744.8,377.4 746.3,377.5 747.8,377.7 749.3,377.8 750.8,377.5 752.3,376.8 753.8,376.3 755.3,376 756.8,376.1 758.3,375.9 759.8,375.5 761.3,375 762.8,374.9 764.3,375.2 765.8,375.3 767.3,374.9 768.8,374.4 770.3,374 771.8,373.8 773.3,373.8 774.8,373.7 776.3,373.4 777.8,372.8 779.3,372.1 780.8,371.5 782.3,371.2 783.8,371.1 785.3,370.8 786.8,370.4 788.3,370.5 789.8,371 791.3,371.4 792.8,371.2 794.3,370.3 795.8,369.5 797.3,369.2 798.8,369.3 800.3,369.3 801.8,369.2 803.3,369.2 804.8,369.2 806.3,368.7 807.8,368 809.3,367.5 810.8,367.4 812.3,367.4 813.8,367.2 815.3,366.7 816.8,365.9 818.3,365.2 819.8,364.9 821.3,365 822.8,365.1 824.3,364.9 825.8,364.5 827.3,363.8 828.8,363.2 830.3,362.7 831.8,362.4 833.3,362 834.8,361.2 836.3,360.3 837.8,359.5 839.3,358.8 840.8,358.5 842.3,358.3 843.8,358.1 845.3,357.5 846.8,357 848.3,356.5 849.8,356.6 851.3,357 852.8,357.2 854.3,356.7 855.8,355.5 857.3,354.3 858.8,353.5 860.3,353.2 861.8,352.9 863.3,352.6 864.8,351.9 866.3,351.1 867.8,350.2 869.3,349.5 870.8,348.9 872.3,348.1 873.8,347.5 875.3,347.1 876.8,347 878.3,346.8 879.8,346.5 881.3,345.8 882.8,344.8 884.3,343.9 885.8,342.7 887.3,341.5 888.8,340.4 890.3,339.5 891.8,338.7 893.3,338.2 894.8,337.7 896.3,337 897.8,336 899.3,334.9 900.8,334.5 902.3,334.4 903.8,333.8 905.3,332.5 906.8,330.8 908.3,329.2 909.8,328.2 911.3,327.7 912.8,327 914.3,325.8 915.8,324.5 917.3,323.2 918.8,322.3 920.3,321.9 921.8,321.7 923.3,321 924.8,319.7 926.3,317.9 927.8,315.8 929.3,313.7 930.8,312.2 932.3,311.4 933.8,310.6 935.3,309.5 936.8,307.8 938.3,306 939.8,304.3 941.3,302.9 942.8,301.4 944.3,300.2 945.8,299.7 947.3,300.1 948.8,300.8 950.3,301.4 951.8,302.2 953.3,303.3 954.8,304.6 956.3,306.4 957.8,309.4 959.3,312.7 960.8,315.8 962.3,318.6 963.8,321.9 965.3,325.9 966.8,329.7 968.3,332.5 969.8,334.4 971.3,336.1 972.8,337.8 974.3,339.9 975.8,342.1 977.3,344.1 978.8,346.1 980.3,348.2 981.8,349.9 983.3,351 984.8,351.5 986.3,351.9 987.8,352.7 989.3,354 990.8,355.3 992.3,356.1 993.8,356.8 995.3,357.6 996.8,358.4 998.3,358.7 999.8,358.3 1001.3,358 1002.8,358.1 1004.3,358.2 1005.8,358 1007.3,357.8 1008.8,357.3 1010.3,356.3 1011.8,354.9 1013.3,353.7 1014.8,353 1016.3,352.7 1017.8,352.5 1019.3,352.1 1020.8,351.6 1022.3,350.9 1023.8,349.9 1025.3,348.9 1026.8,348.2 1028.3,347.8 1029.8,347.6 1031.3,347.5 1032.8,347.2 1034.3,346.8 1035.8,345.9 1037.3,344.6 1038.8,343.2 1040.3,342.1 1041.8,341.3 1043.3,340.6 1044.8,339.5 1046.3,337.9 1047.8,336 1049.3,334.5 1050.8,333.4 1052.3,332.6 1053.8,331.5 1055.3,330 1056.8,328.7 1058.3,327.5 1059.8,326.1 1061.3,324.5 1062.8,323.2 1064.3,322.2 1065.8,321.3 1067.3,320 1068.8,318.5 1070.3,316.7 1071.8,314.9 1073.3,313.1 1074.8,311 1076.3,308.8 1077.8,306.9 1079.3,305.5 1080.8,304.4 1082.3,303.3 1083.8,302 1085.3,301 1086.8,300.4 1088.3,300.6 1089.8,301 1091.3,301.6 1092.8,302.4 1094.3,303.6 1095.8,304.9 1097.3,306 1098.8,307.2 1100.3,308.5 1101.8,310.5 1103.3,313.8 1104.8,317.9 1106.3,322.4 1107.8,327.2 1109.3,332.4 1110.8,338.6 1112.3,345.3 1113.8,351.7 1115.3,357.3 1116.8,363.1 1118.3,369.4 1119.8,375 1121.3,378.5 1122.8,380.7 1124.3,382.1 1125.8,383.4 1127.3,384.6 1128.8,386.2 1130.3,387.7 1131.8,389.2 1133.3,390.4 1134.8,391.2 1136.3,391.9 1137.8,392.6 1139.3,393.7 1140.8,395 1142.3,395.4 1143.8,395.7 1145.3,395.1 1146.8,394.7 1148.3,394.5 1149.8,394.4 1151.3,394.6 1152.8,395.2 1154.3,395.9 1155.8,396.5 1157.3,396.6 1158.8,396.1 1160.3,395.5 1161.8,395.3 1163.3,395.7 1164.8,396.5 1166.3,397.1 1167.8,397.3 1169.3,397.2 1170.8,396.9 1172.3,396.8 1173.8,397 1175.3,397.6 1176.8,398.2 1178.3,398.4 1179.8,398.2 1181.3,398.3 1182.8,398.6 1184.3,398.4 1185.8,398 1187.3,397.8 1188.8,398.1 1190.3,398.4 1191.8,398.4 1193.3,398.6 1194.8,399.1 1196.3,399.4 1197.8,399.2 1199.3,398.9 1200.8,398.8 1202.3,398.9 1203.8,398.7 1205.3,398.3 1206.8,397.8 1208.3,397.5 1209.8,397.2 1211.3,397.3 1212.8,397.3 1214.3,397.6 1215.8,398.2 1217.3,398.8 1218.8,399 1220.3,398.8 1221.8,398.5 1223.3,398.1 1224.8,397.8 1226.3,398.1 1227.8,398.9 1229.3,399.6 1230.8,399.6 1232.3,399.1 1233.8,398.7 1235.3,398.7 1236.8,398.8 1238.3,398.6 1239.8,398.3 1241.3,398.3 1242.8,398.7 1244.3,399.1 1245.8,399.2 1247.3,398.8 1248.8,398.6 1250.3,398.8 1251.8,398.9 1253.3,398.7 1254.8,398.3 1256.3,398.2 1257.8,398.5" fill="none" stroke="#000" stroke-width="3.3" stroke-linejoin="round"/>
<path d="M695.3,446.9 696.8,446.7 698.3,446.5 699.8,446 701.3,445.3 702.8,444.9 704.3,444.9 705.8,444.9 707.3,444.3 708.8,443.3 710.3,442.6 711.8,442.4 713.3,442.6 714.8,442.9 716.3,442.8 717.8,442.3 719.3,442 720.8,441.6 722.3,441.2 723.8,440.8 725.3,440.8 726.8,440.8 728.3,440.8 729.8,440.7 731.3,440.8 732.8,441.1 734.3,441.3 735.8,441.4 737.3,441.3 738.8,441 740.3,440.5 741.8,439.9 743.3,439.7 744.8,439.8 746.3,440 747.8,439.5 749.3,438.8 750.8,438.4 752.3,438.2 753.8,438.3 755.3,438.7 756.8,439.1 758.3,439 759.8,438.7 761.3,438.5 762.8,438.4 764.3,437.9 765.8,437.1 767.3,436.2 768.8,435.6 770.3,435.4 771.8,435.5 773.3,435.5 774.8,434.9 776.3,433.7 777.8,432.6 779.3,432.4 780.8,432.5 782.3,432.4 783.8,432 785.3,431.6 786.8,431.3 788.3,430.8 789.8,430.1 791.3,429.3 792.8,428.5 794.3,427.7 795.8,427 797.3,426.6 798.8,426.6 800.3,426.6 801.8,426.4 803.3,426 804.8,425.8 806.3,425.4 807.8,424.5 809.3,423.4 810.8,422.5 812.3,422.2 813.8,422.2 815.3,421.8 816.8,421.1 818.3,420.3 819.8,419.4 821.3,418.6 822.8,418 824.3,417.5 825.8,417.1 827.3,416.6 828.8,416.3 830.3,416.3 831.8,416.4 833.3,416.2 834.8,415.6 836.3,414.9 837.8,414.4 839.3,414.1 840.8,413.5 842.3,412.8 843.8,411.6 845.3,409.9 846.8,408.1 848.3,407.3 849.8,406.7 851.3,406.7 852.8,406.9 854.3,406.8 855.8,406.6 857.3,406.2 858.8,405.8 860.3,405.3 861.8,404.6 863.3,403.5 864.8,402.5 866.3,401.6 867.8,400.8 869.3,399.9 870.8,399.2 872.3,398.8 873.8,398.5 875.3,398.1 876.8,397.3 878.3,396 879.8,394.7 881.3,393.9 882.8,393.4 884.3,392.9 885.8,392.1 887.3,390.8 888.8,389.5 890.3,388.4 891.8,387.2 893.3,385.8 894.8,384.5 896.3,383.5 897.8,382.4 899.3,381 900.8,379.5 902.3,378.1 903.8,376.4 905.3,374.1 906.8,371.8 908.3,370.2 909.8,369.1 911.3,368.3 912.8,367.3 914.3,366.1 915.8,364.4 917.3,362.6 918.8,360.9 920.3,359.1 921.8,357.1 923.3,355.1 924.8,352.9 926.3,350.1 927.8,347.3 929.3,344.5 930.8,341.4 932.3,338.2 933.8,335 935.3,332.2 936.8,330.2 938.3,329 939.8,327.9 941.3,326.7 942.8,325.7 944.3,324.7 945.8,323.9 947.3,323.4 948.8,323.1 950.3,323.6 951.8,324.9 953.3,326.8 954.8,329 956.3,331.3 957.8,333.9 959.3,336.7 960.8,339.8 962.3,343 963.8,348.1 965.3,354.6 966.8,361.5 968.3,367.4 969.8,372.5 971.3,378.3 972.8,384.1 974.3,389.3 975.8,393.5 977.3,396.3 978.8,397.9 980.3,399.4 981.8,400.8 983.3,402.6 984.8,404.5 986.3,406.2 987.8,407.3 989.3,407.8 990.8,407.5 992.3,406.7 993.8,405.9 995.3,406 996.8,406.5 998.3,406.5 999.8,406 1001.3,405.6 1002.8,405.6 1004.3,405.8 1005.8,405.8 1007.3,405.1 1008.8,403.9 1010.3,402.9 1011.8,402.5 1013.3,402.4 1014.8,402.2 1016.3,402 1017.8,401.5 1019.3,400.7 1020.8,399.7 1022.3,398.8 1023.8,398.1 1025.3,397.6 1026.8,397.1 1028.3,396.3 1029.8,395.2 1031.3,394 1032.8,392.7 1034.3,391.4 1035.8,390.1 1037.3,388.7 1038.8,387.1 1040.3,385.6 1041.8,384.2 1043.3,382.7 1044.8,381.2 1046.3,379.7 1047.8,378.5 1049.3,377.4 1050.8,376.3 1052.3,375.2 1053.8,373.7 1055.3,371.7 1056.8,369.7 1058.3,368.1 1059.8,366.7 1061.3,365.1 1062.8,363.4 1064.3,361.4 1065.8,359 1067.3,356.4 1068.8,353.8 1070.3,351.4 1071.8,348.8 1073.3,345.5 1074.8,341.1 1076.3,336.2 1077.8,331.3 1079.3,326.7 1080.8,321.6 1082.3,318.4 1083.8,318.5 1085.3,318.7 1086.8,318.5 1088.3,316.9 1089.8,315.9 1091.3,316.8 1092.8,318.9 1094.3,321.9 1095.8,325.9 1097.3,330.6 1098.8,336.8 1100.3,344.7 1101.8,353 1103.3,361.1 1104.8,369.5 1106.3,378.2 1107.8,386.6 1109.3,394.5 1110.8,402 1112.3,409 1113.8,415.6 1115.3,422.1 1116.8,427.9 1118.3,433 1119.8,437.8 1121.3,442.5 1122.8,446 1124.3,448.8 1125.8,451 1127.3,452.6 1128.8,453.8 1130.3,454.9 1131.8,456.2 1133.3,457.3 1134.8,458.2 1136.3,458.7 1137.8,458.7 1139.3,458.4 1140.8,458.3 1142.3,459 1143.8,460 1145.3,460.8 1146.8,461 1148.3,461 1149.8,461.2 1151.3,461.6 1152.8,461.9 1154.3,461.9 1155.8,462 1157.3,462.2 1158.8,462.8 1160.3,463.2 1161.8,463.2 1163.3,462.9 1164.8,462.9 1166.3,463.2 1167.8,463.8 1169.3,464.5 1170.8,465.2 1172.3,465.7 1173.8,465.6 1175.3,465.3 1176.8,465.3 1178.3,465.8 1179.8,466.3 1181.3,466.6 1182.8,466.5 1184.3,466 1185.8,465.5 1187.3,465.2 1188.8,465.1 1190.3,465.2 1191.8,465.6 1193.3,466 1194.8,466 1196.3,465.8 1197.8,465.7 1199.3,465.7 1200.8,465.7 1202.3,465.5 1203.8,465.6 1205.3,466 1206.8,466.4 1208.3,466.9 1209.8,467.1 1211.3,466.8 1212.8,466.6 1214.3,466.6 1215.8,466.9 1217.3,467.4 1218.8,467.9 1220.3,468.3 1221.8,468.4 1223.3,468.3 1224.8,467.8 1226.3,467.3 1227.8,467.1 1229.3,467.2 1230.8,467.3 1232.3,467.6 1233.8,467.7 1235.3,467.5 1236.8,467.3 1238.3,467.3 1239.8,467.3 1241.3,467.2 1242.8,466.9 1244.3,466.7 1245.8,466.6 1247.3,466.2 1248.8,466 1250.3,466 1251.8,466.5 1253.3,467 1254.8,467.2 1256.3,467.5 1257.8,468.1" fill="none" stroke="#000" stroke-width="3.3" stroke-linejoin="round"/>
<path d="M695.3,472.1 696.8,472.2 698.3,472.6 699.8,472.8 701.3,472.8 702.8,472.9 704.3,473 705.8,472.7 707.3,472 708.8,471.5 710.3,471.1 711.8,470.8 713.3,470.4 714.8,470 716.3,469.5 717.8,468.9 719.3,468.5 720.8,468.5 722.3,469.1 723.8,470.1 725.3,470.5 726.8,470.3 728.3,470.1 729.8,469.8 731.3,469.6 732.8,469.2 734.3,468.5 735.8,467.7 737.3,467 738.8,466.4 740.3,465.9 741.8,465.9 743.3,466.2 744.8,466.4 746.3,466.5 747.8,466.5 749.3,466.3 750.8,465.6 752.3,464.9 753.8,464.6 755.3,464.3 756.8,463.8 758.3,463.1 759.8,462.6 761.3,462.5 762.8,462.8 764.3,463.2 765.8,463.2 767.3,463 768.8,462.7 770.3,462.1 771.8,461.4 773.3,460.8 774.8,460.7 776.3,460.9 777.8,461.2 779.3,461 780.8,460.2 782.3,459.3 783.8,458.9 785.3,459 786.8,459.1 788.3,458.8 789.8,458.3 791.3,458 792.8,457.9 794.3,457.8 795.8,457.6 797.3,457.7 798.8,457.7 800.3,457.7 801.8,457.6 803.3,457.2 804.8,456.6 806.3,455.9 807.8,455.1 809.3,454.4 810.8,454 812.3,454 813.8,454.1 815.3,454 816.8,453.6 818.3,452.8 819.8,451.8 821.3,451.3 822.8,451.2 824.3,451.3 825.8,451.4 827.3,451.4 828.8,451.1 830.3,450.6 831.8,450 833.3,449.5 834.8,449.2 836.3,449.2 837.8,449.1 839.3,449 840.8,449.1 842.3,448.9 843.8,447.9 845.3,446.7 846.8,446.1 848.3,445.9 849.8,445.8 851.3,445.5 852.8,445.2 854.3,444.8 855.8,444.2 857.3,443.5 858.8,443.3 860.3,443.4 861.8,443.5 863.3,443.2 864.8,442.7 866.3,442.4 867.8,442.3 869.3,442 870.8,441.3 872.3,440.6 873.8,439.8 875.3,439.1 876.8,438.5 878.3,438.1 879.8,437.8 881.3,437.7 882.8,437.4 884.3,436.9 885.8,436.2 887.3,435.6 888.8,434.9 890.3,434 891.8,433.2 893.3,432.6 894.8,432 896.3,431.3 897.8,430.7 899.3,430 900.8,429.1 902.3,427.9 903.8,426.7 905.3,425.5 906.8,424.4 908.3,423.3 909.8,422.5 911.3,422 912.8,421.4 914.3,420 915.8,418.4 917.3,416.3 918.8,414.5 920.3,412.8 921.8,411.3 923.3,409.7 924.8,408 926.3,406.3 927.8,404.5 929.3,402.4 930.8,400 932.3,397.7 933.8,395.6 935.3,393.4 936.8,391 938.3,388.6 939.8,386.9 941.3,386.2 942.8,386.1 944.3,386.5 945.8,387.2 947.3,387.9 948.8,388.6 950.3,389.6 951.8,391.1 953.3,393.5 954.8,396.9 956.3,400.8 957.8,404.2 959.3,407.2 960.8,410.1 962.3,413.1 963.8,416.1 965.3,419.3 966.8,422.4 968.3,425 969.8,427.7 971.3,430.5 972.8,433.2 974.3,436.2 975.8,438.3 977.3,439.8 978.8,441.1 980.3,442.3 981.8,443.2 983.3,444.2 984.8,445.2 986.3,446 987.8,446.4 989.3,446.4 990.8,446.1 992.3,445.7 993.8,445.5 995.3,445.4 996.8,445.5 998.3,445.5 999.8,445.5 1001.3,445.1 1002.8,444.4 1004.3,443.5 1005.8,442.8 1007.3,442.1 1008.8,441.6 1010.3,441.5 1011.8,441.4 1013.3,440.8 1014.8,439.8 1016.3,439 1017.8,438.6 1019.3,438.4 1020.8,437.8 1022.3,436.8 1023.8,436 1025.3,435.8 1026.8,436 1028.3,436.3 1029.8,436.3 1031.3,435.8 1032.8,434.6 1034.3,433.3 1035.8,432.6 1037.3,432.5 1038.8,432.5 1040.3,432.2 1041.8,431.8 1043.3,431.3 1044.8,430.4 1046.3,429 1047.8,427.4 1049.3,425.9 1050.8,424.7 1052.3,423.8 1053.8,423.3 1055.3,422.6 1056.8,421.1 1058.3,418.9 1059.8,416.7 1061.3,415.1 1062.8,413.8 1064.3,412.5 1065.8,411.1 1067.3,409.5 1068.8,407.6 1070.3,405.6 1071.8,403.7 1073.3,401.4 1074.8,398 1076.3,394.5 1077.8,391.8 1079.3,389.9 1080.8,387.9 1082.3,385.6 1083.8,383.8 1085.3,382.7 1086.8,381.9 1088.3,381.9 1089.8,383.8 1091.3,387.2 1092.8,390.8 1094.3,394 1095.8,396.8 1097.3,400.2 1098.8,404.3 1100.3,409 1101.8,413.9 1103.3,419.3 1104.8,425 1106.3,430.9 1107.8,437 1109.3,443.3 1110.8,448.8 1112.3,453.4 1113.8,457 1115.3,460.7 1116.8,464.2 1118.3,466.9 1119.8,468.9 1121.3,470.7 1122.8,472.9 1124.3,474.7 1125.8,476.1 1127.3,477 1128.8,477.8 1130.3,478.4 1131.8,479.1 1133.3,479.9 1134.8,480.9 1136.3,481.8 1137.8,482.4 1139.3,482.7 1140.8,482.6 1142.3,482.2 1143.8,482.1 1145.3,482.4 1146.8,482.8 1148.3,483 1149.8,483.3 1151.3,483.8 1152.8,484 1154.3,483.8 1155.8,483.6 1157.3,483.7 1158.8,484.1 1160.3,484.5 1161.8,484.8 1163.3,485 1164.8,484.9 1166.3,484.5 1167.8,484 1169.3,484 1170.8,484.3 1172.3,484.6 1173.8,484.7 1175.3,484.8 1176.8,484.9 1178.3,485 1179.8,485.3 1181.3,485.6 1182.8,486.1 1184.3,486.6 1185.8,486.9 1187.3,486.8 1188.8,486.7 1190.3,487.1 1191.8,487.7 1193.3,488 1194.8,487.9 1196.3,487.7 1197.8,487.6 1199.3,487.5 1200.8,487 1202.3,486.2 1203.8,485.8 1205.3,486.1 1206.8,486.5 1208.3,486.6 1209.8,486.8 1211.3,487.3 1212.8,487.7 1214.3,487.6 1215.8,487.3 1217.3,487.2 1218.8,487.2 1220.3,487.4 1221.8,488 1223.3,488.6 1224.8,488.5 1226.3,487.7 1227.8,486.9 1229.3,487 1230.8,487.4 1232.3,488 1233.8,488.6 1235.3,488.9 1236.8,488.4 1238.3,487.8 1239.8,487.6 1241.3,487.6 1242.8,487.7 1244.3,488 1245.8,488.1 1247.3,487.9 1248.8,487.6 1250.3,487.7 1251.8,488 1253.3,488.3 1254.8,488.5 1256.3,488.5 1257.8,488.5" fill="none" stroke="#000" stroke-width="3.3" stroke-linejoin="round"/>
<line x1="1127.3" y1="114.4" x2="1127.3" y2="499.4" stroke="#2a22c4" stroke-width="3.2" stroke-dasharray="3.2 11" stroke-dashoffset="0"/>
<line x1="1051.8" y1="76.7" x2="1051.8" y2="499.4" stroke="#f08a30" stroke-width="3" stroke-dasharray="13.6 6.4 2.5 6.8" stroke-dashoffset="0"/>
<line x1="1082.6" y1="102.6" x2="1082.6" y2="499.4" stroke="#de1f26" stroke-width="3" stroke-dasharray="12 12.1" stroke-dashoffset="0"/>
</g>
<clipPath id="clipc"><rect x="65.7" y="616.8" width="564.3" height="394.9"/></clipPath>
<g clip-path="url(#clipc)">
<path d="M63.7,748 L66.7,748 68.2,747.2 69.7,745.9 71.2,745.2 72.7,745.3 74.2,745.3 75.7,745.2 77.2,745.4 78.7,745.6 80.2,745.2 81.7,744.7 83.2,744.5 84.7,744.8 86.2,745.2 87.7,745.4 89.2,745.6 90.7,746.2 92.2,746.6 93.7,746.7 95.2,746.4 96.7,746.1 98.2,745.7 99.7,745.3 101.2,745 102.7,745.2 104.2,745.3 105.7,745.1 107.2,744.8 108.7,744.5 110.2,744.2 111.7,744.1 113.2,744.4 114.7,745 116.2,745.3 117.7,745.1 119.2,744.9 120.7,745.4 122.2,746.2 123.7,746.8 125.2,746.7 126.7,746.1 128.2,745.8 129.7,746 131.2,746.1 132.7,745.6 134.2,744.9 135.7,745 137.2,745.9 138.7,746.3 140.2,745.8 141.7,744.7 143.2,743.6 144.7,742.9 146.2,742.7 147.7,742.5 149.2,742.2 150.7,742.1 152.2,742.6 153.7,743 155.2,742.8 156.7,742.1 158.2,741.6 159.7,741.5 161.2,741.5 162.7,741.2 164.2,741.3 165.7,741.9 167.2,742.6 168.7,743 170.2,743.2 171.7,742.9 173.2,742.3 174.7,741.8 176.2,742 177.7,742.6 179.2,742.9 180.7,743 182.2,743.3 183.7,744.1 185.2,744.7 186.7,744.7 188.2,744.1 189.7,743.4 191.2,742.6 192.7,741.7 194.2,740.8 195.7,740.2 197.2,740.1 198.7,740 200.2,739.3 201.7,738.5 203.2,738.3 204.7,738.5 206.2,738.5 207.7,738.2 209.2,738.3 210.7,738.8 212.2,739.6 213.7,740.3 215.2,740.8 216.7,740.8 218.2,739.6 219.7,737.4 221.2,734.9 222.7,733.1 224.2,732.3 225.7,731.9 227.2,731.8 228.7,732.2 230.2,732.8 231.7,732.9 233.2,732.5 234.7,731.7 236.2,730.7 237.7,730 239.2,730.1 240.7,730.9 242.2,731.6 243.7,731.4 245.2,730.7 246.7,730.2 248.2,730 249.7,729.8 251.2,729.4 252.7,729 254.2,728.7 255.7,728.6 257.2,728.5 258.7,728.1 260.2,727.3 261.7,726.1 263.2,724.8 264.7,723.5 266.2,722 267.7,720.2 269.2,718.5 270.7,717.2 272.2,716.7 273.7,716.8 275.2,716.8 276.7,716.1 278.2,714.7 279.7,713.2 281.2,711.9 282.7,711.3 284.2,710.7 285.7,710.1 287.2,709.7 288.7,710.4 290.2,710.9 291.7,711.2 293.2,711.6 294.7,712.1 296.2,712 297.7,712 299.2,712.3 300.7,712.5 302.2,712.4 303.7,712.4 305.2,712.3 306.7,712.1 308.2,712.3 309.7,713.1 311.2,714.2 312.7,715.1 314.2,715.7 315.7,716.6 317.2,717.4 318.7,717.6 320.2,717.6 321.7,717.4 323.2,716.9 324.7,716.9 326.2,718.5 327.7,721 329.2,723.4 330.7,724.9 332.2,725.5 333.7,725.3 335.2,725 336.7,724.9 338.2,725 339.7,724.6 341.2,724.3 342.7,723.7 344.2,722.5 345.7,721.7 347.2,721.8 348.7,722.3 350.2,722.9 351.7,723.7 353.2,724.5 354.7,724.8 356.2,725 357.7,725.4 359.2,725.6 360.7,725.6 362.2,725.7 363.7,726.2 365.2,727.4 366.7,729.1 368.2,730.9 369.7,732.1 371.2,732.6 372.7,732.9 374.2,732.9 375.7,732.6 377.2,732.1 378.7,731.8 380.2,731.5 381.7,731.1 383.2,730.6 384.7,730.4 386.2,730.4 387.7,730.8 389.2,731.5 390.7,732.2 392.2,732.6 393.7,732.8 395.2,732.6 396.7,731.9 398.2,730.8 399.7,729.7 401.2,729.9 402.7,730.4 404.2,731.8 405.7,733.1 407.2,734.3 408.7,735.5 410.2,736.6 411.7,737.8 413.2,738.3 414.7,738.6 416.2,739 417.7,738.2 419.2,737.2 420.7,736.6 422.2,736.1 423.7,736.2 425.2,737.2 426.7,738.4 428.2,738.7 429.7,738.4 431.2,738.3 432.7,738.3 434.2,738.2 435.7,737.7 437.2,737.3 438.7,737.5 440.2,738.9 441.7,740.9 443.2,742.7 444.7,743.3 446.2,743.1 447.7,741.9 449.2,740.5 450.7,739.4 452.2,738.9 453.7,739.3 455.2,740.7 456.7,742.3 458.2,742.9 459.7,742.5 461.2,741.5 462.7,740.8 464.2,741.3 465.7,742.6 467.2,744 468.7,744.3 470.2,743.6 471.7,742.8 473.2,742.4 474.7,742.3 476.2,742.6 477.7,743.3 479.2,743.8 480.7,743.6 482.2,743.1 483.7,742.7 485.2,742.9 486.7,743.3 488.2,743.5 489.7,743.4 491.2,743.3 492.7,743 494.2,743.1 495.7,744 497.2,745.5 498.7,746.6 500.2,747.3 501.7,747.5 503.2,747.2 504.7,746.9 506.2,747 507.7,747.2 509.2,747.1 510.7,746.7 512.2,746.5 513.7,746.3 515.2,745.7 516.7,745 518.2,744.6 519.7,744.6 521.2,744.4 522.7,744.5 524.2,744.8 525.7,745 527.2,744.7 528.7,744.2 530.2,743.6 531.7,743.3 533.2,743.4 534.7,743.9 536.2,744.8 537.7,745.7 539.2,746.6 540.7,747.4 542.2,747.6 543.7,746.8 545.2,745.5 546.7,744.8 548.2,744.7 549.7,744.9 551.2,745.3 552.7,746 554.2,746.7 555.7,746.7 557.2,746.2 558.7,746.2 560.2,746.8 561.7,747.4 563.2,747.2 564.7,746 566.2,745.3 567.7,746.1 569.2,747.5 570.7,747.8 572.2,746.7 573.7,745.6 575.2,744.9 576.7,744.5 578.2,744.5 579.7,745.5 581.2,746.9 582.7,747.6 584.2,747.5 585.7,747.2 587.2,746.8 588.7,746 590.2,745.3 591.7,745.5 593.2,746.4 594.7,747 596.2,746.9 597.7,746.3 599.2,745.5 600.7,744.9 602.2,744.9 603.7,745.4 605.2,745.8 606.7,745.7 608.2,745.8 609.7,746.3 611.2,746.5 612.7,746 614.2,744.7 615.7,743.5 617.2,742.8 618.7,743 620.2,743.6 621.7,744.2 623.2,744.7 624.7,745.1 626.2,745.2 627.7,745.1 L630.7,745.1 L630.7,1013.7 L63.7,1013.7 Z" fill="#d9d9d9"/>
<path d="M63.7,778.5 L66.7,778.5 68.2,779.8 69.7,780.8 71.2,780.8 72.7,780.5 74.2,780.1 75.7,779.6 77.2,778.9 78.7,778.4 80.2,778.4 81.7,778.8 83.2,778.8 84.7,778.4 86.2,778.2 87.7,778.7 89.2,778.9 90.7,778.2 92.2,777.2 93.7,776.3 95.2,775.3 96.7,775.2 98.2,775.4 99.7,776.3 101.2,777 102.7,777.5 104.2,777.7 105.7,777.6 107.2,777.6 108.7,778.1 110.2,779.1 111.7,779.7 113.2,779 114.7,777 116.2,775.1 117.7,774.8 119.2,775.7 120.7,776.6 122.2,777.3 123.7,777.9 125.2,778 126.7,777.5 128.2,777 129.7,776.7 131.2,776.6 132.7,776.4 134.2,775.8 135.7,775.2 137.2,775.2 138.7,775.7 140.2,776.4 141.7,777.2 143.2,777.9 144.7,778.4 146.2,778.2 147.7,777.6 149.2,777.4 150.7,777.4 152.2,777 153.7,776.9 155.2,777.7 156.7,778.4 158.2,778.5 159.7,778.6 161.2,778.9 162.7,779.1 164.2,779.5 165.7,780.3 167.2,781 168.7,781.1 170.2,780.7 171.7,780 173.2,779.2 174.7,778.7 176.2,778.4 177.7,777.9 179.2,777 180.7,775.9 182.2,775.1 183.7,774.7 185.2,774.6 186.7,774.3 188.2,773.7 189.7,773.2 191.2,772.5 192.7,771.7 194.2,770.7 195.7,769.6 197.2,768.7 198.7,768.5 200.2,768.8 201.7,769.1 203.2,769.1 204.7,768.6 206.2,767.7 207.7,766.8 209.2,765.9 210.7,765.2 212.2,765.2 213.7,766.1 215.2,767.4 216.7,768.3 218.2,768.2 219.7,767.2 221.2,766 222.7,765.7 224.2,766.3 225.7,766.8 227.2,766.8 228.7,766.7 230.2,766.3 231.7,765.5 233.2,764.3 234.7,762.7 236.2,761.6 237.7,761.3 239.2,761.8 240.7,762 242.2,761.7 243.7,761.4 245.2,761.6 246.7,762.5 248.2,763.3 249.7,763.4 251.2,762.5 252.7,760.9 254.2,759.1 255.7,757.6 257.2,756.2 258.7,754.5 260.2,752.8 261.7,752.1 263.2,752.1 264.7,751.9 266.2,751.3 267.7,751 269.2,750.7 270.7,750.1 272.2,749.8 273.7,750.2 275.2,751.1 276.7,751.8 278.2,752 279.7,751.4 281.2,749.7 282.7,747.5 284.2,745.5 285.7,744.2 287.2,743.5 288.7,742.3 290.2,740.5 291.7,738.4 293.2,737 294.7,736.6 296.2,736.2 297.7,735.4 299.2,734.6 300.7,733.7 302.2,733.1 303.7,733.6 305.2,734.9 306.7,736 308.2,736.7 309.7,737 311.2,737.3 312.7,737.3 314.2,737.2 315.7,737.2 317.2,737.4 318.7,737.4 320.2,736.9 321.7,735.8 323.2,734.8 324.7,733.9 326.2,732.6 327.7,731.2 329.2,730.2 330.7,729.8 332.2,729.7 333.7,729.9 335.2,730 336.7,730.5 338.2,733 339.7,735.1 341.2,734.5 342.7,733.3 344.2,732.8 345.7,733.4 347.2,734.6 348.7,735.7 350.2,736.4 351.7,736.5 353.2,736.3 354.7,736.3 356.2,736.5 357.7,737.1 359.2,737.5 360.7,737.2 362.2,736.4 363.7,736.1 365.2,736.7 366.7,737.6 368.2,738.7 369.7,740.4 371.2,742.4 372.7,744.1 374.2,746.1 375.7,748.4 377.2,750.1 378.7,751.2 380.2,752.2 381.7,753.2 383.2,754 384.7,754.5 386.2,754.4 387.7,754 389.2,754 390.7,754.4 392.2,755.1 393.7,756.4 395.2,757.5 396.7,758 398.2,758.2 399.7,758.3 401.2,758.3 402.7,758.2 404.2,758.2 405.7,758.2 407.2,758.2 408.7,758.1 410.2,757.7 411.7,757.5 413.2,757.7 414.7,757.9 416.2,757.7 417.7,757.2 419.2,757.2 420.7,757.9 422.2,758.8 423.7,759.5 425.2,759.8 426.7,759.5 428.2,758.9 429.7,758.5 431.2,759 432.7,759.5 434.2,760 435.7,760.8 437.2,762 438.7,763.2 440.2,763.9 441.7,764.2 443.2,764.1 444.7,764.1 446.2,765 447.7,766.9 449.2,768.9 450.7,770.5 452.2,771.2 453.7,771 455.2,770.6 456.7,770.3 458.2,770.4 459.7,770.8 461.2,771.7 462.7,772.5 464.2,773 465.7,773.8 467.2,774.6 468.7,775.1 470.2,775.2 471.7,775.4 473.2,775.8 474.7,776.3 476.2,777 477.7,777.7 479.2,778.2 480.7,778.5 482.2,778.7 483.7,778.9 485.2,779.2 486.7,779.6 488.2,779.6 489.7,779 491.2,778.3 492.7,778.1 494.2,778.8 495.7,780 497.2,781 498.7,781 500.2,779.9 501.7,778.3 503.2,777 504.7,777 506.2,777 507.7,777 509.2,777 510.7,777.1 512.2,777.9 513.7,778.6 515.2,779.6 516.7,780.8 518.2,781.2 519.7,780.8 521.2,780.5 522.7,780.3 524.2,779.6 525.7,778.6 527.2,778 528.7,778.4 530.2,779.1 531.7,779.3 533.2,778.9 534.7,779.1 536.2,780.1 537.7,781.3 539.2,782.2 540.7,782.6 542.2,782.4 543.7,781.7 545.2,781 546.7,780.6 548.2,779.9 549.7,779.2 551.2,778.5 552.7,777.9 554.2,777.5 555.7,777.3 557.2,777.6 558.7,778.5 560.2,780 561.7,781.8 563.2,782.6 564.7,781.9 566.2,780.7 567.7,780.1 569.2,780.2 570.7,780.1 572.2,779.7 573.7,779.3 575.2,778.8 576.7,778 578.2,777.1 579.7,776.5 581.2,776.8 582.7,777.3 584.2,777.7 585.7,778 587.2,778.4 588.7,778.3 590.2,777.6 591.7,776.9 593.2,776.7 594.7,776.4 596.2,775.8 597.7,775.7 599.2,776 600.7,776.2 602.2,776.5 603.7,776.9 605.2,777.2 606.7,777.1 608.2,777.2 609.7,777.5 611.2,777.5 612.7,776.7 614.2,776 615.7,776 617.2,776.4 618.7,776.6 620.2,776.8 621.7,777.1 623.2,777.5 624.7,777.8 626.2,777.6 627.7,776.7 L630.7,776.7 L630.7,1013.7 L63.7,1013.7 Z" fill="#ffffff"/>
<path d="M63.7,809.7 L66.7,809.7 68.2,811.5 69.7,813.1 71.2,813.5 72.7,813.1 74.2,812.3 75.7,811.3 77.2,810.4 78.7,810.1 80.2,810.3 81.7,810.1 83.2,809.5 84.7,809.1 86.2,809.2 87.7,809.7 89.2,810.3 90.7,810.2 92.2,809.1 93.7,807.9 95.2,807.3 96.7,807.7 98.2,809.3 99.7,811.2 101.2,811.9 102.7,810.9 104.2,809.2 105.7,808 107.2,807.6 108.7,808.5 110.2,809.5 111.7,809.3 113.2,808.3 114.7,808 116.2,808.7 117.7,809.3 119.2,809.3 120.7,808.9 122.2,808.4 123.7,808.3 125.2,808.6 126.7,808.5 128.2,808.2 129.7,808.5 131.2,809.2 132.7,810.2 134.2,811 135.7,811.5 137.2,811.4 138.7,810.4 140.2,809.1 141.7,808.8 143.2,810.2 144.7,812.3 146.2,813.1 147.7,812.1 149.2,811.2 150.7,811.2 152.2,811.3 153.7,810.8 155.2,810.1 156.7,810 158.2,810.9 159.7,812.2 161.2,812.5 162.7,811.9 164.2,811.3 165.7,811.2 167.2,811.1 168.7,810.4 170.2,809.6 171.7,809.2 173.2,808.5 174.7,807.5 176.2,806.9 177.7,807.4 179.2,807.9 180.7,807.7 182.2,806.6 183.7,805.2 185.2,804 186.7,803.1 188.2,802.9 189.7,803.1 191.2,803.5 192.7,803.5 194.2,803 195.7,802.8 197.2,803.1 198.7,803.5 200.2,803.2 201.7,802.6 203.2,802.1 204.7,801.8 206.2,802 207.7,802.6 209.2,803.2 210.7,802.9 212.2,802.5 213.7,801.1 215.2,799.5 216.7,798.6 218.2,798.5 219.7,798.6 221.2,798.2 222.7,797.3 224.2,796.4 225.7,796.4 227.2,797.1 228.7,797.5 230.2,797.3 231.7,796.8 233.2,795.9 234.7,794.4 236.2,793.2 237.7,792.8 239.2,792.7 240.7,791.7 242.2,790 243.7,788.7 245.2,788.4 246.7,788.2 248.2,787.3 249.7,786 251.2,784.7 252.7,783.6 254.2,782.7 255.7,781.7 257.2,780.4 258.7,779.4 260.2,778.8 261.7,778.3 263.2,777.6 264.7,776.7 266.2,775.4 267.7,774.3 269.2,773.8 270.7,774.2 272.2,774.3 273.7,773.5 275.2,772.3 276.7,771.4 278.2,770.5 279.7,769.7 281.2,769.1 282.7,768.5 284.2,767.3 285.7,765.6 287.2,764.2 288.7,763.3 290.2,762.8 291.7,762.1 293.2,760.8 294.7,758.9 296.2,757.4 297.7,756.5 299.2,755.9 300.7,755.7 302.2,755.7 303.7,755.6 305.2,755.6 306.7,755.2 308.2,754.2 309.7,753.2 311.2,752.2 312.7,750.9 314.2,749.7 315.7,749.8 317.2,751 318.7,752.8 320.2,754.3 321.7,755.4 323.2,756 324.7,756.2 326.2,756.4 327.7,757 329.2,757.3 330.7,756.5 332.2,754.8 333.7,753.2 335.2,752.6 336.7,752.5 338.2,752.7 339.7,753.2 341.2,753.6 342.7,753 344.2,751.8 345.7,750.7 347.2,750.6 348.7,751.4 350.2,752.7 351.7,754.1 353.2,755.5 354.7,756.7 356.2,757.4 357.7,757.5 359.2,757.7 360.7,759 362.2,761.3 363.7,763.3 365.2,764.3 366.7,764.8 368.2,765.8 369.7,766.9 371.2,767.6 372.7,767.7 374.2,768.4 375.7,770.2 377.2,772.3 378.7,773.6 380.2,773.8 381.7,773.6 383.2,773.6 384.7,774.3 386.2,774.7 387.7,774.6 389.2,774.3 390.7,774.1 392.2,773.8 393.7,773 395.2,771.8 396.7,770.7 398.2,770.5 399.7,770.9 401.2,771.4 402.7,772.1 404.2,772.9 405.7,773.7 407.2,773.9 408.7,773.3 410.2,772.9 411.7,773.5 413.2,774.6 414.7,775.4 416.2,776 417.7,777.2 419.2,778.5 420.7,779.5 422.2,780 423.7,780.4 425.2,781.2 426.7,782.1 428.2,782.8 429.7,783.5 431.2,785.1 432.7,787.9 434.2,791.3 435.7,793.8 437.2,794.9 438.7,795.4 440.2,795.5 441.7,796 443.2,796.5 444.7,796.9 446.2,797.4 447.7,798.6 449.2,800.7 450.7,802.8 452.2,804 453.7,804.8 455.2,805.4 456.7,804.2 458.2,803 459.7,802.9 461.2,803.5 462.7,804.6 464.2,806 465.7,807.2 467.2,807.8 468.7,807.6 470.2,807.3 471.7,807.3 473.2,807.5 474.7,807.7 476.2,807.6 477.7,807.5 479.2,807.9 480.7,808.9 482.2,809.7 483.7,809.4 485.2,809 486.7,808.7 488.2,808.1 489.7,808 491.2,809.5 492.7,811.8 494.2,813.7 495.7,814.5 497.2,814.1 498.7,812.7 500.2,811.7 501.7,811.9 503.2,812.9 504.7,813.3 506.2,813 507.7,812.5 509.2,811.8 510.7,811 512.2,811 513.7,811.7 515.2,812.2 516.7,811.8 518.2,811.3 519.7,811.6 521.2,812.5 522.7,813.6 524.2,814.3 525.7,814.7 527.2,814.9 528.7,815.2 530.2,815.8 531.7,816.4 533.2,816.4 534.7,815.9 536.2,815.3 537.7,814.8 539.2,814.1 540.7,813.3 542.2,812.9 543.7,813 545.2,813.5 546.7,814.2 548.2,814.5 549.7,814.1 551.2,813.4 552.7,813.3 554.2,814.3 555.7,815.4 557.2,815.6 558.7,814.7 560.2,813.4 561.7,812.4 563.2,811.9 564.7,811.8 566.2,812.4 567.7,813.4 569.2,814.2 570.7,814.3 572.2,813.7 573.7,813.1 575.2,812.8 576.7,812.7 578.2,812.8 579.7,813.1 581.2,813.6 582.7,814.3 584.2,815.1 585.7,815.5 587.2,815.4 588.7,815.2 590.2,815.2 591.7,815.1 593.2,814.2 594.7,812.5 596.2,811.3 597.7,811.5 599.2,813.3 600.7,815.9 602.2,817.2 603.7,817.2 605.2,817.2 606.7,817 608.2,816.2 609.7,816.1 611.2,816.2 612.7,815.7 614.2,814.8 615.7,813.6 617.2,812.7 618.7,812.8 620.2,813.4 621.7,813.6 623.2,813.3 624.7,813.2 626.2,813.6 627.7,814.2 L630.7,814.2 L630.7,1013.7 L63.7,1013.7 Z" fill="#ffffff"/>
<path d="M63.7,854.7 L66.7,854.7 68.2,854.3 69.7,854.6 71.2,854.7 72.7,854.3 74.2,853.9 75.7,854.4 77.2,855.8 78.7,857.2 80.2,857.7 81.7,857.4 83.2,857.1 84.7,857 86.2,857.2 87.7,857.3 89.2,857.1 90.7,856.8 92.2,856.6 93.7,856.6 95.2,856.7 96.7,857 98.2,857.4 99.7,857.5 101.2,857.3 102.7,857 104.2,856.3 105.7,855.8 107.2,855.6 108.7,855.2 110.2,855 111.7,855.8 113.2,856.4 114.7,855.6 116.2,854.2 117.7,853.6 119.2,853.5 120.7,853.2 122.2,853.5 123.7,854.6 125.2,855.5 126.7,855.5 128.2,854.7 129.7,853.9 131.2,853.7 132.7,854.1 134.2,854 135.7,853.9 137.2,854.3 138.7,854.9 140.2,855 141.7,855.1 143.2,855 144.7,854.5 146.2,854.1 147.7,853.8 149.2,853.7 150.7,853.5 152.2,853.5 153.7,853.7 155.2,854.1 156.7,854.6 158.2,855.5 159.7,856.8 161.2,857.6 162.7,856.8 164.2,855.6 165.7,854.7 167.2,854 168.7,853.2 170.2,852.7 171.7,853 173.2,853.2 174.7,852.4 176.2,851.1 177.7,850.2 179.2,850.4 180.7,851.1 182.2,851 183.7,849.9 185.2,848.7 186.7,848.1 188.2,848.1 189.7,848.2 191.2,847.7 192.7,847.1 194.2,847.3 195.7,848.3 197.2,848.7 198.7,848.2 200.2,847.4 201.7,846.9 203.2,846.4 204.7,845.9 206.2,845.7 207.7,846.1 209.2,846.5 210.7,846.7 212.2,846.7 213.7,846.3 215.2,845.5 216.7,845.1 218.2,845.2 219.7,845 221.2,843.8 222.7,842.4 224.2,841.9 225.7,842.3 227.2,842.7 228.7,842.5 230.2,842 231.7,841 233.2,839.8 234.7,838.8 236.2,838.3 237.7,838 239.2,837.1 240.7,835.7 242.2,834.5 243.7,833.6 245.2,832.6 246.7,831.4 248.2,830.3 249.7,829.9 251.2,829.8 252.7,829.1 254.2,827.7 255.7,826.8 257.2,826.3 258.7,824.9 260.2,822 261.7,819.2 263.2,817.5 264.7,816.8 266.2,816.6 267.7,816.3 269.2,815.2 270.7,813.2 272.2,811 273.7,809.5 275.2,808.9 276.7,808.7 278.2,808.3 279.7,807.9 281.2,807.7 282.7,807.5 284.2,806.5 285.7,804.9 287.2,803.6 288.7,803.1 290.2,802.7 291.7,801.7 293.2,800.5 294.7,799.7 296.2,799 297.7,798 299.2,797.1 300.7,796.9 302.2,797.1 303.7,797.1 305.2,796.4 306.7,795.3 308.2,794.3 309.7,793.8 311.2,793.4 312.7,792.8 314.2,792.2 315.7,791.9 317.2,792.3 318.7,793 320.2,793.9 321.7,794.7 323.2,795.2 324.7,795.7 326.2,796.4 327.7,797.6 329.2,798.5 330.7,798.7 332.2,798.4 333.7,798.2 335.2,798.6 336.7,799.5 338.2,800.5 339.7,801.7 341.2,803.3 342.7,804.4 344.2,804.8 345.7,805.4 347.2,807 348.7,808.7 350.2,809.3 351.7,809.5 353.2,808.6 354.7,808.1 356.2,808.4 357.7,808.9 359.2,809.3 360.7,809.6 362.2,810.5 363.7,811.5 365.2,812.1 366.7,812.8 368.2,814.3 369.7,815.8 371.2,816.4 372.7,816.5 374.2,816.6 375.7,816.8 377.2,817 378.7,817.8 380.2,819.5 381.7,820.7 383.2,820.6 384.7,820.5 386.2,821.2 387.7,822.2 389.2,821.9 390.7,820.7 392.2,820 393.7,820.7 395.2,821.8 396.7,821.9 398.2,820.7 399.7,819 401.2,818.3 402.7,818.9 404.2,819.8 405.7,820.2 407.2,820.2 408.7,821.1 410.2,823.2 411.7,825.3 413.2,825.8 414.7,825.8 416.2,824.2 417.7,822.1 419.2,820.5 420.7,819.6 422.2,819.3 423.7,819.7 425.2,821.3 426.7,823.6 428.2,826 429.7,828.1 431.2,829.8 432.7,831.4 434.2,832.9 435.7,833.7 437.2,834.1 438.7,834.6 440.2,835.5 441.7,836.6 443.2,838.1 444.7,840.1 446.2,841.6 447.7,841.6 449.2,840.7 450.7,840.6 452.2,842 453.7,844.3 455.2,846.2 456.7,847.6 458.2,849 459.7,850.4 461.2,851.5 462.7,852.3 464.2,852.5 465.7,852.1 467.2,851.8 468.7,851.3 470.2,851 471.7,851.4 473.2,851.8 474.7,853.4 476.2,854.5 477.7,854.7 479.2,854.5 480.7,854.3 482.2,853.8 483.7,853.6 485.2,854.1 486.7,855.3 488.2,856.2 489.7,856.7 491.2,857.7 492.7,859 494.2,859.6 495.7,859.8 497.2,860.3 498.7,860.9 500.2,860.4 501.7,859.2 503.2,858.3 504.7,858.1 506.2,858.1 507.7,858.4 509.2,859.7 510.7,861.3 512.2,862 513.7,861.3 515.2,859.9 516.7,858.8 518.2,858.6 519.7,859 521.2,859.3 522.7,859.7 524.2,860.3 525.7,861.5 527.2,862.7 528.7,862.7 530.2,862.3 531.7,859.9 533.2,857.7 534.7,856.9 536.2,857.1 537.7,857.5 539.2,857.6 540.7,857.8 542.2,858.6 543.7,859.3 545.2,859.7 546.7,860 548.2,860.7 549.7,861.1 551.2,860.9 552.7,860.3 554.2,859.5 555.7,859.3 557.2,859.8 558.7,860.4 560.2,860.4 561.7,860.1 563.2,859.9 564.7,859.9 566.2,859.9 567.7,859.2 569.2,858.2 570.7,857.6 572.2,857.9 573.7,858.3 575.2,858.5 576.7,858.3 578.2,858.1 579.7,857.9 581.2,857.5 582.7,857 584.2,856.4 585.7,856.3 587.2,856.3 588.7,856.5 590.2,858.2 591.7,859.7 593.2,860.8 594.7,862 596.2,862.2 597.7,862.1 599.2,861.7 600.7,860.6 602.2,859.9 603.7,859.9 605.2,859.8 606.7,859 608.2,857.8 609.7,857.3 611.2,857.5 612.7,857.6 614.2,857.5 615.7,857.9 617.2,858.5 618.7,858.9 620.2,858.7 621.7,857.9 623.2,857.1 624.7,857.2 626.2,858.2 627.7,858.7 L630.7,858.7 L630.7,1013.7 L63.7,1013.7 Z" fill="#ffffff"/>
<path d="M63.7,900 L66.7,900 68.2,900.4 69.7,900.2 71.2,899.9 72.7,900.1 74.2,900.7 75.7,901.3 77.2,901.4 78.7,901.2 80.2,901.2 81.7,901.8 83.2,902.7 84.7,903.4 86.2,903.8 87.7,904.1 89.2,903.8 90.7,902.9 92.2,902.1 93.7,901.6 95.2,900.9 96.7,900.4 98.2,900.4 99.7,900.6 101.2,900.6 102.7,900.9 104.2,901.9 105.7,903.5 107.2,904.5 108.7,904 110.2,902.4 111.7,901.1 113.2,900.5 114.7,900.5 116.2,900.8 117.7,901.3 119.2,902 120.7,903.1 122.2,904.2 123.7,904.6 125.2,903.7 126.7,902.3 128.2,901.2 129.7,900.3 131.2,899.5 132.7,899.2 134.2,899.5 135.7,899.8 137.2,899.2 138.7,898.3 140.2,897.9 141.7,898 143.2,897.6 144.7,896.3 146.2,895.1 147.7,894.5 149.2,894.4 150.7,894.7 152.2,895 153.7,894.4 155.2,893 156.7,891.8 158.2,891.3 159.7,891.9 161.2,893 162.7,893.7 164.2,893.2 165.7,891.8 167.2,890.5 168.7,889.5 170.2,888.7 171.7,888.2 173.2,887.9 174.7,887.6 176.2,887.4 177.7,887.1 179.2,886.6 180.7,886.4 182.2,886.7 183.7,887.1 185.2,887.6 186.7,887.9 188.2,887.7 189.7,886.9 191.2,886.2 192.7,885.8 194.2,886.3 195.7,887 197.2,887.2 198.7,887 200.2,886.5 201.7,885.9 203.2,885.2 204.7,884.5 206.2,883.7 207.7,883.1 209.2,882.7 210.7,882.5 212.2,882.9 213.7,883.5 215.2,883.7 216.7,882.9 218.2,881.4 219.7,879.9 221.2,878.6 222.7,877.7 224.2,877.5 225.7,877.6 227.2,877.4 228.7,876.8 230.2,876.8 231.7,876.9 233.2,876.5 234.7,875.9 236.2,875.5 237.7,875.3 239.2,875.1 240.7,874.4 242.2,873.1 243.7,872.4 245.2,872 246.7,871.1 248.2,869.6 249.7,868.2 251.2,867.5 252.7,867.3 254.2,866.6 255.7,865 257.2,863.5 258.7,862.4 260.2,861.7 261.7,860.5 263.2,858.7 264.7,855.9 266.2,853.4 267.7,851.7 269.2,851.2 270.7,849.8 272.2,847 273.7,844.4 275.2,843.1 276.7,842.5 278.2,842 279.7,840.9 281.2,839.3 282.7,837.9 284.2,836.9 285.7,836.3 287.2,836.2 288.7,835.7 290.2,834.8 291.7,833.6 293.2,832.2 294.7,830.6 296.2,828.9 297.7,828.3 299.2,828.4 300.7,829.6 302.2,830.6 303.7,831.4 305.2,832.7 306.7,834.7 308.2,836.1 309.7,836.7 311.2,837.1 312.7,837.3 314.2,836.5 315.7,834.7 317.2,833 318.7,832.5 320.2,832.5 321.7,832 323.2,831.1 324.7,830.6 326.2,830.2 327.7,829.5 329.2,828.9 330.7,829.4 332.2,830.9 333.7,832.6 335.2,834.1 336.7,835 338.2,834.8 339.7,834.2 341.2,833.7 342.7,833.5 344.2,833.3 345.7,833.6 347.2,834.8 348.7,837.1 350.2,839.2 351.7,840.4 353.2,841 354.7,841.4 356.2,841.9 357.7,842.1 359.2,842.2 360.7,842.8 362.2,844 363.7,846 365.2,847.9 366.7,848.8 368.2,848.9 369.7,848.7 371.2,848.7 372.7,848.7 374.2,848.4 375.7,847.9 377.2,847.6 378.7,847.4 380.2,847.2 381.7,846.4 383.2,844.9 384.7,842.4 386.2,839.5 387.7,837.6 389.2,836.9 390.7,837.3 392.2,838.3 393.7,839.3 395.2,839.6 396.7,838.8 398.2,838 399.7,838.1 401.2,838 402.7,837 404.2,835.8 405.7,835 407.2,834.2 408.7,833.4 410.2,833.6 411.7,835.2 413.2,837.3 414.7,838.8 416.2,839.6 417.7,840.4 419.2,841.9 420.7,843.6 422.2,845.2 423.7,846.8 425.2,848.7 426.7,850.7 428.2,852.5 429.7,854.1 431.2,855.9 432.7,857.9 434.2,860 435.7,861.7 437.2,862.9 438.7,864.7 440.2,867.8 441.7,871.2 443.2,873.6 444.7,875.1 446.2,876 447.7,876.9 449.2,878.7 450.7,881.4 452.2,884 453.7,885.7 455.2,886.7 456.7,887.5 458.2,888.3 459.7,889.2 461.2,890 462.7,890.5 464.2,891.1 465.7,892 467.2,892.7 468.7,892.7 470.2,893 471.7,893.6 473.2,895.6 474.7,897.8 476.2,898.9 477.7,898.4 479.2,897.2 480.7,896.6 482.2,896.8 483.7,897.4 485.2,898.1 486.7,898.9 488.2,899.3 489.7,898.5 491.2,897.1 492.7,896.5 494.2,897.3 495.7,899 497.2,901.2 498.7,902.8 500.2,903.2 501.7,903.3 503.2,903.4 504.7,903.1 506.2,902.5 507.7,902 509.2,901.5 510.7,900.8 512.2,900 513.7,899.8 515.2,900.2 516.7,901 518.2,902 519.7,903 521.2,903.6 522.7,903.4 524.2,902.9 525.7,902.9 527.2,903.5 528.7,904 530.2,904 531.7,903.7 533.2,903.3 534.7,903.1 536.2,903.2 537.7,903.4 539.2,903.2 540.7,902.9 542.2,902.6 543.7,902.6 545.2,903 546.7,903.8 548.2,904.7 549.7,905.3 551.2,906 552.7,906.4 554.2,905.7 555.7,904.7 557.2,904.5 558.7,904.7 560.2,904.8 561.7,904.5 563.2,904.1 564.7,904.1 566.2,904.4 567.7,904.4 569.2,904 570.7,903.5 572.2,903 573.7,902.7 575.2,902.8 576.7,903 578.2,903.3 579.7,903.5 581.2,903.7 582.7,904 584.2,904.5 585.7,904.8 587.2,904.9 588.7,905.3 590.2,905.8 591.7,905.6 593.2,904.6 594.7,903.5 596.2,903.2 597.7,904 599.2,905.2 600.7,906 602.2,906.3 603.7,905.8 605.2,904.9 606.7,904.2 608.2,904 609.7,903.7 611.2,903.1 612.7,903.2 614.2,904.1 615.7,905.2 617.2,905.6 618.7,905.4 620.2,903.8 621.7,902.2 623.2,901.3 624.7,900.9 626.2,900.6 627.7,900.6 L630.7,900.6 L630.7,1013.7 L63.7,1013.7 Z" fill="#d9d9d9"/>
<path d="M63.7,939.9 L66.7,939.9 68.2,940.4 69.7,940.6 71.2,940.4 72.7,939.6 74.2,938.6 75.7,938.3 77.2,939.1 78.7,940.8 80.2,942.3 81.7,942.6 83.2,942.2 84.7,942 86.2,942.2 87.7,942.4 89.2,942.6 90.7,942.4 92.2,941.9 93.7,941.5 95.2,941.3 96.7,941.2 98.2,941.3 99.7,941.2 101.2,941.1 102.7,941.5 104.2,942.4 105.7,943 107.2,942.9 108.7,942.7 110.2,943 111.7,943.5 113.2,943.7 114.7,943.2 116.2,942.2 117.7,941.4 119.2,941.5 120.7,942.5 122.2,943.3 123.7,942.9 125.2,941.8 126.7,941.4 128.2,941.9 129.7,942.2 131.2,942.1 132.7,941.7 134.2,941.4 135.7,941.2 137.2,940.8 138.7,940.3 140.2,939.9 141.7,939.4 143.2,938.9 144.7,938.6 146.2,938.5 147.7,938.4 149.2,937.9 150.7,937.1 152.2,936.7 153.7,936.8 155.2,937.1 156.7,937.1 158.2,936.8 159.7,936.2 161.2,935.6 162.7,935.4 164.2,935.4 165.7,935.7 167.2,936.4 168.7,937.4 170.2,938 171.7,937.7 173.2,936.4 174.7,935.2 176.2,935 177.7,935.7 179.2,936 180.7,935.2 182.2,934.2 183.7,933.6 185.2,933 186.7,931.7 188.2,930.1 189.7,929.4 191.2,930.1 192.7,930.8 194.2,930.3 195.7,929.1 197.2,928.8 198.7,929.6 200.2,930.4 201.7,930.3 203.2,929.5 204.7,929 206.2,928.8 207.7,928.4 209.2,927.7 210.7,927 212.2,926.7 213.7,926.7 215.2,926.4 216.7,925.4 218.2,924.3 219.7,924.2 221.2,925.1 222.7,925.4 224.2,924.9 225.7,924.1 227.2,923.2 228.7,922.1 230.2,921.4 231.7,921.3 233.2,920.9 234.7,920.1 236.2,919.6 237.7,919.6 239.2,918.9 240.7,917.2 242.2,915.9 243.7,915.5 245.2,915.6 246.7,915.5 248.2,914.8 249.7,913.8 251.2,913.3 252.7,913.5 254.2,913.5 255.7,912.7 257.2,910.9 258.7,908.9 260.2,906.9 261.7,905.3 263.2,903.7 264.7,901.6 266.2,899.3 267.7,897.7 269.2,896.4 270.7,895.4 272.2,894.4 273.7,893.1 275.2,891.6 276.7,890.3 278.2,888.5 279.7,886.7 281.2,885 282.7,883.6 284.2,881.7 285.7,879.6 287.2,878.3 288.7,877.7 290.2,877.4 291.7,877.8 293.2,878.7 294.7,879.6 296.2,880 297.7,880 299.2,879.1 300.7,877.7 302.2,876.2 303.7,874.8 305.2,874.1 306.7,874.1 308.2,874.5 309.7,874.6 311.2,874.2 312.7,873.9 314.2,874.2 315.7,875.4 317.2,877.2 318.7,879.1 320.2,880.4 321.7,880.9 323.2,880.8 324.7,880.7 326.2,878.8 327.7,876.6 329.2,875.3 330.7,875 332.2,875 333.7,874.7 335.2,874.5 336.7,874.7 338.2,874.9 339.7,874.9 341.2,874.8 342.7,875.1 344.2,876 345.7,877.2 347.2,877.8 348.7,877.4 350.2,876.8 351.7,877 353.2,878.2 354.7,879.7 356.2,880.4 357.7,880.5 359.2,881.1 360.7,882.2 362.2,882.6 363.7,881.8 365.2,881 366.7,881.5 368.2,882.9 369.7,884.2 371.2,884.2 372.7,882.6 374.2,880.6 375.7,879.2 377.2,878.2 378.7,877.4 380.2,876.9 381.7,876.2 383.2,875.5 384.7,875.6 386.2,876.4 387.7,876.6 389.2,876.1 390.7,875.4 392.2,874.4 393.7,872.7 395.2,870.8 396.7,869.5 398.2,868.7 399.7,867.8 401.2,866.3 402.7,864.3 404.2,863.1 405.7,862.2 407.2,862.2 408.7,862.6 410.2,862.7 411.7,862.9 413.2,863.8 414.7,865.1 416.2,866.5 417.7,868.5 419.2,870.8 420.7,872.9 422.2,875 423.7,877.6 425.2,880.6 426.7,883.5 428.2,886.2 429.7,889 431.2,891.9 432.7,895.1 434.2,898.7 435.7,902 437.2,905.1 438.7,908.2 440.2,910.9 441.7,914 443.2,917.9 444.7,921.7 446.2,924.7 447.7,926.8 449.2,928.9 450.7,930.7 452.2,931.9 453.7,933.1 455.2,931.8 456.7,930.2 458.2,930.3 459.7,931.7 461.2,933.2 462.7,933.8 464.2,933.9 465.7,934.2 467.2,934.7 468.7,935.1 470.2,935.8 471.7,937.2 473.2,938.4 474.7,938.9 476.2,938.8 477.7,939.1 479.2,940.2 480.7,941.5 482.2,942.1 483.7,941.7 485.2,941.1 486.7,941.2 488.2,941.7 489.7,941.2 491.2,939.6 492.7,938.4 494.2,938.6 495.7,939.4 497.2,941 498.7,942 500.2,942.6 501.7,943.8 503.2,944.8 504.7,944.1 506.2,942.2 507.7,940.5 509.2,939.9 510.7,940.9 512.2,943.4 513.7,945.6 515.2,945.8 516.7,944.7 518.2,943.6 519.7,943 521.2,942.3 522.7,941.5 524.2,942 525.7,943.8 527.2,945.3 528.7,945.9 530.2,945.7 531.7,945.2 533.2,944.9 534.7,945.2 536.2,945.7 537.7,945.4 539.2,944.4 540.7,943.4 542.2,942.5 543.7,942.7 545.2,943.9 546.7,945 548.2,944.8 549.7,944.3 551.2,944.1 552.7,943.6 554.2,942.6 555.7,942.5 557.2,943.7 558.7,944.5 560.2,943.8 561.7,942.8 563.2,943.1 564.7,944.8 566.2,946.1 567.7,946.2 569.2,945.7 570.7,945.2 572.2,944.7 573.7,944.4 575.2,944.7 576.7,945.4 578.2,946.4 579.7,947.3 581.2,947.6 582.7,947.6 584.2,947.5 585.7,947.6 587.2,948 588.7,948.3 590.2,947.8 591.7,947.4 593.2,948 594.7,948.5 596.2,947.5 597.7,945.7 599.2,944.9 600.7,945.6 602.2,946.6 603.7,947.4 605.2,947.7 606.7,947.3 608.2,946.1 609.7,944.6 611.2,943.9 612.7,944.5 614.2,945.6 615.7,946.2 617.2,945.6 618.7,943.8 620.2,941.7 621.7,941.5 623.2,941.3 624.7,942.5 626.2,942.9 627.7,943.4 L630.7,943.4 L630.7,1013.7 L63.7,1013.7 Z" fill="#d9d9d9"/>
<path d="M63.7,984.6 L66.7,984.6 68.2,984.2 69.7,984 71.2,984.2 72.7,984.4 74.2,984.3 75.7,983.8 77.2,983.1 78.7,982.9 80.2,983.2 81.7,983.4 83.2,983.3 84.7,983.5 86.2,983.8 87.7,984.4 89.2,985.4 90.7,986.6 92.2,986.7 93.7,986.4 95.2,985.2 96.7,984.6 98.2,985.1 99.7,985.7 101.2,985.6 102.7,984.8 104.2,984 105.7,983.8 107.2,984.1 108.7,984 110.2,983.6 111.7,983.6 113.2,983.9 114.7,984.2 116.2,984.5 117.7,984.7 119.2,984.3 120.7,983.4 122.2,982.4 123.7,982 125.2,981.6 126.7,981.4 128.2,981.4 129.7,982.2 131.2,983.4 132.7,984.4 134.2,984.7 135.7,984.8 137.2,984.8 138.7,984.6 140.2,984.6 141.7,985.2 143.2,986.3 144.7,987.1 146.2,987.7 147.7,988.2 149.2,988.6 150.7,988.9 152.2,989 153.7,988.7 155.2,988.2 156.7,987.6 158.2,986.9 159.7,986.7 161.2,986.9 162.7,986.9 164.2,986.5 165.7,985.7 167.2,984.8 168.7,984.2 170.2,984.1 171.7,983.7 173.2,982.5 174.7,981.6 176.2,981.9 177.7,982.9 179.2,983.5 180.7,983.1 182.2,982.2 183.7,981.4 185.2,980.8 186.7,980.3 188.2,980 189.7,980.1 191.2,980.4 192.7,980.4 194.2,979.9 195.7,979.1 197.2,978.7 198.7,978.8 200.2,979 201.7,979 203.2,978.9 204.7,978.9 206.2,979.1 207.7,978.6 209.2,977.4 210.7,976.9 212.2,977.3 213.7,977.3 215.2,976.5 216.7,975.7 218.2,975.5 219.7,975.9 221.2,976.1 222.7,975.9 224.2,975.9 225.7,976.1 227.2,975.4 228.7,973.9 230.2,972.1 231.7,970.7 233.2,969.6 234.7,968.5 236.2,967.2 237.7,966.7 239.2,966.2 240.7,966.8 242.2,968.1 243.7,968.6 245.2,968.3 246.7,968 248.2,967.9 249.7,967.6 251.2,967.2 252.7,966.8 254.2,966.2 255.7,964.6 257.2,962.7 258.7,961.8 260.2,961.9 261.7,962.3 263.2,962.1 264.7,961.3 266.2,960.2 267.7,959 269.2,957.4 270.7,955.5 272.2,953.8 273.7,952.1 275.2,950.3 276.7,948.6 278.2,946.8 279.7,945.2 281.2,944.2 282.7,943.9 284.2,943.7 285.7,943.5 287.2,943.8 288.7,943.9 290.2,943.1 291.7,941.7 293.2,940.3 294.7,938.6 296.2,937.1 297.7,936.3 299.2,936.1 300.7,935.8 302.2,935 303.7,933.7 305.2,932.7 306.7,931.8 308.2,931 309.7,929.9 311.2,928.9 312.7,928.2 314.2,927.7 315.7,927.3 317.2,926.9 318.7,926.1 320.2,925.2 321.7,924.6 323.2,924.4 324.7,924.3 326.2,924.1 327.7,923.8 329.2,924 330.7,924.5 332.2,924.6 333.7,924.1 335.2,923.3 336.7,922.6 338.2,922.4 339.7,923.1 341.2,923.4 342.7,923.1 344.2,922.5 345.7,921.9 347.2,922.2 348.7,922.4 350.2,922.3 351.7,922.2 353.2,922.1 354.7,922 356.2,921.7 357.7,920.9 359.2,920.5 360.7,920.8 362.2,921.2 363.7,921.1 365.2,920.5 366.7,919.7 368.2,918.8 369.7,917.9 371.2,917.4 372.7,917.5 374.2,917.7 375.7,917.7 377.2,917.3 378.7,916.8 380.2,916.4 381.7,916.2 383.2,916.2 384.7,916 386.2,914.9 387.7,913 389.2,911 390.7,909.3 392.2,908 393.7,906.8 395.2,905.6 396.7,904.1 398.2,903.2 399.7,903.2 401.2,903.4 402.7,903.1 404.2,902.7 405.7,902.7 407.2,902.4 408.7,901.6 410.2,900.9 411.7,901.5 413.2,902.4 414.7,902.3 416.2,901.7 417.7,902.1 419.2,903.3 420.7,904.9 422.2,907.4 423.7,910.3 425.2,913.1 426.7,915.2 428.2,916.5 429.7,917.7 431.2,919.4 432.7,921.6 434.2,924 435.7,926.6 437.2,928.9 438.7,930.6 440.2,931.9 441.7,933.1 443.2,934.3 444.7,935.5 446.2,936.8 447.7,937.9 449.2,938.4 450.7,939 452.2,940.3 453.7,942.2 455.2,944.2 456.7,946.7 458.2,949.1 459.7,950.6 461.2,951 462.7,951.1 464.2,951.8 465.7,953.6 467.2,955.9 468.7,958 470.2,959.5 471.7,960.7 473.2,962 474.7,963.9 476.2,966.2 477.7,968.4 479.2,970.2 480.7,971.2 482.2,971.1 483.7,970.7 485.2,971.2 486.7,972.8 488.2,974.8 489.7,976.8 491.2,978.2 492.7,979.2 494.2,980.1 495.7,981 497.2,981.7 498.7,982.7 500.2,984.1 501.7,985.6 503.2,986.6 504.7,986.8 506.2,986.3 507.7,985.6 509.2,984.9 510.7,984.7 512.2,985.2 513.7,986.7 515.2,988.1 516.7,988.6 518.2,988.9 519.7,989.4 521.2,990.2 522.7,991.1 524.2,991.2 525.7,991.2 527.2,990.8 528.7,990.1 530.2,989.6 531.7,989.3 533.2,989 534.7,988.4 536.2,987.8 537.7,987.7 539.2,987.9 540.7,987.9 542.2,987.9 543.7,988.5 545.2,989.7 546.7,990.7 548.2,991 549.7,990.3 551.2,989.7 552.7,989.7 554.2,989.9 555.7,989.3 557.2,988.2 558.7,987.7 560.2,988.1 561.7,989.3 563.2,990.5 564.7,991.1 566.2,991.1 567.7,990.6 569.2,990.4 570.7,990.7 572.2,990.9 573.7,990.5 575.2,989.9 576.7,989.7 578.2,989.8 579.7,989.5 581.2,989 582.7,988.9 584.2,989.5 585.7,990.9 587.2,992.5 588.7,993.6 590.2,993.9 591.7,993.3 593.2,992.8 594.7,993.2 596.2,993.7 597.7,993.1 599.2,991.3 600.7,990.2 602.2,990.2 603.7,990.5 605.2,990.5 606.7,990.1 608.2,989.6 609.7,989.6 611.2,990.7 612.7,992.3 614.2,993.5 615.7,993.7 617.2,993.1 618.7,991.9 620.2,991 621.7,991 623.2,992.3 624.7,994.2 626.2,995.4 627.7,995.3 L630.7,995.3 L630.7,1013.7 L63.7,1013.7 Z" fill="#d9d9d9"/>
<path d="M66.7,748 68.2,747.2 69.7,745.9 71.2,745.2 72.7,745.3 74.2,745.3 75.7,745.2 77.2,745.4 78.7,745.6 80.2,745.2 81.7,744.7 83.2,744.5 84.7,744.8 86.2,745.2 87.7,745.4 89.2,745.6 90.7,746.2 92.2,746.6 93.7,746.7 95.2,746.4 96.7,746.1 98.2,745.7 99.7,745.3 101.2,745 102.7,745.2 104.2,745.3 105.7,745.1 107.2,744.8 108.7,744.5 110.2,744.2 111.7,744.1 113.2,744.4 114.7,745 116.2,745.3 117.7,745.1 119.2,744.9 120.7,745.4 122.2,746.2 123.7,746.8 125.2,746.7 126.7,746.1 128.2,745.8 129.7,746 131.2,746.1 132.7,745.6 134.2,744.9 135.7,745 137.2,745.9 138.7,746.3 140.2,745.8 141.7,744.7 143.2,743.6 144.7,742.9 146.2,742.7 147.7,742.5 149.2,742.2 150.7,742.1 152.2,742.6 153.7,743 155.2,742.8 156.7,742.1 158.2,741.6 159.7,741.5 161.2,741.5 162.7,741.2 164.2,741.3 165.7,741.9 167.2,742.6 168.7,743 170.2,743.2 171.7,742.9 173.2,742.3 174.7,741.8 176.2,742 177.7,742.6 179.2,742.9 180.7,743 182.2,743.3 183.7,744.1 185.2,744.7 186.7,744.7 188.2,744.1 189.7,743.4 191.2,742.6 192.7,741.7 194.2,740.8 195.7,740.2 197.2,740.1 198.7,740 200.2,739.3 201.7,738.5 203.2,738.3 204.7,738.5 206.2,738.5 207.7,738.2 209.2,738.3 210.7,738.8 212.2,739.6 213.7,740.3 215.2,740.8 216.7,740.8 218.2,739.6 219.7,737.4 221.2,734.9 222.7,733.1 224.2,732.3 225.7,731.9 227.2,731.8 228.7,732.2 230.2,732.8 231.7,732.9 233.2,732.5 234.7,731.7 236.2,730.7 237.7,730 239.2,730.1 240.7,730.9 242.2,731.6 243.7,731.4 245.2,730.7 246.7,730.2 248.2,730 249.7,729.8 251.2,729.4 252.7,729 254.2,728.7 255.7,728.6 257.2,728.5 258.7,728.1 260.2,727.3 261.7,726.1 263.2,724.8 264.7,723.5 266.2,722 267.7,720.2 269.2,718.5 270.7,717.2 272.2,716.7 273.7,716.8 275.2,716.8 276.7,716.1 278.2,714.7 279.7,713.2 281.2,711.9 282.7,711.3 284.2,710.7 285.7,710.1 287.2,709.7 288.7,710.4 290.2,710.9 291.7,711.2 293.2,711.6 294.7,712.1 296.2,712 297.7,712 299.2,712.3 300.7,712.5 302.2,712.4 303.7,712.4 305.2,712.3 306.7,712.1 308.2,712.3 309.7,713.1 311.2,714.2 312.7,715.1 314.2,715.7 315.7,716.6 317.2,717.4 318.7,717.6 320.2,717.6 321.7,717.4 323.2,716.9 324.7,716.9 326.2,718.5 327.7,721 329.2,723.4 330.7,724.9 332.2,725.5 333.7,725.3 335.2,725 336.7,724.9 338.2,725 339.7,724.6 341.2,724.3 342.7,723.7 344.2,722.5 345.7,721.7 347.2,721.8 348.7,722.3 350.2,722.9 351.7,723.7 353.2,724.5 354.7,724.8 356.2,725 357.7,725.4 359.2,725.6 360.7,725.6 362.2,725.7 363.7,726.2 365.2,727.4 366.7,729.1 368.2,730.9 369.7,732.1 371.2,732.6 372.7,732.9 374.2,732.9 375.7,732.6 377.2,732.1 378.7,731.8 380.2,731.5 381.7,731.1 383.2,730.6 384.7,730.4 386.2,730.4 387.7,730.8 389.2,731.5 390.7,732.2 392.2,732.6 393.7,732.8 395.2,732.6 396.7,731.9 398.2,730.8 399.7,729.7 401.2,729.9 402.7,730.4 404.2,731.8 405.7,733.1 407.2,734.3 408.7,735.5 410.2,736.6 411.7,737.8 413.2,738.3 414.7,738.6 416.2,739 417.7,738.2 419.2,737.2 420.7,736.6 422.2,736.1 423.7,736.2 425.2,737.2 426.7,738.4 428.2,738.7 429.7,738.4 431.2,738.3 432.7,738.3 434.2,738.2 435.7,737.7 437.2,737.3 438.7,737.5 440.2,738.9 441.7,740.9 443.2,742.7 444.7,743.3 446.2,743.1 447.7,741.9 449.2,740.5 450.7,739.4 452.2,738.9 453.7,739.3 455.2,740.7 456.7,742.3 458.2,742.9 459.7,742.5 461.2,741.5 462.7,740.8 464.2,741.3 465.7,742.6 467.2,744 468.7,744.3 470.2,743.6 471.7,742.8 473.2,742.4 474.7,742.3 476.2,742.6 477.7,743.3 479.2,743.8 480.7,743.6 482.2,743.1 483.7,742.7 485.2,742.9 486.7,743.3 488.2,743.5 489.7,743.4 491.2,743.3 492.7,743 494.2,743.1 495.7,744 497.2,745.5 498.7,746.6 500.2,747.3 501.7,747.5 503.2,747.2 504.7,746.9 506.2,747 507.7,747.2 509.2,747.1 510.7,746.7 512.2,746.5 513.7,746.3 515.2,745.7 516.7,745 518.2,744.6 519.7,744.6 521.2,744.4 522.7,744.5 524.2,744.8 525.7,745 527.2,744.7 528.7,744.2 530.2,743.6 531.7,743.3 533.2,743.4 534.7,743.9 536.2,744.8 537.7,745.7 539.2,746.6 540.7,747.4 542.2,747.6 543.7,746.8 545.2,745.5 546.7,744.8 548.2,744.7 549.7,744.9 551.2,745.3 552.7,746 554.2,746.7 555.7,746.7 557.2,746.2 558.7,746.2 560.2,746.8 561.7,747.4 563.2,747.2 564.7,746 566.2,745.3 567.7,746.1 569.2,747.5 570.7,747.8 572.2,746.7 573.7,745.6 575.2,744.9 576.7,744.5 578.2,744.5 579.7,745.5 581.2,746.9 582.7,747.6 584.2,747.5 585.7,747.2 587.2,746.8 588.7,746 590.2,745.3 591.7,745.5 593.2,746.4 594.7,747 596.2,746.9 597.7,746.3 599.2,745.5 600.7,744.9 602.2,744.9 603.7,745.4 605.2,745.8 606.7,745.7 608.2,745.8 609.7,746.3 611.2,746.5 612.7,746 614.2,744.7 615.7,743.5 617.2,742.8 618.7,743 620.2,743.6 621.7,744.2 623.2,744.7 624.7,745.1 626.2,745.2 627.7,745.1" fill="none" stroke="#000" stroke-width="3.3" stroke-linejoin="round"/>
<path d="M66.7,778.5 68.2,779.8 69.7,780.8 71.2,780.8 72.7,780.5 74.2,780.1 75.7,779.6 77.2,778.9 78.7,778.4 80.2,778.4 81.7,778.8 83.2,778.8 84.7,778.4 86.2,778.2 87.7,778.7 89.2,778.9 90.7,778.2 92.2,777.2 93.7,776.3 95.2,775.3 96.7,775.2 98.2,775.4 99.7,776.3 101.2,777 102.7,777.5 104.2,777.7 105.7,777.6 107.2,777.6 108.7,778.1 110.2,779.1 111.7,779.7 113.2,779 114.7,777 116.2,775.1 117.7,774.8 119.2,775.7 120.7,776.6 122.2,777.3 123.7,777.9 125.2,778 126.7,777.5 128.2,777 129.7,776.7 131.2,776.6 132.7,776.4 134.2,775.8 135.7,775.2 137.2,775.2 138.7,775.7 140.2,776.4 141.7,777.2 143.2,777.9 144.7,778.4 146.2,778.2 147.7,777.6 149.2,777.4 150.7,777.4 152.2,777 153.7,776.9 155.2,777.7 156.7,778.4 158.2,778.5 159.7,778.6 161.2,778.9 162.7,779.1 164.2,779.5 165.7,780.3 167.2,781 168.7,781.1 170.2,780.7 171.7,780 173.2,779.2 174.7,778.7 176.2,778.4 177.7,777.9 179.2,777 180.7,775.9 182.2,775.1 183.7,774.7 185.2,774.6 186.7,774.3 188.2,773.7 189.7,773.2 191.2,772.5 192.7,771.7 194.2,770.7 195.7,769.6 197.2,768.7 198.7,768.5 200.2,768.8 201.7,769.1 203.2,769.1 204.7,768.6 206.2,767.7 207.7,766.8 209.2,765.9 210.7,765.2 212.2,765.2 213.7,766.1 215.2,767.4 216.7,768.3 218.2,768.2 219.7,767.2 221.2,766 222.7,765.7 224.2,766.3 225.7,766.8 227.2,766.8 228.7,766.7 230.2,766.3 231.7,765.5 233.2,764.3 234.7,762.7 236.2,761.6 237.7,761.3 239.2,761.8 240.7,762 242.2,761.7 243.7,761.4 245.2,761.6 246.7,762.5 248.2,763.3 249.7,763.4 251.2,762.5 252.7,760.9 254.2,759.1 255.7,757.6 257.2,756.2 258.7,754.5 260.2,752.8 261.7,752.1 263.2,752.1 264.7,751.9 266.2,751.3 267.7,751 269.2,750.7 270.7,750.1 272.2,749.8 273.7,750.2 275.2,751.1 276.7,751.8 278.2,752 279.7,751.4 281.2,749.7 282.7,747.5 284.2,745.5 285.7,744.2 287.2,743.5 288.7,742.3 290.2,740.5 291.7,738.4 293.2,737 294.7,736.6 296.2,736.2 297.7,735.4 299.2,734.6 300.7,733.7 302.2,733.1 303.7,733.6 305.2,734.9 306.7,736 308.2,736.7 309.7,737 311.2,737.3 312.7,737.3 314.2,737.2 315.7,737.2 317.2,737.4 318.7,737.4 320.2,736.9 321.7,735.8 323.2,734.8 324.7,733.9 326.2,732.6 327.7,731.2 329.2,730.2 330.7,729.8 332.2,729.7 333.7,729.9 335.2,730 336.7,730.5 338.2,733 339.7,735.1 341.2,734.5 342.7,733.3 344.2,732.8 345.7,733.4 347.2,734.6 348.7,735.7 350.2,736.4 351.7,736.5 353.2,736.3 354.7,736.3 356.2,736.5 357.7,737.1 359.2,737.5 360.7,737.2 362.2,736.4 363.7,736.1 365.2,736.7 366.7,737.6 368.2,738.7 369.7,740.4 371.2,742.4 372.7,744.1 374.2,746.1 375.7,748.4 377.2,750.1 378.7,751.2 380.2,752.2 381.7,753.2 383.2,754 384.7,754.5 386.2,754.4 387.7,754 389.2,754 390.7,754.4 392.2,755.1 393.7,756.4 395.2,757.5 396.7,758 398.2,758.2 399.7,758.3 401.2,758.3 402.7,758.2 404.2,758.2 405.7,758.2 407.2,758.2 408.7,758.1 410.2,757.7 411.7,757.5 413.2,757.7 414.7,757.9 416.2,757.7 417.7,757.2 419.2,757.2 420.7,757.9 422.2,758.8 423.7,759.5 425.2,759.8 426.7,759.5 428.2,758.9 429.7,758.5 431.2,759 432.7,759.5 434.2,760 435.7,760.8 437.2,762 438.7,763.2 440.2,763.9 441.7,764.2 443.2,764.1 444.7,764.1 446.2,765 447.7,766.9 449.2,768.9 450.7,770.5 452.2,771.2 453.7,771 455.2,770.6 456.7,770.3 458.2,770.4 459.7,770.8 461.2,771.7 462.7,772.5 464.2,773 465.7,773.8 467.2,774.6 468.7,775.1 470.2,775.2 471.7,775.4 473.2,775.8 474.7,776.3 476.2,777 477.7,777.7 479.2,778.2 480.7,778.5 482.2,778.7 483.7,778.9 485.2,779.2 486.7,779.6 488.2,779.6 489.7,779 491.2,778.3 492.7,778.1 494.2,778.8 495.7,780 497.2,781 498.7,781 500.2,779.9 501.7,778.3 503.2,777 504.7,777 506.2,777 507.7,777 509.2,777 510.7,777.1 512.2,777.9 513.7,778.6 515.2,779.6 516.7,780.8 518.2,781.2 519.7,780.8 521.2,780.5 522.7,780.3 524.2,779.6 525.7,778.6 527.2,778 528.7,778.4 530.2,779.1 531.7,779.3 533.2,778.9 534.7,779.1 536.2,780.1 537.7,781.3 539.2,782.2 540.7,782.6 542.2,782.4 543.7,781.7 545.2,781 546.7,780.6 548.2,779.9 549.7,779.2 551.2,778.5 552.7,777.9 554.2,777.5 555.7,777.3 557.2,777.6 558.7,778.5 560.2,780 561.7,781.8 563.2,782.6 564.7,781.9 566.2,780.7 567.7,780.1 569.2,780.2 570.7,780.1 572.2,779.7 573.7,779.3 575.2,778.8 576.7,778 578.2,777.1 579.7,776.5 581.2,776.8 582.7,777.3 584.2,777.7 585.7,778 587.2,778.4 588.7,778.3 590.2,777.6 591.7,776.9 593.2,776.7 594.7,776.4 596.2,775.8 597.7,775.7 599.2,776 600.7,776.2 602.2,776.5 603.7,776.9 605.2,777.2 606.7,777.1 608.2,777.2 609.7,777.5 611.2,777.5 612.7,776.7 614.2,776 615.7,776 617.2,776.4 618.7,776.6 620.2,776.8 621.7,777.1 623.2,777.5 624.7,777.8 626.2,777.6 627.7,776.7" fill="none" stroke="#000" stroke-width="3.3" stroke-linejoin="round"/>
<path d="M66.7,809.7 68.2,811.5 69.7,813.1 71.2,813.5 72.7,813.1 74.2,812.3 75.7,811.3 77.2,810.4 78.7,810.1 80.2,810.3 81.7,810.1 83.2,809.5 84.7,809.1 86.2,809.2 87.7,809.7 89.2,810.3 90.7,810.2 92.2,809.1 93.7,807.9 95.2,807.3 96.7,807.7 98.2,809.3 99.7,811.2 101.2,811.9 102.7,810.9 104.2,809.2 105.7,808 107.2,807.6 108.7,808.5 110.2,809.5 111.7,809.3 113.2,808.3 114.7,808 116.2,808.7 117.7,809.3 119.2,809.3 120.7,808.9 122.2,808.4 123.7,808.3 125.2,808.6 126.7,808.5 128.2,808.2 129.7,808.5 131.2,809.2 132.7,810.2 134.2,811 135.7,811.5 137.2,811.4 138.7,810.4 140.2,809.1 141.7,808.8 143.2,810.2 144.7,812.3 146.2,813.1 147.7,812.1 149.2,811.2 150.7,811.2 152.2,811.3 153.7,810.8 155.2,810.1 156.7,810 158.2,810.9 159.7,812.2 161.2,812.5 162.7,811.9 164.2,811.3 165.7,811.2 167.2,811.1 168.7,810.4 170.2,809.6 171.7,809.2 173.2,808.5 174.7,807.5 176.2,806.9 177.7,807.4 179.2,807.9 180.7,807.7 182.2,806.6 183.7,805.2 185.2,804 186.7,803.1 188.2,802.9 189.7,803.1 191.2,803.5 192.7,803.5 194.2,803 195.7,802.8 197.2,803.1 198.7,803.5 200.2,803.2 201.7,802.6 203.2,802.1 204.7,801.8 206.2,802 207.7,802.6 209.2,803.2 210.7,802.9 212.2,802.5 213.7,801.1 215.2,799.5 216.7,798.6 218.2,798.5 219.7,798.6 221.2,798.2 222.7,797.3 224.2,796.4 225.7,796.4 227.2,797.1 228.7,797.5 230.2,797.3 231.7,796.8 233.2,795.9 234.7,794.4 236.2,793.2 237.7,792.8 239.2,792.7 240.7,791.7 242.2,790 243.7,788.7 245.2,788.4 246.7,788.2 248.2,787.3 249.7,786 251.2,784.7 252.7,783.6 254.2,782.7 255.7,781.7 257.2,780.4 258.7,779.4 260.2,778.8 261.7,778.3 263.2,777.6 264.7,776.7 266.2,775.4 267.7,774.3 269.2,773.8 270.7,774.2 272.2,774.3 273.7,773.5 275.2,772.3 276.7,771.4 278.2,770.5 279.7,769.7 281.2,769.1 282.7,768.5 284.2,767.3 285.7,765.6 287.2,764.2 288.7,763.3 290.2,762.8 291.7,762.1 293.2,760.8 294.7,758.9 296.2,757.4 297.7,756.5 299.2,755.9 300.7,755.7 302.2,755.7 303.7,755.6 305.2,755.6 306.7,755.2 308.2,754.2 309.7,753.2 311.2,752.2 312.7,750.9 314.2,749.7 315.7,749.8 317.2,751 318.7,752.8 320.2,754.3 321.7,755.4 323.2,756 324.7,756.2 326.2,756.4 327.7,757 329.2,757.3 330.7,756.5 332.2,754.8 333.7,753.2 335.2,752.6 336.7,752.5 338.2,752.7 339.7,753.2 341.2,753.6 342.7,753 344.2,751.8 345.7,750.7 347.2,750.6 348.7,751.4 350.2,752.7 351.7,754.1 353.2,755.5 354.7,756.7 356.2,757.4 357.7,757.5 359.2,757.7 360.7,759 362.2,761.3 363.7,763.3 365.2,764.3 366.7,764.8 368.2,765.8 369.7,766.9 371.2,767.6 372.7,767.7 374.2,768.4 375.7,770.2 377.2,772.3 378.7,773.6 380.2,773.8 381.7,773.6 383.2,773.6 384.7,774.3 386.2,774.7 387.7,774.6 389.2,774.3 390.7,774.1 392.2,773.8 393.7,773 395.2,771.8 396.7,770.7 398.2,770.5 399.7,770.9 401.2,771.4 402.7,772.1 404.2,772.9 405.7,773.7 407.2,773.9 408.7,773.3 410.2,772.9 411.7,773.5 413.2,774.6 414.7,775.4 416.2,776 417.7,777.2 419.2,778.5 420.7,779.5 422.2,780 423.7,780.4 425.2,781.2 426.7,782.1 428.2,782.8 429.7,783.5 431.2,785.1 432.7,787.9 434.2,791.3 435.7,793.8 437.2,794.9 438.7,795.4 440.2,795.5 441.7,796 443.2,796.5 444.7,796.9 446.2,797.4 447.7,798.6 449.2,800.7 450.7,802.8 452.2,804 453.7,804.8 455.2,805.4 456.7,804.2 458.2,803 459.7,802.9 461.2,803.5 462.7,804.6 464.2,806 465.7,807.2 467.2,807.8 468.7,807.6 470.2,807.3 471.7,807.3 473.2,807.5 474.7,807.7 476.2,807.6 477.7,807.5 479.2,807.9 480.7,808.9 482.2,809.7 483.7,809.4 485.2,809 486.7,808.7 488.2,808.1 489.7,808 491.2,809.5 492.7,811.8 494.2,813.7 495.7,814.5 497.2,814.1 498.7,812.7 500.2,811.7 501.7,811.9 503.2,812.9 504.7,813.3 506.2,813 507.7,812.5 509.2,811.8 510.7,811 512.2,811 513.7,811.7 515.2,812.2 516.7,811.8 518.2,811.3 519.7,811.6 521.2,812.5 522.7,813.6 524.2,814.3 525.7,814.7 527.2,814.9 528.7,815.2 530.2,815.8 531.7,816.4 533.2,816.4 534.7,815.9 536.2,815.3 537.7,814.8 539.2,814.1 540.7,813.3 542.2,812.9 543.7,813 545.2,813.5 546.7,814.2 548.2,814.5 549.7,814.1 551.2,813.4 552.7,813.3 554.2,814.3 555.7,815.4 557.2,815.6 558.7,814.7 560.2,813.4 561.7,812.4 563.2,811.9 564.7,811.8 566.2,812.4 567.7,813.4 569.2,814.2 570.7,814.3 572.2,813.7 573.7,813.1 575.2,812.8 576.7,812.7 578.2,812.8 579.7,813.1 581.2,813.6 582.7,814.3 584.2,815.1 585.7,815.5 587.2,815.4 588.7,815.2 590.2,815.2 591.7,815.1 593.2,814.2 594.7,812.5 596.2,811.3 597.7,811.5 599.2,813.3 600.7,815.9 602.2,817.2 603.7,817.2 605.2,817.2 606.7,817 608.2,816.2 609.7,816.1 611.2,816.2 612.7,815.7 614.2,814.8 615.7,813.6 617.2,812.7 618.7,812.8 620.2,813.4 621.7,813.6 623.2,813.3 624.7,813.2 626.2,813.6 627.7,814.2" fill="none" stroke="#000" stroke-width="3.3" stroke-linejoin="round"/>
<path d="M66.7,854.7 68.2,854.3 69.7,854.6 71.2,854.7 72.7,854.3 74.2,853.9 75.7,854.4 77.2,855.8 78.7,857.2 80.2,857.7 81.7,857.4 83.2,857.1 84.7,857 86.2,857.2 87.7,857.3 89.2,857.1 90.7,856.8 92.2,856.6 93.7,856.6 95.2,856.7 96.7,857 98.2,857.4 99.7,857.5 101.2,857.3 102.7,857 104.2,856.3 105.7,855.8 107.2,855.6 108.7,855.2 110.2,855 111.7,855.8 113.2,856.4 114.7,855.6 116.2,854.2 117.7,853.6 119.2,853.5 120.7,853.2 122.2,853.5 123.7,854.6 125.2,855.5 126.7,855.5 128.2,854.7 129.7,853.9 131.2,853.7 132.7,854.1 134.2,854 135.7,853.9 137.2,854.3 138.7,854.9 140.2,855 141.7,855.1 143.2,855 144.7,854.5 146.2,854.1 147.7,853.8 149.2,853.7 150.7,853.5 152.2,853.5 153.7,853.7 155.2,854.1 156.7,854.6 158.2,855.5 159.7,856.8 161.2,857.6 162.7,856.8 164.2,855.6 165.7,854.7 167.2,854 168.7,853.2 170.2,852.7 171.7,853 173.2,853.2 174.7,852.4 176.2,851.1 177.7,850.2 179.2,850.4 180.7,851.1 182.2,851 183.7,849.9 185.2,848.7 186.7,848.1 188.2,848.1 189.7,848.2 191.2,847.7 192.7,847.1 194.2,847.3 195.7,848.3 197.2,848.7 198.7,848.2 200.2,847.4 201.7,846.9 203.2,846.4 204.7,845.9 206.2,845.7 207.7,846.1 209.2,846.5 210.7,846.7 212.2,846.7 213.7,846.3 215.2,845.5 216.7,845.1 218.2,845.2 219.7,845 221.2,843.8 222.7,842.4 224.2,841.9 225.7,842.3 227.2,842.7 228.7,842.5 230.2,842 231.7,841 233.2,839.8 234.7,838.8 236.2,838.3 237.7,838 239.2,837.1 240.7,835.7 242.2,834.5 243.7,833.6 245.2,832.6 246.7,831.4 248.2,830.3 249.7,829.9 251.2,829.8 252.7,829.1 254.2,827.7 255.7,826.8 257.2,826.3 258.7,824.9 260.2,822 261.7,819.2 263.2,817.5 264.7,816.8 266.2,816.6 267.7,816.3 269.2,815.2 270.7,813.2 272.2,811 273.7,809.5 275.2,808.9 276.7,808.7 278.2,808.3 279.7,807.9 281.2,807.7 282.7,807.5 284.2,806.5 285.7,804.9 287.2,803.6 288.7,803.1 290.2,802.7 291.7,801.7 293.2,800.5 294.7,799.7 296.2,799 297.7,798 299.2,797.1 300.7,796.9 302.2,797.1 303.7,797.1 305.2,796.4 306.7,795.3 308.2,794.3 309.7,793.8 311.2,793.4 312.7,792.8 314.2,792.2 315.7,791.9 317.2,792.3 318.7,793 320.2,793.9 321.7,794.7 323.2,795.2 324.7,795.7 326.2,796.4 327.7,797.6 329.2,798.5 330.7,798.7 332.2,798.4 333.7,798.2 335.2,798.6 336.7,799.5 338.2,800.5 339.7,801.7 341.2,803.3 342.7,804.4 344.2,804.8 345.7,805.4 347.2,807 348.7,808.7 350.2,809.3 351.7,809.5 353.2,808.6 354.7,808.1 356.2,808.4 357.7,808.9 359.2,809.3 360.7,809.6 362.2,810.5 363.7,811.5 365.2,812.1 366.7,812.8 368.2,814.3 369.7,815.8 371.2,816.4 372.7,816.5 374.2,816.6 375.7,816.8 377.2,817 378.7,817.8 380.2,819.5 381.7,820.7 383.2,820.6 384.7,820.5 386.2,821.2 387.7,822.2 389.2,821.9 390.7,820.7 392.2,820 393.7,820.7 395.2,821.8 396.7,821.9 398.2,820.7 399.7,819 401.2,818.3 402.7,818.9 404.2,819.8 405.7,820.2 407.2,820.2 408.7,821.1 410.2,823.2 411.7,825.3 413.2,825.8 414.7,825.8 416.2,824.2 417.7,822.1 419.2,820.5 420.7,819.6 422.2,819.3 423.7,819.7 425.2,821.3 426.7,823.6 428.2,826 429.7,828.1 431.2,829.8 432.7,831.4 434.2,832.9 435.7,833.7 437.2,834.1 438.7,834.6 440.2,835.5 441.7,836.6 443.2,838.1 444.7,840.1 446.2,841.6 447.7,841.6 449.2,840.7 450.7,840.6 452.2,842 453.7,844.3 455.2,846.2 456.7,847.6 458.2,849 459.7,850.4 461.2,851.5 462.7,852.3 464.2,852.5 465.7,852.1 467.2,851.8 468.7,851.3 470.2,851 471.7,851.4 473.2,851.8 474.7,853.4 476.2,854.5 477.7,854.7 479.2,854.5 480.7,854.3 482.2,853.8 483.7,853.6 485.2,854.1 486.7,855.3 488.2,856.2 489.7,856.7 491.2,857.7 492.7,859 494.2,859.6 495.7,859.8 497.2,860.3 498.7,860.9 500.2,860.4 501.7,859.2 503.2,858.3 504.7,858.1 506.2,858.1 507.7,858.4 509.2,859.7 510.7,861.3 512.2,862 513.7,861.3 515.2,859.9 516.7,858.8 518.2,858.6 519.7,859 521.2,859.3 522.7,859.7 524.2,860.3 525.7,861.5 527.2,862.7 528.7,862.7 530.2,862.3 531.7,859.9 533.2,857.7 534.7,856.9 536.2,857.1 537.7,857.5 539.2,857.6 540.7,857.8 542.2,858.6 543.7,859.3 545.2,859.7 546.7,860 548.2,860.7 549.7,861.1 551.2,860.9 552.7,860.3 554.2,859.5 555.7,859.3 557.2,859.8 558.7,860.4 560.2,860.4 561.7,860.1 563.2,859.9 564.7,859.9 566.2,859.9 567.7,859.2 569.2,858.2 570.7,857.6 572.2,857.9 573.7,858.3 575.2,858.5 576.7,858.3 578.2,858.1 579.7,857.9 581.2,857.5 582.7,857 584.2,856.4 585.7,856.3 587.2,856.3 588.7,856.5 590.2,858.2 591.7,859.7 593.2,860.8 594.7,862 596.2,862.2 597.7,862.1 599.2,861.7 600.7,860.6 602.2,859.9 603.7,859.9 605.2,859.8 606.7,859 608.2,857.8 609.7,857.3 611.2,857.5 612.7,857.6 614.2,857.5 615.7,857.9 617.2,858.5 618.7,858.9 620.2,858.7 621.7,857.9 623.2,857.1 624.7,857.2 626.2,858.2 627.7,858.7" fill="none" stroke="#000" stroke-width="3.3" stroke-linejoin="round"/>
<path d="M66.7,900 68.2,900.4 69.7,900.2 71.2,899.9 72.7,900.1 74.2,900.7 75.7,901.3 77.2,901.4 78.7,901.2 80.2,901.2 81.7,901.8 83.2,902.7 84.7,903.4 86.2,903.8 87.7,904.1 89.2,903.8 90.7,902.9 92.2,902.1 93.7,901.6 95.2,900.9 96.7,900.4 98.2,900.4 99.7,900.6 101.2,900.6 102.7,900.9 104.2,901.9 105.7,903.5 107.2,904.5 108.7,904 110.2,902.4 111.7,901.1 113.2,900.5 114.7,900.5 116.2,900.8 117.7,901.3 119.2,902 120.7,903.1 122.2,904.2 123.7,904.6 125.2,903.7 126.7,902.3 128.2,901.2 129.7,900.3 131.2,899.5 132.7,899.2 134.2,899.5 135.7,899.8 137.2,899.2 138.7,898.3 140.2,897.9 141.7,898 143.2,897.6 144.7,896.3 146.2,895.1 147.7,894.5 149.2,894.4 150.7,894.7 152.2,895 153.7,894.4 155.2,893 156.7,891.8 158.2,891.3 159.7,891.9 161.2,893 162.7,893.7 164.2,893.2 165.7,891.8 167.2,890.5 168.7,889.5 170.2,888.7 171.7,888.2 173.2,887.9 174.7,887.6 176.2,887.4 177.7,887.1 179.2,886.6 180.7,886.4 182.2,886.7 183.7,887.1 185.2,887.6 186.7,887.9 188.2,887.7 189.7,886.9 191.2,886.2 192.7,885.8 194.2,886.3 195.7,887 197.2,887.2 198.7,887 200.2,886.5 201.7,885.9 203.2,885.2 204.7,884.5 206.2,883.7 207.7,883.1 209.2,882.7 210.7,882.5 212.2,882.9 213.7,883.5 215.2,883.7 216.7,882.9 218.2,881.4 219.7,879.9 221.2,878.6 222.7,877.7 224.2,877.5 225.7,877.6 227.2,877.4 228.7,876.8 230.2,876.8 231.7,876.9 233.2,876.5 234.7,875.9 236.2,875.5 237.7,875.3 239.2,875.1 240.7,874.4 242.2,873.1 243.7,872.4 245.2,872 246.7,871.1 248.2,869.6 249.7,868.2 251.2,867.5 252.7,867.3 254.2,866.6 255.7,865 257.2,863.5 258.7,862.4 260.2,861.7 261.7,860.5 263.2,858.7 264.7,855.9 266.2,853.4 267.7,851.7 269.2,851.2 270.7,849.8 272.2,847 273.7,844.4 275.2,843.1 276.7,842.5 278.2,842 279.7,840.9 281.2,839.3 282.7,837.9 284.2,836.9 285.7,836.3 287.2,836.2 288.7,835.7 290.2,834.8 291.7,833.6 293.2,832.2 294.7,830.6 296.2,828.9 297.7,828.3 299.2,828.4 300.7,829.6 302.2,830.6 303.7,831.4 305.2,832.7 306.7,834.7 308.2,836.1 309.7,836.7 311.2,837.1 312.7,837.3 314.2,836.5 315.7,834.7 317.2,833 318.7,832.5 320.2,832.5 321.7,832 323.2,831.1 324.7,830.6 326.2,830.2 327.7,829.5 329.2,828.9 330.7,829.4 332.2,830.9 333.7,832.6 335.2,834.1 336.7,835 338.2,834.8 339.7,834.2 341.2,833.7 342.7,833.5 344.2,833.3 345.7,833.6 347.2,834.8 348.7,837.1 350.2,839.2 351.7,840.4 353.2,841 354.7,841.4 356.2,841.9 357.7,842.1 359.2,842.2 360.7,842.8 362.2,844 363.7,846 365.2,847.9 366.7,848.8 368.2,848.9 369.7,848.7 371.2,848.7 372.7,848.7 374.2,848.4 375.7,847.9 377.2,847.6 378.7,847.4 380.2,847.2 381.7,846.4 383.2,844.9 384.7,842.4 386.2,839.5 387.7,837.6 389.2,836.9 390.7,837.3 392.2,838.3 393.7,839.3 395.2,839.6 396.7,838.8 398.2,838 399.7,838.1 401.2,838 402.7,837 404.2,835.8 405.7,835 407.2,834.2 408.7,833.4 410.2,833.6 411.7,835.2 413.2,837.3 414.7,838.8 416.2,839.6 417.7,840.4 419.2,841.9 420.7,843.6 422.2,845.2 423.7,846.8 425.2,848.7 426.7,850.7 428.2,852.5 429.7,854.1 431.2,855.9 432.7,857.9 434.2,860 435.7,861.7 437.2,862.9 438.7,864.7 440.2,867.8 441.7,871.2 443.2,873.6 444.7,875.1 446.2,876 447.7,876.9 449.2,878.7 450.7,881.4 452.2,884 453.7,885.7 455.2,886.7 456.7,887.5 458.2,888.3 459.7,889.2 461.2,890 462.7,890.5 464.2,891.1 465.7,892 467.2,892.7 468.7,892.7 470.2,893 471.7,893.6 473.2,895.6 474.7,897.8 476.2,898.9 477.7,898.4 479.2,897.2 480.7,896.6 482.2,896.8 483.7,897.4 485.2,898.1 486.7,898.9 488.2,899.3 489.7,898.5 491.2,897.1 492.7,896.5 494.2,897.3 495.7,899 497.2,901.2 498.7,902.8 500.2,903.2 501.7,903.3 503.2,903.4 504.7,903.1 506.2,902.5 507.7,902 509.2,901.5 510.7,900.8 512.2,900 513.7,899.8 515.2,900.2 516.7,901 518.2,902 519.7,903 521.2,903.6 522.7,903.4 524.2,902.9 525.7,902.9 527.2,903.5 528.7,904 530.2,904 531.7,903.7 533.2,903.3 534.7,903.1 536.2,903.2 537.7,903.4 539.2,903.2 540.7,902.9 542.2,902.6 543.7,902.6 545.2,903 546.7,903.8 548.2,904.7 549.7,905.3 551.2,906 552.7,906.4 554.2,905.7 555.7,904.7 557.2,904.5 558.7,904.7 560.2,904.8 561.7,904.5 563.2,904.1 564.7,904.1 566.2,904.4 567.7,904.4 569.2,904 570.7,903.5 572.2,903 573.7,902.7 575.2,902.8 576.7,903 578.2,903.3 579.7,903.5 581.2,903.7 582.7,904 584.2,904.5 585.7,904.8 587.2,904.9 588.7,905.3 590.2,905.8 591.7,905.6 593.2,904.6 594.7,903.5 596.2,903.2 597.7,904 599.2,905.2 600.7,906 602.2,906.3 603.7,905.8 605.2,904.9 606.7,904.2 608.2,904 609.7,903.7 611.2,903.1 612.7,903.2 614.2,904.1 615.7,905.2 617.2,905.6 618.7,905.4 620.2,903.8 621.7,902.2 623.2,901.3 624.7,900.9 626.2,900.6 627.7,900.6" fill="none" stroke="#000" stroke-width="3.3" stroke-linejoin="round"/>
<path d="M66.7,939.9 68.2,940.4 69.7,940.6 71.2,940.4 72.7,939.6 74.2,938.6 75.7,938.3 77.2,939.1 78.7,940.8 80.2,942.3 81.7,942.6 83.2,942.2 84.7,942 86.2,942.2 87.7,942.4 89.2,942.6 90.7,942.4 92.2,941.9 93.7,941.5 95.2,941.3 96.7,941.2 98.2,941.3 99.7,941.2 101.2,941.1 102.7,941.5 104.2,942.4 105.7,943 107.2,942.9 108.7,942.7 110.2,943 111.7,943.5 113.2,943.7 114.7,943.2 116.2,942.2 117.7,941.4 119.2,941.5 120.7,942.5 122.2,943.3 123.7,942.9 125.2,941.8 126.7,941.4 128.2,941.9 129.7,942.2 131.2,942.1 132.7,941.7 134.2,941.4 135.7,941.2 137.2,940.8 138.7,940.3 140.2,939.9 141.7,939.4 143.2,938.9 144.7,938.6 146.2,938.5 147.7,938.4 149.2,937.9 150.7,937.1 152.2,936.7 153.7,936.8 155.2,937.1 156.7,937.1 158.2,936.8 159.7,936.2 161.2,935.6 162.7,935.4 164.2,935.4 165.7,935.7 167.2,936.4 168.7,937.4 170.2,938 171.7,937.7 173.2,936.4 174.7,935.2 176.2,935 177.7,935.7 179.2,936 180.7,935.2 182.2,934.2 183.7,933.6 185.2,933 186.7,931.7 188.2,930.1 189.7,929.4 191.2,930.1 192.7,930.8 194.2,930.3 195.7,929.1 197.2,928.8 198.7,929.6 200.2,930.4 201.7,930.3 203.2,929.5 204.7,929 206.2,928.8 207.7,928.4 209.2,927.7 210.7,927 212.2,926.7 213.7,926.7 215.2,926.4 216.7,925.4 218.2,924.3 219.7,924.2 221.2,925.1 222.7,925.4 224.2,924.9 225.7,924.1 227.2,923.2 228.7,922.1 230.2,921.4 231.7,921.3 233.2,920.9 234.7,920.1 236.2,919.6 237.7,919.6 239.2,918.9 240.7,917.2 242.2,915.9 243.7,915.5 245.2,915.6 246.7,915.5 248.2,914.8 249.7,913.8 251.2,913.3 252.7,913.5 254.2,913.5 255.7,912.7 257.2,910.9 258.7,908.9 260.2,906.9 261.7,905.3 263.2,903.7 264.7,901.6 266.2,899.3 267.7,897.7 269.2,896.4 270.7,895.4 272.2,894.4 273.7,893.1 275.2,891.6 276.7,890.3 278.2,888.5 279.7,886.7 281.2,885 282.7,883.6 284.2,881.7 285.7,879.6 287.2,878.3 288.7,877.7 290.2,877.4 291.7,877.8 293.2,878.7 294.7,879.6 296.2,880 297.7,880 299.2,879.1 300.7,877.7 302.2,876.2 303.7,874.8 305.2,874.1 306.7,874.1 308.2,874.5 309.7,874.6 311.2,874.2 312.7,873.9 314.2,874.2 315.7,875.4 317.2,877.2 318.7,879.1 320.2,880.4 321.7,880.9 323.2,880.8 324.7,880.7 326.2,878.8 327.7,876.6 329.2,875.3 330.7,875 332.2,875 333.7,874.7 335.2,874.5 336.7,874.7 338.2,874.9 339.7,874.9 341.2,874.8 342.7,875.1 344.2,876 345.7,877.2 347.2,877.8 348.7,877.4 350.2,876.8 351.7,877 353.2,878.2 354.7,879.7 356.2,880.4 357.7,880.5 359.2,881.1 360.7,882.2 362.2,882.6 363.7,881.8 365.2,881 366.7,881.5 368.2,882.9 369.7,884.2 371.2,884.2 372.7,882.6 374.2,880.6 375.7,879.2 377.2,878.2 378.7,877.4 380.2,876.9 381.7,876.2 383.2,875.5 384.7,875.6 386.2,876.4 387.7,876.6 389.2,876.1 390.7,875.4 392.2,874.4 393.7,872.7 395.2,870.8 396.7,869.5 398.2,868.7 399.7,867.8 401.2,866.3 402.7,864.3 404.2,863.1 405.7,862.2 407.2,862.2 408.7,862.6 410.2,862.7 411.7,862.9 413.2,863.8 414.7,865.1 416.2,866.5 417.7,868.5 419.2,870.8 420.7,872.9 422.2,875 423.7,877.6 425.2,880.6 426.7,883.5 428.2,886.2 429.7,889 431.2,891.9 432.7,895.1 434.2,898.7 435.7,902 437.2,905.1 438.7,908.2 440.2,910.9 441.7,914 443.2,917.9 444.7,921.7 446.2,924.7 447.7,926.8 449.2,928.9 450.7,930.7 452.2,931.9 453.7,933.1 455.2,931.8 456.7,930.2 458.2,930.3 459.7,931.7 461.2,933.2 462.7,933.8 464.2,933.9 465.7,934.2 467.2,934.7 468.7,935.1 470.2,935.8 471.7,937.2 473.2,938.4 474.7,938.9 476.2,938.8 477.7,939.1 479.2,940.2 480.7,941.5 482.2,942.1 483.7,941.7 485.2,941.1 486.7,941.2 488.2,941.7 489.7,941.2 491.2,939.6 492.7,938.4 494.2,938.6 495.7,939.4 497.2,941 498.7,942 500.2,942.6 501.7,943.8 503.2,944.8 504.7,944.1 506.2,942.2 507.7,940.5 509.2,939.9 510.7,940.9 512.2,943.4 513.7,945.6 515.2,945.8 516.7,944.7 518.2,943.6 519.7,943 521.2,942.3 522.7,941.5 524.2,942 525.7,943.8 527.2,945.3 528.7,945.9 530.2,945.7 531.7,945.2 533.2,944.9 534.7,945.2 536.2,945.7 537.7,945.4 539.2,944.4 540.7,943.4 542.2,942.5 543.7,942.7 545.2,943.9 546.7,945 548.2,944.8 549.7,944.3 551.2,944.1 552.7,943.6 554.2,942.6 555.7,942.5 557.2,943.7 558.7,944.5 560.2,943.8 561.7,942.8 563.2,943.1 564.7,944.8 566.2,946.1 567.7,946.2 569.2,945.7 570.7,945.2 572.2,944.7 573.7,944.4 575.2,944.7 576.7,945.4 578.2,946.4 579.7,947.3 581.2,947.6 582.7,947.6 584.2,947.5 585.7,947.6 587.2,948 588.7,948.3 590.2,947.8 591.7,947.4 593.2,948 594.7,948.5 596.2,947.5 597.7,945.7 599.2,944.9 600.7,945.6 602.2,946.6 603.7,947.4 605.2,947.7 606.7,947.3 608.2,946.1 609.7,944.6 611.2,943.9 612.7,944.5 614.2,945.6 615.7,946.2 617.2,945.6 618.7,943.8 620.2,941.7 621.7,941.5 623.2,941.3 624.7,942.5 626.2,942.9 627.7,943.4" fill="none" stroke="#000" stroke-width="3.3" stroke-linejoin="round"/>
<path d="M66.7,984.6 68.2,984.2 69.7,984 71.2,984.2 72.7,984.4 74.2,984.3 75.7,983.8 77.2,983.1 78.7,982.9 80.2,983.2 81.7,983.4 83.2,983.3 84.7,983.5 86.2,983.8 87.7,984.4 89.2,985.4 90.7,986.6 92.2,986.7 93.7,986.4 95.2,985.2 96.7,984.6 98.2,985.1 99.7,985.7 101.2,985.6 102.7,984.8 104.2,984 105.7,983.8 107.2,984.1 108.7,984 110.2,983.6 111.7,983.6 113.2,983.9 114.7,984.2 116.2,984.5 117.7,984.7 119.2,984.3 120.7,983.4 122.2,982.4 123.7,982 125.2,981.6 126.7,981.4 128.2,981.4 129.7,982.2 131.2,983.4 132.7,984.4 134.2,984.7 135.7,984.8 137.2,984.8 138.7,984.6 140.2,984.6 141.7,985.2 143.2,986.3 144.7,987.1 146.2,987.7 147.7,988.2 149.2,988.6 150.7,988.9 152.2,989 153.7,988.7 155.2,988.2 156.7,987.6 158.2,986.9 159.7,986.7 161.2,986.9 162.7,986.9 164.2,986.5 165.7,985.7 167.2,984.8 168.7,984.2 170.2,984.1 171.7,983.7 173.2,982.5 174.7,981.6 176.2,981.9 177.7,982.9 179.2,983.5 180.7,983.1 182.2,982.2 183.7,981.4 185.2,980.8 186.7,980.3 188.2,980 189.7,980.1 191.2,980.4 192.7,980.4 194.2,979.9 195.7,979.1 197.2,978.7 198.7,978.8 200.2,979 201.7,979 203.2,978.9 204.7,978.9 206.2,979.1 207.7,978.6 209.2,977.4 210.7,976.9 212.2,977.3 213.7,977.3 215.2,976.5 216.7,975.7 218.2,975.5 219.7,975.9 221.2,976.1 222.7,975.9 224.2,975.9 225.7,976.1 227.2,975.4 228.7,973.9 230.2,972.1 231.7,970.7 233.2,969.6 234.7,968.5 236.2,967.2 237.7,966.7 239.2,966.2 240.7,966.8 242.2,968.1 243.7,968.6 245.2,968.3 246.7,968 248.2,967.9 249.7,967.6 251.2,967.2 252.7,966.8 254.2,966.2 255.7,964.6 257.2,962.7 258.7,961.8 260.2,961.9 261.7,962.3 263.2,962.1 264.7,961.3 266.2,960.2 267.7,959 269.2,957.4 270.7,955.5 272.2,953.8 273.7,952.1 275.2,950.3 276.7,948.6 278.2,946.8 279.7,945.2 281.2,944.2 282.7,943.9 284.2,943.7 285.7,943.5 287.2,943.8 288.7,943.9 290.2,943.1 291.7,941.7 293.2,940.3 294.7,938.6 296.2,937.1 297.7,936.3 299.2,936.1 300.7,935.8 302.2,935 303.7,933.7 305.2,932.7 306.7,931.8 308.2,931 309.7,929.9 311.2,928.9 312.7,928.2 314.2,927.7 315.7,927.3 317.2,926.9 318.7,926.1 320.2,925.2 321.7,924.6 323.2,924.4 324.7,924.3 326.2,924.1 327.7,923.8 329.2,924 330.7,924.5 332.2,924.6 333.7,924.1 335.2,923.3 336.7,922.6 338.2,922.4 339.7,923.1 341.2,923.4 342.7,923.1 344.2,922.5 345.7,921.9 347.2,922.2 348.7,922.4 350.2,922.3 351.7,922.2 353.2,922.1 354.7,922 356.2,921.7 357.7,920.9 359.2,920.5 360.7,920.8 362.2,921.2 363.7,921.1 365.2,920.5 366.7,919.7 368.2,918.8 369.7,917.9 371.2,917.4 372.7,917.5 374.2,917.7 375.7,917.7 377.2,917.3 378.7,916.8 380.2,916.4 381.7,916.2 383.2,916.2 384.7,916 386.2,914.9 387.7,913 389.2,911 390.7,909.3 392.2,908 393.7,906.8 395.2,905.6 396.7,904.1 398.2,903.2 399.7,903.2 401.2,903.4 402.7,903.1 404.2,902.7 405.7,902.7 407.2,902.4 408.7,901.6 410.2,900.9 411.7,901.5 413.2,902.4 414.7,902.3 416.2,901.7 417.7,902.1 419.2,903.3 420.7,904.9 422.2,907.4 423.7,910.3 425.2,913.1 426.7,915.2 428.2,916.5 429.7,917.7 431.2,919.4 432.7,921.6 434.2,924 435.7,926.6 437.2,928.9 438.7,930.6 440.2,931.9 441.7,933.1 443.2,934.3 444.7,935.5 446.2,936.8 447.7,937.9 449.2,938.4 450.7,939 452.2,940.3 453.7,942.2 455.2,944.2 456.7,946.7 458.2,949.1 459.7,950.6 461.2,951 462.7,951.1 464.2,951.8 465.7,953.6 467.2,955.9 468.7,958 470.2,959.5 471.7,960.7 473.2,962 474.7,963.9 476.2,966.2 477.7,968.4 479.2,970.2 480.7,971.2 482.2,971.1 483.7,970.7 485.2,971.2 486.7,972.8 488.2,974.8 489.7,976.8 491.2,978.2 492.7,979.2 494.2,980.1 495.7,981 497.2,981.7 498.7,982.7 500.2,984.1 501.7,985.6 503.2,986.6 504.7,986.8 506.2,986.3 507.7,985.6 509.2,984.9 510.7,984.7 512.2,985.2 513.7,986.7 515.2,988.1 516.7,988.6 518.2,988.9 519.7,989.4 521.2,990.2 522.7,991.1 524.2,991.2 525.7,991.2 527.2,990.8 528.7,990.1 530.2,989.6 531.7,989.3 533.2,989 534.7,988.4 536.2,987.8 537.7,987.7 539.2,987.9 540.7,987.9 542.2,987.9 543.7,988.5 545.2,989.7 546.7,990.7 548.2,991 549.7,990.3 551.2,989.7 552.7,989.7 554.2,989.9 555.7,989.3 557.2,988.2 558.7,987.7 560.2,988.1 561.7,989.3 563.2,990.5 564.7,991.1 566.2,991.1 567.7,990.6 569.2,990.4 570.7,990.7 572.2,990.9 573.7,990.5 575.2,989.9 576.7,989.7 578.2,989.8 579.7,989.5 581.2,989 582.7,988.9 584.2,989.5 585.7,990.9 587.2,992.5 588.7,993.6 590.2,993.9 591.7,993.3 593.2,992.8 594.7,993.2 596.2,993.7 597.7,993.1 599.2,991.3 600.7,990.2 602.2,990.2 603.7,990.5 605.2,990.5 606.7,990.1 608.2,989.6 609.7,989.6 611.2,990.7 612.7,992.3 614.2,993.5 615.7,993.7 617.2,993.1 618.7,991.9 620.2,991 621.7,991 623.2,992.3 624.7,994.2 626.2,995.4 627.7,995.3" fill="none" stroke="#000" stroke-width="3.3" stroke-linejoin="round"/>
<line x1="234.6" y1="615.8" x2="234.6" y2="1011.7" stroke="#2a22c4" stroke-width="3.2" stroke-dasharray="3.2 11" stroke-dashoffset="0"/>
<line x1="319" y1="589.5" x2="319" y2="1011.7" stroke="#26dc26" stroke-width="3" stroke-dasharray="13.6 6.4 2.5 6.8" stroke-dashoffset="0"/>
<line x1="404.1" y1="606.6" x2="404.1" y2="1011.7" stroke="#de1f26" stroke-width="3" stroke-dasharray="12 12.1" stroke-dashoffset="0"/>
</g>
<clipPath id="clipd"><rect x="696.9" y="617.4" width="564.7" height="395"/></clipPath>
<g clip-path="url(#clipd)">
<path d="M694.9,749.6 L697.9,749.6 699.4,749.7 700.9,749.8 702.4,750.1 703.9,750.4 705.4,750.5 706.9,750.4 708.4,750.5 709.9,750.9 711.4,751.1 712.9,751 714.4,750.9 715.9,751 717.4,751.3 718.9,751.5 720.4,751.6 721.9,751.5 723.4,751.2 724.9,750.9 726.4,750.6 727.9,750.4 729.4,750.5 730.9,750.8 732.4,751.3 733.9,751.7 735.4,751.9 736.9,751.8 738.4,751.4 739.9,751 741.4,751 742.9,751 744.4,751 745.9,751.2 747.4,751.6 748.9,752 750.4,752.1 751.9,752 753.4,752.1 754.9,752.4 756.4,752.5 757.9,752.2 759.4,751.7 760.9,751.3 762.4,751.1 763.9,751 765.4,750.8 766.9,750.7 768.4,750.4 769.9,750.3 771.4,750.2 772.9,750 774.4,749.8 775.9,749.8 777.4,750.1 778.9,750.3 780.4,750.4 781.9,750.5 783.4,750.5 784.9,750.6 786.4,750.7 787.9,750.9 789.4,750.9 790.9,750.7 792.4,750.2 793.9,749.8 795.4,749.6 796.9,749.6 798.4,749.5 799.9,749.6 801.4,749.8 802.9,749.8 804.4,749.8 805.9,750 807.4,750.4 808.9,750.4 810.4,750.2 811.9,749.3 813.4,748.6 814.9,748.3 816.4,748.4 817.9,748.6 819.4,748.5 820.9,748.1 822.4,747.8 823.9,748 825.4,748.4 826.9,748.5 828.4,748.2 829.9,747.8 831.4,747.4 832.9,747.1 834.4,747 835.9,747 837.4,746.8 838.9,746.4 840.4,746.3 841.9,746.5 843.4,746.7 844.9,746.7 846.4,746.7 847.9,746.5 849.4,746.2 850.9,746 852.4,746.3 853.9,746.4 855.4,746.2 856.9,745.9 858.4,745.6 859.9,745.5 861.4,745.3 862.9,744.9 864.4,744.4 865.9,744.1 867.4,744.1 868.9,744.1 870.4,744 871.9,744 873.4,744.5 874.9,745.2 876.4,745.5 877.9,745.4 879.4,744.8 880.9,743.7 882.4,742.9 883.9,742.4 885.4,742.3 886.9,742.1 888.4,741.8 889.9,741.7 891.4,742 892.9,742.2 894.4,742.2 895.9,741.8 897.4,741.4 898.9,741 900.4,740.5 901.9,740.1 903.4,740 904.9,740.2 906.4,740.3 907.9,740.2 909.4,739.8 910.9,739.5 912.4,738.8 913.9,737.7 915.4,736.6 916.9,736 918.4,735.9 919.9,735.7 921.4,735.1 922.9,734 924.4,732.6 925.9,731.2 927.4,730 928.9,729.1 930.4,728.5 931.9,727.9 933.4,727.2 934.9,726.3 936.4,725.5 937.9,724.8 939.4,723.9 940.9,722.8 942.4,721.8 943.9,720.9 945.4,719.9 946.9,718.8 948.4,717.6 949.9,716.3 951.4,714.9 952.9,713.5 954.4,712.1 955.9,710.7 957.4,708.9 958.9,706.9 960.4,704.9 961.9,703 963.4,701.2 964.9,699.2 966.4,697 967.9,694.1 969.4,690.3 970.9,686.1 972.4,681.6 973.9,676.6 975.4,671.6 976.9,667.2 978.4,663.6 979.9,660 981.4,656.2 982.9,652.5 984.4,649.5 985.9,647.8 987.4,647.7 988.9,648.5 990.4,649.7 991.9,651.3 993.4,653.3 994.9,655.6 996.4,658 997.9,660.5 999.4,663.8 1000.9,668.4 1002.4,673.9 1003.9,679.8 1005.4,685.9 1006.9,691.9 1008.4,697.4 1009.9,701.9 1011.4,706 1012.9,709.8 1014.4,713.7 1015.9,717.7 1017.4,721.7 1018.9,725.3 1020.4,727.7 1021.9,729.3 1023.4,730.8 1024.9,732.5 1026.4,734.1 1027.9,735.5 1029.4,736.8 1030.9,737.9 1032.4,738.1 1033.9,737.8 1035.4,737.8 1036.9,738.5 1038.4,739.3 1039.9,739.8 1041.4,740 1042.9,740.1 1044.4,740.6 1045.9,741 1047.4,741.2 1048.9,741.2 1050.4,741.1 1051.9,740.7 1053.4,740.2 1054.9,739.8 1056.4,739.5 1057.9,739.2 1059.4,738.6 1060.9,737.9 1062.4,737.1 1063.9,736.2 1065.4,735.2 1066.9,734.5 1068.4,733.5 1069.9,732 1071.4,730.2 1072.9,728.5 1074.4,726.8 1075.9,725.3 1077.4,723.9 1078.9,723 1080.4,722.4 1081.9,722 1083.4,721.3 1084.9,719.7 1086.4,716 1087.9,712.9 1089.4,711.4 1090.9,710.9 1092.4,710 1093.9,708.4 1095.4,706.5 1096.9,704.3 1098.4,701.7 1099.9,699.2 1101.4,696.6 1102.9,693.8 1104.4,690.8 1105.9,687.4 1107.4,683.4 1108.9,679.2 1110.4,674.6 1111.9,669.6 1113.4,664.6 1114.9,659.8 1116.4,655.9 1117.9,652.6 1119.4,649.1 1120.9,644.3 1122.4,637.7 1123.9,632 1125.4,628.8 1126.9,626.2 1128.4,624.3 1129.9,623.5 1131.4,624.2 1132.9,626.1 1134.4,628.7 1135.9,631.9 1137.4,635.7 1138.9,642.5 1140.4,650.8 1141.9,658.9 1143.4,666.4 1144.9,673.4 1146.4,680.2 1147.9,686.8 1149.4,693.1 1150.9,699.1 1152.4,705 1153.9,711 1155.4,717.4 1156.9,724.2 1158.4,731.4 1159.9,737.3 1161.4,740.9 1162.9,743.7 1164.4,745.9 1165.9,747.5 1167.4,749.1 1168.9,751 1170.4,752.8 1171.9,754.1 1173.4,755.1 1174.9,756.1 1176.4,757.4 1177.9,758.4 1179.4,758.9 1180.9,759.2 1182.4,759.8 1183.9,760.7 1185.4,761 1186.9,760.7 1188.4,760.5 1189.9,760.9 1191.4,761.5 1192.9,762 1194.4,762.1 1195.9,761.8 1197.4,761.3 1198.9,761.1 1200.4,761.4 1201.9,761.8 1203.4,762 1204.9,762.1 1206.4,762.1 1207.9,762.3 1209.4,762.7 1210.9,763.4 1212.4,764 1213.9,764.3 1215.4,764.4 1216.9,764.6 1218.4,765 1219.9,765.3 1221.4,765.5 1222.9,765.7 1224.4,765.9 1225.9,766 1227.4,765.8 1228.9,765.3 1230.4,764.9 1231.9,764.8 1233.4,765 1234.9,765.3 1236.4,765.5 1237.9,765.5 1239.4,765.4 1240.9,765.2 1242.4,765.3 1243.9,765.6 1245.4,765.9 1246.9,766 1248.4,766 1249.9,765.9 1251.4,765.5 1252.9,765 1254.4,765.1 1255.9,765.6 1257.4,765.9 1258.9,765.8 1260.4,765.5 L1263.4,765.5 L1263.4,1014.4 L694.9,1014.4 Z" fill="#d9d9d9"/>
<path d="M694.9,833.2 L697.9,833.2 699.4,833.3 700.9,833.3 702.4,833.2 703.9,833.1 705.4,833.3 706.9,833.9 708.4,834.6 709.9,835 711.4,835 712.9,834.6 714.4,834.4 715.9,834.3 717.4,834.4 718.9,834.5 720.4,834.7 721.9,834.9 723.4,834.9 724.9,834.7 726.4,834.2 727.9,833.7 729.4,833.2 730.9,833.2 732.4,833.4 733.9,833.8 735.4,834.2 736.9,834.7 738.4,835.1 739.9,835.2 741.4,834.7 742.9,834 744.4,833.4 745.9,833.2 747.4,833.2 748.9,833.1 750.4,833 751.9,832.9 753.4,832.8 754.9,832.6 756.4,832.4 757.9,832.4 759.4,832.6 760.9,833.2 762.4,834 763.9,834.2 765.4,834.1 766.9,833.3 768.4,832.7 769.9,832.5 771.4,832.7 772.9,832.9 774.4,832.9 775.9,832.8 777.4,832.7 778.9,832.4 780.4,832.1 781.9,831.8 783.4,831.6 784.9,831.2 786.4,830.6 787.9,830.3 789.4,830.3 790.9,830.2 792.4,830.1 793.9,830.2 795.4,830.6 796.9,830.6 798.4,830.3 799.9,830.2 801.4,830.5 802.9,830.9 804.4,831 805.9,831 807.4,831.1 808.9,831 810.4,830.3 811.9,829.4 813.4,828.8 814.9,828.5 816.4,828.2 817.9,827.9 819.4,827.8 820.9,827.9 822.4,827.9 823.9,827.6 825.4,827.2 826.9,827 828.4,827.4 829.9,827.8 831.4,827.6 832.9,826.8 834.4,826.3 835.9,826.2 837.4,826.2 838.9,826.4 840.4,826.4 841.9,826.8 843.4,827.4 844.9,828 846.4,827.9 847.9,827.3 849.4,826.8 850.9,826.6 852.4,826.5 853.9,826.5 855.4,826.7 856.9,826.9 858.4,827 859.9,826.9 861.4,826.5 862.9,825.7 864.4,824.8 865.9,824.3 867.4,824.4 868.9,824.8 870.4,825.1 871.9,825 873.4,824.6 874.9,824.4 876.4,824.5 877.9,824.4 879.4,824.2 880.9,824 882.4,823.8 883.9,823.1 885.4,822.4 886.9,821.9 888.4,821.9 889.9,821.8 891.4,821.1 892.9,820.3 894.4,819.7 895.9,819.5 897.4,819.4 898.9,819.2 900.4,818.8 901.9,818.5 903.4,818.1 904.9,817.5 906.4,816.8 907.9,816.3 909.4,815.7 910.9,814.6 912.4,813.5 913.9,812.6 915.4,811.7 916.9,810.6 918.4,809.6 919.9,808.9 921.4,808 922.9,806.8 924.4,805.3 925.9,804 927.4,803.1 928.9,802.1 930.4,800.3 931.9,798 933.4,795.5 934.9,792.9 936.4,790.4 937.9,787.6 939.4,784.5 940.9,781.3 942.4,779 943.9,776.7 945.4,774.6 946.9,773.3 948.4,771.7 949.9,769.6 951.4,767 952.9,764.3 954.4,761.8 955.9,759.1 957.4,756 958.9,752.6 960.4,749 961.9,745.3 963.4,741.4 964.9,737.2 966.4,733.2 967.9,729.4 969.4,725.6 970.9,721.8 972.4,718.1 973.9,714.5 975.4,710.9 976.9,707.4 978.4,704.1 979.9,700.8 981.4,696.8 982.9,691.9 984.4,687.3 985.9,684 987.4,683 988.9,683.6 990.4,684.6 991.9,685.9 993.4,687.4 994.9,689.2 996.4,691.4 997.9,694.1 999.4,698.3 1000.9,704.5 1002.4,712.3 1003.9,721 1005.4,729.4 1006.9,737.1 1008.4,744 1009.9,750.3 1011.4,756.9 1012.9,763.4 1014.4,769.6 1015.9,775.5 1017.4,780.9 1018.9,785.4 1020.4,789.2 1021.9,792.7 1023.4,796.4 1024.9,800.1 1026.4,803.3 1027.9,806.1 1029.4,808.4 1030.9,810.4 1032.4,811.9 1033.9,812.8 1035.4,813.5 1036.9,814 1038.4,814.3 1039.9,814.4 1041.4,814.5 1042.9,814.5 1044.4,814.7 1045.9,815.2 1047.4,815.7 1048.9,816 1050.4,815.6 1051.9,814.9 1053.4,814.7 1054.9,815.1 1056.4,815.3 1057.9,815.1 1059.4,814.8 1060.9,814.4 1062.4,813.9 1063.9,813 1065.4,811.6 1066.9,810 1068.4,808.4 1069.9,807.3 1071.4,806.8 1072.9,806.4 1074.4,805.1 1075.9,802.7 1077.4,799.8 1078.9,797.2 1080.4,794.9 1081.9,792.3 1083.4,789 1084.9,785.2 1086.4,781.9 1087.9,779.7 1089.4,778.4 1090.9,777.3 1092.4,775.8 1093.9,773 1095.4,769.4 1096.9,765.8 1098.4,762.6 1099.9,759.3 1101.4,755.3 1102.9,750.6 1104.4,745.6 1105.9,740.6 1107.4,735.1 1108.9,729.1 1110.4,722.6 1111.9,715.7 1113.4,708.3 1114.9,700.5 1116.4,692.5 1117.9,684.7 1119.4,676.4 1120.9,667.8 1122.4,659.9 1123.9,653.7 1125.4,649.8 1126.9,646.5 1128.4,644.5 1129.9,644.3 1131.4,646.4 1132.9,649.9 1134.4,653.7 1135.9,657 1137.4,660.7 1138.9,666.2 1140.4,678.4 1141.9,688.8 1143.4,698.2 1144.9,706.8 1146.4,715.3 1147.9,724.2 1149.4,733.5 1150.9,744 1152.4,756.1 1153.9,769.7 1155.4,781.4 1156.9,790.3 1158.4,797.8 1159.9,804.6 1161.4,812 1162.9,820.2 1164.4,828.5 1165.9,835.2 1167.4,839 1168.9,840.2 1170.4,841 1171.9,841.6 1173.4,842 1174.9,842.4 1176.4,843.1 1177.9,843.9 1179.4,844.9 1180.9,845.7 1182.4,846.4 1183.9,847 1185.4,847.4 1186.9,847.6 1188.4,847.8 1189.9,848.1 1191.4,848.5 1192.9,848.8 1194.4,849 1195.9,849.3 1197.4,850 1198.9,850.7 1200.4,851.4 1201.9,851.9 1203.4,852.1 1204.9,852.4 1206.4,852.6 1207.9,852.7 1209.4,852.8 1210.9,853 1212.4,853.4 1213.9,853.7 1215.4,853.7 1216.9,853.6 1218.4,853.4 1219.9,853.3 1221.4,853.5 1222.9,853.9 1224.4,854.1 1225.9,854 1227.4,854 1228.9,854.3 1230.4,854.9 1231.9,855.2 1233.4,855.1 1234.9,855 1236.4,855.1 1237.9,855 1239.4,854.8 1240.9,854.9 1242.4,855.1 1243.9,855.1 1245.4,855 1246.9,854.8 1248.4,854.6 1249.9,854.6 1251.4,854.8 1252.9,855.2 1254.4,855.6 1255.9,855.6 1257.4,855.6 1258.9,855.7 1260.4,856 L1263.4,856 L1263.4,1014.4 L694.9,1014.4 Z" fill="#ffffff"/>
<path d="M694.9,873 L697.9,873 699.4,873 700.9,873 702.4,873.2 703.9,873.4 705.4,873.3 706.9,872.8 708.4,872.3 709.9,871.9 711.4,871.9 712.9,872.4 714.4,872.9 715.9,873 717.4,872.9 718.9,872.7 720.4,872.5 721.9,872.2 723.4,871.9 724.9,871.7 726.4,871.7 727.9,871.8 729.4,871.8 730.9,871.7 732.4,871.7 733.9,871.7 735.4,871.7 736.9,871.4 738.4,871.3 739.9,871.5 741.4,871.8 742.9,872.1 744.4,872.3 745.9,872.5 747.4,872.4 748.9,872.2 750.4,872.3 751.9,872.9 753.4,873.6 754.9,873.9 756.4,873.9 757.9,873.6 759.4,873.2 760.9,872.8 762.4,872.5 763.9,872.3 765.4,872.4 766.9,872.7 768.4,872.7 769.9,872.4 771.4,871.9 772.9,871.6 774.4,871.3 775.9,871.1 777.4,871.1 778.9,871.3 780.4,871.2 781.9,870.8 783.4,870.6 784.9,870.9 786.4,871.3 787.9,871.4 789.4,871.3 790.9,871.2 792.4,871.2 793.9,871.3 795.4,871.3 796.9,871.1 798.4,870.7 799.9,870.2 801.4,870 802.9,869.9 804.4,869.9 805.9,869.7 807.4,869.6 808.9,869.6 810.4,869.5 811.9,869.2 813.4,869.1 814.9,869.2 816.4,869.3 817.9,869 819.4,868.5 820.9,868.3 822.4,868.4 823.9,868.6 825.4,868.5 826.9,867.9 828.4,867.2 829.9,866.8 831.4,867.1 832.9,867.6 834.4,868 835.9,867.9 837.4,867.4 838.9,866.7 840.4,866.4 841.9,866.4 843.4,866.5 844.9,866.5 846.4,866.1 847.9,865.8 849.4,865.3 850.9,864.9 852.4,864.5 853.9,864 855.4,863.4 856.9,863 858.4,863.1 859.9,863.2 861.4,863.1 862.9,862.8 864.4,862.5 865.9,862.3 867.4,862.1 868.9,861.6 870.4,861.1 871.9,861 873.4,861.2 874.9,861.1 876.4,860.8 877.9,860.4 879.4,859.9 880.9,859.3 882.4,858.5 883.9,858.1 885.4,858 886.9,858.1 888.4,858.2 889.9,858.1 891.4,857.7 892.9,857.2 894.4,856.8 895.9,856.8 897.4,856.6 898.9,856.2 900.4,855.9 901.9,855.4 903.4,854.6 904.9,853.5 906.4,852.2 907.9,851.5 909.4,851.2 910.9,851 912.4,850.7 913.9,850.3 915.4,849.4 916.9,848.4 918.4,847.7 919.9,847.1 921.4,846.1 922.9,844.6 924.4,843 925.9,841.5 927.4,840 928.9,838.6 930.4,837.5 931.9,836.7 933.4,835.9 934.9,834.8 936.4,833.1 937.9,831.1 939.4,828.8 940.9,826.3 942.4,823.7 943.9,821.3 945.4,819 946.9,816.7 948.4,814.4 949.9,812.2 951.4,809.5 952.9,806.3 954.4,803.2 955.9,800.3 957.4,797.3 958.9,794.3 960.4,791.3 961.9,788.5 963.4,785.5 964.9,781.6 966.4,777.5 967.9,773.2 969.4,769 970.9,764.9 972.4,761 973.9,756.7 975.4,753.1 976.9,749.8 978.4,746.5 979.9,743.4 981.4,740.4 982.9,737.6 984.4,735.2 985.9,733.3 987.4,732.2 988.9,732.1 990.4,732.7 991.9,733.9 993.4,735.8 994.9,738.3 996.4,741.2 997.9,744.4 999.4,749.5 1000.9,756.4 1002.4,764.6 1003.9,773.8 1005.4,783.3 1006.9,792.2 1008.4,799.3 1009.9,804.1 1011.4,808 1012.9,811.4 1014.4,814.5 1015.9,817.7 1017.4,821.2 1018.9,824.8 1020.4,828.7 1021.9,832.7 1023.4,836.7 1024.9,840.5 1026.4,843.9 1027.9,846.9 1029.4,849.2 1030.9,850.5 1032.4,851.1 1033.9,851.6 1035.4,852.2 1036.9,852.6 1038.4,852.7 1039.9,852.8 1041.4,853 1042.9,853.5 1044.4,854.1 1045.9,854.7 1047.4,855 1048.9,854.8 1050.4,854.5 1051.9,854.2 1053.4,853.9 1054.9,853.5 1056.4,853 1057.9,852.4 1059.4,851.7 1060.9,850.8 1062.4,849.8 1063.9,848.7 1065.4,847.8 1066.9,846.9 1068.4,846.1 1069.9,844.9 1071.4,843.6 1072.9,842 1074.4,840.2 1075.9,838.3 1077.4,837 1078.9,835.8 1080.4,834.1 1081.9,831.6 1083.4,828.5 1084.9,824.4 1086.4,820 1087.9,816.7 1089.4,813.7 1090.9,810.4 1092.4,806.7 1093.9,803.1 1095.4,799.9 1096.9,796.9 1098.4,793.7 1099.9,789.9 1101.4,785.4 1102.9,780.6 1104.4,775.6 1105.9,770.8 1107.4,766.5 1108.9,762.8 1110.4,759.4 1111.9,756.5 1113.4,753.9 1114.9,750.5 1116.4,744.9 1117.9,736.9 1119.4,728.2 1120.9,720.3 1122.4,713.2 1123.9,705.1 1125.4,698.2 1126.9,694.9 1128.4,693.3 1129.9,692.9 1131.4,694.1 1132.9,696.5 1134.4,700.2 1135.9,708.7 1137.4,720.2 1138.9,731 1140.4,739.9 1141.9,748.9 1143.4,758.5 1144.9,767.9 1146.4,776.5 1147.9,785.5 1149.4,796.6 1150.9,813.2 1152.4,827.5 1153.9,840.6 1155.4,851.5 1156.9,858.5 1158.4,864.4 1159.9,869.6 1161.4,873.8 1162.9,877.4 1164.4,880.3 1165.9,882.6 1167.4,884.2 1168.9,885 1170.4,885.6 1171.9,886.2 1173.4,886.8 1174.9,887.5 1176.4,888.2 1177.9,888.7 1179.4,888.9 1180.9,888.9 1182.4,888.9 1183.9,889.2 1185.4,889.5 1186.9,889.7 1188.4,889.7 1189.9,890 1191.4,890.6 1192.9,891.4 1194.4,892 1195.9,892 1197.4,891.6 1198.9,891.2 1200.4,891.1 1201.9,891.4 1203.4,892.2 1204.9,893 1206.4,893.4 1207.9,893.4 1209.4,893.2 1210.9,893.3 1212.4,893.5 1213.9,894.1 1215.4,894.8 1216.9,895.2 1218.4,895.2 1219.9,895.2 1221.4,895.3 1222.9,895.3 1224.4,895.3 1225.9,895.2 1227.4,895.1 1228.9,895.2 1230.4,895.5 1231.9,896.1 1233.4,896.5 1234.9,896.5 1236.4,895.8 1237.9,894.9 1239.4,894.5 1240.9,894.6 1242.4,895.1 1243.9,895.3 1245.4,895.3 1246.9,895.4 1248.4,895.9 1249.9,896.6 1251.4,897.1 1252.9,897.4 1254.4,897.4 1255.9,897.2 1257.4,896.7 1258.9,896.3 1260.4,896.3 L1263.4,896.3 L1263.4,1014.4 L694.9,1014.4 Z" fill="#ffffff"/>
<path d="M694.9,907.8 L697.9,907.8 699.4,907.8 700.9,907.4 702.4,906.6 703.9,906 705.4,905.9 706.9,905.9 708.4,906 709.9,906.2 711.4,906.3 712.9,906.4 714.4,906.4 715.9,906.2 717.4,906.1 718.9,906.2 720.4,906.5 721.9,906.6 723.4,906.7 724.9,906.7 726.4,906.7 727.9,906.4 729.4,905.8 730.9,905.2 732.4,904.8 733.9,904.9 735.4,905.3 736.9,905.6 738.4,905.7 739.9,905.5 741.4,905.6 742.9,906 744.4,906.1 745.9,905.6 747.4,905 748.9,904.7 750.4,905.1 751.9,905.5 753.4,905.8 754.9,905.7 756.4,905.5 757.9,905.2 759.4,904.9 760.9,904.6 762.4,904.5 763.9,904.4 765.4,904.2 766.9,904 768.4,903.7 769.9,903.7 771.4,904 772.9,904.1 774.4,904 775.9,904 777.4,904.3 778.9,904.6 780.4,904.6 781.9,904.5 783.4,904.4 784.9,904.2 786.4,904.1 787.9,904.2 789.4,904.4 790.9,904.3 792.4,904.1 793.9,904.2 795.4,904.6 796.9,904.6 798.4,904.1 799.9,903.6 801.4,903.4 802.9,903.3 804.4,903.1 805.9,902.7 807.4,902.5 808.9,902.8 810.4,903.3 811.9,903.4 813.4,903.2 814.9,902.9 816.4,902.5 817.9,902 819.4,901.7 820.9,901.8 822.4,901.8 823.9,901.8 825.4,901.5 826.9,900.9 828.4,900.4 829.9,900.5 831.4,900.9 832.9,901 834.4,900.7 835.9,900.3 837.4,899.9 838.9,899.4 840.4,899.1 841.9,899.2 843.4,899.6 844.9,900 846.4,899.7 847.9,898.7 849.4,897.7 850.9,897.2 852.4,897.1 853.9,897.3 855.4,897.4 856.9,897.1 858.4,896.3 859.9,895.7 861.4,895.9 862.9,896.3 864.4,896.2 865.9,895.6 867.4,895.2 868.9,895.6 870.4,896.1 871.9,896.2 873.4,895.8 874.9,895.4 876.4,895 877.9,894.7 879.4,894.4 880.9,893.6 882.4,892.7 883.9,892 885.4,891.8 886.9,891.9 888.4,892 889.9,892.1 891.4,892.2 892.9,892 894.4,891 895.9,889.8 897.4,888.8 898.9,888.2 900.4,887.7 901.9,887.4 903.4,887.4 904.9,887.4 906.4,887.3 907.9,887.3 909.4,887.3 910.9,887 912.4,886.4 913.9,885.7 915.4,885.3 916.9,885 918.4,884.4 919.9,883.5 921.4,882.5 922.9,881.9 924.4,881.6 925.9,880.9 927.4,879.8 928.9,878.6 930.4,877.5 931.9,876.4 933.4,875.4 934.9,874.6 936.4,873.8 937.9,873.1 939.4,872.5 940.9,871.9 942.4,871.4 943.9,870.8 945.4,870.1 946.9,869.2 948.4,868 949.9,866.6 951.4,865.2 952.9,863.8 954.4,862.5 955.9,861.5 957.4,860.6 958.9,859.4 960.4,858.1 961.9,856.8 963.4,855.5 964.9,854 966.4,852.3 967.9,850.6 969.4,848.6 970.9,846.3 972.4,844.2 973.9,842.5 975.4,841.7 976.9,841.2 978.4,840.6 979.9,839.5 981.4,838.2 982.9,837.5 984.4,837.7 985.9,838.1 987.4,838.4 988.9,838.9 990.4,839.9 991.9,841.1 993.4,842.3 994.9,843.2 996.4,844 997.9,845.1 999.4,846.9 1000.9,849 1002.4,851.6 1003.9,854.5 1005.4,857.6 1006.9,860.7 1008.4,863.5 1009.9,866.3 1011.4,869.2 1012.9,872.3 1014.4,874.9 1015.9,877 1017.4,878.6 1018.9,879.7 1020.4,880.9 1021.9,882.3 1023.4,883.8 1024.9,885.4 1026.4,887 1027.9,888.5 1029.4,889.5 1030.9,890.4 1032.4,891 1033.9,891.2 1035.4,891.2 1036.9,891.4 1038.4,891.9 1039.9,892.5 1041.4,892.9 1042.9,893.2 1044.4,893.4 1045.9,893.4 1047.4,893.3 1048.9,893.3 1050.4,893.3 1051.9,893.2 1053.4,893 1054.9,893.2 1056.4,893.4 1057.9,893.6 1059.4,893.6 1060.9,893.1 1062.4,892.2 1063.9,891.1 1065.4,890.1 1066.9,889.1 1068.4,888.3 1069.9,887.7 1071.4,887 1072.9,885.9 1074.4,884.8 1075.9,883.9 1077.4,882.8 1078.9,880.9 1080.4,878.8 1081.9,877 1083.4,875.5 1084.9,874.1 1086.4,872.5 1087.9,870.8 1089.4,869 1090.9,867.2 1092.4,865.3 1093.9,863.6 1095.4,861.7 1096.9,859.6 1098.4,857.3 1099.9,855.1 1101.4,853.1 1102.9,851.4 1104.4,849.8 1105.9,847.9 1107.4,845.7 1108.9,843.6 1110.4,841.9 1111.9,840.3 1113.4,838.3 1114.9,836.3 1116.4,834.6 1117.9,833.5 1119.4,832.4 1120.9,831.4 1122.4,830.6 1123.9,830.2 1125.4,829.7 1126.9,829 1128.4,828.2 1129.9,827.6 1131.4,828.1 1132.9,829.4 1134.4,831.2 1135.9,833.1 1137.4,835 1138.9,837.6 1140.4,842 1141.9,847.9 1143.4,854.4 1144.9,861.1 1146.4,867.5 1147.9,873.2 1149.4,877.9 1150.9,882.4 1152.4,887.6 1153.9,892.8 1155.4,897.3 1156.9,900.8 1158.4,903.1 1159.9,905 1161.4,906.6 1162.9,908.6 1164.4,910.6 1165.9,911.8 1167.4,912.7 1168.9,913.5 1170.4,913.6 1171.9,913.5 1173.4,913.7 1174.9,914.1 1176.4,914.5 1177.9,914.8 1179.4,915 1180.9,915.3 1182.4,915.7 1183.9,916.1 1185.4,916.4 1186.9,916.7 1188.4,917.1 1189.9,917.6 1191.4,918 1192.9,918.3 1194.4,918 1195.9,917.4 1197.4,917.2 1198.9,917.8 1200.4,918.3 1201.9,918.5 1203.4,918.5 1204.9,918.4 1206.4,918.3 1207.9,918.1 1209.4,917.6 1210.9,917.4 1212.4,917.9 1213.9,918.8 1215.4,919.5 1216.9,920 1218.4,920.5 1219.9,920.6 1221.4,920.5 1222.9,920.1 1224.4,919.8 1225.9,919.5 1227.4,919.4 1228.9,919.6 1230.4,920.2 1231.9,920.6 1233.4,920.5 1234.9,920 1236.4,919.8 1237.9,919.9 1239.4,920.1 1240.9,920.1 1242.4,920.3 1243.9,920.6 1245.4,920.8 1246.9,920.7 1248.4,920.2 1249.9,919.6 1251.4,919.4 1252.9,919.6 1254.4,919.8 1255.9,919.6 1257.4,919.2 1258.9,918.8 1260.4,918.7 L1263.4,918.7 L1263.4,1014.4 L694.9,1014.4 Z" fill="#ffffff"/>
<path d="M694.9,938.2 L697.9,938.2 699.4,937.5 700.9,936.9 702.4,936.6 703.9,936.8 705.4,937.2 706.9,937.5 708.4,937.7 709.9,937.6 711.4,937.5 712.9,937.3 714.4,937.2 715.9,937.1 717.4,936.9 718.9,936.5 720.4,936.1 721.9,935.9 723.4,936.2 724.9,937 726.4,937.7 727.9,937.9 729.4,937.6 730.9,937.3 732.4,937.1 733.9,936.9 735.4,936.6 736.9,936.2 738.4,936.1 739.9,936 741.4,935.9 742.9,935.4 744.4,935.1 745.9,935.3 747.4,935.5 748.9,935.3 750.4,934.4 751.9,933.7 753.4,933.6 754.9,933.6 756.4,933.3 757.9,933 759.4,932.7 760.9,932.7 762.4,933 763.9,933.2 765.4,932.8 766.9,932.3 768.4,932 769.9,932 771.4,932.2 772.9,932.3 774.4,932.3 775.9,932 777.4,931.7 778.9,931.7 780.4,931.6 781.9,931.1 783.4,930.5 784.9,929.9 786.4,929.5 787.9,929.4 789.4,930 790.9,930.7 792.4,930.9 793.9,930.5 795.4,930.1 796.9,930.1 798.4,930.1 799.9,930 801.4,929.6 802.9,929.2 804.4,928.8 805.9,928.6 807.4,928.4 808.9,928.1 810.4,928 811.9,928.3 813.4,928.7 814.9,928.9 816.4,928.8 817.9,928.5 819.4,927.8 820.9,926.7 822.4,925.9 823.9,925.7 825.4,925.5 826.9,925.5 828.4,926 829.9,926.1 831.4,925.8 832.9,925.2 834.4,924.5 835.9,924 837.4,924.2 838.9,924.6 840.4,924.6 841.9,924.2 843.4,924 844.9,924.1 846.4,924.1 847.9,923.6 849.4,923.1 850.9,922.4 852.4,921.6 853.9,921.1 855.4,921.2 856.9,921.5 858.4,921.8 859.9,921.4 861.4,920.7 862.9,920.1 864.4,919.7 865.9,919.2 867.4,918.5 868.9,917.7 870.4,917.4 871.9,917.5 873.4,917.9 874.9,917.9 876.4,917.5 877.9,916.8 879.4,916.1 880.9,915.7 882.4,915.5 883.9,915.1 885.4,914.6 886.9,914.4 888.4,914.2 889.9,913.8 891.4,913.1 892.9,912.7 894.4,912.5 895.9,912.2 897.4,911.5 898.9,910.5 900.4,909.7 901.9,909.2 903.4,908.9 904.9,908.8 906.4,908.7 907.9,908.6 909.4,908.4 910.9,907.7 912.4,906.6 913.9,905.4 915.4,904.7 916.9,904.1 918.4,903.3 919.9,902.5 921.4,901.5 922.9,900.2 924.4,898.9 925.9,898.2 927.4,897.7 928.9,896.8 930.4,895.6 931.9,894.5 933.4,893.6 934.9,892.8 936.4,892.1 937.9,891.6 939.4,890.9 940.9,890.1 942.4,889.3 943.9,888.8 945.4,888.4 946.9,888.2 948.4,888 949.9,887.3 951.4,886.4 952.9,885.6 954.4,885.3 955.9,885.2 957.4,885.9 958.9,887.2 960.4,888.7 961.9,889.9 963.4,891.1 964.9,892.3 966.4,893.4 967.9,894.3 969.4,895.2 970.9,896.3 972.4,897.4 973.9,898.2 975.4,898.9 976.9,900 978.4,901.1 979.9,901.9 981.4,902.7 982.9,903.6 984.4,904.6 985.9,905.2 987.4,905.6 988.9,906.3 990.4,907.4 991.9,908.6 993.4,909.4 994.9,910 996.4,910.6 997.9,911 999.4,911.3 1000.9,911.7 1002.4,912.2 1003.9,912.8 1005.4,913.4 1006.9,914 1008.4,914.5 1009.9,915.2 1011.4,916.2 1012.9,917.3 1014.4,918.3 1015.9,919.1 1017.4,919.5 1018.9,919.9 1020.4,920.1 1021.9,919.9 1023.4,919.7 1024.9,919.5 1026.4,919.5 1027.9,920 1029.4,920.8 1030.9,921.5 1032.4,921.8 1033.9,921.7 1035.4,921.2 1036.9,920.6 1038.4,919.9 1039.9,919.2 1041.4,918.6 1042.9,918.3 1044.4,917.8 1045.9,916.8 1047.4,915.3 1048.9,914.1 1050.4,913.5 1051.9,913.1 1053.4,912.6 1054.9,912 1056.4,910.8 1057.9,909.1 1059.4,907.6 1060.9,906.6 1062.4,906 1063.9,905.1 1065.4,903.8 1066.9,902 1068.4,900.2 1069.9,899.1 1071.4,898 1072.9,896.8 1074.4,895.7 1075.9,895.4 1077.4,894.9 1078.9,893.8 1080.4,892.2 1081.9,890.5 1083.4,889 1084.9,887.7 1086.4,886.3 1087.9,885 1089.4,884 1090.9,883.4 1092.4,883.4 1093.9,883.9 1095.4,884.8 1096.9,886.1 1098.4,887.7 1099.9,889.8 1101.4,892 1102.9,893.8 1104.4,895.1 1105.9,896.3 1107.4,897.8 1108.9,900 1110.4,902.3 1111.9,904.2 1113.4,905.7 1114.9,907.1 1116.4,908.7 1117.9,910.4 1119.4,911.9 1120.9,913.1 1122.4,913.8 1123.9,914.3 1125.4,914.9 1126.9,915.4 1128.4,915.6 1129.9,915.6 1131.4,915.7 1132.9,916.2 1134.4,917.3 1135.9,919.2 1137.4,921.6 1138.9,923.6 1140.4,924.8 1141.9,925.8 1143.4,927.1 1144.9,928.9 1146.4,931.2 1147.9,933.3 1149.4,934.8 1150.9,935.6 1152.4,935.8 1153.9,936.1 1155.4,937.2 1156.9,939.1 1158.4,941 1159.9,942.4 1161.4,943.3 1162.9,944.2 1164.4,945.1 1165.9,945.8 1167.4,946.2 1168.9,946.7 1170.4,947.3 1171.9,947.6 1173.4,947.3 1174.9,946.9 1176.4,946.5 1177.9,946.4 1179.4,946.6 1180.9,947.1 1182.4,948 1183.9,948.8 1185.4,949.4 1186.9,949.5 1188.4,949.4 1189.9,949.1 1191.4,948.7 1192.9,948.5 1194.4,948.5 1195.9,948.6 1197.4,948.7 1198.9,948.5 1200.4,948.3 1201.9,948.4 1203.4,948.7 1204.9,949 1206.4,949.1 1207.9,949 1209.4,948.8 1210.9,948.9 1212.4,949.1 1213.9,949.2 1215.4,949.3 1216.9,949.4 1218.4,949.7 1219.9,949.9 1221.4,950 1222.9,950.1 1224.4,950.2 1225.9,950.3 1227.4,950.5 1228.9,950.8 1230.4,951.1 1231.9,951.3 1233.4,951.4 1234.9,951.3 1236.4,951 1237.9,950.7 1239.4,950.4 1240.9,950.1 1242.4,950.4 1243.9,950.8 1245.4,951 1246.9,950.8 1248.4,950.5 1249.9,950.1 1251.4,949.9 1252.9,950.2 1254.4,950.8 1255.9,951.4 1257.4,951.5 1258.9,950.9 1260.4,950.5 L1263.4,950.5 L1263.4,1014.4 L694.9,1014.4 Z" fill="#d9d9d9"/>
<path d="M694.9,966.5 L697.9,966.5 699.4,966.3 700.9,966.1 702.4,965.9 703.9,965.6 705.4,965.1 706.9,964.6 708.4,964.3 709.9,964.3 711.4,964.4 712.9,964.6 714.4,964.6 715.9,964.4 717.4,964.3 718.9,964.1 720.4,963.9 721.9,963.5 723.4,963.2 724.9,963.1 726.4,963.3 727.9,963.5 729.4,963.5 730.9,963.5 732.4,963.8 733.9,964.2 735.4,964.3 736.9,964.1 738.4,963.8 739.9,963.7 741.4,963.5 742.9,963.4 744.4,963.4 745.9,963.5 747.4,963.6 748.9,963.8 750.4,964.1 751.9,964.2 753.4,963.7 754.9,963.1 756.4,962.9 757.9,963.1 759.4,963.3 760.9,963.1 762.4,962.7 763.9,962.6 765.4,962.7 766.9,962.7 768.4,962.2 769.9,961.6 771.4,961.2 772.9,960.9 774.4,960.8 775.9,960.8 777.4,960.7 778.9,960.7 780.4,960.9 781.9,961.2 783.4,960.9 784.9,959.9 786.4,958.6 787.9,957.8 789.4,958 790.9,958.7 792.4,959.2 793.9,959.1 795.4,958.7 796.9,958.4 798.4,958.1 799.9,957.8 801.4,957.3 802.9,956.6 804.4,955.8 805.9,955.4 807.4,955.3 808.9,955 810.4,954.4 811.9,954 813.4,953.8 814.9,954 816.4,954.3 817.9,954.6 819.4,954.6 820.9,954.2 822.4,953.7 823.9,953.5 825.4,953.5 826.9,953.4 828.4,953.1 829.9,953.1 831.4,953.2 832.9,952.9 834.4,952.4 835.9,951.9 837.4,951.7 838.9,951.7 840.4,951.8 841.9,951.6 843.4,951.3 844.9,950.9 846.4,950.8 847.9,950.8 849.4,950.4 850.9,949.5 852.4,948.6 853.9,948 855.4,947.8 856.9,947.5 858.4,947 859.9,946.5 861.4,946.4 862.9,946.4 864.4,946.1 865.9,945.4 867.4,944.8 868.9,944.7 870.4,945.2 871.9,945.5 873.4,944.9 874.9,943.8 876.4,942.6 877.9,941.8 879.4,941.5 880.9,941.5 882.4,941.6 883.9,941.4 885.4,940.9 886.9,940.5 888.4,939.9 889.9,939.2 891.4,938.5 892.9,938.3 894.4,938.2 895.9,938 897.4,937.3 898.9,936.4 900.4,935.7 901.9,935.1 903.4,934.5 904.9,933.6 906.4,932.7 907.9,931.8 909.4,930.8 910.9,929.6 912.4,928.7 913.9,928.1 915.4,927.7 916.9,927.2 918.4,926.3 919.9,925.1 921.4,923.6 922.9,922.4 924.4,921.5 925.9,920.8 927.4,920 928.9,919.1 930.4,918 931.9,917.1 933.4,916.3 934.9,915.5 936.4,914.5 937.9,913.4 939.4,911.9 940.9,910.5 942.4,909.6 943.9,909.3 945.4,909.4 946.9,909.4 948.4,909 949.9,908.5 951.4,908.3 952.9,908.8 954.4,909.8 955.9,911.3 957.4,912.9 958.9,914.8 960.4,916.8 961.9,918.7 963.4,920.5 964.9,922.3 966.4,924.3 967.9,926.5 969.4,929 970.9,931.5 972.4,933.9 973.9,935.6 975.4,936.9 976.9,938.3 978.4,939.4 979.9,940.3 981.4,941 982.9,941.8 984.4,942.3 985.9,942.5 987.4,942.6 988.9,942.7 990.4,943 991.9,943.4 993.4,943.9 994.9,944.4 996.4,944.8 997.9,945.2 999.4,945.5 1000.9,945.7 1002.4,945.9 1003.9,946.2 1005.4,947 1006.9,947.8 1008.4,948 1009.9,948.1 1011.4,948.2 1012.9,947.9 1014.4,947.6 1015.9,947.5 1017.4,947.5 1018.9,947.3 1020.4,946.9 1021.9,946.7 1023.4,946.7 1024.9,946.8 1026.4,946.6 1027.9,946.1 1029.4,945.4 1030.9,944.6 1032.4,944 1033.9,943.5 1035.4,943.2 1036.9,942.8 1038.4,942 1039.9,940.9 1041.4,940 1042.9,939.5 1044.4,939.3 1045.9,939.2 1047.4,939 1048.9,938.1 1050.4,937.3 1051.9,936.1 1053.4,934.9 1054.9,933.7 1056.4,932.4 1057.9,931.3 1059.4,930.7 1060.9,930.1 1062.4,929.1 1063.9,927.7 1065.4,926.3 1066.9,924.9 1068.4,923.6 1069.9,922.2 1071.4,920.7 1072.9,919.2 1074.4,917.7 1075.9,916.3 1077.4,914.9 1078.9,913.4 1080.4,911.9 1081.9,910.2 1083.4,908 1084.9,905.9 1086.4,904.6 1087.9,903.5 1089.4,903.1 1090.9,903.5 1092.4,904.1 1093.9,905.2 1095.4,907.2 1096.9,909.9 1098.4,912.8 1099.9,915.7 1101.4,918.4 1102.9,920.8 1104.4,923.2 1105.9,925.7 1107.4,928.6 1108.9,932.2 1110.4,936.4 1111.9,940.6 1113.4,944.1 1114.9,947 1116.4,949.3 1117.9,951.5 1119.4,953.3 1120.9,955 1122.4,956.3 1123.9,957.5 1125.4,958.8 1126.9,960.2 1128.4,961.6 1129.9,963 1131.4,964.2 1132.9,965.4 1134.4,966.2 1135.9,966.8 1137.4,967.4 1138.9,968.1 1140.4,968.9 1141.9,969.6 1143.4,970.2 1144.9,970.5 1146.4,970.7 1147.9,971 1149.4,971.8 1150.9,972.5 1152.4,972.8 1153.9,973.1 1155.4,973.5 1156.9,973.9 1158.4,974.3 1159.9,974.5 1161.4,974.9 1162.9,975.5 1164.4,975.8 1165.9,976.1 1167.4,976.4 1168.9,976.6 1170.4,976.5 1171.9,976.4 1173.4,976.2 1174.9,975.9 1176.4,975.6 1177.9,975.6 1179.4,975.6 1180.9,975.4 1182.4,975.3 1183.9,975.5 1185.4,975.9 1186.9,976.3 1188.4,976.7 1189.9,976.8 1191.4,976.6 1192.9,976.2 1194.4,976.2 1195.9,976.4 1197.4,976.6 1198.9,976.5 1200.4,976.5 1201.9,976.8 1203.4,977.1 1204.9,977.3 1206.4,977.2 1207.9,976.7 1209.4,976.2 1210.9,976.1 1212.4,976.4 1213.9,976.8 1215.4,977 1216.9,977 1218.4,977.2 1219.9,977.5 1221.4,977.7 1222.9,977.7 1224.4,977.3 1225.9,976.7 1227.4,976.4 1228.9,976.6 1230.4,977.1 1231.9,977.4 1233.4,977.4 1234.9,977.5 1236.4,977.6 1237.9,977.3 1239.4,976.5 1240.9,975.6 1242.4,975.3 1243.9,975.3 1245.4,975.7 1246.9,976.1 1248.4,976.4 1249.9,976.5 1251.4,976.6 1252.9,976.9 1254.4,977 1255.9,977 1257.4,976.8 1258.9,976.6 1260.4,976.8 L1263.4,976.8 L1263.4,1014.4 L694.9,1014.4 Z" fill="#d9d9d9"/>
<path d="M694.9,995.1 L697.9,995.1 699.4,995.1 700.9,994.8 702.4,994.3 703.9,993.7 705.4,992.9 706.9,992.3 708.4,992.2 709.9,992.6 711.4,992.8 712.9,993 714.4,993.1 715.9,993.1 717.4,992.7 718.9,992.3 720.4,992.2 721.9,992.5 723.4,992.8 724.9,992.6 726.4,991.8 727.9,991.2 729.4,991.2 730.9,991.6 732.4,991.8 733.9,991.8 735.4,991.6 736.9,991.2 738.4,990.6 739.9,990.2 741.4,990.2 742.9,990.4 744.4,990.5 745.9,990.4 747.4,990.5 748.9,990.5 750.4,990.3 751.9,989.8 753.4,989.2 754.9,988.6 756.4,988.3 757.9,988.3 759.4,988.6 760.9,988.7 762.4,988.6 763.9,988.6 765.4,988.8 766.9,988.9 768.4,988.7 769.9,988.1 771.4,987.4 772.9,987.1 774.4,987.3 775.9,987.7 777.4,987.9 778.9,988 780.4,987.7 781.9,987.3 783.4,986.8 784.9,986.6 786.4,986.7 787.9,986.8 789.4,986.7 790.9,986.2 792.4,985.5 793.9,984.7 795.4,984.1 796.9,983.7 798.4,983.6 799.9,983.8 801.4,984 802.9,983.7 804.4,983.4 805.9,983.3 807.4,983.4 808.9,983.5 810.4,983.3 811.9,982.9 813.4,982.6 814.9,982.3 816.4,981.8 817.9,981.2 819.4,980.8 820.9,980.9 822.4,981.3 823.9,981.3 825.4,981.1 826.9,980.9 828.4,980.8 829.9,980.7 831.4,980.4 832.9,980 834.4,979.3 835.9,978.5 837.4,977.5 838.9,977 840.4,976.7 841.9,976.5 843.4,976.6 844.9,977.2 846.4,977.3 847.9,977 849.4,976.5 850.9,976.1 852.4,975.9 853.9,975.7 855.4,975.3 856.9,974.7 858.4,974.3 859.9,974.2 861.4,974.3 862.9,974.3 864.4,974.2 865.9,973.8 867.4,973.1 868.9,972.3 870.4,971.9 871.9,971.8 873.4,971.9 874.9,971.9 876.4,971.6 877.9,971 879.4,970.4 880.9,970.1 882.4,969.9 883.9,969.3 885.4,968.3 886.9,967.4 888.4,966.9 889.9,966.7 891.4,966.5 892.9,966.1 894.4,965.5 895.9,965.1 897.4,964.6 898.9,963.7 900.4,962.6 901.9,961.5 903.4,960.8 904.9,960.4 906.4,960.1 907.9,959.4 909.4,958.3 910.9,957 912.4,956.1 913.9,955.4 915.4,955.4 916.9,955 918.4,954 919.9,953.1 921.4,952.3 922.9,951.5 924.4,950.6 925.9,949.8 927.4,949.2 928.9,948.5 930.4,947.7 931.9,946.6 933.4,945.3 934.9,944.1 936.4,943 937.9,942.1 939.4,941.1 940.9,940.5 942.4,940.2 943.9,940.1 945.4,939.9 946.9,939.7 948.4,939.4 949.9,939.4 951.4,939.5 952.9,939.8 954.4,940.3 955.9,940.8 957.4,941.7 958.9,943.2 960.4,945.3 961.9,947.8 963.4,950.5 964.9,953.2 966.4,955.8 967.9,958.2 969.4,960.2 970.9,962 972.4,963.7 973.9,965.4 975.4,966.9 976.9,968.1 978.4,969 979.9,969.6 981.4,970.2 982.9,971.1 984.4,972 985.9,972.8 987.4,974 988.9,975.2 990.4,975.8 991.9,976.3 993.4,976.5 994.9,976.2 996.4,975.8 997.9,975.5 999.4,975.4 1000.9,975.4 1002.4,975.3 1003.9,975.2 1005.4,975.3 1006.9,975.6 1008.4,975.6 1009.9,975.5 1011.4,975.5 1012.9,975.6 1014.4,975.1 1015.9,974.6 1017.4,974.6 1018.9,974.9 1020.4,974.9 1021.9,974.4 1023.4,973.7 1024.9,973.4 1026.4,973.2 1027.9,973.1 1029.4,972.9 1030.9,972.8 1032.4,972.7 1033.9,972.2 1035.4,971.6 1036.9,971 1038.4,970.4 1039.9,969.7 1041.4,969 1042.9,968.5 1044.4,968.1 1045.9,967.7 1047.4,966.8 1048.9,965.7 1050.4,964.4 1051.9,963.5 1053.4,963.1 1054.9,963 1056.4,962.4 1057.9,961.4 1059.4,960.2 1060.9,959.2 1062.4,958.5 1063.9,957.9 1065.4,957.1 1066.9,955.8 1068.4,954.3 1069.9,952.8 1071.4,951.3 1072.9,949.5 1074.4,948.1 1075.9,946.8 1077.4,945.7 1078.9,944.6 1080.4,942.9 1081.9,941 1083.4,939.1 1084.9,937.8 1086.4,937.5 1087.9,937.5 1089.4,937.3 1090.9,937 1092.4,936.5 1093.9,936.6 1095.4,938 1096.9,940.2 1098.4,942.6 1099.9,945.6 1101.4,949.5 1102.9,954 1104.4,958.2 1105.9,961.3 1107.4,963.4 1108.9,965.9 1110.4,969.1 1111.9,972.7 1113.4,976.6 1114.9,980.3 1116.4,983.6 1117.9,986.6 1119.4,989.2 1120.9,991.6 1122.4,993.2 1123.9,994.2 1125.4,994.7 1126.9,995.4 1128.4,996.5 1129.9,997.7 1131.4,998.7 1132.9,999.2 1134.4,999.5 1135.9,999.9 1137.4,1000.5 1138.9,1001 1140.4,1001 1141.9,1000.5 1143.4,1000 1144.9,999.9 1146.4,1000.2 1147.9,1000.6 1149.4,1000.8 1150.9,1001.3 1152.4,1001.8 1153.9,1002.1 1155.4,1002.2 1156.9,1002 1158.4,1001.9 1159.9,1001.8 1161.4,1001.9 1162.9,1001.9 1164.4,1001.8 1165.9,1001.7 1167.4,1001.7 1168.9,1001.9 1170.4,1002.2 1171.9,1002.5 1173.4,1002.7 1174.9,1002.6 1176.4,1002.6 1177.9,1002.8 1179.4,1002.7 1180.9,1002.5 1182.4,1002.5 1183.9,1002.5 1185.4,1002.4 1186.9,1002.5 1188.4,1002.7 1189.9,1003 1191.4,1003.2 1192.9,1003.3 1194.4,1002.8 1195.9,1002.1 1197.4,1002.2 1198.9,1002.2 1200.4,1003.1 1201.9,1004.1 1203.4,1004.6 1204.9,1004.7 1206.4,1004.9 1207.9,1004.9 1209.4,1004.8 1210.9,1004.5 1212.4,1004 1213.9,1003.4 1215.4,1003 1216.9,1003.1 1218.4,1003.5 1219.9,1003.9 1221.4,1004.1 1222.9,1004.3 1224.4,1004.5 1225.9,1004.5 1227.4,1004.4 1228.9,1004.2 1230.4,1004 1231.9,1003.8 1233.4,1003.6 1234.9,1003.7 1236.4,1004.2 1237.9,1004.8 1239.4,1005 1240.9,1004.7 1242.4,1004 1243.9,1003.5 1245.4,1003.5 1246.9,1004.2 1248.4,1005.4 1249.9,1006.1 1251.4,1006.2 1252.9,1005.9 1254.4,1005.4 1255.9,1004.8 1257.4,1004.5 1258.9,1004.7 1260.4,1005.4 L1263.4,1005.4 L1263.4,1014.4 L694.9,1014.4 Z" fill="#d9d9d9"/>
<path d="M697.9,749.6 699.4,749.7 700.9,749.8 702.4,750.1 703.9,750.4 705.4,750.5 706.9,750.4 708.4,750.5 709.9,750.9 711.4,751.1 712.9,751 714.4,750.9 715.9,751 717.4,751.3 718.9,751.5 720.4,751.6 721.9,751.5 723.4,751.2 724.9,750.9 726.4,750.6 727.9,750.4 729.4,750.5 730.9,750.8 732.4,751.3 733.9,751.7 735.4,751.9 736.9,751.8 738.4,751.4 739.9,751 741.4,751 742.9,751 744.4,751 745.9,751.2 747.4,751.6 748.9,752 750.4,752.1 751.9,752 753.4,752.1 754.9,752.4 756.4,752.5 757.9,752.2 759.4,751.7 760.9,751.3 762.4,751.1 763.9,751 765.4,750.8 766.9,750.7 768.4,750.4 769.9,750.3 771.4,750.2 772.9,750 774.4,749.8 775.9,749.8 777.4,750.1 778.9,750.3 780.4,750.4 781.9,750.5 783.4,750.5 784.9,750.6 786.4,750.7 787.9,750.9 789.4,750.9 790.9,750.7 792.4,750.2 793.9,749.8 795.4,749.6 796.9,749.6 798.4,749.5 799.9,749.6 801.4,749.8 802.9,749.8 804.4,749.8 805.9,750 807.4,750.4 808.9,750.4 810.4,750.2 811.9,749.3 813.4,748.6 814.9,748.3 816.4,748.4 817.9,748.6 819.4,748.5 820.9,748.1 822.4,747.8 823.9,748 825.4,748.4 826.9,748.5 828.4,748.2 829.9,747.8 831.4,747.4 832.9,747.1 834.4,747 835.9,747 837.4,746.8 838.9,746.4 840.4,746.3 841.9,746.5 843.4,746.7 844.9,746.7 846.4,746.7 847.9,746.5 849.4,746.2 850.9,746 852.4,746.3 853.9,746.4 855.4,746.2 856.9,745.9 858.4,745.6 859.9,745.5 861.4,745.3 862.9,744.9 864.4,744.4 865.9,744.1 867.4,744.1 868.9,744.1 870.4,744 871.9,744 873.4,744.5 874.9,745.2 876.4,745.5 877.9,745.4 879.4,744.8 880.9,743.7 882.4,742.9 883.9,742.4 885.4,742.3 886.9,742.1 888.4,741.8 889.9,741.7 891.4,742 892.9,742.2 894.4,742.2 895.9,741.8 897.4,741.4 898.9,741 900.4,740.5 901.9,740.1 903.4,740 904.9,740.2 906.4,740.3 907.9,740.2 909.4,739.8 910.9,739.5 912.4,738.8 913.9,737.7 915.4,736.6 916.9,736 918.4,735.9 919.9,735.7 921.4,735.1 922.9,734 924.4,732.6 925.9,731.2 927.4,730 928.9,729.1 930.4,728.5 931.9,727.9 933.4,727.2 934.9,726.3 936.4,725.5 937.9,724.8 939.4,723.9 940.9,722.8 942.4,721.8 943.9,720.9 945.4,719.9 946.9,718.8 948.4,717.6 949.9,716.3 951.4,714.9 952.9,713.5 954.4,712.1 955.9,710.7 957.4,708.9 958.9,706.9 960.4,704.9 961.9,703 963.4,701.2 964.9,699.2 966.4,697 967.9,694.1 969.4,690.3 970.9,686.1 972.4,681.6 973.9,676.6 975.4,671.6 976.9,667.2 978.4,663.6 979.9,660 981.4,656.2 982.9,652.5 984.4,649.5 985.9,647.8 987.4,647.7 988.9,648.5 990.4,649.7 991.9,651.3 993.4,653.3 994.9,655.6 996.4,658 997.9,660.5 999.4,663.8 1000.9,668.4 1002.4,673.9 1003.9,679.8 1005.4,685.9 1006.9,691.9 1008.4,697.4 1009.9,701.9 1011.4,706 1012.9,709.8 1014.4,713.7 1015.9,717.7 1017.4,721.7 1018.9,725.3 1020.4,727.7 1021.9,729.3 1023.4,730.8 1024.9,732.5 1026.4,734.1 1027.9,735.5 1029.4,736.8 1030.9,737.9 1032.4,738.1 1033.9,737.8 1035.4,737.8 1036.9,738.5 1038.4,739.3 1039.9,739.8 1041.4,740 1042.9,740.1 1044.4,740.6 1045.9,741 1047.4,741.2 1048.9,741.2 1050.4,741.1 1051.9,740.7 1053.4,740.2 1054.9,739.8 1056.4,739.5 1057.9,739.2 1059.4,738.6 1060.9,737.9 1062.4,737.1 1063.9,736.2 1065.4,735.2 1066.9,734.5 1068.4,733.5 1069.9,732 1071.4,730.2 1072.9,728.5 1074.4,726.8 1075.9,725.3 1077.4,723.9 1078.9,723 1080.4,722.4 1081.9,722 1083.4,721.3 1084.9,719.7 1086.4,716 1087.9,712.9 1089.4,711.4 1090.9,710.9 1092.4,710 1093.9,708.4 1095.4,706.5 1096.9,704.3 1098.4,701.7 1099.9,699.2 1101.4,696.6 1102.9,693.8 1104.4,690.8 1105.9,687.4 1107.4,683.4 1108.9,679.2 1110.4,674.6 1111.9,669.6 1113.4,664.6 1114.9,659.8 1116.4,655.9 1117.9,652.6 1119.4,649.1 1120.9,644.3 1122.4,637.7 1123.9,632 1125.4,628.8 1126.9,626.2 1128.4,624.3 1129.9,623.5 1131.4,624.2 1132.9,626.1 1134.4,628.7 1135.9,631.9 1137.4,635.7 1138.9,642.5 1140.4,650.8 1141.9,658.9 1143.4,666.4 1144.9,673.4 1146.4,680.2 1147.9,686.8 1149.4,693.1 1150.9,699.1 1152.4,705 1153.9,711 1155.4,717.4 1156.9,724.2 1158.4,731.4 1159.9,737.3 1161.4,740.9 1162.9,743.7 1164.4,745.9 1165.9,747.5 1167.4,749.1 1168.9,751 1170.4,752.8 1171.9,754.1 1173.4,755.1 1174.9,756.1 1176.4,757.4 1177.9,758.4 1179.4,758.9 1180.9,759.2 1182.4,759.8 1183.9,760.7 1185.4,761 1186.9,760.7 1188.4,760.5 1189.9,760.9 1191.4,761.5 1192.9,762 1194.4,762.1 1195.9,761.8 1197.4,761.3 1198.9,761.1 1200.4,761.4 1201.9,761.8 1203.4,762 1204.9,762.1 1206.4,762.1 1207.9,762.3 1209.4,762.7 1210.9,763.4 1212.4,764 1213.9,764.3 1215.4,764.4 1216.9,764.6 1218.4,765 1219.9,765.3 1221.4,765.5 1222.9,765.7 1224.4,765.9 1225.9,766 1227.4,765.8 1228.9,765.3 1230.4,764.9 1231.9,764.8 1233.4,765 1234.9,765.3 1236.4,765.5 1237.9,765.5 1239.4,765.4 1240.9,765.2 1242.4,765.3 1243.9,765.6 1245.4,765.9 1246.9,766 1248.4,766 1249.9,765.9 1251.4,765.5 1252.9,765 1254.4,765.1 1255.9,765.6 1257.4,765.9 1258.9,765.8 1260.4,765.5" fill="none" stroke="#000" stroke-width="3.3" stroke-linejoin="round"/>
<path d="M697.9,833.2 699.4,833.3 700.9,833.3 702.4,833.2 703.9,833.1 705.4,833.3 706.9,833.9 708.4,834.6 709.9,835 711.4,835 712.9,834.6 714.4,834.4 715.9,834.3 717.4,834.4 718.9,834.5 720.4,834.7 721.9,834.9 723.4,834.9 724.9,834.7 726.4,834.2 727.9,833.7 729.4,833.2 730.9,833.2 732.4,833.4 733.9,833.8 735.4,834.2 736.9,834.7 738.4,835.1 739.9,835.2 741.4,834.7 742.9,834 744.4,833.4 745.9,833.2 747.4,833.2 748.9,833.1 750.4,833 751.9,832.9 753.4,832.8 754.9,832.6 756.4,832.4 757.9,832.4 759.4,832.6 760.9,833.2 762.4,834 763.9,834.2 765.4,834.1 766.9,833.3 768.4,832.7 769.9,832.5 771.4,832.7 772.9,832.9 774.4,832.9 775.9,832.8 777.4,832.7 778.9,832.4 780.4,832.1 781.9,831.8 783.4,831.6 784.9,831.2 786.4,830.6 787.9,830.3 789.4,830.3 790.9,830.2 792.4,830.1 793.9,830.2 795.4,830.6 796.9,830.6 798.4,830.3 799.9,830.2 801.4,830.5 802.9,830.9 804.4,831 805.9,831 807.4,831.1 808.9,831 810.4,830.3 811.9,829.4 813.4,828.8 814.9,828.5 816.4,828.2 817.9,827.9 819.4,827.8 820.9,827.9 822.4,827.9 823.9,827.6 825.4,827.2 826.9,827 828.4,827.4 829.9,827.8 831.4,827.6 832.9,826.8 834.4,826.3 835.9,826.2 837.4,826.2 838.9,826.4 840.4,826.4 841.9,826.8 843.4,827.4 844.9,828 846.4,827.9 847.9,827.3 849.4,826.8 850.9,826.6 852.4,826.5 853.9,826.5 855.4,826.7 856.9,826.9 858.4,827 859.9,826.9 861.4,826.5 862.9,825.7 864.4,824.8 865.9,824.3 867.4,824.4 868.9,824.8 870.4,825.1 871.9,825 873.4,824.6 874.9,824.4 876.4,824.5 877.9,824.4 879.4,824.2 880.9,824 882.4,823.8 883.9,823.1 885.4,822.4 886.9,821.9 888.4,821.9 889.9,821.8 891.4,821.1 892.9,820.3 894.4,819.7 895.9,819.5 897.4,819.4 898.9,819.2 900.4,818.8 901.9,818.5 903.4,818.1 904.9,817.5 906.4,816.8 907.9,816.3 909.4,815.7 910.9,814.6 912.4,813.5 913.9,812.6 915.4,811.7 916.9,810.6 918.4,809.6 919.9,808.9 921.4,808 922.9,806.8 924.4,805.3 925.9,804 927.4,803.1 928.9,802.1 930.4,800.3 931.9,798 933.4,795.5 934.9,792.9 936.4,790.4 937.9,787.6 939.4,784.5 940.9,781.3 942.4,779 943.9,776.7 945.4,774.6 946.9,773.3 948.4,771.7 949.9,769.6 951.4,767 952.9,764.3 954.4,761.8 955.9,759.1 957.4,756 958.9,752.6 960.4,749 961.9,745.3 963.4,741.4 964.9,737.2 966.4,733.2 967.9,729.4 969.4,725.6 970.9,721.8 972.4,718.1 973.9,714.5 975.4,710.9 976.9,707.4 978.4,704.1 979.9,700.8 981.4,696.8 982.9,691.9 984.4,687.3 985.9,684 987.4,683 988.9,683.6 990.4,684.6 991.9,685.9 993.4,687.4 994.9,689.2 996.4,691.4 997.9,694.1 999.4,698.3 1000.9,704.5 1002.4,712.3 1003.9,721 1005.4,729.4 1006.9,737.1 1008.4,744 1009.9,750.3 1011.4,756.9 1012.9,763.4 1014.4,769.6 1015.9,775.5 1017.4,780.9 1018.9,785.4 1020.4,789.2 1021.9,792.7 1023.4,796.4 1024.9,800.1 1026.4,803.3 1027.9,806.1 1029.4,808.4 1030.9,810.4 1032.4,811.9 1033.9,812.8 1035.4,813.5 1036.9,814 1038.4,814.3 1039.9,814.4 1041.4,814.5 1042.9,814.5 1044.4,814.7 1045.9,815.2 1047.4,815.7 1048.9,816 1050.4,815.6 1051.9,814.9 1053.4,814.7 1054.9,815.1 1056.4,815.3 1057.9,815.1 1059.4,814.8 1060.9,814.4 1062.4,813.9 1063.9,813 1065.4,811.6 1066.9,810 1068.4,808.4 1069.9,807.3 1071.4,806.8 1072.9,806.4 1074.4,805.1 1075.9,802.7 1077.4,799.8 1078.9,797.2 1080.4,794.9 1081.9,792.3 1083.4,789 1084.9,785.2 1086.4,781.9 1087.9,779.7 1089.4,778.4 1090.9,777.3 1092.4,775.8 1093.9,773 1095.4,769.4 1096.9,765.8 1098.4,762.6 1099.9,759.3 1101.4,755.3 1102.9,750.6 1104.4,745.6 1105.9,740.6 1107.4,735.1 1108.9,729.1 1110.4,722.6 1111.9,715.7 1113.4,708.3 1114.9,700.5 1116.4,692.5 1117.9,684.7 1119.4,676.4 1120.9,667.8 1122.4,659.9 1123.9,653.7 1125.4,649.8 1126.9,646.5 1128.4,644.5 1129.9,644.3 1131.4,646.4 1132.9,649.9 1134.4,653.7 1135.9,657 1137.4,660.7 1138.9,666.2 1140.4,678.4 1141.9,688.8 1143.4,698.2 1144.9,706.8 1146.4,715.3 1147.9,724.2 1149.4,733.5 1150.9,744 1152.4,756.1 1153.9,769.7 1155.4,781.4 1156.9,790.3 1158.4,797.8 1159.9,804.6 1161.4,812 1162.9,820.2 1164.4,828.5 1165.9,835.2 1167.4,839 1168.9,840.2 1170.4,841 1171.9,841.6 1173.4,842 1174.9,842.4 1176.4,843.1 1177.9,843.9 1179.4,844.9 1180.9,845.7 1182.4,846.4 1183.9,847 1185.4,847.4 1186.9,847.6 1188.4,847.8 1189.9,848.1 1191.4,848.5 1192.9,848.8 1194.4,849 1195.9,849.3 1197.4,850 1198.9,850.7 1200.4,851.4 1201.9,851.9 1203.4,852.1 1204.9,852.4 1206.4,852.6 1207.9,852.7 1209.4,852.8 1210.9,853 1212.4,853.4 1213.9,853.7 1215.4,853.7 1216.9,853.6 1218.4,853.4 1219.9,853.3 1221.4,853.5 1222.9,853.9 1224.4,854.1 1225.9,854 1227.4,854 1228.9,854.3 1230.4,854.9 1231.9,855.2 1233.4,855.1 1234.9,855 1236.4,855.1 1237.9,855 1239.4,854.8 1240.9,854.9 1242.4,855.1 1243.9,855.1 1245.4,855 1246.9,854.8 1248.4,854.6 1249.9,854.6 1251.4,854.8 1252.9,855.2 1254.4,855.6 1255.9,855.6 1257.4,855.6 1258.9,855.7 1260.4,856" fill="none" stroke="#000" stroke-width="3.3" stroke-linejoin="round"/>
<path d="M697.9,873 699.4,873 700.9,873 702.4,873.2 703.9,873.4 705.4,873.3 706.9,872.8 708.4,872.3 709.9,871.9 711.4,871.9 712.9,872.4 714.4,872.9 715.9,873 717.4,872.9 718.9,872.7 720.4,872.5 721.9,872.2 723.4,871.9 724.9,871.7 726.4,871.7 727.9,871.8 729.4,871.8 730.9,871.7 732.4,871.7 733.9,871.7 735.4,871.7 736.9,871.4 738.4,871.3 739.9,871.5 741.4,871.8 742.9,872.1 744.4,872.3 745.9,872.5 747.4,872.4 748.9,872.2 750.4,872.3 751.9,872.9 753.4,873.6 754.9,873.9 756.4,873.9 757.9,873.6 759.4,873.2 760.9,872.8 762.4,872.5 763.9,872.3 765.4,872.4 766.9,872.7 768.4,872.7 769.9,872.4 771.4,871.9 772.9,871.6 774.4,871.3 775.9,871.1 777.4,871.1 778.9,871.3 780.4,871.2 781.9,870.8 783.4,870.6 784.9,870.9 786.4,871.3 787.9,871.4 789.4,871.3 790.9,871.2 792.4,871.2 793.9,871.3 795.4,871.3 796.9,871.1 798.4,870.7 799.9,870.2 801.4,870 802.9,869.9 804.4,869.9 805.9,869.7 807.4,869.6 808.9,869.6 810.4,869.5 811.9,869.2 813.4,869.1 814.9,869.2 816.4,869.3 817.9,869 819.4,868.5 820.9,868.3 822.4,868.4 823.9,868.6 825.4,868.5 826.9,867.9 828.4,867.2 829.9,866.8 831.4,867.1 832.9,867.6 834.4,868 835.9,867.9 837.4,867.4 838.9,866.7 840.4,866.4 841.9,866.4 843.4,866.5 844.9,866.5 846.4,866.1 847.9,865.8 849.4,865.3 850.9,864.9 852.4,864.5 853.9,864 855.4,863.4 856.9,863 858.4,863.1 859.9,863.2 861.4,863.1 862.9,862.8 864.4,862.5 865.9,862.3 867.4,862.1 868.9,861.6 870.4,861.1 871.9,861 873.4,861.2 874.9,861.1 876.4,860.8 877.9,860.4 879.4,859.9 880.9,859.3 882.4,858.5 883.9,858.1 885.4,858 886.9,858.1 888.4,858.2 889.9,858.1 891.4,857.7 892.9,857.2 894.4,856.8 895.9,856.8 897.4,856.6 898.9,856.2 900.4,855.9 901.9,855.4 903.4,854.6 904.9,853.5 906.4,852.2 907.9,851.5 909.4,851.2 910.9,851 912.4,850.7 913.9,850.3 915.4,849.4 916.9,848.4 918.4,847.7 919.9,847.1 921.4,846.1 922.9,844.6 924.4,843 925.9,841.5 927.4,840 928.9,838.6 930.4,837.5 931.9,836.7 933.4,835.9 934.9,834.8 936.4,833.1 937.9,831.1 939.4,828.8 940.9,826.3 942.4,823.7 943.9,821.3 945.4,819 946.9,816.7 948.4,814.4 949.9,812.2 951.4,809.5 952.9,806.3 954.4,803.2 955.9,800.3 957.4,797.3 958.9,794.3 960.4,791.3 961.9,788.5 963.4,785.5 964.9,781.6 966.4,777.5 967.9,773.2 969.4,769 970.9,764.9 972.4,761 973.9,756.7 975.4,753.1 976.9,749.8 978.4,746.5 979.9,743.4 981.4,740.4 982.9,737.6 984.4,735.2 985.9,733.3 987.4,732.2 988.9,732.1 990.4,732.7 991.9,733.9 993.4,735.8 994.9,738.3 996.4,741.2 997.9,744.4 999.4,749.5 1000.9,756.4 1002.4,764.6 1003.9,773.8 1005.4,783.3 1006.9,792.2 1008.4,799.3 1009.9,804.1 1011.4,808 1012.9,811.4 1014.4,814.5 1015.9,817.7 1017.4,821.2 1018.9,824.8 1020.4,828.7 1021.9,832.7 1023.4,836.7 1024.9,840.5 1026.4,843.9 1027.9,846.9 1029.4,849.2 1030.9,850.5 1032.4,851.1 1033.9,851.6 1035.4,852.2 1036.9,852.6 1038.4,852.7 1039.9,852.8 1041.4,853 1042.9,853.5 1044.4,854.1 1045.9,854.7 1047.4,855 1048.9,854.8 1050.4,854.5 1051.9,854.2 1053.4,853.9 1054.9,853.5 1056.4,853 1057.9,852.4 1059.4,851.7 1060.9,850.8 1062.4,849.8 1063.9,848.7 1065.4,847.8 1066.9,846.9 1068.4,846.1 1069.9,844.9 1071.4,843.6 1072.9,842 1074.4,840.2 1075.9,838.3 1077.4,837 1078.9,835.8 1080.4,834.1 1081.9,831.6 1083.4,828.5 1084.9,824.4 1086.4,820 1087.9,816.7 1089.4,813.7 1090.9,810.4 1092.4,806.7 1093.9,803.1 1095.4,799.9 1096.9,796.9 1098.4,793.7 1099.9,789.9 1101.4,785.4 1102.9,780.6 1104.4,775.6 1105.9,770.8 1107.4,766.5 1108.9,762.8 1110.4,759.4 1111.9,756.5 1113.4,753.9 1114.9,750.5 1116.4,744.9 1117.9,736.9 1119.4,728.2 1120.9,720.3 1122.4,713.2 1123.9,705.1 1125.4,698.2 1126.9,694.9 1128.4,693.3 1129.9,692.9 1131.4,694.1 1132.9,696.5 1134.4,700.2 1135.9,708.7 1137.4,720.2 1138.9,731 1140.4,739.9 1141.9,748.9 1143.4,758.5 1144.9,767.9 1146.4,776.5 1147.9,785.5 1149.4,796.6 1150.9,813.2 1152.4,827.5 1153.9,840.6 1155.4,851.5 1156.9,858.5 1158.4,864.4 1159.9,869.6 1161.4,873.8 1162.9,877.4 1164.4,880.3 1165.9,882.6 1167.4,884.2 1168.9,885 1170.4,885.6 1171.9,886.2 1173.4,886.8 1174.9,887.5 1176.4,888.2 1177.9,888.7 1179.4,888.9 1180.9,888.9 1182.4,888.9 1183.9,889.2 1185.4,889.5 1186.9,889.7 1188.4,889.7 1189.9,890 1191.4,890.6 1192.9,891.4 1194.4,892 1195.9,892 1197.4,891.6 1198.9,891.2 1200.4,891.1 1201.9,891.4 1203.4,892.2 1204.9,893 1206.4,893.4 1207.9,893.4 1209.4,893.2 1210.9,893.3 1212.4,893.5 1213.9,894.1 1215.4,894.8 1216.9,895.2 1218.4,895.2 1219.9,895.2 1221.4,895.3 1222.9,895.3 1224.4,895.3 1225.9,895.2 1227.4,895.1 1228.9,895.2 1230.4,895.5 1231.9,896.1 1233.4,896.5 1234.9,896.5 1236.4,895.8 1237.9,894.9 1239.4,894.5 1240.9,894.6 1242.4,895.1 1243.9,895.3 1245.4,895.3 1246.9,895.4 1248.4,895.9 1249.9,896.6 1251.4,897.1 1252.9,897.4 1254.4,897.4 1255.9,897.2 1257.4,896.7 1258.9,896.3 1260.4,896.3" fill="none" stroke="#000" stroke-width="3.3" stroke-linejoin="round"/>
<path d="M697.9,907.8 699.4,907.8 700.9,907.4 702.4,906.6 703.9,906 705.4,905.9 706.9,905.9 708.4,906 709.9,906.2 711.4,906.3 712.9,906.4 714.4,906.4 715.9,906.2 717.4,906.1 718.9,906.2 720.4,906.5 721.9,906.6 723.4,906.7 724.9,906.7 726.4,906.7 727.9,906.4 729.4,905.8 730.9,905.2 732.4,904.8 733.9,904.9 735.4,905.3 736.9,905.6 738.4,905.7 739.9,905.5 741.4,905.6 742.9,906 744.4,906.1 745.9,905.6 747.4,905 748.9,904.7 750.4,905.1 751.9,905.5 753.4,905.8 754.9,905.7 756.4,905.5 757.9,905.2 759.4,904.9 760.9,904.6 762.4,904.5 763.9,904.4 765.4,904.2 766.9,904 768.4,903.7 769.9,903.7 771.4,904 772.9,904.1 774.4,904 775.9,904 777.4,904.3 778.9,904.6 780.4,904.6 781.9,904.5 783.4,904.4 784.9,904.2 786.4,904.1 787.9,904.2 789.4,904.4 790.9,904.3 792.4,904.1 793.9,904.2 795.4,904.6 796.9,904.6 798.4,904.1 799.9,903.6 801.4,903.4 802.9,903.3 804.4,903.1 805.9,902.7 807.4,902.5 808.9,902.8 810.4,903.3 811.9,903.4 813.4,903.2 814.9,902.9 816.4,902.5 817.9,902 819.4,901.7 820.9,901.8 822.4,901.8 823.9,901.8 825.4,901.5 826.9,900.9 828.4,900.4 829.9,900.5 831.4,900.9 832.9,901 834.4,900.7 835.9,900.3 837.4,899.9 838.9,899.4 840.4,899.1 841.9,899.2 843.4,899.6 844.9,900 846.4,899.7 847.9,898.7 849.4,897.7 850.9,897.2 852.4,897.1 853.9,897.3 855.4,897.4 856.9,897.1 858.4,896.3 859.9,895.7 861.4,895.9 862.9,896.3 864.4,896.2 865.9,895.6 867.4,895.2 868.9,895.6 870.4,896.1 871.9,896.2 873.4,895.8 874.9,895.4 876.4,895 877.9,894.7 879.4,894.4 880.9,893.6 882.4,892.7 883.9,892 885.4,891.8 886.9,891.9 888.4,892 889.9,892.1 891.4,892.2 892.9,892 894.4,891 895.9,889.8 897.4,888.8 898.9,888.2 900.4,887.7 901.9,887.4 903.4,887.4 904.9,887.4 906.4,887.3 907.9,887.3 909.4,887.3 910.9,887 912.4,886.4 913.9,885.7 915.4,885.3 916.9,885 918.4,884.4 919.9,883.5 921.4,882.5 922.9,881.9 924.4,881.6 925.9,880.9 927.4,879.8 928.9,878.6 930.4,877.5 931.9,876.4 933.4,875.4 934.9,874.6 936.4,873.8 937.9,873.1 939.4,872.5 940.9,871.9 942.4,871.4 943.9,870.8 945.4,870.1 946.9,869.2 948.4,868 949.9,866.6 951.4,865.2 952.9,863.8 954.4,862.5 955.9,861.5 957.4,860.6 958.9,859.4 960.4,858.1 961.9,856.8 963.4,855.5 964.9,854 966.4,852.3 967.9,850.6 969.4,848.6 970.9,846.3 972.4,844.2 973.9,842.5 975.4,841.7 976.9,841.2 978.4,840.6 979.9,839.5 981.4,838.2 982.9,837.5 984.4,837.7 985.9,838.1 987.4,838.4 988.9,838.9 990.4,839.9 991.9,841.1 993.4,842.3 994.9,843.2 996.4,844 997.9,845.1 999.4,846.9 1000.9,849 1002.4,851.6 1003.9,854.5 1005.4,857.6 1006.9,860.7 1008.4,863.5 1009.9,866.3 1011.4,869.2 1012.9,872.3 1014.4,874.9 1015.9,877 1017.4,878.6 1018.9,879.7 1020.4,880.9 1021.9,882.3 1023.4,883.8 1024.9,885.4 1026.4,887 1027.9,888.5 1029.4,889.5 1030.9,890.4 1032.4,891 1033.9,891.2 1035.4,891.2 1036.9,891.4 1038.4,891.9 1039.9,892.5 1041.4,892.9 1042.9,893.2 1044.4,893.4 1045.9,893.4 1047.4,893.3 1048.9,893.3 1050.4,893.3 1051.9,893.2 1053.4,893 1054.9,893.2 1056.4,893.4 1057.9,893.6 1059.4,893.6 1060.9,893.1 1062.4,892.2 1063.9,891.1 1065.4,890.1 1066.9,889.1 1068.4,888.3 1069.9,887.7 1071.4,887 1072.9,885.9 1074.4,884.8 1075.9,883.9 1077.4,882.8 1078.9,880.9 1080.4,878.8 1081.9,877 1083.4,875.5 1084.9,874.1 1086.4,872.5 1087.9,870.8 1089.4,869 1090.9,867.2 1092.4,865.3 1093.9,863.6 1095.4,861.7 1096.9,859.6 1098.4,857.3 1099.9,855.1 1101.4,853.1 1102.9,851.4 1104.4,849.8 1105.9,847.9 1107.4,845.7 1108.9,843.6 1110.4,841.9 1111.9,840.3 1113.4,838.3 1114.9,836.3 1116.4,834.6 1117.9,833.5 1119.4,832.4 1120.9,831.4 1122.4,830.6 1123.9,830.2 1125.4,829.7 1126.9,829 1128.4,828.2 1129.9,827.6 1131.4,828.1 1132.9,829.4 1134.4,831.2 1135.9,833.1 1137.4,835 1138.9,837.6 1140.4,842 1141.9,847.9 1143.4,854.4 1144.9,861.1 1146.4,867.5 1147.9,873.2 1149.4,877.9 1150.9,882.4 1152.4,887.6 1153.9,892.8 1155.4,897.3 1156.9,900.8 1158.4,903.1 1159.9,905 1161.4,906.6 1162.9,908.6 1164.4,910.6 1165.9,911.8 1167.4,912.7 1168.9,913.5 1170.4,913.6 1171.9,913.5 1173.4,913.7 1174.9,914.1 1176.4,914.5 1177.9,914.8 1179.4,915 1180.9,915.3 1182.4,915.7 1183.9,916.1 1185.4,916.4 1186.9,916.7 1188.4,917.1 1189.9,917.6 1191.4,918 1192.9,918.3 1194.4,918 1195.9,917.4 1197.4,917.2 1198.9,917.8 1200.4,918.3 1201.9,918.5 1203.4,918.5 1204.9,918.4 1206.4,918.3 1207.9,918.1 1209.4,917.6 1210.9,917.4 1212.4,917.9 1213.9,918.8 1215.4,919.5 1216.9,920 1218.4,920.5 1219.9,920.6 1221.4,920.5 1222.9,920.1 1224.4,919.8 1225.9,919.5 1227.4,919.4 1228.9,919.6 1230.4,920.2 1231.9,920.6 1233.4,920.5 1234.9,920 1236.4,919.8 1237.9,919.9 1239.4,920.1 1240.9,920.1 1242.4,920.3 1243.9,920.6 1245.4,920.8 1246.9,920.7 1248.4,920.2 1249.9,919.6 1251.4,919.4 1252.9,919.6 1254.4,919.8 1255.9,919.6 1257.4,919.2 1258.9,918.8 1260.4,918.7" fill="none" stroke="#000" stroke-width="3.3" stroke-linejoin="round"/>
<path d="M697.9,938.2 699.4,937.5 700.9,936.9 702.4,936.6 703.9,936.8 705.4,937.2 706.9,937.5 708.4,937.7 709.9,937.6 711.4,937.5 712.9,937.3 714.4,937.2 715.9,937.1 717.4,936.9 718.9,936.5 720.4,936.1 721.9,935.9 723.4,936.2 724.9,937 726.4,937.7 727.9,937.9 729.4,937.6 730.9,937.3 732.4,937.1 733.9,936.9 735.4,936.6 736.9,936.2 738.4,936.1 739.9,936 741.4,935.9 742.9,935.4 744.4,935.1 745.9,935.3 747.4,935.5 748.9,935.3 750.4,934.4 751.9,933.7 753.4,933.6 754.9,933.6 756.4,933.3 757.9,933 759.4,932.7 760.9,932.7 762.4,933 763.9,933.2 765.4,932.8 766.9,932.3 768.4,932 769.9,932 771.4,932.2 772.9,932.3 774.4,932.3 775.9,932 777.4,931.7 778.9,931.7 780.4,931.6 781.9,931.1 783.4,930.5 784.9,929.9 786.4,929.5 787.9,929.4 789.4,930 790.9,930.7 792.4,930.9 793.9,930.5 795.4,930.1 796.9,930.1 798.4,930.1 799.9,930 801.4,929.6 802.9,929.2 804.4,928.8 805.9,928.6 807.4,928.4 808.9,928.1 810.4,928 811.9,928.3 813.4,928.7 814.9,928.9 816.4,928.8 817.9,928.5 819.4,927.8 820.9,926.7 822.4,925.9 823.9,925.7 825.4,925.5 826.9,925.5 828.4,926 829.9,926.1 831.4,925.8 832.9,925.2 834.4,924.5 835.9,924 837.4,924.2 838.9,924.6 840.4,924.6 841.9,924.2 843.4,924 844.9,924.1 846.4,924.1 847.9,923.6 849.4,923.1 850.9,922.4 852.4,921.6 853.9,921.1 855.4,921.2 856.9,921.5 858.4,921.8 859.9,921.4 861.4,920.7 862.9,920.1 864.4,919.7 865.9,919.2 867.4,918.5 868.9,917.7 870.4,917.4 871.9,917.5 873.4,917.9 874.9,917.9 876.4,917.5 877.9,916.8 879.4,916.1 880.9,915.7 882.4,915.5 883.9,915.1 885.4,914.6 886.9,914.4 888.4,914.2 889.9,913.8 891.4,913.1 892.9,912.7 894.4,912.5 895.9,912.2 897.4,911.5 898.9,910.5 900.4,909.7 901.9,909.2 903.4,908.9 904.9,908.8 906.4,908.7 907.9,908.6 909.4,908.4 910.9,907.7 912.4,906.6 913.9,905.4 915.4,904.7 916.9,904.1 918.4,903.3 919.9,902.5 921.4,901.5 922.9,900.2 924.4,898.9 925.9,898.2 927.4,897.7 928.9,896.8 930.4,895.6 931.9,894.5 933.4,893.6 934.9,892.8 936.4,892.1 937.9,891.6 939.4,890.9 940.9,890.1 942.4,889.3 943.9,888.8 945.4,888.4 946.9,888.2 948.4,888 949.9,887.3 951.4,886.4 952.9,885.6 954.4,885.3 955.9,885.2 957.4,885.9 958.9,887.2 960.4,888.7 961.9,889.9 963.4,891.1 964.9,892.3 966.4,893.4 967.9,894.3 969.4,895.2 970.9,896.3 972.4,897.4 973.9,898.2 975.4,898.9 976.9,900 978.4,901.1 979.9,901.9 981.4,902.7 982.9,903.6 984.4,904.6 985.9,905.2 987.4,905.6 988.9,906.3 990.4,907.4 991.9,908.6 993.4,909.4 994.9,910 996.4,910.6 997.9,911 999.4,911.3 1000.9,911.7 1002.4,912.2 1003.9,912.8 1005.4,913.4 1006.9,914 1008.4,914.5 1009.9,915.2 1011.4,916.2 1012.9,917.3 1014.4,918.3 1015.9,919.1 1017.4,919.5 1018.9,919.9 1020.4,920.1 1021.9,919.9 1023.4,919.7 1024.9,919.5 1026.4,919.5 1027.9,920 1029.4,920.8 1030.9,921.5 1032.4,921.8 1033.9,921.7 1035.4,921.2 1036.9,920.6 1038.4,919.9 1039.9,919.2 1041.4,918.6 1042.9,918.3 1044.4,917.8 1045.9,916.8 1047.4,915.3 1048.9,914.1 1050.4,913.5 1051.9,913.1 1053.4,912.6 1054.9,912 1056.4,910.8 1057.9,909.1 1059.4,907.6 1060.9,906.6 1062.4,906 1063.9,905.1 1065.4,903.8 1066.9,902 1068.4,900.2 1069.9,899.1 1071.4,898 1072.9,896.8 1074.4,895.7 1075.9,895.4 1077.4,894.9 1078.9,893.8 1080.4,892.2 1081.9,890.5 1083.4,889 1084.9,887.7 1086.4,886.3 1087.9,885 1089.4,884 1090.9,883.4 1092.4,883.4 1093.9,883.9 1095.4,884.8 1096.9,886.1 1098.4,887.7 1099.9,889.8 1101.4,892 1102.9,893.8 1104.4,895.1 1105.9,896.3 1107.4,897.8 1108.9,900 1110.4,902.3 1111.9,904.2 1113.4,905.7 1114.9,907.1 1116.4,908.7 1117.9,910.4 1119.4,911.9 1120.9,913.1 1122.4,913.8 1123.9,914.3 1125.4,914.9 1126.9,915.4 1128.4,915.6 1129.9,915.6 1131.4,915.7 1132.9,916.2 1134.4,917.3 1135.9,919.2 1137.4,921.6 1138.9,923.6 1140.4,924.8 1141.9,925.8 1143.4,927.1 1144.9,928.9 1146.4,931.2 1147.9,933.3 1149.4,934.8 1150.9,935.6 1152.4,935.8 1153.9,936.1 1155.4,937.2 1156.9,939.1 1158.4,941 1159.9,942.4 1161.4,943.3 1162.9,944.2 1164.4,945.1 1165.9,945.8 1167.4,946.2 1168.9,946.7 1170.4,947.3 1171.9,947.6 1173.4,947.3 1174.9,946.9 1176.4,946.5 1177.9,946.4 1179.4,946.6 1180.9,947.1 1182.4,948 1183.9,948.8 1185.4,949.4 1186.9,949.5 1188.4,949.4 1189.9,949.1 1191.4,948.7 1192.9,948.5 1194.4,948.5 1195.9,948.6 1197.4,948.7 1198.9,948.5 1200.4,948.3 1201.9,948.4 1203.4,948.7 1204.9,949 1206.4,949.1 1207.9,949 1209.4,948.8 1210.9,948.9 1212.4,949.1 1213.9,949.2 1215.4,949.3 1216.9,949.4 1218.4,949.7 1219.9,949.9 1221.4,950 1222.9,950.1 1224.4,950.2 1225.9,950.3 1227.4,950.5 1228.9,950.8 1230.4,951.1 1231.9,951.3 1233.4,951.4 1234.9,951.3 1236.4,951 1237.9,950.7 1239.4,950.4 1240.9,950.1 1242.4,950.4 1243.9,950.8 1245.4,951 1246.9,950.8 1248.4,950.5 1249.9,950.1 1251.4,949.9 1252.9,950.2 1254.4,950.8 1255.9,951.4 1257.4,951.5 1258.9,950.9 1260.4,950.5" fill="none" stroke="#000" stroke-width="3.3" stroke-linejoin="round"/>
<path d="M697.9,966.5 699.4,966.3 700.9,966.1 702.4,965.9 703.9,965.6 705.4,965.1 706.9,964.6 708.4,964.3 709.9,964.3 711.4,964.4 712.9,964.6 714.4,964.6 715.9,964.4 717.4,964.3 718.9,964.1 720.4,963.9 721.9,963.5 723.4,963.2 724.9,963.1 726.4,963.3 727.9,963.5 729.4,963.5 730.9,963.5 732.4,963.8 733.9,964.2 735.4,964.3 736.9,964.1 738.4,963.8 739.9,963.7 741.4,963.5 742.9,963.4 744.4,963.4 745.9,963.5 747.4,963.6 748.9,963.8 750.4,964.1 751.9,964.2 753.4,963.7 754.9,963.1 756.4,962.9 757.9,963.1 759.4,963.3 760.9,963.1 762.4,962.7 763.9,962.6 765.4,962.7 766.9,962.7 768.4,962.2 769.9,961.6 771.4,961.2 772.9,960.9 774.4,960.8 775.9,960.8 777.4,960.7 778.9,960.7 780.4,960.9 781.9,961.2 783.4,960.9 784.9,959.9 786.4,958.6 787.9,957.8 789.4,958 790.9,958.7 792.4,959.2 793.9,959.1 795.4,958.7 796.9,958.4 798.4,958.1 799.9,957.8 801.4,957.3 802.9,956.6 804.4,955.8 805.9,955.4 807.4,955.3 808.9,955 810.4,954.4 811.9,954 813.4,953.8 814.9,954 816.4,954.3 817.9,954.6 819.4,954.6 820.9,954.2 822.4,953.7 823.9,953.5 825.4,953.5 826.9,953.4 828.4,953.1 829.9,953.1 831.4,953.2 832.9,952.9 834.4,952.4 835.9,951.9 837.4,951.7 838.9,951.7 840.4,951.8 841.9,951.6 843.4,951.3 844.9,950.9 846.4,950.8 847.9,950.8 849.4,950.4 850.9,949.5 852.4,948.6 853.9,948 855.4,947.8 856.9,947.5 858.4,947 859.9,946.5 861.4,946.4 862.9,946.4 864.4,946.1 865.9,945.4 867.4,944.8 868.9,944.7 870.4,945.2 871.9,945.5 873.4,944.9 874.9,943.8 876.4,942.6 877.9,941.8 879.4,941.5 880.9,941.5 882.4,941.6 883.9,941.4 885.4,940.9 886.9,940.5 888.4,939.9 889.9,939.2 891.4,938.5 892.9,938.3 894.4,938.2 895.9,938 897.4,937.3 898.9,936.4 900.4,935.7 901.9,935.1 903.4,934.5 904.9,933.6 906.4,932.7 907.9,931.8 909.4,930.8 910.9,929.6 912.4,928.7 913.9,928.1 915.4,927.7 916.9,927.2 918.4,926.3 919.9,925.1 921.4,923.6 922.9,922.4 924.4,921.5 925.9,920.8 927.4,920 928.9,919.1 930.4,918 931.9,917.1 933.4,916.3 934.9,915.5 936.4,914.5 937.9,913.4 939.4,911.9 940.9,910.5 942.4,909.6 943.9,909.3 945.4,909.4 946.9,909.4 948.4,909 949.9,908.5 951.4,908.3 952.9,908.8 954.4,909.8 955.9,911.3 957.4,912.9 958.9,914.8 960.4,916.8 961.9,918.7 963.4,920.5 964.9,922.3 966.4,924.3 967.9,926.5 969.4,929 970.9,931.5 972.4,933.9 973.9,935.6 975.4,936.9 976.9,938.3 978.4,939.4 979.9,940.3 981.4,941 982.9,941.8 984.4,942.3 985.9,942.5 987.4,942.6 988.9,942.7 990.4,943 991.9,943.4 993.4,943.9 994.9,944.4 996.4,944.8 997.9,945.2 999.4,945.5 1000.9,945.7 1002.4,945.9 1003.9,946.2 1005.4,947 1006.9,947.8 1008.4,948 1009.9,948.1 1011.4,948.2 1012.9,947.9 1014.4,947.6 1015.9,947.5 1017.4,947.5 1018.9,947.3 1020.4,946.9 1021.9,946.7 1023.4,946.7 1024.9,946.8 1026.4,946.6 1027.9,946.1 1029.4,945.4 1030.9,944.6 1032.4,944 1033.9,943.5 1035.4,943.2 1036.9,942.8 1038.4,942 1039.9,940.9 1041.4,940 1042.9,939.5 1044.4,939.3 1045.9,939.2 1047.4,939 1048.9,938.1 1050.4,937.3 1051.9,936.1 1053.4,934.9 1054.9,933.7 1056.4,932.4 1057.9,931.3 1059.4,930.7 1060.9,930.1 1062.4,929.1 1063.9,927.7 1065.4,926.3 1066.9,924.9 1068.4,923.6 1069.9,922.2 1071.4,920.7 1072.9,919.2 1074.4,917.7 1075.9,916.3 1077.4,914.9 1078.9,913.4 1080.4,911.9 1081.9,910.2 1083.4,908 1084.9,905.9 1086.4,904.6 1087.9,903.5 1089.4,903.1 1090.9,903.5 1092.4,904.1 1093.9,905.2 1095.4,907.2 1096.9,909.9 1098.4,912.8 1099.9,915.7 1101.4,918.4 1102.9,920.8 1104.4,923.2 1105.9,925.7 1107.4,928.6 1108.9,932.2 1110.4,936.4 1111.9,940.6 1113.4,944.1 1114.9,947 1116.4,949.3 1117.9,951.5 1119.4,953.3 1120.9,955 1122.4,956.3 1123.9,957.5 1125.4,958.8 1126.9,960.2 1128.4,961.6 1129.9,963 1131.4,964.2 1132.9,965.4 1134.4,966.2 1135.9,966.8 1137.4,967.4 1138.9,968.1 1140.4,968.9 1141.9,969.6 1143.4,970.2 1144.9,970.5 1146.4,970.7 1147.9,971 1149.4,971.8 1150.9,972.5 1152.4,972.8 1153.9,973.1 1155.4,973.5 1156.9,973.9 1158.4,974.3 1159.9,974.5 1161.4,974.9 1162.9,975.5 1164.4,975.8 1165.9,976.1 1167.4,976.4 1168.9,976.6 1170.4,976.5 1171.9,976.4 1173.4,976.2 1174.9,975.9 1176.4,975.6 1177.9,975.6 1179.4,975.6 1180.9,975.4 1182.4,975.3 1183.9,975.5 1185.4,975.9 1186.9,976.3 1188.4,976.7 1189.9,976.8 1191.4,976.6 1192.9,976.2 1194.4,976.2 1195.9,976.4 1197.4,976.6 1198.9,976.5 1200.4,976.5 1201.9,976.8 1203.4,977.1 1204.9,977.3 1206.4,977.2 1207.9,976.7 1209.4,976.2 1210.9,976.1 1212.4,976.4 1213.9,976.8 1215.4,977 1216.9,977 1218.4,977.2 1219.9,977.5 1221.4,977.7 1222.9,977.7 1224.4,977.3 1225.9,976.7 1227.4,976.4 1228.9,976.6 1230.4,977.1 1231.9,977.4 1233.4,977.4 1234.9,977.5 1236.4,977.6 1237.9,977.3 1239.4,976.5 1240.9,975.6 1242.4,975.3 1243.9,975.3 1245.4,975.7 1246.9,976.1 1248.4,976.4 1249.9,976.5 1251.4,976.6 1252.9,976.9 1254.4,977 1255.9,977 1257.4,976.8 1258.9,976.6 1260.4,976.8" fill="none" stroke="#000" stroke-width="3.3" stroke-linejoin="round"/>
<path d="M697.9,995.1 699.4,995.1 700.9,994.8 702.4,994.3 703.9,993.7 705.4,992.9 706.9,992.3 708.4,992.2 709.9,992.6 711.4,992.8 712.9,993 714.4,993.1 715.9,993.1 717.4,992.7 718.9,992.3 720.4,992.2 721.9,992.5 723.4,992.8 724.9,992.6 726.4,991.8 727.9,991.2 729.4,991.2 730.9,991.6 732.4,991.8 733.9,991.8 735.4,991.6 736.9,991.2 738.4,990.6 739.9,990.2 741.4,990.2 742.9,990.4 744.4,990.5 745.9,990.4 747.4,990.5 748.9,990.5 750.4,990.3 751.9,989.8 753.4,989.2 754.9,988.6 756.4,988.3 757.9,988.3 759.4,988.6 760.9,988.7 762.4,988.6 763.9,988.6 765.4,988.8 766.9,988.9 768.4,988.7 769.9,988.1 771.4,987.4 772.9,987.1 774.4,987.3 775.9,987.7 777.4,987.9 778.9,988 780.4,987.7 781.9,987.3 783.4,986.8 784.9,986.6 786.4,986.7 787.9,986.8 789.4,986.7 790.9,986.2 792.4,985.5 793.9,984.7 795.4,984.1 796.9,983.7 798.4,983.6 799.9,983.8 801.4,984 802.9,983.7 804.4,983.4 805.9,983.3 807.4,983.4 808.9,983.5 810.4,983.3 811.9,982.9 813.4,982.6 814.9,982.3 816.4,981.8 817.9,981.2 819.4,980.8 820.9,980.9 822.4,981.3 823.9,981.3 825.4,981.1 826.9,980.9 828.4,980.8 829.9,980.7 831.4,980.4 832.9,980 834.4,979.3 835.9,978.5 837.4,977.5 838.9,977 840.4,976.7 841.9,976.5 843.4,976.6 844.9,977.2 846.4,977.3 847.9,977 849.4,976.5 850.9,976.1 852.4,975.9 853.9,975.7 855.4,975.3 856.9,974.7 858.4,974.3 859.9,974.2 861.4,974.3 862.9,974.3 864.4,974.2 865.9,973.8 867.4,973.1 868.9,972.3 870.4,971.9 871.9,971.8 873.4,971.9 874.9,971.9 876.4,971.6 877.9,971 879.4,970.4 880.9,970.1 882.4,969.9 883.9,969.3 885.4,968.3 886.9,967.4 888.4,966.9 889.9,966.7 891.4,966.5 892.9,966.1 894.4,965.5 895.9,965.1 897.4,964.6 898.9,963.7 900.4,962.6 901.9,961.5 903.4,960.8 904.9,960.4 906.4,960.1 907.9,959.4 909.4,958.3 910.9,957 912.4,956.1 913.9,955.4 915.4,955.4 916.9,955 918.4,954 919.9,953.1 921.4,952.3 922.9,951.5 924.4,950.6 925.9,949.8 927.4,949.2 928.9,948.5 930.4,947.7 931.9,946.6 933.4,945.3 934.9,944.1 936.4,943 937.9,942.1 939.4,941.1 940.9,940.5 942.4,940.2 943.9,940.1 945.4,939.9 946.9,939.7 948.4,939.4 949.9,939.4 951.4,939.5 952.9,939.8 954.4,940.3 955.9,940.8 957.4,941.7 958.9,943.2 960.4,945.3 961.9,947.8 963.4,950.5 964.9,953.2 966.4,955.8 967.9,958.2 969.4,960.2 970.9,962 972.4,963.7 973.9,965.4 975.4,966.9 976.9,968.1 978.4,969 979.9,969.6 981.4,970.2 982.9,971.1 984.4,972 985.9,972.8 987.4,974 988.9,975.2 990.4,975.8 991.9,976.3 993.4,976.5 994.9,976.2 996.4,975.8 997.9,975.5 999.4,975.4 1000.9,975.4 1002.4,975.3 1003.9,975.2 1005.4,975.3 1006.9,975.6 1008.4,975.6 1009.9,975.5 1011.4,975.5 1012.9,975.6 1014.4,975.1 1015.9,974.6 1017.4,974.6 1018.9,974.9 1020.4,974.9 1021.9,974.4 1023.4,973.7 1024.9,973.4 1026.4,973.2 1027.9,973.1 1029.4,972.9 1030.9,972.8 1032.4,972.7 1033.9,972.2 1035.4,971.6 1036.9,971 1038.4,970.4 1039.9,969.7 1041.4,969 1042.9,968.5 1044.4,968.1 1045.9,967.7 1047.4,966.8 1048.9,965.7 1050.4,964.4 1051.9,963.5 1053.4,963.1 1054.9,963 1056.4,962.4 1057.9,961.4 1059.4,960.2 1060.9,959.2 1062.4,958.5 1063.9,957.9 1065.4,957.1 1066.9,955.8 1068.4,954.3 1069.9,952.8 1071.4,951.3 1072.9,949.5 1074.4,948.1 1075.9,946.8 1077.4,945.7 1078.9,944.6 1080.4,942.9 1081.9,941 1083.4,939.1 1084.9,937.8 1086.4,937.5 1087.9,937.5 1089.4,937.3 1090.9,937 1092.4,936.5 1093.9,936.6 1095.4,938 1096.9,940.2 1098.4,942.6 1099.9,945.6 1101.4,949.5 1102.9,954 1104.4,958.2 1105.9,961.3 1107.4,963.4 1108.9,965.9 1110.4,969.1 1111.9,972.7 1113.4,976.6 1114.9,980.3 1116.4,983.6 1117.9,986.6 1119.4,989.2 1120.9,991.6 1122.4,993.2 1123.9,994.2 1125.4,994.7 1126.9,995.4 1128.4,996.5 1129.9,997.7 1131.4,998.7 1132.9,999.2 1134.4,999.5 1135.9,999.9 1137.4,1000.5 1138.9,1001 1140.4,1001 1141.9,1000.5 1143.4,1000 1144.9,999.9 1146.4,1000.2 1147.9,1000.6 1149.4,1000.8 1150.9,1001.3 1152.4,1001.8 1153.9,1002.1 1155.4,1002.2 1156.9,1002 1158.4,1001.9 1159.9,1001.8 1161.4,1001.9 1162.9,1001.9 1164.4,1001.8 1165.9,1001.7 1167.4,1001.7 1168.9,1001.9 1170.4,1002.2 1171.9,1002.5 1173.4,1002.7 1174.9,1002.6 1176.4,1002.6 1177.9,1002.8 1179.4,1002.7 1180.9,1002.5 1182.4,1002.5 1183.9,1002.5 1185.4,1002.4 1186.9,1002.5 1188.4,1002.7 1189.9,1003 1191.4,1003.2 1192.9,1003.3 1194.4,1002.8 1195.9,1002.1 1197.4,1002.2 1198.9,1002.2 1200.4,1003.1 1201.9,1004.1 1203.4,1004.6 1204.9,1004.7 1206.4,1004.9 1207.9,1004.9 1209.4,1004.8 1210.9,1004.5 1212.4,1004 1213.9,1003.4 1215.4,1003 1216.9,1003.1 1218.4,1003.5 1219.9,1003.9 1221.4,1004.1 1222.9,1004.3 1224.4,1004.5 1225.9,1004.5 1227.4,1004.4 1228.9,1004.2 1230.4,1004 1231.9,1003.8 1233.4,1003.6 1234.9,1003.7 1236.4,1004.2 1237.9,1004.8 1239.4,1005 1240.9,1004.7 1242.4,1004 1243.9,1003.5 1245.4,1003.5 1246.9,1004.2 1248.4,1005.4 1249.9,1006.1 1251.4,1006.2 1252.9,1005.9 1254.4,1005.4 1255.9,1004.8 1257.4,1004.5 1258.9,1004.7 1260.4,1005.4" fill="none" stroke="#000" stroke-width="3.3" stroke-linejoin="round"/>
<line x1="1129.6" y1="611.9" x2="1129.6" y2="1012.4" stroke="#2a22c4" stroke-width="3.2" stroke-dasharray="3.2 11" stroke-dashoffset="0"/>
<line x1="1054.2" y1="589.1" x2="1054.2" y2="1012.4" stroke="#26dc26" stroke-width="3" stroke-dasharray="13.6 6.4 2.5 6.8" stroke-dashoffset="0"/>
<line x1="1084.9" y1="615.2" x2="1084.9" y2="1012.4" stroke="#de1f26" stroke-width="3" stroke-dasharray="12 12.1" stroke-dashoffset="0"/>
</g>
<rect x="99.8" y="212" width="27" height="32.4" fill="#fff"/>
<text x="113.3" y="236.3" text-anchor="middle" font-size="31">I</text>
<rect x="93" y="307" width="38.5" height="34" fill="#fff"/>
<text x="112" y="332" text-anchor="middle" font-size="31">II</text>
<rect x="96.2" y="406.5" width="44.2" height="35.8" fill="#fff"/>
<text x="118.5" y="434.2" text-anchor="middle" font-size="31">III</text>
<rect x="725.1" y="246" width="28.3" height="33" fill="#fff"/>
<text x="739.2" y="270.5" text-anchor="middle" font-size="31">I</text>
<rect x="716" y="322" width="38.4" height="42" fill="#fff"/>
<text x="735" y="356.6" text-anchor="middle" font-size="31">II</text>
<rect x="716" y="418.9" width="44.2" height="35.1" fill="#fff"/>
<text x="738" y="447" text-anchor="middle" font-size="31">III</text>
<rect x="89.5" y="741.6" width="26" height="38.4" fill="#fff"/>
<text x="102.5" y="771" text-anchor="middle" font-size="31">I</text>
<rect x="90.6" y="840" width="36.2" height="28" fill="#fff"/>
<text x="108.5" y="868" text-anchor="middle" font-size="31">II</text>
<rect x="82.7" y="953.7" width="44.8" height="35.1" fill="#fff"/>
<text x="105" y="982" text-anchor="middle" font-size="31">III</text>
<rect x="723.5" y="777.5" width="27.2" height="36.2" fill="#fff"/>
<text x="737" y="807" text-anchor="middle" font-size="31">I</text>
<rect x="714.9" y="868" width="36.3" height="30" fill="#fff"/>
<text x="733" y="895" text-anchor="middle" font-size="31">II</text>
<rect x="713.8" y="958.6" width="45.3" height="36.2" fill="#fff"/>
<text x="736.4" y="986.8" text-anchor="middle" font-size="31">III</text>
<rect x="62.8" y="103" width="564.4" height="395.6" fill="none" stroke="#000" stroke-width="2.2"/>
<line x1="62.8" y1="498.6" x2="62.8" y2="509.6" stroke="#000" stroke-width="2.2"/>
<line x1="119.2" y1="498.6" x2="119.2" y2="504.6" stroke="#000" stroke-width="2.2"/>
<line x1="175.7" y1="498.6" x2="175.7" y2="509.6" stroke="#000" stroke-width="2.2"/>
<line x1="232.1" y1="498.6" x2="232.1" y2="504.6" stroke="#000" stroke-width="2.2"/>
<line x1="288.6" y1="498.6" x2="288.6" y2="509.6" stroke="#000" stroke-width="2.2"/>
<line x1="345" y1="498.6" x2="345" y2="504.6" stroke="#000" stroke-width="2.2"/>
<line x1="401.4" y1="498.6" x2="401.4" y2="509.6" stroke="#000" stroke-width="2.2"/>
<line x1="457.9" y1="498.6" x2="457.9" y2="504.6" stroke="#000" stroke-width="2.2"/>
<line x1="514.3" y1="498.6" x2="514.3" y2="509.6" stroke="#000" stroke-width="2.2"/>
<line x1="570.8" y1="498.6" x2="570.8" y2="504.6" stroke="#000" stroke-width="2.2"/>
<line x1="627.2" y1="498.6" x2="627.2" y2="509.6" stroke="#000" stroke-width="2.2"/>
<text x="63.6" y="540.4" text-anchor="middle" font-size="32.8">536</text>
<text x="176.5" y="540.4" text-anchor="middle" font-size="32.8">534</text>
<text x="289.4" y="540.4" text-anchor="middle" font-size="32.8">532</text>
<text x="402.2" y="540.4" text-anchor="middle" font-size="32.8">530</text>
<text x="515.1" y="540.4" text-anchor="middle" font-size="32.8">528</text>
<text x="628" y="540.4" text-anchor="middle" font-size="32.8">526</text>
<rect x="694.3" y="104.3" width="564.7" height="395.1" fill="none" stroke="#000" stroke-width="2.2"/>
<line x1="694.3" y1="499.4" x2="694.3" y2="510.4" stroke="#000" stroke-width="2.2"/>
<line x1="741.4" y1="499.4" x2="741.4" y2="505.4" stroke="#000" stroke-width="2.2"/>
<line x1="788.4" y1="499.4" x2="788.4" y2="510.4" stroke="#000" stroke-width="2.2"/>
<line x1="835.5" y1="499.4" x2="835.5" y2="505.4" stroke="#000" stroke-width="2.2"/>
<line x1="882.5" y1="499.4" x2="882.5" y2="510.4" stroke="#000" stroke-width="2.2"/>
<line x1="929.6" y1="499.4" x2="929.6" y2="505.4" stroke="#000" stroke-width="2.2"/>
<line x1="976.6" y1="499.4" x2="976.6" y2="510.4" stroke="#000" stroke-width="2.2"/>
<line x1="1023.7" y1="499.4" x2="1023.7" y2="505.4" stroke="#000" stroke-width="2.2"/>
<line x1="1070.8" y1="499.4" x2="1070.8" y2="510.4" stroke="#000" stroke-width="2.2"/>
<line x1="1117.8" y1="499.4" x2="1117.8" y2="505.4" stroke="#000" stroke-width="2.2"/>
<line x1="1164.9" y1="499.4" x2="1164.9" y2="510.4" stroke="#000" stroke-width="2.2"/>
<line x1="1211.9" y1="499.4" x2="1211.9" y2="505.4" stroke="#000" stroke-width="2.2"/>
<line x1="1259" y1="499.4" x2="1259" y2="510.4" stroke="#000" stroke-width="2.2"/>
<text x="695.1" y="541.2" text-anchor="middle" font-size="32.8">70</text>
<text x="789.2" y="541.2" text-anchor="middle" font-size="32.8">68</text>
<text x="883.3" y="541.2" text-anchor="middle" font-size="32.8">66</text>
<text x="977.4" y="541.2" text-anchor="middle" font-size="32.8">64</text>
<text x="1071.6" y="541.2" text-anchor="middle" font-size="32.8">62</text>
<text x="1165.7" y="541.2" text-anchor="middle" font-size="32.8">60</text>
<text x="1259.8" y="541.2" text-anchor="middle" font-size="32.8">58</text>
<rect x="65.7" y="616.8" width="564.3" height="394.9" fill="none" stroke="#000" stroke-width="2.2"/>
<line x1="65.7" y1="1011.7" x2="65.7" y2="1022.7" stroke="#000" stroke-width="2.2"/>
<line x1="122.1" y1="1011.7" x2="122.1" y2="1017.7" stroke="#000" stroke-width="2.2"/>
<line x1="178.6" y1="1011.7" x2="178.6" y2="1022.7" stroke="#000" stroke-width="2.2"/>
<line x1="235" y1="1011.7" x2="235" y2="1017.7" stroke="#000" stroke-width="2.2"/>
<line x1="291.4" y1="1011.7" x2="291.4" y2="1022.7" stroke="#000" stroke-width="2.2"/>
<line x1="347.8" y1="1011.7" x2="347.8" y2="1017.7" stroke="#000" stroke-width="2.2"/>
<line x1="404.3" y1="1011.7" x2="404.3" y2="1022.7" stroke="#000" stroke-width="2.2"/>
<line x1="460.7" y1="1011.7" x2="460.7" y2="1017.7" stroke="#000" stroke-width="2.2"/>
<line x1="517.1" y1="1011.7" x2="517.1" y2="1022.7" stroke="#000" stroke-width="2.2"/>
<line x1="573.6" y1="1011.7" x2="573.6" y2="1017.7" stroke="#000" stroke-width="2.2"/>
<line x1="630" y1="1011.7" x2="630" y2="1022.7" stroke="#000" stroke-width="2.2"/>
<text x="66.5" y="1053.5" text-anchor="middle" font-size="32.8">536</text>
<text x="179.4" y="1053.5" text-anchor="middle" font-size="32.8">534</text>
<text x="292.2" y="1053.5" text-anchor="middle" font-size="32.8">532</text>
<text x="405.1" y="1053.5" text-anchor="middle" font-size="32.8">530</text>
<text x="517.9" y="1053.5" text-anchor="middle" font-size="32.8">528</text>
<text x="630.8" y="1053.5" text-anchor="middle" font-size="32.8">526</text>
<rect x="696.9" y="617.4" width="564.7" height="395" fill="none" stroke="#000" stroke-width="2.2"/>
<line x1="696.9" y1="1012.4" x2="696.9" y2="1023.4" stroke="#000" stroke-width="2.2"/>
<line x1="744" y1="1012.4" x2="744" y2="1018.4" stroke="#000" stroke-width="2.2"/>
<line x1="791" y1="1012.4" x2="791" y2="1023.4" stroke="#000" stroke-width="2.2"/>
<line x1="838.1" y1="1012.4" x2="838.1" y2="1018.4" stroke="#000" stroke-width="2.2"/>
<line x1="885.1" y1="1012.4" x2="885.1" y2="1023.4" stroke="#000" stroke-width="2.2"/>
<line x1="932.2" y1="1012.4" x2="932.2" y2="1018.4" stroke="#000" stroke-width="2.2"/>
<line x1="979.2" y1="1012.4" x2="979.2" y2="1023.4" stroke="#000" stroke-width="2.2"/>
<line x1="1026.3" y1="1012.4" x2="1026.3" y2="1018.4" stroke="#000" stroke-width="2.2"/>
<line x1="1073.4" y1="1012.4" x2="1073.4" y2="1023.4" stroke="#000" stroke-width="2.2"/>
<line x1="1120.4" y1="1012.4" x2="1120.4" y2="1018.4" stroke="#000" stroke-width="2.2"/>
<line x1="1167.5" y1="1012.4" x2="1167.5" y2="1023.4" stroke="#000" stroke-width="2.2"/>
<line x1="1214.5" y1="1012.4" x2="1214.5" y2="1018.4" stroke="#000" stroke-width="2.2"/>
<line x1="1261.6" y1="1012.4" x2="1261.6" y2="1023.4" stroke="#000" stroke-width="2.2"/>
<text x="697.7" y="1054.2" text-anchor="middle" font-size="32.8">70</text>
<text x="791.8" y="1054.2" text-anchor="middle" font-size="32.8">68</text>
<text x="885.9" y="1054.2" text-anchor="middle" font-size="32.8">66</text>
<text x="980" y="1054.2" text-anchor="middle" font-size="32.8">64</text>
<text x="1074.2" y="1054.2" text-anchor="middle" font-size="32.8">62</text>
<text x="1168.3" y="1054.2" text-anchor="middle" font-size="32.8">60</text>
<text x="1262.4" y="1054.2" text-anchor="middle" font-size="32.8">58</text>
<text x="74" y="147" font-size="44">(a)</text>
<text x="705.3" y="150" font-size="43.5">(b)</text>
<text x="77" y="662.6" font-size="43.5">(c)</text>
<text x="708.7" y="662.5" font-size="42">(d)</text>
<line x1="443.5" y1="127.7" x2="504" y2="127.7" stroke="#de1f26" stroke-width="3" stroke-dasharray="12 11.5"/>
<text x="515" y="137" font-size="28" letter-spacing="0.3">lattice O</text>
<line x1="443.3" y1="162.8" x2="509.7" y2="162.8" stroke="#26dc26" stroke-width="3" stroke-dasharray="14 6.3 2.4 6.2"/>
<text x="515" y="172.2" font-size="28" letter-spacing="0.3">hydroxyl</text>
<line x1="443.2" y1="198" x2="504" y2="198" stroke="#2a22c4" stroke-width="3.2" stroke-dasharray="3.2 11.1"/>
<text x="515.5" y="205.8" font-size="28" letter-spacing="0.3">water</text>
<line x1="446.6" y1="644.8" x2="507.3" y2="644.8" stroke="#de1f26" stroke-width="3" stroke-dasharray="12 11.5"/>
<text x="518.2" y="654.6" font-size="28" letter-spacing="0.3">lattice O</text>
<line x1="446.6" y1="679.9" x2="512" y2="679.9" stroke="#26dc26" stroke-width="3" stroke-dasharray="14 6.3 2.4 6.2"/>
<text x="518.2" y="689.8" font-size="28" letter-spacing="0.3">hydroxyl</text>
<line x1="446.4" y1="714.6" x2="507" y2="714.6" stroke="#2a22c4" stroke-width="3.2" stroke-dasharray="3.2 11.1"/>
<text x="518.7" y="724.5" font-size="28" letter-spacing="0.3">water</text>
<line x1="768.4" y1="131.6" x2="829" y2="131.6" stroke="#2a22c4" stroke-width="3.2" stroke-dasharray="3.2 11"/>
<text x="841.5" y="140.9" font-size="28.5">Ir metal</text>
<line x1="768.4" y1="166.3" x2="829.4" y2="166.3" stroke="#de1f26" stroke-width="3" stroke-dasharray="12.5 11.7"/>
<text x="841.5" y="175.3" font-size="28.5">IrO<tspan font-size="16.5" dy="11">2</tspan></text>
<line x1="768.4" y1="208.9" x2="834" y2="208.9" stroke="#f08a30" stroke-width="3" stroke-dasharray="13.6 6.4 2.5 6.8"/>
<text x="841.5" y="218.3" font-size="28.5">IrO<tspan font-size="16.5" dy="9.5">x</tspan></text>
<line x1="769.3" y1="642.7" x2="830.5" y2="642.7" stroke="#2a22c4" stroke-width="3.2" stroke-dasharray="3.2 11"/>
<text x="843.5" y="651.7" font-size="28.5">Ir metal</text>
<line x1="770.4" y1="677.8" x2="831.6" y2="677.8" stroke="#de1f26" stroke-width="3" stroke-dasharray="12.5 11.7"/>
<text x="843.5" y="686.8" font-size="28.5">IrO<tspan font-size="16.5" dy="11">2</tspan></text>
<line x1="770.4" y1="720.8" x2="837.3" y2="720.8" stroke="#26dc26" stroke-width="3" stroke-dasharray="13.6 6.4 2.5 6.8"/>
<text x="843.5" y="731" font-size="28.5">IrO<tspan font-size="16.5" dy="9.5">x</tspan></text>
<text x="1233.5" y="752.5" text-anchor="end" font-size="23">RT</text>
<text x="1258" y="843" text-anchor="end" font-size="23">100 °C</text>
<text x="1258" y="999.4" text-anchor="end" font-size="23">600 °C</text>
<line x1="1218.5" y1="864.6" x2="1218.5" y2="955" stroke="#000" stroke-width="1.6"/>
<path d="M1214,951.8 L1223,951.8 L1218.5,972.2 Z" fill="#000"/>
<text x="332" y="36.4" text-anchor="middle" font-size="42.8" font-weight="bold">O 1s</text>
<text x="989.5" y="37.6" text-anchor="middle" font-size="42.3" font-weight="bold">Ir 4f</text>
<text x="62.2" y="79.3" font-size="35.6" font-weight="bold">HIROF:</text>
<text x="65.8" y="599.5" font-size="35.9" font-weight="bold">EBPVD:</text>
<text transform="translate(36.6,432) rotate(-90)" font-size="42.6">intensity / a.u.</text>
<text transform="translate(39.4,944.5) rotate(-90)" font-size="42.6">intensity / a.u.</text>
<text x="347" y="1104.5" text-anchor="middle" font-size="42.5">BE / eV</text>
<text x="995.3" y="1104.2" text-anchor="middle" font-size="42.5">BE / eV</text>
</g></svg>
</body></html>
